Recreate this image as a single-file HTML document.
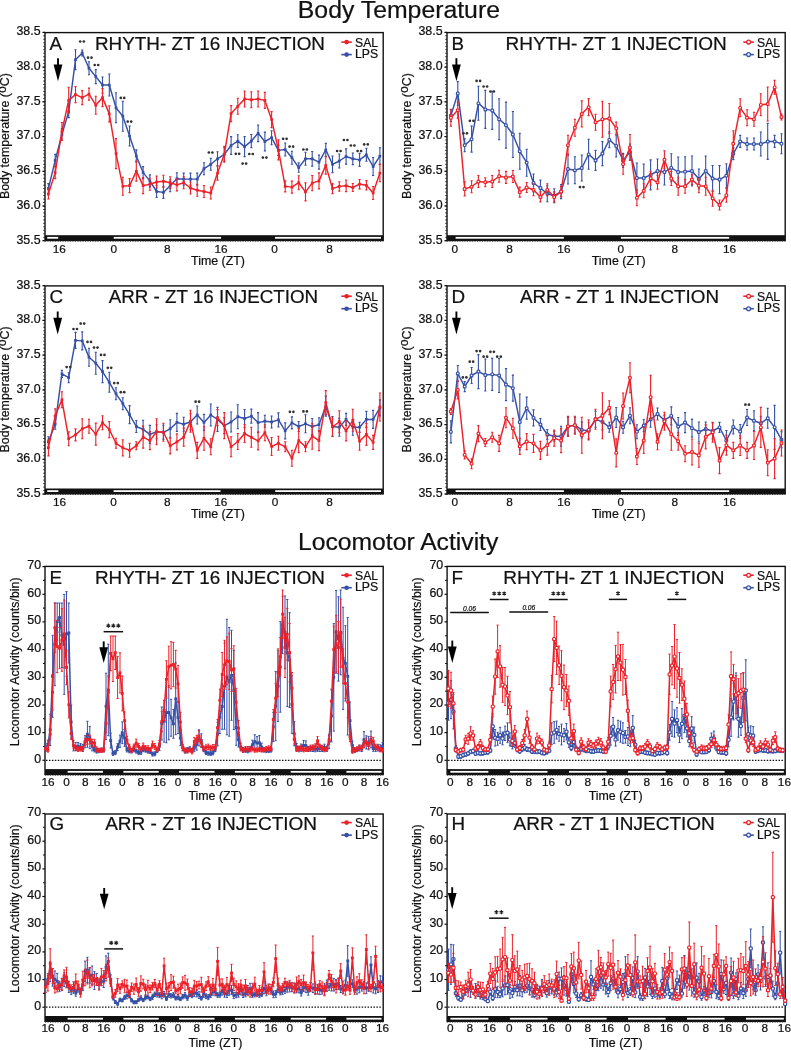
<!DOCTYPE html>
<html><head><meta charset="utf-8"><style>
html,body{margin:0;padding:0;background:#fff;}
svg{display:block;filter:blur(0.3px);}
text{font-family:"Liberation Sans", sans-serif;fill:#111;stroke:#111;stroke-width:0.22px;}
</style></head><body>
<svg width="791" height="1050" viewBox="0 0 791 1050">
<rect width="791" height="1050" fill="#fff"/>
<text x="297.8" y="17.8" font-size="24.8" text-anchor="start" >Body Temperature</text>
<text x="298.0" y="549.7" font-size="24.7" text-anchor="start" >Locomotor Activity</text>
<rect x="45" y="32.6" width="338.2" height="207.9" fill="none" stroke="#111" stroke-width="1.4"/>
<path d="M43.3,240.7H45M43.3,237.3H45M43.3,233.8H45M43.3,230.3H45M43.3,226.8H45M43.3,223.4H45M43.3,219.9H45M43.3,216.4H45M43.3,212.9H45M43.3,209.5H45M43.3,206.0H45M43.3,202.5H45M43.3,199.1H45M43.3,195.6H45M43.3,192.1H45M43.3,188.6H45M43.3,185.2H45M43.3,181.7H45M43.3,178.2H45M43.3,174.7H45M43.3,171.3H45M43.3,167.8H45M43.3,164.3H45M43.3,160.9H45M43.3,157.4H45M43.3,153.9H45M43.3,150.4H45M43.3,147.0H45M43.3,143.5H45M43.3,140.0H45M43.3,136.6H45M43.3,133.1H45M43.3,129.6H45M43.3,126.1H45M43.3,122.7H45M43.3,119.2H45M43.3,115.7H45M43.3,112.2H45M43.3,108.8H45M43.3,105.3H45M43.3,101.8H45M43.3,98.4H45M43.3,94.9H45M43.3,91.4H45M43.3,87.9H45M43.3,84.5H45M43.3,81.0H45M43.3,77.5H45M43.3,74.0H45M43.3,70.6H45M43.3,67.1H45M43.3,63.6H45M43.3,60.2H45M43.3,56.7H45M43.3,53.2H45M43.3,49.7H45M43.3,46.3H45M43.3,42.8H45M43.3,39.3H45M43.3,35.8H45M43.3,32.4H45" stroke="#222" stroke-width="1"/>
<line x1="42.4" y1="240.7" x2="45" y2="240.7" stroke="#111" stroke-width="1.2"/>
<text x="40.6" y="243.5" font-size="12.4" text-anchor="end" >35.5</text>
<line x1="42.4" y1="206.0" x2="45" y2="206.0" stroke="#111" stroke-width="1.2"/>
<text x="40.6" y="208.8" font-size="12.4" text-anchor="end" >36.0</text>
<line x1="42.4" y1="171.3" x2="45" y2="171.3" stroke="#111" stroke-width="1.2"/>
<text x="40.6" y="174.1" font-size="12.4" text-anchor="end" >36.5</text>
<line x1="42.4" y1="136.6" x2="45" y2="136.6" stroke="#111" stroke-width="1.2"/>
<text x="40.6" y="139.4" font-size="12.4" text-anchor="end" >37.0</text>
<line x1="42.4" y1="101.8" x2="45" y2="101.8" stroke="#111" stroke-width="1.2"/>
<text x="40.6" y="104.6" font-size="12.4" text-anchor="end" >37.5</text>
<line x1="42.4" y1="67.1" x2="45" y2="67.1" stroke="#111" stroke-width="1.2"/>
<text x="40.6" y="69.9" font-size="12.4" text-anchor="end" >38.0</text>
<line x1="42.4" y1="32.4" x2="45" y2="32.4" stroke="#111" stroke-width="1.2"/>
<text x="40.6" y="35.2" font-size="12.4" text-anchor="end" >38.5</text>
<text transform="translate(8.8,136.1) rotate(-90)" x="0" y="0" font-size="12.4" text-anchor="middle">Body temperature (<tspan dy="-2.7">o</tspan><tspan dy="2.7">C)</tspan></text>
<rect x="45" y="235.2" width="338.2" height="5.3" fill="#111"/>
<rect x="47.2" y="236.9" width="11.0" height="1.8" fill="#fff"/>
<rect x="113.7" y="236.9" width="107.4" height="1.8" fill="#fff"/>
<rect x="275.0" y="236.9" width="106.0" height="1.8" fill="#fff"/>
<line x1="45" y1="241.1" x2="383.2" y2="241.1" stroke="#333" stroke-width="1" stroke-dasharray="1 1.5"/>
<text x="59.3" y="252.7" font-size="11.8" text-anchor="middle" >16</text>
<text x="113.7" y="252.7" font-size="11.8" text-anchor="middle" >0</text>
<text x="167.4" y="252.7" font-size="11.8" text-anchor="middle" >8</text>
<text x="221.1" y="252.7" font-size="11.8" text-anchor="middle" >16</text>
<text x="274.5" y="252.7" font-size="11.8" text-anchor="middle" >0</text>
<text x="329.5" y="252.7" font-size="11.8" text-anchor="middle" >8</text>
<text x="218.0" y="264.8" font-size="12.4" text-anchor="middle" >Time (ZT)</text>
<text x="95.0" y="49.5" font-size="18.85" text-anchor="start" >RHYTH- ZT 16 INJECTION</text>
<text x="49.5" y="49.5" font-size="18.8" text-anchor="start" >A</text>
<line x1="341.3" y1="42.1" x2="351.8" y2="42.1" stroke="#ec2129" stroke-width="1.6"/>
<circle cx="346.6" cy="42.1" r="2.3" fill="#ec2129"/>
<text x="355.0" y="46.6" font-size="12.2" text-anchor="start" >SAL</text>
<line x1="341.3" y1="54.6" x2="351.8" y2="54.6" stroke="#3550a6" stroke-width="1.6"/>
<circle cx="346.6" cy="54.6" r="2.3" fill="#3550a6"/>
<text x="355.0" y="58.3" font-size="12.2" text-anchor="start" >LPS</text>
<line x1="58" y1="58.2" x2="58" y2="66.10000000000001" stroke="#000" stroke-width="1.9"/>
<path d="M53.6,64.4 L62.4,64.4 L58,81.2 Z" fill="#000"/>
<path d="M48.4,183.6V193.6M47.3,183.6h2.2M47.3,193.6h2.2M55.2,154.4V166.4M54.1,154.4h2.2M54.1,166.4h2.2M61.9,128.5V140.5M60.8,128.5h2.2M60.8,140.5h2.2M68.7,105.6V117.6M67.6,105.6h2.2M67.6,117.6h2.2M75.5,49.8V69.8M74.4,49.8h2.2M74.4,69.8h2.2M82.2,50.0V56.0M81.1,50.0h2.2M81.1,56.0h2.2M89.0,61.7V74.7M87.9,61.7h2.2M87.9,74.7h2.2M95.8,69.6V83.6M94.7,69.6h2.2M94.7,83.6h2.2M102.5,77.0V93.0M101.4,77.0h2.2M101.4,93.0h2.2M109.3,74.0V96.0M108.2,74.0h2.2M108.2,96.0h2.2M116.0,92.8V122.8M114.9,92.8h2.2M114.9,122.8h2.2M122.8,101.2V131.2M121.7,101.2h2.2M121.7,131.2h2.2M129.6,126.0V146.0M128.5,126.0h2.2M128.5,146.0h2.2M136.3,149.9V161.9M135.2,149.9h2.2M135.2,161.9h2.2M143.1,166.6V178.6M142.0,166.6h2.2M142.0,178.6h2.2M149.9,174.9V186.9M148.8,174.9h2.2M148.8,186.9h2.2M156.6,185.5V197.5M155.5,185.5h2.2M155.5,197.5h2.2M163.4,186.4V198.4M162.3,186.4h2.2M162.3,198.4h2.2M170.2,179.8V191.8M169.1,179.8h2.2M169.1,191.8h2.2M176.9,172.7V184.7M175.8,172.7h2.2M175.8,184.7h2.2M183.7,173.1V185.1M182.6,173.1h2.2M182.6,185.1h2.2M190.5,173.1V185.1M189.4,173.1h2.2M189.4,185.1h2.2M197.2,173.1V185.1M196.1,173.1h2.2M196.1,185.1h2.2M204.0,162.7V174.7M202.9,162.7h2.2M202.9,174.7h2.2M210.8,158.3V170.3M209.7,158.3h2.2M209.7,170.3h2.2M217.5,151.8V165.8M216.4,151.8h2.2M216.4,165.8h2.2M224.3,147.3V161.3M223.2,147.3h2.2M223.2,161.3h2.2M231.1,136.6V154.4M230.0,136.6h2.2M230.0,154.4h2.2M237.8,134.8V147.4M236.7,134.8h2.2M236.7,147.4h2.2M244.6,136.6V156.6M243.5,136.6h2.2M243.5,156.6h2.2M251.3,134.5V147.7M250.2,134.5h2.2M250.2,147.7h2.2M258.1,125.0V141.6M257.0,125.0h2.2M257.0,141.6h2.2M264.9,132.1V150.9M263.8,132.1h2.2M263.8,150.9h2.2M271.6,130.7V144.7M270.5,130.7h2.2M270.5,144.7h2.2M278.4,145.4V155.4M277.3,145.4h2.2M277.3,155.4h2.2M285.2,143.0V156.0M284.1,143.0h2.2M284.1,156.0h2.2M291.9,151.2V164.2M290.8,151.2h2.2M290.8,164.2h2.2M298.7,162.9V172.3M297.6,162.9h2.2M297.6,172.3h2.2M305.5,152.3V165.3M304.4,152.3h2.2M304.4,165.3h2.2M312.2,151.5V166.1M311.1,151.5h2.2M311.1,166.1h2.2M319.0,155.1V169.1M317.9,155.1h2.2M317.9,169.1h2.2M325.8,143.4V156.4M324.7,143.4h2.2M324.7,156.4h2.2M332.5,156.0V172.6M331.4,156.0h2.2M331.4,172.6h2.2M339.3,154.0V168.0M338.2,154.0h2.2M338.2,168.0h2.2M346.1,148.9V164.1M345.0,148.9h2.2M345.0,164.1h2.2M352.8,153.0V164.6M351.7,153.0h2.2M351.7,164.6h2.2M359.6,153.4V166.4M358.5,153.4h2.2M358.5,166.4h2.2M366.4,148.3V161.3M365.3,148.3h2.2M365.3,161.3h2.2M373.1,157.5V175.5M372.0,157.5h2.2M372.0,175.5h2.2M379.9,147.8V164.4M378.8,147.8h2.2M378.8,164.4h2.2" stroke="#3550a6" stroke-width="1.1" fill="none"/>
<path d="M48.4,188.6 L55.2,160.4 L61.9,134.5 L68.7,111.6 L75.5,59.8 L82.2,53.0 L89.0,68.2 L95.8,76.6 L102.5,85.0 L109.3,85.0 L116.0,107.8 L122.8,116.2 L129.6,136.0 L136.3,155.9 L143.1,172.6 L149.9,180.9 L156.6,191.5 L163.4,192.4 L170.2,185.8 L176.9,178.7 L183.7,179.1 L190.5,179.1 L197.2,179.1 L204.0,168.7 L210.8,164.3 L217.5,158.8 L224.3,154.3 L231.1,145.5 L237.8,141.1 L244.6,146.6 L251.3,141.1 L258.1,133.3 L264.9,141.5 L271.6,137.7 L278.4,150.4 L285.2,149.5 L291.9,157.7 L298.7,167.6 L305.5,158.8 L312.2,158.8 L319.0,162.1 L325.8,149.9 L332.5,164.3 L339.3,161.0 L346.1,156.5 L352.8,158.8 L359.6,159.9 L366.4,154.8 L373.1,166.5 L379.9,156.1" stroke="#3550a6" stroke-width="1.45" fill="none" stroke-linejoin="round"/>
<rect x="47.0" y="187.2" width="2.7" height="2.7" fill="#3550a6"/>
<rect x="53.8" y="159.1" width="2.7" height="2.7" fill="#3550a6"/>
<rect x="60.6" y="133.2" width="2.7" height="2.7" fill="#3550a6"/>
<rect x="67.3" y="110.2" width="2.7" height="2.7" fill="#3550a6"/>
<rect x="74.1" y="58.4" width="2.7" height="2.7" fill="#3550a6"/>
<rect x="80.9" y="51.6" width="2.7" height="2.7" fill="#3550a6"/>
<rect x="87.6" y="66.9" width="2.7" height="2.7" fill="#3550a6"/>
<rect x="94.4" y="75.2" width="2.7" height="2.7" fill="#3550a6"/>
<rect x="101.2" y="83.7" width="2.7" height="2.7" fill="#3550a6"/>
<rect x="107.9" y="83.7" width="2.7" height="2.7" fill="#3550a6"/>
<rect x="114.7" y="106.5" width="2.7" height="2.7" fill="#3550a6"/>
<rect x="121.5" y="114.9" width="2.7" height="2.7" fill="#3550a6"/>
<rect x="128.2" y="134.7" width="2.7" height="2.7" fill="#3550a6"/>
<rect x="135.0" y="154.6" width="2.7" height="2.7" fill="#3550a6"/>
<rect x="141.8" y="171.2" width="2.7" height="2.7" fill="#3550a6"/>
<rect x="148.5" y="179.6" width="2.7" height="2.7" fill="#3550a6"/>
<rect x="155.3" y="190.2" width="2.7" height="2.7" fill="#3550a6"/>
<rect x="162.1" y="191.1" width="2.7" height="2.7" fill="#3550a6"/>
<rect x="168.8" y="184.5" width="2.7" height="2.7" fill="#3550a6"/>
<rect x="175.6" y="177.3" width="2.7" height="2.7" fill="#3550a6"/>
<rect x="182.3" y="177.8" width="2.7" height="2.7" fill="#3550a6"/>
<rect x="189.1" y="177.8" width="2.7" height="2.7" fill="#3550a6"/>
<rect x="195.9" y="177.8" width="2.7" height="2.7" fill="#3550a6"/>
<rect x="202.6" y="167.3" width="2.7" height="2.7" fill="#3550a6"/>
<rect x="209.4" y="163.0" width="2.7" height="2.7" fill="#3550a6"/>
<rect x="216.2" y="157.5" width="2.7" height="2.7" fill="#3550a6"/>
<rect x="222.9" y="153.0" width="2.7" height="2.7" fill="#3550a6"/>
<rect x="229.7" y="144.2" width="2.7" height="2.7" fill="#3550a6"/>
<rect x="236.5" y="139.8" width="2.7" height="2.7" fill="#3550a6"/>
<rect x="243.2" y="145.2" width="2.7" height="2.7" fill="#3550a6"/>
<rect x="250.0" y="139.8" width="2.7" height="2.7" fill="#3550a6"/>
<rect x="256.8" y="132.0" width="2.7" height="2.7" fill="#3550a6"/>
<rect x="263.5" y="140.2" width="2.7" height="2.7" fill="#3550a6"/>
<rect x="270.3" y="136.3" width="2.7" height="2.7" fill="#3550a6"/>
<rect x="277.1" y="149.1" width="2.7" height="2.7" fill="#3550a6"/>
<rect x="283.8" y="148.2" width="2.7" height="2.7" fill="#3550a6"/>
<rect x="290.6" y="156.3" width="2.7" height="2.7" fill="#3550a6"/>
<rect x="297.4" y="166.2" width="2.7" height="2.7" fill="#3550a6"/>
<rect x="304.1" y="157.5" width="2.7" height="2.7" fill="#3550a6"/>
<rect x="310.9" y="157.5" width="2.7" height="2.7" fill="#3550a6"/>
<rect x="317.6" y="160.8" width="2.7" height="2.7" fill="#3550a6"/>
<rect x="324.4" y="148.6" width="2.7" height="2.7" fill="#3550a6"/>
<rect x="331.2" y="163.0" width="2.7" height="2.7" fill="#3550a6"/>
<rect x="337.9" y="159.7" width="2.7" height="2.7" fill="#3550a6"/>
<rect x="344.7" y="155.2" width="2.7" height="2.7" fill="#3550a6"/>
<rect x="351.5" y="157.5" width="2.7" height="2.7" fill="#3550a6"/>
<rect x="358.2" y="158.6" width="2.7" height="2.7" fill="#3550a6"/>
<rect x="365.0" y="153.5" width="2.7" height="2.7" fill="#3550a6"/>
<rect x="371.8" y="165.2" width="2.7" height="2.7" fill="#3550a6"/>
<rect x="378.5" y="154.8" width="2.7" height="2.7" fill="#3550a6"/>
<path d="M48.4,189.0V199.0M47.3,189.0h2.2M47.3,199.0h2.2M55.2,166.6V178.6M54.1,166.6h2.2M54.1,178.6h2.2M61.9,122.5V140.5M60.8,122.5h2.2M60.8,140.5h2.2M68.7,87.2V113.2M67.6,87.2h2.2M67.6,113.2h2.2M75.5,86.6V102.6M74.4,86.6h2.2M74.4,102.6h2.2M82.2,90.6V104.6M81.1,90.6h2.2M81.1,104.6h2.2M89.0,88.1V100.1M87.9,88.1h2.2M87.9,100.1h2.2M95.8,96.2V114.2M94.7,96.2h2.2M94.7,114.2h2.2M102.5,88.6V106.6M101.4,88.6h2.2M101.4,106.6h2.2M109.3,105.9V121.9M108.2,105.9h2.2M108.2,121.9h2.2M116.0,138.6V168.6M114.9,138.6h2.2M114.9,168.6h2.2M122.8,177.3V195.3M121.7,177.3h2.2M121.7,195.3h2.2M129.6,178.6V192.6M128.5,178.6h2.2M128.5,192.6h2.2M136.3,161.1V181.1M135.2,161.1h2.2M135.2,181.1h2.2M143.1,177.6V193.6M142.0,177.6h2.2M142.0,193.6h2.2M149.9,178.2V190.2M148.8,178.2h2.2M148.8,190.2h2.2M156.6,176.0V188.0M155.5,176.0h2.2M155.5,188.0h2.2M163.4,175.3V187.3M162.3,175.3h2.2M162.3,187.3h2.2M170.2,176.7V188.7M169.1,176.7h2.2M169.1,188.7h2.2M176.9,178.9V190.9M175.8,178.9h2.2M175.8,190.9h2.2M183.7,176.7V188.7M182.6,176.7h2.2M182.6,188.7h2.2M190.5,182.0V194.0M189.4,182.0h2.2M189.4,194.0h2.2M197.2,184.2V196.2M196.1,184.2h2.2M196.1,196.2h2.2M204.0,185.5V197.5M202.9,185.5h2.2M202.9,197.5h2.2M210.8,187.0V199.0M209.7,187.0h2.2M209.7,199.0h2.2M217.5,166.1V180.1M216.4,166.1h2.2M216.4,180.1h2.2M224.3,146.3V162.3M223.2,146.3h2.2M223.2,162.3h2.2M231.1,105.6V121.6M230.0,105.6h2.2M230.0,121.6h2.2M237.8,98.3V114.3M236.7,98.3h2.2M236.7,114.3h2.2M244.6,91.0V107.0M243.5,91.0h2.2M243.5,107.0h2.2M251.3,91.7V107.7M250.2,91.7h2.2M250.2,107.7h2.2M258.1,91.0V107.0M257.0,91.0h2.2M257.0,107.0h2.2M264.9,92.4V108.4M263.8,92.4h2.2M263.8,108.4h2.2M271.6,111.6V127.6M270.5,111.6h2.2M270.5,127.6h2.2M278.4,139.9V159.9M277.3,139.9h2.2M277.3,159.9h2.2M285.2,180.9V191.9M284.1,180.9h2.2M284.1,191.9h2.2M291.9,181.1V193.1M290.8,181.1h2.2M290.8,193.1h2.2M298.7,175.7V189.7M297.6,175.7h2.2M297.6,189.7h2.2M305.5,182.9V200.9M304.4,182.9h2.2M304.4,200.9h2.2M312.2,175.5V190.7M311.1,175.5h2.2M311.1,190.7h2.2M319.0,172.9V188.9M317.9,172.9h2.2M317.9,188.9h2.2M325.8,156.7V174.1M324.7,156.7h2.2M324.7,174.1h2.2M332.5,183.6V193.6M331.4,183.6h2.2M331.4,193.6h2.2M339.3,181.7V191.1M338.2,181.7h2.2M338.2,191.1h2.2M346.1,180.0V191.6M345.0,180.0h2.2M345.0,191.6h2.2M352.8,183.5V191.5M351.7,183.5h2.2M351.7,191.5h2.2M359.6,179.5V188.9M358.5,179.5h2.2M358.5,188.9h2.2M366.4,180.6V190.0M365.3,180.6h2.2M365.3,190.0h2.2M373.1,186.5V199.5M372.0,186.5h2.2M372.0,199.5h2.2M379.9,164.4V181.8M378.8,164.4h2.2M378.8,181.8h2.2" stroke="#ec2129" stroke-width="1.1" fill="none"/>
<path d="M48.4,194.0 L55.2,172.6 L61.9,131.5 L68.7,100.2 L75.5,94.6 L82.2,97.6 L89.0,94.1 L95.8,105.2 L102.5,97.6 L109.3,113.9 L116.0,153.6 L122.8,186.3 L129.6,185.6 L136.3,171.1 L143.1,185.6 L149.9,184.2 L156.6,182.0 L163.4,181.3 L170.2,182.7 L176.9,184.9 L183.7,182.7 L190.5,188.0 L197.2,190.2 L204.0,191.5 L210.8,193.0 L217.5,173.1 L224.3,154.3 L231.1,113.6 L237.8,106.3 L244.6,99.0 L251.3,99.7 L258.1,99.0 L264.9,100.4 L271.6,119.6 L278.4,149.9 L285.2,186.4 L291.9,187.1 L298.7,182.7 L305.5,191.9 L312.2,183.1 L319.0,180.9 L325.8,165.4 L332.5,188.6 L339.3,186.4 L346.1,185.8 L352.8,187.5 L359.6,184.2 L366.4,185.3 L373.1,193.0 L379.9,173.1" stroke="#ec2129" stroke-width="1.45" fill="none" stroke-linejoin="round"/>
<rect x="47.0" y="192.7" width="2.7" height="2.7" fill="#ec2129"/>
<rect x="53.8" y="171.2" width="2.7" height="2.7" fill="#ec2129"/>
<rect x="60.6" y="130.2" width="2.7" height="2.7" fill="#ec2129"/>
<rect x="67.3" y="98.9" width="2.7" height="2.7" fill="#ec2129"/>
<rect x="74.1" y="93.2" width="2.7" height="2.7" fill="#ec2129"/>
<rect x="80.9" y="96.2" width="2.7" height="2.7" fill="#ec2129"/>
<rect x="87.6" y="92.8" width="2.7" height="2.7" fill="#ec2129"/>
<rect x="94.4" y="103.9" width="2.7" height="2.7" fill="#ec2129"/>
<rect x="101.2" y="96.2" width="2.7" height="2.7" fill="#ec2129"/>
<rect x="107.9" y="112.6" width="2.7" height="2.7" fill="#ec2129"/>
<rect x="114.7" y="152.2" width="2.7" height="2.7" fill="#ec2129"/>
<rect x="121.5" y="185.0" width="2.7" height="2.7" fill="#ec2129"/>
<rect x="128.2" y="184.2" width="2.7" height="2.7" fill="#ec2129"/>
<rect x="135.0" y="169.8" width="2.7" height="2.7" fill="#ec2129"/>
<rect x="141.8" y="184.2" width="2.7" height="2.7" fill="#ec2129"/>
<rect x="148.5" y="182.8" width="2.7" height="2.7" fill="#ec2129"/>
<rect x="155.3" y="180.7" width="2.7" height="2.7" fill="#ec2129"/>
<rect x="162.1" y="180.0" width="2.7" height="2.7" fill="#ec2129"/>
<rect x="168.8" y="181.3" width="2.7" height="2.7" fill="#ec2129"/>
<rect x="175.6" y="183.6" width="2.7" height="2.7" fill="#ec2129"/>
<rect x="182.3" y="181.3" width="2.7" height="2.7" fill="#ec2129"/>
<rect x="189.1" y="186.7" width="2.7" height="2.7" fill="#ec2129"/>
<rect x="195.9" y="188.8" width="2.7" height="2.7" fill="#ec2129"/>
<rect x="202.6" y="190.2" width="2.7" height="2.7" fill="#ec2129"/>
<rect x="209.4" y="191.7" width="2.7" height="2.7" fill="#ec2129"/>
<rect x="216.2" y="171.8" width="2.7" height="2.7" fill="#ec2129"/>
<rect x="222.9" y="153.0" width="2.7" height="2.7" fill="#ec2129"/>
<rect x="229.7" y="112.2" width="2.7" height="2.7" fill="#ec2129"/>
<rect x="236.5" y="105.0" width="2.7" height="2.7" fill="#ec2129"/>
<rect x="243.2" y="97.7" width="2.7" height="2.7" fill="#ec2129"/>
<rect x="250.0" y="98.4" width="2.7" height="2.7" fill="#ec2129"/>
<rect x="256.8" y="97.7" width="2.7" height="2.7" fill="#ec2129"/>
<rect x="263.5" y="99.1" width="2.7" height="2.7" fill="#ec2129"/>
<rect x="270.3" y="118.2" width="2.7" height="2.7" fill="#ec2129"/>
<rect x="277.1" y="148.6" width="2.7" height="2.7" fill="#ec2129"/>
<rect x="283.8" y="185.1" width="2.7" height="2.7" fill="#ec2129"/>
<rect x="290.6" y="185.8" width="2.7" height="2.7" fill="#ec2129"/>
<rect x="297.4" y="181.3" width="2.7" height="2.7" fill="#ec2129"/>
<rect x="304.1" y="190.6" width="2.7" height="2.7" fill="#ec2129"/>
<rect x="310.9" y="181.8" width="2.7" height="2.7" fill="#ec2129"/>
<rect x="317.6" y="179.6" width="2.7" height="2.7" fill="#ec2129"/>
<rect x="324.4" y="164.1" width="2.7" height="2.7" fill="#ec2129"/>
<rect x="331.2" y="187.2" width="2.7" height="2.7" fill="#ec2129"/>
<rect x="337.9" y="185.1" width="2.7" height="2.7" fill="#ec2129"/>
<rect x="344.7" y="184.5" width="2.7" height="2.7" fill="#ec2129"/>
<rect x="351.5" y="186.2" width="2.7" height="2.7" fill="#ec2129"/>
<rect x="358.2" y="182.8" width="2.7" height="2.7" fill="#ec2129"/>
<rect x="365.0" y="184.0" width="2.7" height="2.7" fill="#ec2129"/>
<rect x="371.8" y="191.7" width="2.7" height="2.7" fill="#ec2129"/>
<rect x="378.5" y="171.8" width="2.7" height="2.7" fill="#ec2129"/>
<circle cx="80.2" cy="41.5" r="1.35" fill="#333"/>
<circle cx="83.8" cy="41.5" r="1.35" fill="#333"/>
<circle cx="88.0" cy="57.7" r="1.35" fill="#333"/>
<circle cx="91.5" cy="57.7" r="1.35" fill="#333"/>
<circle cx="94.7" cy="65.0" r="1.35" fill="#333"/>
<circle cx="98.2" cy="65.0" r="1.35" fill="#333"/>
<circle cx="120.8" cy="97.9" r="1.35" fill="#333"/>
<circle cx="124.2" cy="97.9" r="1.35" fill="#333"/>
<circle cx="127.7" cy="121.6" r="1.35" fill="#333"/>
<circle cx="131.2" cy="121.6" r="1.35" fill="#333"/>
<circle cx="208.9" cy="152.5" r="1.35" fill="#333"/>
<circle cx="212.4" cy="152.5" r="1.35" fill="#333"/>
<circle cx="235.8" cy="153.8" r="1.35" fill="#333"/>
<circle cx="239.2" cy="153.8" r="1.35" fill="#333"/>
<circle cx="242.6" cy="163.6" r="1.35" fill="#333"/>
<circle cx="246.1" cy="163.6" r="1.35" fill="#333"/>
<circle cx="249.3" cy="154.0" r="1.35" fill="#333"/>
<circle cx="252.8" cy="154.0" r="1.35" fill="#333"/>
<circle cx="262.9" cy="157.6" r="1.35" fill="#333"/>
<circle cx="266.4" cy="157.6" r="1.35" fill="#333"/>
<circle cx="283.1" cy="138.8" r="1.35" fill="#333"/>
<circle cx="286.6" cy="138.8" r="1.35" fill="#333"/>
<circle cx="289.6" cy="146.6" r="1.35" fill="#333"/>
<circle cx="293.1" cy="146.6" r="1.35" fill="#333"/>
<circle cx="303.4" cy="149.5" r="1.35" fill="#333"/>
<circle cx="306.9" cy="149.5" r="1.35" fill="#333"/>
<circle cx="337.1" cy="151.0" r="1.35" fill="#333"/>
<circle cx="340.6" cy="151.0" r="1.35" fill="#333"/>
<circle cx="343.9" cy="140.0" r="1.35" fill="#333"/>
<circle cx="347.4" cy="140.0" r="1.35" fill="#333"/>
<circle cx="350.9" cy="145.5" r="1.35" fill="#333"/>
<circle cx="354.4" cy="145.5" r="1.35" fill="#333"/>
<circle cx="357.6" cy="151.0" r="1.35" fill="#333"/>
<circle cx="361.1" cy="151.0" r="1.35" fill="#333"/>
<circle cx="364.2" cy="144.4" r="1.35" fill="#333"/>
<circle cx="367.8" cy="144.4" r="1.35" fill="#333"/>
<rect x="447.0" y="32.6" width="338.20000000000005" height="207.9" fill="none" stroke="#111" stroke-width="1.4"/>
<path d="M445.3,240.7H447.0M445.3,237.3H447.0M445.3,233.8H447.0M445.3,230.3H447.0M445.3,226.8H447.0M445.3,223.4H447.0M445.3,219.9H447.0M445.3,216.4H447.0M445.3,212.9H447.0M445.3,209.5H447.0M445.3,206.0H447.0M445.3,202.5H447.0M445.3,199.1H447.0M445.3,195.6H447.0M445.3,192.1H447.0M445.3,188.6H447.0M445.3,185.2H447.0M445.3,181.7H447.0M445.3,178.2H447.0M445.3,174.7H447.0M445.3,171.3H447.0M445.3,167.8H447.0M445.3,164.3H447.0M445.3,160.9H447.0M445.3,157.4H447.0M445.3,153.9H447.0M445.3,150.4H447.0M445.3,147.0H447.0M445.3,143.5H447.0M445.3,140.0H447.0M445.3,136.6H447.0M445.3,133.1H447.0M445.3,129.6H447.0M445.3,126.1H447.0M445.3,122.7H447.0M445.3,119.2H447.0M445.3,115.7H447.0M445.3,112.2H447.0M445.3,108.8H447.0M445.3,105.3H447.0M445.3,101.8H447.0M445.3,98.4H447.0M445.3,94.9H447.0M445.3,91.4H447.0M445.3,87.9H447.0M445.3,84.5H447.0M445.3,81.0H447.0M445.3,77.5H447.0M445.3,74.0H447.0M445.3,70.6H447.0M445.3,67.1H447.0M445.3,63.6H447.0M445.3,60.2H447.0M445.3,56.7H447.0M445.3,53.2H447.0M445.3,49.7H447.0M445.3,46.3H447.0M445.3,42.8H447.0M445.3,39.3H447.0M445.3,35.8H447.0M445.3,32.4H447.0" stroke="#222" stroke-width="1"/>
<line x1="444.4" y1="240.7" x2="447.0" y2="240.7" stroke="#111" stroke-width="1.2"/>
<text x="442.6" y="243.5" font-size="12.4" text-anchor="end" >35.5</text>
<line x1="444.4" y1="206.0" x2="447.0" y2="206.0" stroke="#111" stroke-width="1.2"/>
<text x="442.6" y="208.8" font-size="12.4" text-anchor="end" >36.0</text>
<line x1="444.4" y1="171.3" x2="447.0" y2="171.3" stroke="#111" stroke-width="1.2"/>
<text x="442.6" y="174.1" font-size="12.4" text-anchor="end" >36.5</text>
<line x1="444.4" y1="136.6" x2="447.0" y2="136.6" stroke="#111" stroke-width="1.2"/>
<text x="442.6" y="139.4" font-size="12.4" text-anchor="end" >37.0</text>
<line x1="444.4" y1="101.8" x2="447.0" y2="101.8" stroke="#111" stroke-width="1.2"/>
<text x="442.6" y="104.6" font-size="12.4" text-anchor="end" >37.5</text>
<line x1="444.4" y1="67.1" x2="447.0" y2="67.1" stroke="#111" stroke-width="1.2"/>
<text x="442.6" y="69.9" font-size="12.4" text-anchor="end" >38.0</text>
<line x1="444.4" y1="32.4" x2="447.0" y2="32.4" stroke="#111" stroke-width="1.2"/>
<text x="442.6" y="35.2" font-size="12.4" text-anchor="end" >38.5</text>
<text transform="translate(410.8,136.1) rotate(-90)" x="0" y="0" font-size="12.4" text-anchor="middle">Body temperature (<tspan dy="-2.7">o</tspan><tspan dy="2.7">C)</tspan></text>
<rect x="447.0" y="235.2" width="338.20000000000005" height="5.3" fill="#111"/>
<rect x="455.6" y="236.9" width="108.3" height="1.8" fill="#fff"/>
<rect x="620.9" y="236.9" width="108.3" height="1.8" fill="#fff"/>
<line x1="447.0" y1="241.1" x2="785.2" y2="241.1" stroke="#333" stroke-width="1" stroke-dasharray="1 1.5"/>
<text x="454.9" y="252.7" font-size="11.8" text-anchor="middle" >0</text>
<text x="509.6" y="252.7" font-size="11.8" text-anchor="middle" >8</text>
<text x="563.9" y="252.7" font-size="11.8" text-anchor="middle" >16</text>
<text x="620.7" y="252.7" font-size="11.8" text-anchor="middle" >0</text>
<text x="674.9" y="252.7" font-size="11.8" text-anchor="middle" >8</text>
<text x="729.6" y="252.7" font-size="11.8" text-anchor="middle" >16</text>
<text x="618.7" y="264.8" font-size="12.4" text-anchor="middle" >Time (ZT)</text>
<text x="505.5" y="49.5" font-size="19.0" text-anchor="start" >RHYTH- ZT 1 INJECTION</text>
<text x="451.5" y="49.5" font-size="18.8" text-anchor="start" >B</text>
<line x1="743.3000000000001" y1="42.1" x2="753.8000000000001" y2="42.1" stroke="#ec2129" stroke-width="1.6"/>
<circle cx="748.6" cy="42.1" r="1.9" fill="#fff" stroke="#ec2129" stroke-width="1.3"/>
<text x="757.0" y="46.6" font-size="12.2" text-anchor="start" >SAL</text>
<line x1="743.3000000000001" y1="54.6" x2="753.8000000000001" y2="54.6" stroke="#3550a6" stroke-width="1.6"/>
<circle cx="748.6" cy="54.6" r="1.9" fill="#fff" stroke="#3550a6" stroke-width="1.3"/>
<text x="757.0" y="58.3" font-size="12.2" text-anchor="start" >LPS</text>
<line x1="456.4" y1="58.2" x2="456.4" y2="66.10000000000001" stroke="#000" stroke-width="1.9"/>
<path d="M452.0,64.4 L460.8,64.4 L456.4,81.2 Z" fill="#000"/>
<path d="M450.9,109.5V121.5M449.8,109.5h2.2M449.8,121.5h2.2M457.8,81.6V105.2M456.7,81.6h2.2M456.7,105.2h2.2M464.7,138.7V151.7M463.6,138.7h2.2M463.6,151.7h2.2M471.6,126.1V152.1M470.5,126.1h2.2M470.5,152.1h2.2M478.4,86.3V120.3M477.3,86.3h2.2M477.3,120.3h2.2M485.3,90.4V128.4M484.2,90.4h2.2M484.2,128.4h2.2M492.2,91.4V129.4M491.1,91.4h2.2M491.1,129.4h2.2M499.1,98.8V139.8M498.0,98.8h2.2M498.0,139.8h2.2M506.0,102.1V148.1M504.9,102.1h2.2M504.9,148.1h2.2M512.9,111.5V157.5M511.8,111.5h2.2M511.8,157.5h2.2M519.8,133.3V169.3M518.7,133.3h2.2M518.7,169.3h2.2M526.7,149.2V176.2M525.6,149.2h2.2M525.6,176.2h2.2M533.5,174.0V192.0M532.4,174.0h2.2M532.4,192.0h2.2M540.4,180.0V196.0M539.3,180.0h2.2M539.3,196.0h2.2M547.3,185.7V201.7M546.2,185.7h2.2M546.2,201.7h2.2M554.2,188.7V202.7M553.1,188.7h2.2M553.1,202.7h2.2M561.1,184.6V198.6M560.0,184.6h2.2M560.0,198.6h2.2M568.0,154.0V184.0M566.9,154.0h2.2M566.9,184.0h2.2M574.9,156.8V183.8M573.8,156.8h2.2M573.8,183.8h2.2M581.8,155.0V181.0M580.7,155.0h2.2M580.7,181.0h2.2M588.6,139.3V169.3M587.5,139.3h2.2M587.5,169.3h2.2M595.5,150.4V170.4M594.4,150.4h2.2M594.4,170.4h2.2M602.4,141.6V165.6M601.3,141.6h2.2M601.3,165.6h2.2M609.3,131.8V147.8M608.2,131.8h2.2M608.2,147.8h2.2M616.2,135.0V157.0M615.1,135.0h2.2M615.1,157.0h2.2M623.1,153.4V167.4M622.0,153.4h2.2M622.0,167.4h2.2M630.0,144.0V160.0M628.9,144.0h2.2M628.9,160.0h2.2M636.9,163.0V193.0M635.8,163.0h2.2M635.8,193.0h2.2M643.8,164.0V192.0M642.6,164.0h2.2M642.6,192.0h2.2M650.6,159.9V189.9M649.5,159.9h2.2M649.5,189.9h2.2M657.5,159.0V183.0M656.4,159.0h2.2M656.4,183.0h2.2M664.4,159.0V185.0M663.3,159.0h2.2M663.3,185.0h2.2M671.3,153.8V181.8M670.2,153.8h2.2M670.2,181.8h2.2M678.2,157.0V187.0M677.1,157.0h2.2M677.1,187.0h2.2M685.1,156.7V186.7M684.0,156.7h2.2M684.0,186.7h2.2M692.0,156.0V186.0M690.9,156.0h2.2M690.9,186.0h2.2M698.9,169.0V189.0M697.8,169.0h2.2M697.8,189.0h2.2M705.7,156.0V186.0M704.6,156.0h2.2M704.6,186.0h2.2M712.6,165.5V191.5M711.5,165.5h2.2M711.5,191.5h2.2M719.5,165.6V193.6M718.4,165.6h2.2M718.4,193.6h2.2M726.4,163.7V187.7M725.3,163.7h2.2M725.3,187.7h2.2M733.3,147.6V159.6M732.2,147.6h2.2M732.2,159.6h2.2M740.2,135.4V147.4M739.1,135.4h2.2M739.1,147.4h2.2M747.1,138.0V150.0M746.0,138.0h2.2M746.0,150.0h2.2M754.0,138.0V150.0M752.9,138.0h2.2M752.9,150.0h2.2M760.8,132.0V156.0M759.7,132.0h2.2M759.7,156.0h2.2M767.7,123.4V159.4M766.6,123.4h2.2M766.6,159.4h2.2M774.6,135.4V147.4M773.5,135.4h2.2M773.5,147.4h2.2M781.5,133.7V153.7M780.4,133.7h2.2M780.4,153.7h2.2" stroke="#3550a6" stroke-width="1.1" fill="none"/>
<path d="M450.9,115.5 L457.8,93.4 L464.7,145.2 L471.6,139.1 L478.4,103.3 L485.3,109.4 L492.2,110.4 L499.1,119.3 L506.0,125.1 L512.9,134.5 L519.8,151.3 L526.7,162.7 L533.5,183.0 L540.4,188.0 L547.3,193.7 L554.2,195.7 L561.1,191.6 L568.0,169.0 L574.9,170.3 L581.8,168.0 L588.6,154.3 L595.5,160.4 L602.4,153.6 L609.3,139.8 L616.2,146.0 L623.1,160.4 L630.0,152.0 L636.9,178.0 L643.8,178.0 L650.6,174.9 L657.5,171.0 L664.4,172.0 L671.3,167.8 L678.2,172.0 L685.1,171.7 L692.0,171.0 L698.9,179.0 L705.7,171.0 L712.6,178.5 L719.5,179.6 L726.4,175.7 L733.3,153.6 L740.2,141.4 L747.1,144.0 L754.0,144.0 L760.8,144.0 L767.7,141.4 L774.6,141.4 L781.5,143.7" stroke="#3550a6" stroke-width="1.45" fill="none" stroke-linejoin="round"/>
<rect x="449.5" y="114.2" width="2.7" height="2.7" rx="0.9" fill="#fff" stroke="#3550a6" stroke-width="1.2"/>
<rect x="456.4" y="92.1" width="2.7" height="2.7" rx="0.9" fill="#fff" stroke="#3550a6" stroke-width="1.2"/>
<rect x="463.3" y="143.8" width="2.7" height="2.7" rx="0.9" fill="#fff" stroke="#3550a6" stroke-width="1.2"/>
<rect x="470.2" y="137.8" width="2.7" height="2.7" rx="0.9" fill="#fff" stroke="#3550a6" stroke-width="1.2"/>
<rect x="477.1" y="102.0" width="2.7" height="2.7" rx="0.9" fill="#fff" stroke="#3550a6" stroke-width="1.2"/>
<rect x="484.0" y="108.1" width="2.7" height="2.7" rx="0.9" fill="#fff" stroke="#3550a6" stroke-width="1.2"/>
<rect x="490.9" y="109.1" width="2.7" height="2.7" rx="0.9" fill="#fff" stroke="#3550a6" stroke-width="1.2"/>
<rect x="497.8" y="118.0" width="2.7" height="2.7" rx="0.9" fill="#fff" stroke="#3550a6" stroke-width="1.2"/>
<rect x="504.6" y="123.8" width="2.7" height="2.7" rx="0.9" fill="#fff" stroke="#3550a6" stroke-width="1.2"/>
<rect x="511.5" y="133.2" width="2.7" height="2.7" rx="0.9" fill="#fff" stroke="#3550a6" stroke-width="1.2"/>
<rect x="518.4" y="150.0" width="2.7" height="2.7" rx="0.9" fill="#fff" stroke="#3550a6" stroke-width="1.2"/>
<rect x="525.3" y="161.3" width="2.7" height="2.7" rx="0.9" fill="#fff" stroke="#3550a6" stroke-width="1.2"/>
<rect x="532.2" y="181.7" width="2.7" height="2.7" rx="0.9" fill="#fff" stroke="#3550a6" stroke-width="1.2"/>
<rect x="539.1" y="186.7" width="2.7" height="2.7" rx="0.9" fill="#fff" stroke="#3550a6" stroke-width="1.2"/>
<rect x="546.0" y="192.3" width="2.7" height="2.7" rx="0.9" fill="#fff" stroke="#3550a6" stroke-width="1.2"/>
<rect x="552.9" y="194.3" width="2.7" height="2.7" rx="0.9" fill="#fff" stroke="#3550a6" stroke-width="1.2"/>
<rect x="559.8" y="190.2" width="2.7" height="2.7" rx="0.9" fill="#fff" stroke="#3550a6" stroke-width="1.2"/>
<rect x="566.6" y="167.7" width="2.7" height="2.7" rx="0.9" fill="#fff" stroke="#3550a6" stroke-width="1.2"/>
<rect x="573.5" y="169.0" width="2.7" height="2.7" rx="0.9" fill="#fff" stroke="#3550a6" stroke-width="1.2"/>
<rect x="580.4" y="166.7" width="2.7" height="2.7" rx="0.9" fill="#fff" stroke="#3550a6" stroke-width="1.2"/>
<rect x="587.3" y="153.0" width="2.7" height="2.7" rx="0.9" fill="#fff" stroke="#3550a6" stroke-width="1.2"/>
<rect x="594.2" y="159.1" width="2.7" height="2.7" rx="0.9" fill="#fff" stroke="#3550a6" stroke-width="1.2"/>
<rect x="601.1" y="152.2" width="2.7" height="2.7" rx="0.9" fill="#fff" stroke="#3550a6" stroke-width="1.2"/>
<rect x="608.0" y="138.5" width="2.7" height="2.7" rx="0.9" fill="#fff" stroke="#3550a6" stroke-width="1.2"/>
<rect x="614.9" y="144.7" width="2.7" height="2.7" rx="0.9" fill="#fff" stroke="#3550a6" stroke-width="1.2"/>
<rect x="621.7" y="159.1" width="2.7" height="2.7" rx="0.9" fill="#fff" stroke="#3550a6" stroke-width="1.2"/>
<rect x="628.6" y="150.7" width="2.7" height="2.7" rx="0.9" fill="#fff" stroke="#3550a6" stroke-width="1.2"/>
<rect x="635.5" y="176.7" width="2.7" height="2.7" rx="0.9" fill="#fff" stroke="#3550a6" stroke-width="1.2"/>
<rect x="642.4" y="176.7" width="2.7" height="2.7" rx="0.9" fill="#fff" stroke="#3550a6" stroke-width="1.2"/>
<rect x="649.3" y="173.6" width="2.7" height="2.7" rx="0.9" fill="#fff" stroke="#3550a6" stroke-width="1.2"/>
<rect x="656.2" y="169.7" width="2.7" height="2.7" rx="0.9" fill="#fff" stroke="#3550a6" stroke-width="1.2"/>
<rect x="663.1" y="170.7" width="2.7" height="2.7" rx="0.9" fill="#fff" stroke="#3550a6" stroke-width="1.2"/>
<rect x="669.9" y="166.5" width="2.7" height="2.7" rx="0.9" fill="#fff" stroke="#3550a6" stroke-width="1.2"/>
<rect x="676.8" y="170.7" width="2.7" height="2.7" rx="0.9" fill="#fff" stroke="#3550a6" stroke-width="1.2"/>
<rect x="683.7" y="170.3" width="2.7" height="2.7" rx="0.9" fill="#fff" stroke="#3550a6" stroke-width="1.2"/>
<rect x="690.6" y="169.7" width="2.7" height="2.7" rx="0.9" fill="#fff" stroke="#3550a6" stroke-width="1.2"/>
<rect x="697.5" y="177.7" width="2.7" height="2.7" rx="0.9" fill="#fff" stroke="#3550a6" stroke-width="1.2"/>
<rect x="704.4" y="169.7" width="2.7" height="2.7" rx="0.9" fill="#fff" stroke="#3550a6" stroke-width="1.2"/>
<rect x="711.3" y="177.2" width="2.7" height="2.7" rx="0.9" fill="#fff" stroke="#3550a6" stroke-width="1.2"/>
<rect x="718.2" y="178.2" width="2.7" height="2.7" rx="0.9" fill="#fff" stroke="#3550a6" stroke-width="1.2"/>
<rect x="725.0" y="174.3" width="2.7" height="2.7" rx="0.9" fill="#fff" stroke="#3550a6" stroke-width="1.2"/>
<rect x="731.9" y="152.2" width="2.7" height="2.7" rx="0.9" fill="#fff" stroke="#3550a6" stroke-width="1.2"/>
<rect x="738.8" y="140.1" width="2.7" height="2.7" rx="0.9" fill="#fff" stroke="#3550a6" stroke-width="1.2"/>
<rect x="745.7" y="142.7" width="2.7" height="2.7" rx="0.9" fill="#fff" stroke="#3550a6" stroke-width="1.2"/>
<rect x="752.6" y="142.7" width="2.7" height="2.7" rx="0.9" fill="#fff" stroke="#3550a6" stroke-width="1.2"/>
<rect x="759.5" y="142.7" width="2.7" height="2.7" rx="0.9" fill="#fff" stroke="#3550a6" stroke-width="1.2"/>
<rect x="766.4" y="140.1" width="2.7" height="2.7" rx="0.9" fill="#fff" stroke="#3550a6" stroke-width="1.2"/>
<rect x="773.3" y="140.1" width="2.7" height="2.7" rx="0.9" fill="#fff" stroke="#3550a6" stroke-width="1.2"/>
<rect x="780.1" y="142.3" width="2.7" height="2.7" rx="0.9" fill="#fff" stroke="#3550a6" stroke-width="1.2"/>
<path d="M450.9,109.3V126.1M449.8,109.3h2.2M449.8,126.1h2.2M457.8,102.1V118.1M456.7,102.1h2.2M456.7,118.1h2.2M464.7,181.9V195.9M463.6,181.9h2.2M463.6,195.9h2.2M471.6,180.8V192.8M470.5,180.8h2.2M470.5,192.8h2.2M478.4,175.5V187.5M477.3,175.5h2.2M477.3,187.5h2.2M485.3,177.7V186.7M484.2,177.7h2.2M484.2,186.7h2.2M492.2,175.5V187.5M491.1,175.5h2.2M491.1,187.5h2.2M499.1,170.2V182.2M498.0,170.2h2.2M498.0,182.2h2.2M506.0,171.4V183.4M504.9,171.4h2.2M504.9,183.4h2.2M512.9,170.5V182.5M511.8,170.5h2.2M511.8,182.5h2.2M519.8,187.1V197.1M518.7,187.1h2.2M518.7,197.1h2.2M526.7,182.5V192.5M525.6,182.5h2.2M525.6,192.5h2.2M533.5,183.8V195.8M532.4,183.8h2.2M532.4,195.8h2.2M540.4,191.9V201.9M539.3,191.9h2.2M539.3,201.9h2.2M547.3,183.8V195.8M546.2,183.8h2.2M546.2,195.8h2.2M554.2,191.9V201.9M553.1,191.9h2.2M553.1,201.9h2.2M561.1,186.6V196.6M560.0,186.6h2.2M560.0,196.6h2.2M568.0,135.2V155.2M566.9,135.2h2.2M566.9,155.2h2.2M574.9,119.2V136.2M573.8,119.2h2.2M573.8,136.2h2.2M581.8,100.9V126.9M580.7,100.9h2.2M580.7,126.9h2.2M588.6,98.6V115.6M587.5,98.6h2.2M587.5,115.6h2.2M595.5,114.3V130.3M594.4,114.3h2.2M594.4,130.3h2.2M602.4,101.3V137.3M601.3,101.3h2.2M601.3,137.3h2.2M609.3,103.5V133.5M608.2,103.5h2.2M608.2,133.5h2.2M616.2,122.1V134.1M615.1,122.1h2.2M615.1,134.1h2.2M623.1,154.2V174.2M622.0,154.2h2.2M622.0,174.2h2.2M630.0,134.5V160.5M628.9,134.5h2.2M628.9,160.5h2.2M636.9,189.8V205.8M635.8,189.8h2.2M635.8,205.8h2.2M643.8,183.8V197.8M642.6,183.8h2.2M642.6,197.8h2.2M650.6,171.3V185.3M649.5,171.3h2.2M649.5,185.3h2.2M657.5,175.3V189.3M656.4,175.3h2.2M656.4,189.3h2.2M664.4,150.7V168.7M663.3,150.7h2.2M663.3,168.7h2.2M671.3,171.5V185.5M670.2,171.5h2.2M670.2,185.5h2.2M678.2,177.3V195.3M677.1,177.3h2.2M677.1,195.3h2.2M685.1,179.3V193.3M684.0,179.3h2.2M684.0,193.3h2.2M692.0,174.6V184.6M690.9,174.6h2.2M690.9,184.6h2.2M698.9,178.7V192.7M697.8,178.7h2.2M697.8,192.7h2.2M705.7,177.3V195.3M704.6,177.3h2.2M704.6,195.3h2.2M712.6,190.3V206.3M711.5,190.3h2.2M711.5,206.3h2.2M719.5,200.0V210.0M718.4,200.0h2.2M718.4,210.0h2.2M726.4,188.3V202.3M725.3,188.3h2.2M725.3,202.3h2.2M733.3,130.7V156.7M732.2,130.7h2.2M732.2,156.7h2.2M740.2,98.8V116.8M739.1,98.8h2.2M739.1,116.8h2.2M747.1,109.7V125.7M746.0,109.7h2.2M746.0,125.7h2.2M754.0,112.3V126.3M752.9,112.3h2.2M752.9,126.3h2.2M760.8,93.8V115.8M759.7,93.8h2.2M759.7,115.8h2.2M767.7,87.0V121.0M766.6,87.0h2.2M766.6,121.0h2.2M774.6,80.3V94.3M773.5,80.3h2.2M773.5,94.3h2.2M781.5,114.0V120.0M780.4,114.0h2.2M780.4,120.0h2.2" stroke="#ec2129" stroke-width="1.1" fill="none"/>
<path d="M450.9,117.7 L457.8,110.1 L464.7,188.9 L471.6,186.8 L478.4,181.5 L485.3,182.2 L492.2,181.5 L499.1,176.2 L506.0,177.4 L512.9,176.5 L519.8,192.1 L526.7,187.5 L533.5,189.8 L540.4,196.9 L547.3,189.8 L554.2,196.9 L561.1,191.6 L568.0,145.2 L574.9,127.7 L581.8,113.9 L588.6,107.1 L595.5,122.3 L602.4,119.3 L609.3,118.5 L616.2,128.1 L623.1,164.2 L630.0,147.5 L636.9,197.8 L643.8,190.8 L650.6,178.3 L657.5,182.3 L664.4,159.7 L671.3,178.5 L678.2,186.3 L685.1,186.3 L692.0,179.6 L698.9,185.7 L705.7,186.3 L712.6,198.3 L719.5,205.0 L726.4,195.3 L733.3,143.7 L740.2,107.8 L747.1,117.7 L754.0,119.3 L760.8,104.8 L767.7,104.0 L774.6,87.3 L781.5,117.0" stroke="#ec2129" stroke-width="1.45" fill="none" stroke-linejoin="round"/>
<rect x="449.5" y="116.4" width="2.7" height="2.7" rx="0.9" fill="#fff" stroke="#ec2129" stroke-width="1.2"/>
<rect x="456.4" y="108.8" width="2.7" height="2.7" rx="0.9" fill="#fff" stroke="#ec2129" stroke-width="1.2"/>
<rect x="463.3" y="187.6" width="2.7" height="2.7" rx="0.9" fill="#fff" stroke="#ec2129" stroke-width="1.2"/>
<rect x="470.2" y="185.5" width="2.7" height="2.7" rx="0.9" fill="#fff" stroke="#ec2129" stroke-width="1.2"/>
<rect x="477.1" y="180.2" width="2.7" height="2.7" rx="0.9" fill="#fff" stroke="#ec2129" stroke-width="1.2"/>
<rect x="484.0" y="180.8" width="2.7" height="2.7" rx="0.9" fill="#fff" stroke="#ec2129" stroke-width="1.2"/>
<rect x="490.9" y="180.2" width="2.7" height="2.7" rx="0.9" fill="#fff" stroke="#ec2129" stroke-width="1.2"/>
<rect x="497.8" y="174.8" width="2.7" height="2.7" rx="0.9" fill="#fff" stroke="#ec2129" stroke-width="1.2"/>
<rect x="504.6" y="176.1" width="2.7" height="2.7" rx="0.9" fill="#fff" stroke="#ec2129" stroke-width="1.2"/>
<rect x="511.5" y="175.2" width="2.7" height="2.7" rx="0.9" fill="#fff" stroke="#ec2129" stroke-width="1.2"/>
<rect x="518.4" y="190.8" width="2.7" height="2.7" rx="0.9" fill="#fff" stroke="#ec2129" stroke-width="1.2"/>
<rect x="525.3" y="186.2" width="2.7" height="2.7" rx="0.9" fill="#fff" stroke="#ec2129" stroke-width="1.2"/>
<rect x="532.2" y="188.5" width="2.7" height="2.7" rx="0.9" fill="#fff" stroke="#ec2129" stroke-width="1.2"/>
<rect x="539.1" y="195.6" width="2.7" height="2.7" rx="0.9" fill="#fff" stroke="#ec2129" stroke-width="1.2"/>
<rect x="546.0" y="188.5" width="2.7" height="2.7" rx="0.9" fill="#fff" stroke="#ec2129" stroke-width="1.2"/>
<rect x="552.9" y="195.6" width="2.7" height="2.7" rx="0.9" fill="#fff" stroke="#ec2129" stroke-width="1.2"/>
<rect x="559.8" y="190.2" width="2.7" height="2.7" rx="0.9" fill="#fff" stroke="#ec2129" stroke-width="1.2"/>
<rect x="566.6" y="143.8" width="2.7" height="2.7" rx="0.9" fill="#fff" stroke="#ec2129" stroke-width="1.2"/>
<rect x="573.5" y="126.4" width="2.7" height="2.7" rx="0.9" fill="#fff" stroke="#ec2129" stroke-width="1.2"/>
<rect x="580.4" y="112.6" width="2.7" height="2.7" rx="0.9" fill="#fff" stroke="#ec2129" stroke-width="1.2"/>
<rect x="587.3" y="105.8" width="2.7" height="2.7" rx="0.9" fill="#fff" stroke="#ec2129" stroke-width="1.2"/>
<rect x="594.2" y="121.0" width="2.7" height="2.7" rx="0.9" fill="#fff" stroke="#ec2129" stroke-width="1.2"/>
<rect x="601.1" y="118.0" width="2.7" height="2.7" rx="0.9" fill="#fff" stroke="#ec2129" stroke-width="1.2"/>
<rect x="608.0" y="117.2" width="2.7" height="2.7" rx="0.9" fill="#fff" stroke="#ec2129" stroke-width="1.2"/>
<rect x="614.9" y="126.8" width="2.7" height="2.7" rx="0.9" fill="#fff" stroke="#ec2129" stroke-width="1.2"/>
<rect x="621.7" y="162.8" width="2.7" height="2.7" rx="0.9" fill="#fff" stroke="#ec2129" stroke-width="1.2"/>
<rect x="628.6" y="146.2" width="2.7" height="2.7" rx="0.9" fill="#fff" stroke="#ec2129" stroke-width="1.2"/>
<rect x="635.5" y="196.5" width="2.7" height="2.7" rx="0.9" fill="#fff" stroke="#ec2129" stroke-width="1.2"/>
<rect x="642.4" y="189.5" width="2.7" height="2.7" rx="0.9" fill="#fff" stroke="#ec2129" stroke-width="1.2"/>
<rect x="649.3" y="177.0" width="2.7" height="2.7" rx="0.9" fill="#fff" stroke="#ec2129" stroke-width="1.2"/>
<rect x="656.2" y="181.0" width="2.7" height="2.7" rx="0.9" fill="#fff" stroke="#ec2129" stroke-width="1.2"/>
<rect x="663.1" y="158.3" width="2.7" height="2.7" rx="0.9" fill="#fff" stroke="#ec2129" stroke-width="1.2"/>
<rect x="669.9" y="177.2" width="2.7" height="2.7" rx="0.9" fill="#fff" stroke="#ec2129" stroke-width="1.2"/>
<rect x="676.8" y="185.0" width="2.7" height="2.7" rx="0.9" fill="#fff" stroke="#ec2129" stroke-width="1.2"/>
<rect x="683.7" y="185.0" width="2.7" height="2.7" rx="0.9" fill="#fff" stroke="#ec2129" stroke-width="1.2"/>
<rect x="690.6" y="178.2" width="2.7" height="2.7" rx="0.9" fill="#fff" stroke="#ec2129" stroke-width="1.2"/>
<rect x="697.5" y="184.3" width="2.7" height="2.7" rx="0.9" fill="#fff" stroke="#ec2129" stroke-width="1.2"/>
<rect x="704.4" y="185.0" width="2.7" height="2.7" rx="0.9" fill="#fff" stroke="#ec2129" stroke-width="1.2"/>
<rect x="711.3" y="197.0" width="2.7" height="2.7" rx="0.9" fill="#fff" stroke="#ec2129" stroke-width="1.2"/>
<rect x="718.2" y="203.7" width="2.7" height="2.7" rx="0.9" fill="#fff" stroke="#ec2129" stroke-width="1.2"/>
<rect x="725.0" y="194.0" width="2.7" height="2.7" rx="0.9" fill="#fff" stroke="#ec2129" stroke-width="1.2"/>
<rect x="731.9" y="142.3" width="2.7" height="2.7" rx="0.9" fill="#fff" stroke="#ec2129" stroke-width="1.2"/>
<rect x="738.8" y="106.5" width="2.7" height="2.7" rx="0.9" fill="#fff" stroke="#ec2129" stroke-width="1.2"/>
<rect x="745.7" y="116.4" width="2.7" height="2.7" rx="0.9" fill="#fff" stroke="#ec2129" stroke-width="1.2"/>
<rect x="752.6" y="118.0" width="2.7" height="2.7" rx="0.9" fill="#fff" stroke="#ec2129" stroke-width="1.2"/>
<rect x="759.5" y="103.5" width="2.7" height="2.7" rx="0.9" fill="#fff" stroke="#ec2129" stroke-width="1.2"/>
<rect x="766.4" y="102.7" width="2.7" height="2.7" rx="0.9" fill="#fff" stroke="#ec2129" stroke-width="1.2"/>
<rect x="773.3" y="86.0" width="2.7" height="2.7" rx="0.9" fill="#fff" stroke="#ec2129" stroke-width="1.2"/>
<rect x="780.1" y="115.7" width="2.7" height="2.7" rx="0.9" fill="#fff" stroke="#ec2129" stroke-width="1.2"/>
<circle cx="476.6" cy="80.9" r="1.35" fill="#333"/>
<circle cx="480.1" cy="80.9" r="1.35" fill="#333"/>
<circle cx="483.6" cy="86.5" r="1.35" fill="#333"/>
<circle cx="487.1" cy="86.5" r="1.35" fill="#333"/>
<circle cx="490.4" cy="91.5" r="1.35" fill="#333"/>
<circle cx="493.9" cy="91.5" r="1.35" fill="#333"/>
<circle cx="469.9" cy="120.8" r="1.35" fill="#333"/>
<circle cx="473.4" cy="120.8" r="1.35" fill="#333"/>
<circle cx="463.4" cy="133.3" r="1.35" fill="#333"/>
<circle cx="466.9" cy="133.3" r="1.35" fill="#333"/>
<circle cx="580.0" cy="187.1" r="1.35" fill="#333"/>
<circle cx="583.5" cy="187.1" r="1.35" fill="#333"/>
<rect x="45" y="285.9" width="338.2" height="207.90000000000003" fill="none" stroke="#111" stroke-width="1.4"/>
<path d="M43.3,494.0H45M43.3,490.6H45M43.3,487.1H45M43.3,483.6H45M43.3,480.1H45M43.3,476.7H45M43.3,473.2H45M43.3,469.7H45M43.3,466.2H45M43.3,462.8H45M43.3,459.3H45M43.3,455.8H45M43.3,452.4H45M43.3,448.9H45M43.3,445.4H45M43.3,441.9H45M43.3,438.5H45M43.3,435.0H45M43.3,431.5H45M43.3,428.0H45M43.3,424.6H45M43.3,421.1H45M43.3,417.6H45M43.3,414.2H45M43.3,410.7H45M43.3,407.2H45M43.3,403.7H45M43.3,400.3H45M43.3,396.8H45M43.3,393.3H45M43.3,389.9H45M43.3,386.4H45M43.3,382.9H45M43.3,379.4H45M43.3,376.0H45M43.3,372.5H45M43.3,369.0H45M43.3,365.5H45M43.3,362.1H45M43.3,358.6H45M43.3,355.1H45M43.3,351.7H45M43.3,348.2H45M43.3,344.7H45M43.3,341.2H45M43.3,337.8H45M43.3,334.3H45M43.3,330.8H45M43.3,327.3H45M43.3,323.9H45M43.3,320.4H45M43.3,316.9H45M43.3,313.5H45M43.3,310.0H45M43.3,306.5H45M43.3,303.0H45M43.3,299.6H45M43.3,296.1H45M43.3,292.6H45M43.3,289.1H45M43.3,285.7H45" stroke="#222" stroke-width="1"/>
<line x1="42.4" y1="494.0" x2="45" y2="494.0" stroke="#111" stroke-width="1.2"/>
<text x="40.6" y="496.8" font-size="12.4" text-anchor="end" >35.5</text>
<line x1="42.4" y1="459.3" x2="45" y2="459.3" stroke="#111" stroke-width="1.2"/>
<text x="40.6" y="462.1" font-size="12.4" text-anchor="end" >36.0</text>
<line x1="42.4" y1="424.6" x2="45" y2="424.6" stroke="#111" stroke-width="1.2"/>
<text x="40.6" y="427.4" font-size="12.4" text-anchor="end" >36.5</text>
<line x1="42.4" y1="389.9" x2="45" y2="389.9" stroke="#111" stroke-width="1.2"/>
<text x="40.6" y="392.7" font-size="12.4" text-anchor="end" >37.0</text>
<line x1="42.4" y1="355.1" x2="45" y2="355.1" stroke="#111" stroke-width="1.2"/>
<text x="40.6" y="357.9" font-size="12.4" text-anchor="end" >37.5</text>
<line x1="42.4" y1="320.4" x2="45" y2="320.4" stroke="#111" stroke-width="1.2"/>
<text x="40.6" y="323.2" font-size="12.4" text-anchor="end" >38.0</text>
<line x1="42.4" y1="285.7" x2="45" y2="285.7" stroke="#111" stroke-width="1.2"/>
<text x="40.6" y="288.5" font-size="12.4" text-anchor="end" >38.5</text>
<text transform="translate(8.8,389.4) rotate(-90)" x="0" y="0" font-size="12.4" text-anchor="middle">Body temperature (<tspan dy="-2.7">o</tspan><tspan dy="2.7">C)</tspan></text>
<rect x="45" y="488.5" width="338.2" height="5.3" fill="#111"/>
<rect x="47.2" y="490.2" width="11.2" height="1.8" fill="#fff"/>
<rect x="113.6" y="490.2" width="106.9" height="1.8" fill="#fff"/>
<rect x="275.2" y="490.2" width="105.8" height="1.8" fill="#fff"/>
<line x1="45" y1="494.4" x2="383.2" y2="494.4" stroke="#333" stroke-width="1" stroke-dasharray="1 1.5"/>
<text x="59.5" y="506.0" font-size="11.8" text-anchor="middle" >16</text>
<text x="113.6" y="506.0" font-size="11.8" text-anchor="middle" >0</text>
<text x="167.3" y="506.0" font-size="11.8" text-anchor="middle" >8</text>
<text x="220.7" y="506.0" font-size="11.8" text-anchor="middle" >16</text>
<text x="275.1" y="506.0" font-size="11.8" text-anchor="middle" >0</text>
<text x="329.5" y="506.0" font-size="11.8" text-anchor="middle" >8</text>
<text x="218.0" y="518.1" font-size="12.4" text-anchor="middle" >Time (ZT)</text>
<text x="108.7" y="302.8" font-size="18.8" text-anchor="start" >ARR - ZT 16 INJECTION</text>
<text x="49.5" y="302.8" font-size="18.8" text-anchor="start" >C</text>
<line x1="341.3" y1="296.2" x2="351.8" y2="296.2" stroke="#ec2129" stroke-width="1.6"/>
<circle cx="346.6" cy="296.2" r="2.3" fill="#ec2129"/>
<text x="355.0" y="300.7" font-size="12.2" text-anchor="start" >SAL</text>
<line x1="341.3" y1="308.7" x2="351.8" y2="308.7" stroke="#3550a6" stroke-width="1.6"/>
<circle cx="346.6" cy="308.7" r="2.3" fill="#3550a6"/>
<text x="355.0" y="312.4" font-size="12.2" text-anchor="start" >LPS</text>
<line x1="57.7" y1="311.5" x2="57.7" y2="319.4" stroke="#000" stroke-width="1.9"/>
<path d="M53.3,317.7 L62.1,317.7 L57.7,334.5 Z" fill="#000"/>
<path d="M48.4,436.8V446.8M47.3,436.8h2.2M47.3,446.8h2.2M55.2,419.2V429.2M54.1,419.2h2.2M54.1,429.2h2.2M61.9,370.4V377.4M60.8,370.4h2.2M60.8,377.4h2.2M68.7,372.7V382.7M67.6,372.7h2.2M67.6,382.7h2.2M75.5,332.4V348.4M74.4,332.4h2.2M74.4,348.4h2.2M82.2,331.9V349.9M81.1,331.9h2.2M81.1,349.9h2.2M89.0,348.2V366.2M87.9,348.2h2.2M87.9,366.2h2.2M95.8,352.3V374.3M94.7,352.3h2.2M94.7,374.3h2.2M102.5,360.6V382.6M101.4,360.6h2.2M101.4,382.6h2.2M109.3,372.3V392.3M108.2,372.3h2.2M108.2,392.3h2.2M116.0,387.8V399.8M114.9,387.8h2.2M114.9,399.8h2.2M122.8,397.7V409.7M121.7,397.7h2.2M121.7,409.7h2.2M129.6,405.6V423.6M128.5,405.6h2.2M128.5,423.6h2.2M136.3,420.5V432.5M135.2,420.5h2.2M135.2,432.5h2.2M143.1,420.3V438.3M142.0,420.3h2.2M142.0,438.3h2.2M149.9,425.4V443.4M148.8,425.4h2.2M148.8,443.4h2.2M156.6,424.8V438.8M155.5,424.8h2.2M155.5,438.8h2.2M163.4,425.3V439.3M162.3,425.3h2.2M162.3,439.3h2.2M170.2,419.8V437.8M169.1,419.8h2.2M169.1,437.8h2.2M176.9,413.4V431.4M175.8,413.4h2.2M175.8,431.4h2.2M183.7,417.2V431.2M182.6,417.2h2.2M182.6,431.2h2.2M190.5,413.7V429.7M189.4,413.7h2.2M189.4,429.7h2.2M197.2,406.0V424.0M196.1,406.0h2.2M196.1,424.0h2.2M204.0,414.4V430.4M202.9,414.4h2.2M202.9,430.4h2.2M210.8,404.0V426.0M209.7,404.0h2.2M209.7,426.0h2.2M217.5,407.4V431.4M216.4,407.4h2.2M216.4,431.4h2.2M224.3,417.6V433.6M223.2,417.6h2.2M223.2,433.6h2.2M231.1,412.0V432.0M230.0,412.0h2.2M230.0,432.0h2.2M237.8,404.7V428.7M236.7,404.7h2.2M236.7,428.7h2.2M244.6,409.5V427.5M243.5,409.5h2.2M243.5,427.5h2.2M251.3,409.1V423.1M250.2,409.1h2.2M250.2,423.1h2.2M258.1,412.6V432.6M257.0,412.6h2.2M257.0,432.6h2.2M264.9,415.2V427.2M263.8,415.2h2.2M263.8,427.2h2.2M271.6,416.0V428.0M270.5,416.0h2.2M270.5,428.0h2.2M278.4,412.9V426.9M277.3,412.9h2.2M277.3,426.9h2.2M285.2,422.9V438.9M284.1,422.9h2.2M284.1,438.9h2.2M291.9,416.9V428.9M290.8,416.9h2.2M290.8,428.9h2.2M298.7,421.5V431.5M297.6,421.5h2.2M297.6,431.5h2.2M305.5,414.8V432.8M304.4,414.8h2.2M304.4,432.8h2.2M312.2,418.5V434.5M311.1,418.5h2.2M311.1,434.5h2.2M319.0,417.7V431.7M317.9,417.7h2.2M317.9,431.7h2.2M325.8,396.1V416.1M324.7,396.1h2.2M324.7,416.1h2.2M332.5,416.5V436.5M331.4,416.5h2.2M331.4,436.5h2.2M339.3,418.3V436.3M338.2,418.3h2.2M338.2,436.3h2.2M346.1,413.4V425.4M345.0,413.4h2.2M345.0,425.4h2.2M352.8,419.3V435.3M351.7,419.3h2.2M351.7,435.3h2.2M359.6,422.3V432.3M358.5,422.3h2.2M358.5,432.3h2.2M366.4,411.4V427.4M365.3,411.4h2.2M365.3,427.4h2.2M373.1,410.4V428.4M372.0,410.4h2.2M372.0,428.4h2.2M379.9,399.9V415.9M378.8,399.9h2.2M378.8,415.9h2.2" stroke="#3550a6" stroke-width="1.1" fill="none"/>
<path d="M48.4,441.8 L55.2,424.2 L61.9,373.9 L68.7,377.7 L75.5,340.4 L82.2,340.9 L89.0,357.2 L95.8,363.3 L102.5,371.6 L109.3,382.3 L116.0,393.8 L122.8,403.7 L129.6,414.6 L136.3,426.5 L143.1,429.3 L149.9,434.4 L156.6,431.8 L163.4,432.3 L170.2,428.8 L176.9,422.4 L183.7,424.2 L190.5,421.7 L197.2,415.0 L204.0,422.4 L210.8,415.0 L217.5,419.4 L224.3,425.6 L231.1,422.0 L237.8,416.7 L244.6,418.5 L251.3,416.1 L258.1,422.6 L264.9,421.2 L271.6,422.0 L278.4,419.9 L285.2,430.9 L291.9,422.9 L298.7,426.5 L305.5,423.8 L312.2,426.5 L319.0,424.7 L325.8,406.1 L332.5,426.5 L339.3,427.3 L346.1,419.4 L352.8,427.3 L359.6,427.3 L366.4,419.4 L373.1,419.4 L379.9,407.9" stroke="#3550a6" stroke-width="1.45" fill="none" stroke-linejoin="round"/>
<rect x="47.0" y="440.4" width="2.7" height="2.7" fill="#3550a6"/>
<rect x="53.8" y="422.8" width="2.7" height="2.7" fill="#3550a6"/>
<rect x="60.6" y="372.5" width="2.7" height="2.7" fill="#3550a6"/>
<rect x="67.3" y="376.3" width="2.7" height="2.7" fill="#3550a6"/>
<rect x="74.1" y="339.0" width="2.7" height="2.7" fill="#3550a6"/>
<rect x="80.9" y="339.5" width="2.7" height="2.7" fill="#3550a6"/>
<rect x="87.6" y="355.8" width="2.7" height="2.7" fill="#3550a6"/>
<rect x="94.4" y="361.9" width="2.7" height="2.7" fill="#3550a6"/>
<rect x="101.2" y="370.2" width="2.7" height="2.7" fill="#3550a6"/>
<rect x="107.9" y="380.9" width="2.7" height="2.7" fill="#3550a6"/>
<rect x="114.7" y="392.4" width="2.7" height="2.7" fill="#3550a6"/>
<rect x="121.5" y="402.3" width="2.7" height="2.7" fill="#3550a6"/>
<rect x="128.2" y="413.2" width="2.7" height="2.7" fill="#3550a6"/>
<rect x="135.0" y="425.1" width="2.7" height="2.7" fill="#3550a6"/>
<rect x="141.8" y="427.9" width="2.7" height="2.7" fill="#3550a6"/>
<rect x="148.5" y="433.0" width="2.7" height="2.7" fill="#3550a6"/>
<rect x="155.3" y="430.4" width="2.7" height="2.7" fill="#3550a6"/>
<rect x="162.1" y="430.9" width="2.7" height="2.7" fill="#3550a6"/>
<rect x="168.8" y="427.4" width="2.7" height="2.7" fill="#3550a6"/>
<rect x="175.6" y="421.0" width="2.7" height="2.7" fill="#3550a6"/>
<rect x="182.3" y="422.8" width="2.7" height="2.7" fill="#3550a6"/>
<rect x="189.1" y="420.3" width="2.7" height="2.7" fill="#3550a6"/>
<rect x="195.9" y="413.6" width="2.7" height="2.7" fill="#3550a6"/>
<rect x="202.6" y="421.0" width="2.7" height="2.7" fill="#3550a6"/>
<rect x="209.4" y="413.6" width="2.7" height="2.7" fill="#3550a6"/>
<rect x="216.2" y="418.0" width="2.7" height="2.7" fill="#3550a6"/>
<rect x="222.9" y="424.2" width="2.7" height="2.7" fill="#3550a6"/>
<rect x="229.7" y="420.6" width="2.7" height="2.7" fill="#3550a6"/>
<rect x="236.5" y="415.3" width="2.7" height="2.7" fill="#3550a6"/>
<rect x="243.2" y="417.1" width="2.7" height="2.7" fill="#3550a6"/>
<rect x="250.0" y="414.8" width="2.7" height="2.7" fill="#3550a6"/>
<rect x="256.8" y="421.2" width="2.7" height="2.7" fill="#3550a6"/>
<rect x="263.5" y="419.8" width="2.7" height="2.7" fill="#3550a6"/>
<rect x="270.3" y="420.6" width="2.7" height="2.7" fill="#3550a6"/>
<rect x="277.1" y="418.5" width="2.7" height="2.7" fill="#3550a6"/>
<rect x="283.8" y="429.5" width="2.7" height="2.7" fill="#3550a6"/>
<rect x="290.6" y="421.5" width="2.7" height="2.7" fill="#3550a6"/>
<rect x="297.4" y="425.1" width="2.7" height="2.7" fill="#3550a6"/>
<rect x="304.1" y="422.4" width="2.7" height="2.7" fill="#3550a6"/>
<rect x="310.9" y="425.1" width="2.7" height="2.7" fill="#3550a6"/>
<rect x="317.6" y="423.3" width="2.7" height="2.7" fill="#3550a6"/>
<rect x="324.4" y="404.8" width="2.7" height="2.7" fill="#3550a6"/>
<rect x="331.2" y="425.1" width="2.7" height="2.7" fill="#3550a6"/>
<rect x="337.9" y="425.9" width="2.7" height="2.7" fill="#3550a6"/>
<rect x="344.7" y="418.0" width="2.7" height="2.7" fill="#3550a6"/>
<rect x="351.5" y="425.9" width="2.7" height="2.7" fill="#3550a6"/>
<rect x="358.2" y="425.9" width="2.7" height="2.7" fill="#3550a6"/>
<rect x="365.0" y="418.0" width="2.7" height="2.7" fill="#3550a6"/>
<rect x="371.8" y="418.0" width="2.7" height="2.7" fill="#3550a6"/>
<rect x="378.5" y="406.5" width="2.7" height="2.7" fill="#3550a6"/>
<path d="M48.4,439.9V455.9M47.3,439.9h2.2M47.3,455.9h2.2M55.2,408.9V422.9M54.1,408.9h2.2M54.1,422.9h2.2M61.9,391.8V407.8M60.8,391.8h2.2M60.8,407.8h2.2M68.7,431.7V445.7M67.6,431.7h2.2M67.6,445.7h2.2M75.5,428.9V440.9M74.4,428.9h2.2M74.4,440.9h2.2M82.2,418.8V438.8M81.1,418.8h2.2M81.1,438.8h2.2M89.0,419.2V433.2M87.9,419.2h2.2M87.9,433.2h2.2M95.8,423.1V445.1M94.7,423.1h2.2M94.7,445.1h2.2M102.5,415.7V429.7M101.4,415.7h2.2M101.4,429.7h2.2M109.3,421.6V437.6M108.2,421.6h2.2M108.2,437.6h2.2M116.0,438.3V448.3M114.9,438.3h2.2M114.9,448.3h2.2M122.8,439.9V455.9M121.7,439.9h2.2M121.7,455.9h2.2M129.6,443.3V457.3M128.5,443.3h2.2M128.5,457.3h2.2M136.3,441.7V449.7M135.2,441.7h2.2M135.2,449.7h2.2M143.1,426.1V448.1M142.0,426.1h2.2M142.0,448.1h2.2M149.9,431.6V449.6M148.8,431.6h2.2M148.8,449.6h2.2M156.6,418.8V444.8M155.5,418.8h2.2M155.5,444.8h2.2M163.4,423.3V441.3M162.3,423.3h2.2M162.3,441.3h2.2M170.2,437.9V453.9M169.1,437.9h2.2M169.1,453.9h2.2M176.9,433.9V449.9M175.8,433.9h2.2M175.8,449.9h2.2M183.7,428.1V446.1M182.6,428.1h2.2M182.6,446.1h2.2M190.5,410.2V432.2M189.4,410.2h2.2M189.4,432.2h2.2M197.2,442.4V458.4M196.1,442.4h2.2M196.1,458.4h2.2M204.0,426.3V450.3M202.9,426.3h2.2M202.9,450.3h2.2M210.8,438.8V454.8M209.7,438.8h2.2M209.7,454.8h2.2M217.5,409.6V425.6M216.4,409.6h2.2M216.4,425.6h2.2M224.3,412.6V438.6M223.2,412.6h2.2M223.2,438.6h2.2M231.1,436.8V456.8M230.0,436.8h2.2M230.0,456.8h2.2M237.8,433.5V449.5M236.7,433.5h2.2M236.7,449.5h2.2M244.6,424.5V442.5M243.5,424.5h2.2M243.5,442.5h2.2M251.3,427.3V447.3M250.2,427.3h2.2M250.2,447.3h2.2M258.1,431.9V449.9M257.0,431.9h2.2M257.0,449.9h2.2M264.9,424.7V440.7M263.8,424.7h2.2M263.8,440.7h2.2M271.6,437.5V455.5M270.5,437.5h2.2M270.5,455.5h2.2M278.4,436.3V450.3M277.3,436.3h2.2M277.3,450.3h2.2M285.2,441.8V451.8M284.1,441.8h2.2M284.1,451.8h2.2M291.9,450.3V466.3M290.8,450.3h2.2M290.8,466.3h2.2M298.7,428.6V452.6M297.6,428.6h2.2M297.6,452.6h2.2M305.5,441.8V451.8M304.4,441.8h2.2M304.4,451.8h2.2M312.2,423.2V449.2M311.1,423.2h2.2M311.1,449.2h2.2M319.0,430.6V450.6M317.9,430.6h2.2M317.9,450.6h2.2M325.8,390.6V414.6M324.7,390.6h2.2M324.7,414.6h2.2M332.5,418.0V436.0M331.4,418.0h2.2M331.4,436.0h2.2M339.3,410.7V432.7M338.2,410.7h2.2M338.2,432.7h2.2M346.1,420.9V440.9M345.0,420.9h2.2M345.0,440.9h2.2M352.8,409.3V431.3M351.7,409.3h2.2M351.7,431.3h2.2M359.6,432.2V450.2M358.5,432.2h2.2M358.5,450.2h2.2M366.4,423.4V445.4M365.3,423.4h2.2M365.3,445.4h2.2M373.1,435.4V449.4M372.0,435.4h2.2M372.0,449.4h2.2M379.9,393.0V421.0M378.8,393.0h2.2M378.8,421.0h2.2" stroke="#ec2129" stroke-width="1.1" fill="none"/>
<path d="M48.4,447.9 L55.2,415.9 L61.9,399.8 L68.7,438.7 L75.5,434.9 L82.2,428.8 L89.0,426.2 L95.8,434.1 L102.5,422.7 L109.3,429.6 L116.0,443.3 L122.8,447.9 L129.6,450.3 L136.3,445.7 L143.1,437.1 L149.9,440.6 L156.6,431.8 L163.4,432.3 L170.2,445.9 L176.9,441.9 L183.7,437.1 L190.5,421.2 L197.2,450.4 L204.0,438.3 L210.8,446.8 L217.5,417.6 L224.3,425.6 L231.1,446.8 L237.8,441.5 L244.6,433.5 L251.3,437.3 L258.1,440.9 L264.9,432.7 L271.6,446.5 L278.4,443.3 L285.2,446.8 L291.9,458.3 L298.7,440.6 L305.5,446.8 L312.2,436.2 L319.0,440.6 L325.8,402.6 L332.5,427.0 L339.3,421.7 L346.1,430.9 L352.8,420.3 L359.6,441.2 L366.4,434.4 L373.1,442.4 L379.9,407.0" stroke="#ec2129" stroke-width="1.45" fill="none" stroke-linejoin="round"/>
<rect x="47.0" y="446.5" width="2.7" height="2.7" fill="#ec2129"/>
<rect x="53.8" y="414.5" width="2.7" height="2.7" fill="#ec2129"/>
<rect x="60.6" y="398.4" width="2.7" height="2.7" fill="#ec2129"/>
<rect x="67.3" y="437.3" width="2.7" height="2.7" fill="#ec2129"/>
<rect x="74.1" y="433.5" width="2.7" height="2.7" fill="#ec2129"/>
<rect x="80.9" y="427.4" width="2.7" height="2.7" fill="#ec2129"/>
<rect x="87.6" y="424.8" width="2.7" height="2.7" fill="#ec2129"/>
<rect x="94.4" y="432.8" width="2.7" height="2.7" fill="#ec2129"/>
<rect x="101.2" y="421.3" width="2.7" height="2.7" fill="#ec2129"/>
<rect x="107.9" y="428.2" width="2.7" height="2.7" fill="#ec2129"/>
<rect x="114.7" y="441.9" width="2.7" height="2.7" fill="#ec2129"/>
<rect x="121.5" y="446.5" width="2.7" height="2.7" fill="#ec2129"/>
<rect x="128.2" y="448.9" width="2.7" height="2.7" fill="#ec2129"/>
<rect x="135.0" y="444.3" width="2.7" height="2.7" fill="#ec2129"/>
<rect x="141.8" y="435.8" width="2.7" height="2.7" fill="#ec2129"/>
<rect x="148.5" y="439.2" width="2.7" height="2.7" fill="#ec2129"/>
<rect x="155.3" y="430.4" width="2.7" height="2.7" fill="#ec2129"/>
<rect x="162.1" y="430.9" width="2.7" height="2.7" fill="#ec2129"/>
<rect x="168.8" y="444.5" width="2.7" height="2.7" fill="#ec2129"/>
<rect x="175.6" y="440.5" width="2.7" height="2.7" fill="#ec2129"/>
<rect x="182.3" y="435.8" width="2.7" height="2.7" fill="#ec2129"/>
<rect x="189.1" y="419.8" width="2.7" height="2.7" fill="#ec2129"/>
<rect x="195.9" y="449.0" width="2.7" height="2.7" fill="#ec2129"/>
<rect x="202.6" y="436.9" width="2.7" height="2.7" fill="#ec2129"/>
<rect x="209.4" y="445.4" width="2.7" height="2.7" fill="#ec2129"/>
<rect x="216.2" y="416.2" width="2.7" height="2.7" fill="#ec2129"/>
<rect x="222.9" y="424.2" width="2.7" height="2.7" fill="#ec2129"/>
<rect x="229.7" y="445.4" width="2.7" height="2.7" fill="#ec2129"/>
<rect x="236.5" y="440.1" width="2.7" height="2.7" fill="#ec2129"/>
<rect x="243.2" y="432.1" width="2.7" height="2.7" fill="#ec2129"/>
<rect x="250.0" y="435.9" width="2.7" height="2.7" fill="#ec2129"/>
<rect x="256.8" y="439.5" width="2.7" height="2.7" fill="#ec2129"/>
<rect x="263.5" y="431.3" width="2.7" height="2.7" fill="#ec2129"/>
<rect x="270.3" y="445.1" width="2.7" height="2.7" fill="#ec2129"/>
<rect x="277.1" y="441.9" width="2.7" height="2.7" fill="#ec2129"/>
<rect x="283.8" y="445.4" width="2.7" height="2.7" fill="#ec2129"/>
<rect x="290.6" y="456.9" width="2.7" height="2.7" fill="#ec2129"/>
<rect x="297.4" y="439.2" width="2.7" height="2.7" fill="#ec2129"/>
<rect x="304.1" y="445.4" width="2.7" height="2.7" fill="#ec2129"/>
<rect x="310.9" y="434.8" width="2.7" height="2.7" fill="#ec2129"/>
<rect x="317.6" y="439.2" width="2.7" height="2.7" fill="#ec2129"/>
<rect x="324.4" y="401.2" width="2.7" height="2.7" fill="#ec2129"/>
<rect x="331.2" y="425.6" width="2.7" height="2.7" fill="#ec2129"/>
<rect x="337.9" y="420.3" width="2.7" height="2.7" fill="#ec2129"/>
<rect x="344.7" y="429.5" width="2.7" height="2.7" fill="#ec2129"/>
<rect x="351.5" y="418.9" width="2.7" height="2.7" fill="#ec2129"/>
<rect x="358.2" y="439.8" width="2.7" height="2.7" fill="#ec2129"/>
<rect x="365.0" y="433.0" width="2.7" height="2.7" fill="#ec2129"/>
<rect x="371.8" y="441.0" width="2.7" height="2.7" fill="#ec2129"/>
<rect x="378.5" y="405.6" width="2.7" height="2.7" fill="#ec2129"/>
<circle cx="73.5" cy="329.0" r="1.35" fill="#333"/>
<circle cx="77.0" cy="329.0" r="1.35" fill="#333"/>
<circle cx="80.7" cy="323.6" r="1.35" fill="#333"/>
<circle cx="84.2" cy="323.6" r="1.35" fill="#333"/>
<circle cx="66.7" cy="367.1" r="1.35" fill="#333"/>
<circle cx="70.2" cy="367.1" r="1.35" fill="#333"/>
<circle cx="87.5" cy="341.9" r="1.35" fill="#333"/>
<circle cx="91.0" cy="341.9" r="1.35" fill="#333"/>
<circle cx="94.0" cy="347.6" r="1.35" fill="#333"/>
<circle cx="97.5" cy="347.6" r="1.35" fill="#333"/>
<circle cx="101.0" cy="354.9" r="1.35" fill="#333"/>
<circle cx="104.5" cy="354.9" r="1.35" fill="#333"/>
<circle cx="107.8" cy="367.8" r="1.35" fill="#333"/>
<circle cx="111.2" cy="367.8" r="1.35" fill="#333"/>
<circle cx="114.2" cy="383.1" r="1.35" fill="#333"/>
<circle cx="117.8" cy="383.1" r="1.35" fill="#333"/>
<circle cx="120.8" cy="392.2" r="1.35" fill="#333"/>
<circle cx="124.2" cy="392.2" r="1.35" fill="#333"/>
<circle cx="195.6" cy="401.7" r="1.35" fill="#333"/>
<circle cx="199.1" cy="401.7" r="1.35" fill="#333"/>
<circle cx="289.9" cy="411.8" r="1.35" fill="#333"/>
<circle cx="293.4" cy="411.8" r="1.35" fill="#333"/>
<circle cx="303.4" cy="411.4" r="1.35" fill="#333"/>
<circle cx="306.9" cy="411.4" r="1.35" fill="#333"/>
<rect x="447.0" y="285.9" width="338.20000000000005" height="207.90000000000003" fill="none" stroke="#111" stroke-width="1.4"/>
<path d="M445.3,494.0H447.0M445.3,490.6H447.0M445.3,487.1H447.0M445.3,483.6H447.0M445.3,480.1H447.0M445.3,476.7H447.0M445.3,473.2H447.0M445.3,469.7H447.0M445.3,466.2H447.0M445.3,462.8H447.0M445.3,459.3H447.0M445.3,455.8H447.0M445.3,452.4H447.0M445.3,448.9H447.0M445.3,445.4H447.0M445.3,441.9H447.0M445.3,438.5H447.0M445.3,435.0H447.0M445.3,431.5H447.0M445.3,428.0H447.0M445.3,424.6H447.0M445.3,421.1H447.0M445.3,417.6H447.0M445.3,414.2H447.0M445.3,410.7H447.0M445.3,407.2H447.0M445.3,403.7H447.0M445.3,400.3H447.0M445.3,396.8H447.0M445.3,393.3H447.0M445.3,389.9H447.0M445.3,386.4H447.0M445.3,382.9H447.0M445.3,379.4H447.0M445.3,376.0H447.0M445.3,372.5H447.0M445.3,369.0H447.0M445.3,365.5H447.0M445.3,362.1H447.0M445.3,358.6H447.0M445.3,355.1H447.0M445.3,351.7H447.0M445.3,348.2H447.0M445.3,344.7H447.0M445.3,341.2H447.0M445.3,337.8H447.0M445.3,334.3H447.0M445.3,330.8H447.0M445.3,327.3H447.0M445.3,323.9H447.0M445.3,320.4H447.0M445.3,316.9H447.0M445.3,313.5H447.0M445.3,310.0H447.0M445.3,306.5H447.0M445.3,303.0H447.0M445.3,299.6H447.0M445.3,296.1H447.0M445.3,292.6H447.0M445.3,289.1H447.0M445.3,285.7H447.0" stroke="#222" stroke-width="1"/>
<line x1="444.4" y1="494.0" x2="447.0" y2="494.0" stroke="#111" stroke-width="1.2"/>
<text x="442.6" y="496.8" font-size="12.4" text-anchor="end" >35.5</text>
<line x1="444.4" y1="459.3" x2="447.0" y2="459.3" stroke="#111" stroke-width="1.2"/>
<text x="442.6" y="462.1" font-size="12.4" text-anchor="end" >36.0</text>
<line x1="444.4" y1="424.6" x2="447.0" y2="424.6" stroke="#111" stroke-width="1.2"/>
<text x="442.6" y="427.4" font-size="12.4" text-anchor="end" >36.5</text>
<line x1="444.4" y1="389.9" x2="447.0" y2="389.9" stroke="#111" stroke-width="1.2"/>
<text x="442.6" y="392.7" font-size="12.4" text-anchor="end" >37.0</text>
<line x1="444.4" y1="355.1" x2="447.0" y2="355.1" stroke="#111" stroke-width="1.2"/>
<text x="442.6" y="357.9" font-size="12.4" text-anchor="end" >37.5</text>
<line x1="444.4" y1="320.4" x2="447.0" y2="320.4" stroke="#111" stroke-width="1.2"/>
<text x="442.6" y="323.2" font-size="12.4" text-anchor="end" >38.0</text>
<line x1="444.4" y1="285.7" x2="447.0" y2="285.7" stroke="#111" stroke-width="1.2"/>
<text x="442.6" y="288.5" font-size="12.4" text-anchor="end" >38.5</text>
<text transform="translate(410.8,389.4) rotate(-90)" x="0" y="0" font-size="12.4" text-anchor="middle">Body temperature (<tspan dy="-2.7">o</tspan><tspan dy="2.7">C)</tspan></text>
<rect x="447.0" y="488.5" width="338.20000000000005" height="5.3" fill="#111"/>
<rect x="455.6" y="490.2" width="108.3" height="1.8" fill="#fff"/>
<rect x="620.9" y="490.2" width="108.3" height="1.8" fill="#fff"/>
<line x1="447.0" y1="494.4" x2="785.2" y2="494.4" stroke="#333" stroke-width="1" stroke-dasharray="1 1.5"/>
<text x="454.9" y="506.0" font-size="11.8" text-anchor="middle" >0</text>
<text x="509.6" y="506.0" font-size="11.8" text-anchor="middle" >8</text>
<text x="563.9" y="506.0" font-size="11.8" text-anchor="middle" >16</text>
<text x="620.7" y="506.0" font-size="11.8" text-anchor="middle" >0</text>
<text x="674.9" y="506.0" font-size="11.8" text-anchor="middle" >8</text>
<text x="729.6" y="506.0" font-size="11.8" text-anchor="middle" >16</text>
<text x="618.7" y="518.1" font-size="12.4" text-anchor="middle" >Time (ZT)</text>
<text x="520.0" y="302.8" font-size="18.8" text-anchor="start" >ARR - ZT 1 INJECTION</text>
<text x="451.5" y="302.8" font-size="18.8" text-anchor="start" >D</text>
<line x1="743.3000000000001" y1="296.2" x2="753.8000000000001" y2="296.2" stroke="#ec2129" stroke-width="1.6"/>
<circle cx="748.6" cy="296.2" r="1.9" fill="#fff" stroke="#ec2129" stroke-width="1.3"/>
<text x="757.0" y="300.7" font-size="12.2" text-anchor="start" >SAL</text>
<line x1="743.3000000000001" y1="308.7" x2="753.8000000000001" y2="308.7" stroke="#3550a6" stroke-width="1.6"/>
<circle cx="748.6" cy="308.7" r="1.9" fill="#fff" stroke="#3550a6" stroke-width="1.3"/>
<text x="757.0" y="312.4" font-size="12.2" text-anchor="start" >LPS</text>
<line x1="456.4" y1="311.5" x2="456.4" y2="319.4" stroke="#000" stroke-width="1.9"/>
<path d="M452.0,317.7 L460.8,317.7 L456.4,334.5 Z" fill="#000"/>
<path d="M450.9,420.9V442.9M449.8,420.9h2.2M449.8,442.9h2.2M457.8,365.5V381.5M456.7,365.5h2.2M456.7,381.5h2.2M464.7,381.6V391.6M463.6,381.6h2.2M463.6,391.6h2.2M471.6,367.5V383.5M470.5,367.5h2.2M470.5,383.5h2.2M478.4,354.6V388.6M477.3,354.6h2.2M477.3,388.6h2.2M485.3,359.0V391.0M484.2,359.0h2.2M484.2,391.0h2.2M492.2,358.4V390.4M491.1,358.4h2.2M491.1,390.4h2.2M499.1,358.5V392.5M498.0,358.5h2.2M498.0,392.5h2.2M506.0,368.6V400.6M504.9,368.6h2.2M504.9,400.6h2.2M512.9,375.1V401.1M511.8,375.1h2.2M511.8,401.1h2.2M519.8,394.0V450.0M518.7,394.0h2.2M518.7,450.0h2.2M526.7,397.1V419.1M525.6,397.1h2.2M525.6,419.1h2.2M533.5,409.9V425.9M532.4,409.9h2.2M532.4,425.9h2.2M540.4,418.5V430.5M539.3,418.5h2.2M539.3,430.5h2.2M547.3,429.5V439.5M546.2,429.5h2.2M546.2,439.5h2.2M554.2,431.3V441.3M553.1,431.3h2.2M553.1,441.3h2.2M561.1,426.2V446.2M560.0,426.2h2.2M560.0,446.2h2.2M568.0,417.4V435.4M566.9,417.4h2.2M566.9,435.4h2.2M574.9,417.2V433.2M573.8,417.2h2.2M573.8,433.2h2.2M581.8,421.9V437.9M580.7,421.9h2.2M580.7,437.9h2.2M588.6,422.8V438.8M587.5,422.8h2.2M587.5,438.8h2.2M595.5,411.3V427.3M594.4,411.3h2.2M594.4,427.3h2.2M602.4,413.9V429.9M601.3,413.9h2.2M601.3,429.9h2.2M609.3,422.3V432.3M608.2,422.3h2.2M608.2,432.3h2.2M616.2,407.5V427.5M615.1,407.5h2.2M615.1,427.5h2.2M623.1,421.3V433.3M622.0,421.3h2.2M622.0,433.3h2.2M630.0,407.8V423.8M628.9,407.8h2.2M628.9,423.8h2.2M636.9,424.7V438.7M635.8,424.7h2.2M635.8,438.7h2.2M643.8,419.5V431.5M642.6,419.5h2.2M642.6,431.5h2.2M650.6,411.3V427.3M649.5,411.3h2.2M649.5,427.3h2.2M657.5,408.0V420.0M656.4,408.0h2.2M656.4,420.0h2.2M664.4,415.1V425.1M663.3,415.1h2.2M663.3,425.1h2.2M671.3,406.9V424.9M670.2,406.9h2.2M670.2,424.9h2.2M678.2,417.5V435.5M677.1,417.5h2.2M677.1,435.5h2.2M685.1,412.6V432.6M684.0,412.6h2.2M684.0,432.6h2.2M692.0,419.1V437.1M690.9,419.1h2.2M690.9,437.1h2.2M698.9,422.0V442.0M697.8,422.0h2.2M697.8,442.0h2.2M705.7,422.0V436.0M704.6,422.0h2.2M704.6,436.0h2.2M712.6,423.0V439.0M711.5,423.0h2.2M711.5,439.0h2.2M719.5,422.4V432.4M718.4,422.4h2.2M718.4,432.4h2.2M726.4,430.5V450.5M725.3,430.5h2.2M725.3,450.5h2.2M733.3,420.0V434.0M732.2,420.0h2.2M732.2,434.0h2.2M740.2,424.5V438.5M739.1,424.5h2.2M739.1,438.5h2.2M747.1,409.5V425.5M746.0,409.5h2.2M746.0,425.5h2.2M754.0,410.8V430.8M752.9,410.8h2.2M752.9,430.8h2.2M760.8,416.3V430.3M759.7,416.3h2.2M759.7,430.3h2.2M767.7,408.3V428.3M766.6,408.3h2.2M766.6,428.3h2.2M774.6,405.4V449.4M773.5,405.4h2.2M773.5,449.4h2.2M781.5,431.7V447.7M780.4,431.7h2.2M780.4,447.7h2.2" stroke="#3550a6" stroke-width="1.1" fill="none"/>
<path d="M450.9,431.9 L457.8,373.5 L464.7,386.6 L471.6,375.5 L478.4,371.6 L485.3,375.0 L492.2,374.4 L499.1,375.5 L506.0,384.6 L512.9,388.1 L519.8,422.0 L526.7,408.1 L533.5,417.9 L540.4,424.5 L547.3,434.5 L554.2,436.3 L561.1,436.2 L568.0,426.4 L574.9,425.2 L581.8,429.9 L588.6,430.8 L595.5,419.3 L602.4,421.9 L609.3,427.3 L616.2,417.5 L623.1,427.3 L630.0,415.8 L636.9,431.7 L643.8,425.5 L650.6,419.3 L657.5,414.0 L664.4,420.1 L671.3,415.9 L678.2,426.5 L685.1,422.6 L692.0,428.1 L698.9,432.0 L705.7,429.0 L712.6,431.0 L719.5,427.4 L726.4,440.5 L733.3,427.0 L740.2,431.5 L747.1,417.5 L754.0,420.8 L760.8,423.3 L767.7,418.3 L774.6,427.4 L781.5,439.7" stroke="#3550a6" stroke-width="1.45" fill="none" stroke-linejoin="round"/>
<rect x="449.5" y="430.5" width="2.7" height="2.7" rx="0.9" fill="#fff" stroke="#3550a6" stroke-width="1.2"/>
<rect x="456.4" y="372.1" width="2.7" height="2.7" rx="0.9" fill="#fff" stroke="#3550a6" stroke-width="1.2"/>
<rect x="463.3" y="385.2" width="2.7" height="2.7" rx="0.9" fill="#fff" stroke="#3550a6" stroke-width="1.2"/>
<rect x="470.2" y="374.1" width="2.7" height="2.7" rx="0.9" fill="#fff" stroke="#3550a6" stroke-width="1.2"/>
<rect x="477.1" y="370.2" width="2.7" height="2.7" rx="0.9" fill="#fff" stroke="#3550a6" stroke-width="1.2"/>
<rect x="484.0" y="373.6" width="2.7" height="2.7" rx="0.9" fill="#fff" stroke="#3550a6" stroke-width="1.2"/>
<rect x="490.9" y="373.0" width="2.7" height="2.7" rx="0.9" fill="#fff" stroke="#3550a6" stroke-width="1.2"/>
<rect x="497.8" y="374.1" width="2.7" height="2.7" rx="0.9" fill="#fff" stroke="#3550a6" stroke-width="1.2"/>
<rect x="504.6" y="383.2" width="2.7" height="2.7" rx="0.9" fill="#fff" stroke="#3550a6" stroke-width="1.2"/>
<rect x="511.5" y="386.8" width="2.7" height="2.7" rx="0.9" fill="#fff" stroke="#3550a6" stroke-width="1.2"/>
<rect x="518.4" y="420.6" width="2.7" height="2.7" rx="0.9" fill="#fff" stroke="#3550a6" stroke-width="1.2"/>
<rect x="525.3" y="406.8" width="2.7" height="2.7" rx="0.9" fill="#fff" stroke="#3550a6" stroke-width="1.2"/>
<rect x="532.2" y="416.5" width="2.7" height="2.7" rx="0.9" fill="#fff" stroke="#3550a6" stroke-width="1.2"/>
<rect x="539.1" y="423.1" width="2.7" height="2.7" rx="0.9" fill="#fff" stroke="#3550a6" stroke-width="1.2"/>
<rect x="546.0" y="433.1" width="2.7" height="2.7" rx="0.9" fill="#fff" stroke="#3550a6" stroke-width="1.2"/>
<rect x="552.9" y="434.9" width="2.7" height="2.7" rx="0.9" fill="#fff" stroke="#3550a6" stroke-width="1.2"/>
<rect x="559.8" y="434.8" width="2.7" height="2.7" rx="0.9" fill="#fff" stroke="#3550a6" stroke-width="1.2"/>
<rect x="566.6" y="425.0" width="2.7" height="2.7" rx="0.9" fill="#fff" stroke="#3550a6" stroke-width="1.2"/>
<rect x="573.5" y="423.8" width="2.7" height="2.7" rx="0.9" fill="#fff" stroke="#3550a6" stroke-width="1.2"/>
<rect x="580.4" y="428.5" width="2.7" height="2.7" rx="0.9" fill="#fff" stroke="#3550a6" stroke-width="1.2"/>
<rect x="587.3" y="429.4" width="2.7" height="2.7" rx="0.9" fill="#fff" stroke="#3550a6" stroke-width="1.2"/>
<rect x="594.2" y="417.9" width="2.7" height="2.7" rx="0.9" fill="#fff" stroke="#3550a6" stroke-width="1.2"/>
<rect x="601.1" y="420.5" width="2.7" height="2.7" rx="0.9" fill="#fff" stroke="#3550a6" stroke-width="1.2"/>
<rect x="608.0" y="425.9" width="2.7" height="2.7" rx="0.9" fill="#fff" stroke="#3550a6" stroke-width="1.2"/>
<rect x="614.9" y="416.1" width="2.7" height="2.7" rx="0.9" fill="#fff" stroke="#3550a6" stroke-width="1.2"/>
<rect x="621.7" y="425.9" width="2.7" height="2.7" rx="0.9" fill="#fff" stroke="#3550a6" stroke-width="1.2"/>
<rect x="628.6" y="414.4" width="2.7" height="2.7" rx="0.9" fill="#fff" stroke="#3550a6" stroke-width="1.2"/>
<rect x="635.5" y="430.3" width="2.7" height="2.7" rx="0.9" fill="#fff" stroke="#3550a6" stroke-width="1.2"/>
<rect x="642.4" y="424.1" width="2.7" height="2.7" rx="0.9" fill="#fff" stroke="#3550a6" stroke-width="1.2"/>
<rect x="649.3" y="417.9" width="2.7" height="2.7" rx="0.9" fill="#fff" stroke="#3550a6" stroke-width="1.2"/>
<rect x="656.2" y="412.6" width="2.7" height="2.7" rx="0.9" fill="#fff" stroke="#3550a6" stroke-width="1.2"/>
<rect x="663.1" y="418.8" width="2.7" height="2.7" rx="0.9" fill="#fff" stroke="#3550a6" stroke-width="1.2"/>
<rect x="669.9" y="414.5" width="2.7" height="2.7" rx="0.9" fill="#fff" stroke="#3550a6" stroke-width="1.2"/>
<rect x="676.8" y="425.1" width="2.7" height="2.7" rx="0.9" fill="#fff" stroke="#3550a6" stroke-width="1.2"/>
<rect x="683.7" y="421.2" width="2.7" height="2.7" rx="0.9" fill="#fff" stroke="#3550a6" stroke-width="1.2"/>
<rect x="690.6" y="426.8" width="2.7" height="2.7" rx="0.9" fill="#fff" stroke="#3550a6" stroke-width="1.2"/>
<rect x="697.5" y="430.6" width="2.7" height="2.7" rx="0.9" fill="#fff" stroke="#3550a6" stroke-width="1.2"/>
<rect x="704.4" y="427.6" width="2.7" height="2.7" rx="0.9" fill="#fff" stroke="#3550a6" stroke-width="1.2"/>
<rect x="711.3" y="429.6" width="2.7" height="2.7" rx="0.9" fill="#fff" stroke="#3550a6" stroke-width="1.2"/>
<rect x="718.2" y="426.0" width="2.7" height="2.7" rx="0.9" fill="#fff" stroke="#3550a6" stroke-width="1.2"/>
<rect x="725.0" y="439.1" width="2.7" height="2.7" rx="0.9" fill="#fff" stroke="#3550a6" stroke-width="1.2"/>
<rect x="731.9" y="425.6" width="2.7" height="2.7" rx="0.9" fill="#fff" stroke="#3550a6" stroke-width="1.2"/>
<rect x="738.8" y="430.1" width="2.7" height="2.7" rx="0.9" fill="#fff" stroke="#3550a6" stroke-width="1.2"/>
<rect x="745.7" y="416.1" width="2.7" height="2.7" rx="0.9" fill="#fff" stroke="#3550a6" stroke-width="1.2"/>
<rect x="752.6" y="419.4" width="2.7" height="2.7" rx="0.9" fill="#fff" stroke="#3550a6" stroke-width="1.2"/>
<rect x="759.5" y="421.9" width="2.7" height="2.7" rx="0.9" fill="#fff" stroke="#3550a6" stroke-width="1.2"/>
<rect x="766.4" y="416.9" width="2.7" height="2.7" rx="0.9" fill="#fff" stroke="#3550a6" stroke-width="1.2"/>
<rect x="773.3" y="426.0" width="2.7" height="2.7" rx="0.9" fill="#fff" stroke="#3550a6" stroke-width="1.2"/>
<rect x="780.1" y="438.3" width="2.7" height="2.7" rx="0.9" fill="#fff" stroke="#3550a6" stroke-width="1.2"/>
<path d="M450.9,408.5V414.5M449.8,408.5h2.2M449.8,414.5h2.2M457.8,380.9V398.9M456.7,380.9h2.2M456.7,398.9h2.2M464.7,450.9V458.9M463.6,450.9h2.2M463.6,458.9h2.2M471.6,458.7V468.7M470.5,458.7h2.2M470.5,468.7h2.2M478.4,425.6V441.6M477.3,425.6h2.2M477.3,441.6h2.2M485.3,438.5V446.5M484.2,438.5h2.2M484.2,446.5h2.2M492.2,432.2V442.2M491.1,432.2h2.2M491.1,442.2h2.2M499.1,435.4V451.4M498.0,435.4h2.2M498.0,451.4h2.2M506.0,407.7V427.7M504.9,407.7h2.2M504.9,427.7h2.2M512.9,418.3V438.3M511.8,418.3h2.2M511.8,438.3h2.2M519.8,438.4V454.4M518.7,438.4h2.2M518.7,454.4h2.2M526.7,433.6V449.6M525.6,433.6h2.2M525.6,449.6h2.2M533.5,434.4V452.4M532.4,434.4h2.2M532.4,452.4h2.2M540.4,441.4V459.4M539.3,441.4h2.2M539.3,459.4h2.2M547.3,435.1V455.1M546.2,435.1h2.2M546.2,455.1h2.2M554.2,430.1V446.1M553.1,430.1h2.2M553.1,446.1h2.2M561.1,428.6V452.6M560.0,428.6h2.2M560.0,452.6h2.2M568.0,416.4V436.4M566.9,416.4h2.2M566.9,436.4h2.2M574.9,416.2V434.2M573.8,416.2h2.2M573.8,434.2h2.2M581.8,417.2V453.2M580.7,417.2h2.2M580.7,453.2h2.2M588.6,419.9V439.9M587.5,419.9h2.2M587.5,439.9h2.2M595.5,409.3V429.3M594.4,409.3h2.2M594.4,429.3h2.2M602.4,392.8V438.8M601.3,392.8h2.2M601.3,438.8h2.2M609.3,400.8V414.8M608.2,400.8h2.2M608.2,414.8h2.2M616.2,438.9V466.9M615.1,438.9h2.2M615.1,466.9h2.2M623.1,393.0V419.0M622.0,393.0h2.2M622.0,419.0h2.2M630.0,362.7V392.7M628.9,362.7h2.2M628.9,392.7h2.2M636.9,448.5V464.5M635.8,448.5h2.2M635.8,464.5h2.2M643.8,427.5V453.5M642.6,427.5h2.2M642.6,453.5h2.2M650.6,375.2V419.2M649.5,375.2h2.2M649.5,419.2h2.2M657.5,433.8V449.8M656.4,433.8h2.2M656.4,449.8h2.2M664.4,412.3V430.3M663.3,412.3h2.2M663.3,430.3h2.2M671.3,418.2V450.2M670.2,418.2h2.2M670.2,450.2h2.2M678.2,432.3V450.3M677.1,432.3h2.2M677.1,450.3h2.2M685.1,445.7V461.7M684.0,445.7h2.2M684.0,461.7h2.2M692.0,439.0V465.0M690.9,439.0h2.2M690.9,465.0h2.2M698.9,443.3V467.3M697.8,443.3h2.2M697.8,467.3h2.2M705.7,424.9V448.9M704.6,424.9h2.2M704.6,448.9h2.2M712.6,422.3V442.3M711.5,422.3h2.2M711.5,442.3h2.2M719.5,447.6V473.6M718.4,447.6h2.2M718.4,473.6h2.2M726.4,435.1V455.1M725.3,435.1h2.2M725.3,455.1h2.2M733.3,442.4V458.4M732.2,442.4h2.2M732.2,458.4h2.2M740.2,435.5V455.5M739.1,435.5h2.2M739.1,455.5h2.2M747.1,442.4V458.4M746.0,442.4h2.2M746.0,458.4h2.2M754.0,431.5V459.5M752.9,431.5h2.2M752.9,459.5h2.2M760.8,407.4V447.4M759.7,407.4h2.2M759.7,447.4h2.2M767.7,449.7V475.7M766.6,449.7h2.2M766.6,475.7h2.2M774.6,438.6V478.6M773.5,438.6h2.2M773.5,478.6h2.2M781.5,430.0V456.0M780.4,430.0h2.2M780.4,456.0h2.2" stroke="#ec2129" stroke-width="1.1" fill="none"/>
<path d="M450.9,411.5 L457.8,389.9 L464.7,454.9 L471.6,463.7 L478.4,433.6 L485.3,442.5 L492.2,437.2 L499.1,443.4 L506.0,417.7 L512.9,428.3 L519.8,446.4 L526.7,441.6 L533.5,443.4 L540.4,450.4 L547.3,445.1 L554.2,438.1 L561.1,440.6 L568.0,426.4 L574.9,425.2 L581.8,435.2 L588.6,429.9 L595.5,419.3 L602.4,415.8 L609.3,407.8 L616.2,452.9 L623.1,406.0 L630.0,377.7 L636.9,456.5 L643.8,440.5 L650.6,397.2 L657.5,441.8 L664.4,421.3 L671.3,434.2 L678.2,441.3 L685.1,453.7 L692.0,452.0 L698.9,455.3 L705.7,436.9 L712.6,432.3 L719.5,460.6 L726.4,445.1 L733.3,450.4 L740.2,445.5 L747.1,450.4 L754.0,445.5 L760.8,427.4 L767.7,462.7 L774.6,458.6 L781.5,443.0" stroke="#ec2129" stroke-width="1.45" fill="none" stroke-linejoin="round"/>
<rect x="449.5" y="410.1" width="2.7" height="2.7" rx="0.9" fill="#fff" stroke="#ec2129" stroke-width="1.2"/>
<rect x="456.4" y="388.5" width="2.7" height="2.7" rx="0.9" fill="#fff" stroke="#ec2129" stroke-width="1.2"/>
<rect x="463.3" y="453.5" width="2.7" height="2.7" rx="0.9" fill="#fff" stroke="#ec2129" stroke-width="1.2"/>
<rect x="470.2" y="462.3" width="2.7" height="2.7" rx="0.9" fill="#fff" stroke="#ec2129" stroke-width="1.2"/>
<rect x="477.1" y="432.2" width="2.7" height="2.7" rx="0.9" fill="#fff" stroke="#ec2129" stroke-width="1.2"/>
<rect x="484.0" y="441.1" width="2.7" height="2.7" rx="0.9" fill="#fff" stroke="#ec2129" stroke-width="1.2"/>
<rect x="490.9" y="435.8" width="2.7" height="2.7" rx="0.9" fill="#fff" stroke="#ec2129" stroke-width="1.2"/>
<rect x="497.8" y="442.0" width="2.7" height="2.7" rx="0.9" fill="#fff" stroke="#ec2129" stroke-width="1.2"/>
<rect x="504.6" y="416.3" width="2.7" height="2.7" rx="0.9" fill="#fff" stroke="#ec2129" stroke-width="1.2"/>
<rect x="511.5" y="426.9" width="2.7" height="2.7" rx="0.9" fill="#fff" stroke="#ec2129" stroke-width="1.2"/>
<rect x="518.4" y="445.0" width="2.7" height="2.7" rx="0.9" fill="#fff" stroke="#ec2129" stroke-width="1.2"/>
<rect x="525.3" y="440.2" width="2.7" height="2.7" rx="0.9" fill="#fff" stroke="#ec2129" stroke-width="1.2"/>
<rect x="532.2" y="442.0" width="2.7" height="2.7" rx="0.9" fill="#fff" stroke="#ec2129" stroke-width="1.2"/>
<rect x="539.1" y="449.0" width="2.7" height="2.7" rx="0.9" fill="#fff" stroke="#ec2129" stroke-width="1.2"/>
<rect x="546.0" y="443.8" width="2.7" height="2.7" rx="0.9" fill="#fff" stroke="#ec2129" stroke-width="1.2"/>
<rect x="552.9" y="436.8" width="2.7" height="2.7" rx="0.9" fill="#fff" stroke="#ec2129" stroke-width="1.2"/>
<rect x="559.8" y="439.2" width="2.7" height="2.7" rx="0.9" fill="#fff" stroke="#ec2129" stroke-width="1.2"/>
<rect x="566.6" y="425.0" width="2.7" height="2.7" rx="0.9" fill="#fff" stroke="#ec2129" stroke-width="1.2"/>
<rect x="573.5" y="423.8" width="2.7" height="2.7" rx="0.9" fill="#fff" stroke="#ec2129" stroke-width="1.2"/>
<rect x="580.4" y="433.8" width="2.7" height="2.7" rx="0.9" fill="#fff" stroke="#ec2129" stroke-width="1.2"/>
<rect x="587.3" y="428.5" width="2.7" height="2.7" rx="0.9" fill="#fff" stroke="#ec2129" stroke-width="1.2"/>
<rect x="594.2" y="417.9" width="2.7" height="2.7" rx="0.9" fill="#fff" stroke="#ec2129" stroke-width="1.2"/>
<rect x="601.1" y="414.4" width="2.7" height="2.7" rx="0.9" fill="#fff" stroke="#ec2129" stroke-width="1.2"/>
<rect x="608.0" y="406.4" width="2.7" height="2.7" rx="0.9" fill="#fff" stroke="#ec2129" stroke-width="1.2"/>
<rect x="614.9" y="451.5" width="2.7" height="2.7" rx="0.9" fill="#fff" stroke="#ec2129" stroke-width="1.2"/>
<rect x="621.7" y="404.6" width="2.7" height="2.7" rx="0.9" fill="#fff" stroke="#ec2129" stroke-width="1.2"/>
<rect x="628.6" y="376.3" width="2.7" height="2.7" rx="0.9" fill="#fff" stroke="#ec2129" stroke-width="1.2"/>
<rect x="635.5" y="455.1" width="2.7" height="2.7" rx="0.9" fill="#fff" stroke="#ec2129" stroke-width="1.2"/>
<rect x="642.4" y="439.1" width="2.7" height="2.7" rx="0.9" fill="#fff" stroke="#ec2129" stroke-width="1.2"/>
<rect x="649.3" y="395.8" width="2.7" height="2.7" rx="0.9" fill="#fff" stroke="#ec2129" stroke-width="1.2"/>
<rect x="656.2" y="440.4" width="2.7" height="2.7" rx="0.9" fill="#fff" stroke="#ec2129" stroke-width="1.2"/>
<rect x="663.1" y="419.9" width="2.7" height="2.7" rx="0.9" fill="#fff" stroke="#ec2129" stroke-width="1.2"/>
<rect x="669.9" y="432.8" width="2.7" height="2.7" rx="0.9" fill="#fff" stroke="#ec2129" stroke-width="1.2"/>
<rect x="676.8" y="439.9" width="2.7" height="2.7" rx="0.9" fill="#fff" stroke="#ec2129" stroke-width="1.2"/>
<rect x="683.7" y="452.3" width="2.7" height="2.7" rx="0.9" fill="#fff" stroke="#ec2129" stroke-width="1.2"/>
<rect x="690.6" y="450.6" width="2.7" height="2.7" rx="0.9" fill="#fff" stroke="#ec2129" stroke-width="1.2"/>
<rect x="697.5" y="453.9" width="2.7" height="2.7" rx="0.9" fill="#fff" stroke="#ec2129" stroke-width="1.2"/>
<rect x="704.4" y="435.5" width="2.7" height="2.7" rx="0.9" fill="#fff" stroke="#ec2129" stroke-width="1.2"/>
<rect x="711.3" y="430.9" width="2.7" height="2.7" rx="0.9" fill="#fff" stroke="#ec2129" stroke-width="1.2"/>
<rect x="718.2" y="459.2" width="2.7" height="2.7" rx="0.9" fill="#fff" stroke="#ec2129" stroke-width="1.2"/>
<rect x="725.0" y="443.8" width="2.7" height="2.7" rx="0.9" fill="#fff" stroke="#ec2129" stroke-width="1.2"/>
<rect x="731.9" y="449.0" width="2.7" height="2.7" rx="0.9" fill="#fff" stroke="#ec2129" stroke-width="1.2"/>
<rect x="738.8" y="444.1" width="2.7" height="2.7" rx="0.9" fill="#fff" stroke="#ec2129" stroke-width="1.2"/>
<rect x="745.7" y="449.0" width="2.7" height="2.7" rx="0.9" fill="#fff" stroke="#ec2129" stroke-width="1.2"/>
<rect x="752.6" y="444.1" width="2.7" height="2.7" rx="0.9" fill="#fff" stroke="#ec2129" stroke-width="1.2"/>
<rect x="759.5" y="426.0" width="2.7" height="2.7" rx="0.9" fill="#fff" stroke="#ec2129" stroke-width="1.2"/>
<rect x="766.4" y="461.3" width="2.7" height="2.7" rx="0.9" fill="#fff" stroke="#ec2129" stroke-width="1.2"/>
<rect x="773.3" y="457.2" width="2.7" height="2.7" rx="0.9" fill="#fff" stroke="#ec2129" stroke-width="1.2"/>
<rect x="780.1" y="441.6" width="2.7" height="2.7" rx="0.9" fill="#fff" stroke="#ec2129" stroke-width="1.2"/>
<circle cx="476.6" cy="351.1" r="1.35" fill="#333"/>
<circle cx="480.1" cy="351.1" r="1.35" fill="#333"/>
<circle cx="483.6" cy="356.7" r="1.35" fill="#333"/>
<circle cx="487.1" cy="356.7" r="1.35" fill="#333"/>
<circle cx="490.4" cy="351.8" r="1.35" fill="#333"/>
<circle cx="493.9" cy="351.8" r="1.35" fill="#333"/>
<circle cx="497.2" cy="356.7" r="1.35" fill="#333"/>
<circle cx="500.8" cy="356.7" r="1.35" fill="#333"/>
<circle cx="469.8" cy="361.7" r="1.35" fill="#333"/>
<circle cx="473.2" cy="361.7" r="1.35" fill="#333"/>
<circle cx="462.9" cy="377.4" r="1.35" fill="#333"/>
<circle cx="466.4" cy="377.4" r="1.35" fill="#333"/>
<circle cx="745.4" cy="404.7" r="1.35" fill="#333"/>
<circle cx="748.9" cy="404.7" r="1.35" fill="#333"/>
<rect x="45" y="566.4" width="338.2" height="208.10000000000002" fill="none" stroke="#111" stroke-width="1.4"/>
<line x1="42.4" y1="760.3" x2="45" y2="760.3" stroke="#111" stroke-width="1.2"/>
<text x="41.1" y="762.7" font-size="12.4" text-anchor="end" >0</text>
<line x1="42.4" y1="732.6" x2="45" y2="732.6" stroke="#111" stroke-width="1.2"/>
<text x="41.1" y="735.0" font-size="12.4" text-anchor="end" >10</text>
<line x1="42.4" y1="705.0" x2="45" y2="705.0" stroke="#111" stroke-width="1.2"/>
<text x="41.1" y="707.4" font-size="12.4" text-anchor="end" >20</text>
<line x1="42.4" y1="677.3" x2="45" y2="677.3" stroke="#111" stroke-width="1.2"/>
<text x="41.1" y="679.7" font-size="12.4" text-anchor="end" >30</text>
<line x1="42.4" y1="649.6" x2="45" y2="649.6" stroke="#111" stroke-width="1.2"/>
<text x="41.1" y="652.0" font-size="12.4" text-anchor="end" >40</text>
<line x1="42.4" y1="621.9" x2="45" y2="621.9" stroke="#111" stroke-width="1.2"/>
<text x="41.1" y="624.3" font-size="12.4" text-anchor="end" >50</text>
<line x1="42.4" y1="594.3" x2="45" y2="594.3" stroke="#111" stroke-width="1.2"/>
<text x="41.1" y="596.7" font-size="12.4" text-anchor="end" >60</text>
<line x1="42.4" y1="566.6" x2="45" y2="566.6" stroke="#111" stroke-width="1.2"/>
<text x="41.1" y="569.0" font-size="12.4" text-anchor="end" >70</text>
<line x1="43" y1="746.5" x2="45" y2="746.5" stroke="#111" stroke-width="1.1"/>
<line x1="43" y1="718.8" x2="45" y2="718.8" stroke="#111" stroke-width="1.1"/>
<line x1="43" y1="691.1" x2="45" y2="691.1" stroke="#111" stroke-width="1.1"/>
<line x1="43" y1="663.5" x2="45" y2="663.5" stroke="#111" stroke-width="1.1"/>
<line x1="43" y1="635.8" x2="45" y2="635.8" stroke="#111" stroke-width="1.1"/>
<line x1="43" y1="608.1" x2="45" y2="608.1" stroke="#111" stroke-width="1.1"/>
<line x1="43" y1="580.4" x2="45" y2="580.4" stroke="#111" stroke-width="1.1"/>
<line x1="46" y1="760.3" x2="382.2" y2="760.3" stroke="#111" stroke-width="1.2" stroke-dasharray="1.5 1.45"/>
<text transform="translate(18.6,661.8) rotate(-90)" x="0" y="0" font-size="12.4" text-anchor="middle">Locomotor Activity (counts/bin)</text>
<rect x="45" y="769.1" width="338.2" height="5.4" fill="#111"/>
<rect x="67.6" y="770.9" width="35.4" height="1.8" fill="#fff"/>
<rect x="123.4" y="770.9" width="35.3" height="1.8" fill="#fff"/>
<rect x="179.1" y="770.9" width="35.4" height="1.8" fill="#fff"/>
<rect x="234.9" y="770.9" width="35.4" height="1.8" fill="#fff"/>
<rect x="290.7" y="770.9" width="35.4" height="1.8" fill="#fff"/>
<rect x="346.4" y="770.9" width="35.1" height="1.8" fill="#fff"/>
<line x1="45" y1="775.1" x2="383.2" y2="775.1" stroke="#333" stroke-width="1" stroke-dasharray="1 1.5"/>
<text x="48.0" y="785.5" font-size="11.8" text-anchor="middle" >16</text>
<text x="66.6" y="785.5" font-size="11.8" text-anchor="middle" >0</text>
<text x="85.2" y="785.5" font-size="11.8" text-anchor="middle" >8</text>
<text x="103.8" y="785.5" font-size="11.8" text-anchor="middle" >16</text>
<text x="122.4" y="785.5" font-size="11.8" text-anchor="middle" >0</text>
<text x="140.9" y="785.5" font-size="11.8" text-anchor="middle" >8</text>
<text x="159.5" y="785.5" font-size="11.8" text-anchor="middle" >16</text>
<text x="178.1" y="785.5" font-size="11.8" text-anchor="middle" >0</text>
<text x="196.7" y="785.5" font-size="11.8" text-anchor="middle" >8</text>
<text x="215.3" y="785.5" font-size="11.8" text-anchor="middle" >16</text>
<text x="233.9" y="785.5" font-size="11.8" text-anchor="middle" >0</text>
<text x="252.5" y="785.5" font-size="11.8" text-anchor="middle" >8</text>
<text x="271.1" y="785.5" font-size="11.8" text-anchor="middle" >16</text>
<text x="289.7" y="785.5" font-size="11.8" text-anchor="middle" >0</text>
<text x="308.3" y="785.5" font-size="11.8" text-anchor="middle" >8</text>
<text x="326.9" y="785.5" font-size="11.8" text-anchor="middle" >16</text>
<text x="345.4" y="785.5" font-size="11.8" text-anchor="middle" >0</text>
<text x="364.0" y="785.5" font-size="11.8" text-anchor="middle" >8</text>
<text x="382.6" y="785.5" font-size="11.8" text-anchor="middle" >16</text>
<text x="215.4" y="799.7" font-size="12.4" text-anchor="middle" >Time (ZT)</text>
<text x="95.0" y="583.7" font-size="18.85" text-anchor="start" >RHYTH- ZT 16 INJECTION</text>
<text x="49.5" y="583.7" font-size="18.8" text-anchor="start" >E</text>
<line x1="341.3" y1="575.2" x2="351.8" y2="575.2" stroke="#ec2129" stroke-width="1.6"/>
<circle cx="346.6" cy="575.2" r="2.3" fill="#ec2129"/>
<text x="355.0" y="579.7" font-size="12.2" text-anchor="start" >SAL</text>
<line x1="341.3" y1="587.7" x2="351.8" y2="587.7" stroke="#3550a6" stroke-width="1.6"/>
<circle cx="346.6" cy="587.7" r="2.3" fill="#3550a6"/>
<text x="355.0" y="591.4" font-size="12.2" text-anchor="start" >LPS</text>
<line x1="103.7" y1="641.4" x2="103.7" y2="648.85" stroke="#000" stroke-width="1.9"/>
<path d="M99.3,647.2 L108.1,647.2 L103.7,662.9 Z" fill="#000"/>
<path d="M45.6,743.6V751.4M44.5,743.6h2.2M44.5,751.4h2.2M47.9,740.1V749.0M46.8,740.1h2.2M46.8,749.0h2.2M50.2,714.2V745.5M49.1,714.2h2.2M49.1,745.5h2.2M52.6,635.3V717.2M51.5,635.3h2.2M51.5,717.2h2.2M54.9,603.0V685.7M53.8,603.0h2.2M53.8,685.7h2.2M57.2,603.0V640.2M56.1,603.0h2.2M56.1,640.2h2.2M59.5,603.0V632.1M58.4,603.0h2.2M58.4,632.1h2.2M61.9,603.0V667.5M60.8,603.0h2.2M60.8,667.5h2.2M64.2,594.4V694.3M63.1,594.4h2.2M63.1,694.3h2.2M66.5,591.6V676.3M65.4,591.6h2.2M65.4,676.3h2.2M68.8,603.0V663.0M67.7,603.0h2.2M67.7,663.0h2.2M71.2,705.1V738.9M70.1,705.1h2.2M70.1,738.9h2.2M73.5,740.6V750.9M72.4,740.6h2.2M72.4,750.9h2.2M75.8,742.6V750.7M74.7,742.6h2.2M74.7,750.7h2.2M78.1,742.6V749.8M77.0,742.6h2.2M77.0,749.8h2.2M80.5,743.6V750.4M79.4,743.6h2.2M79.4,750.4h2.2M82.8,744.4V751.5M81.7,744.4h2.2M81.7,751.5h2.2M85.1,735.7V747.7M84.0,735.7h2.2M84.0,747.7h2.2M87.4,721.3V747.3M86.3,721.3h2.2M86.3,747.3h2.2M89.8,726.4V748.7M88.7,726.4h2.2M88.7,748.7h2.2M92.1,741.4V750.8M91.0,741.4h2.2M91.0,750.8h2.2M94.4,747.4V751.9M93.3,747.4h2.2M93.3,751.9h2.2M96.7,749.1V753.1M95.6,749.1h2.2M95.6,753.1h2.2M99.1,748.6V752.6M98.0,748.6h2.2M98.0,752.6h2.2M101.4,747.9V752.0M100.3,747.9h2.2M100.3,752.0h2.2M103.7,748.0V752.0M102.6,748.0h2.2M102.6,752.0h2.2M106.0,673.2V739.4M104.9,673.2h2.2M104.9,739.4h2.2M108.3,644.2V735.7M107.2,644.2h2.2M107.2,735.7h2.2M110.7,733.1V748.0M109.6,733.1h2.2M109.6,748.0h2.2M113.0,751.4V755.4M111.9,751.4h2.2M111.9,755.4h2.2M115.3,750.6V754.6M114.2,750.6h2.2M114.2,754.6h2.2M117.6,743.6V750.7M116.5,743.6h2.2M116.5,750.7h2.2M120.0,735.1V747.4M118.9,735.1h2.2M118.9,747.4h2.2M122.3,721.9V743.6M121.2,721.9h2.2M121.2,743.6h2.2M124.6,729.8V746.4M123.5,729.8h2.2M123.5,746.4h2.2M126.9,747.4V751.9M125.8,747.4h2.2M125.8,751.9h2.2M129.3,748.8V752.8M128.2,748.8h2.2M128.2,752.8h2.2M131.6,749.0V753.0M130.5,749.0h2.2M130.5,753.0h2.2M133.9,747.4V751.8M132.8,747.4h2.2M132.8,751.8h2.2M136.2,749.1V753.1M135.1,749.1h2.2M135.1,753.1h2.2M138.6,750.6V754.6M137.5,750.6h2.2M137.5,754.6h2.2M140.9,750.3V754.3M139.8,750.3h2.2M139.8,754.3h2.2M143.2,746.9V751.6M142.1,746.9h2.2M142.1,751.6h2.2M145.5,748.1V752.1M144.4,748.1h2.2M144.4,752.1h2.2M147.9,749.1V753.1M146.8,749.1h2.2M146.8,753.1h2.2M150.2,749.6V753.6M149.1,749.6h2.2M149.1,753.6h2.2M152.5,752.0V756.0M151.4,752.0h2.2M151.4,756.0h2.2M154.8,751.8V755.8M153.7,751.8h2.2M153.7,755.8h2.2M157.2,748.5V752.5M156.1,748.5h2.2M156.1,752.5h2.2M159.5,740.8V750.6M158.4,740.8h2.2M158.4,750.6h2.2M161.8,707.0V740.0M160.7,707.0h2.2M160.7,740.0h2.2M164.1,700.5V742.1M163.0,700.5h2.2M163.0,742.1h2.2M166.4,682.4V742.8M165.3,682.4h2.2M165.3,742.8h2.2M168.8,685.3V739.8M167.7,685.3h2.2M167.7,739.8h2.2M171.1,699.3V736.2M170.0,699.3h2.2M170.0,736.2h2.2M173.4,709.4V738.3M172.3,709.4h2.2M172.3,738.3h2.2M175.7,662.9V734.7M174.6,662.9h2.2M174.6,734.7h2.2M178.1,701.2V733.6M177.0,701.2h2.2M177.0,733.6h2.2M180.4,730.4V745.7M179.3,730.4h2.2M179.3,745.7h2.2M182.7,744.4V750.9M181.6,744.4h2.2M181.6,750.9h2.2M185.0,749.2V753.2M183.9,749.2h2.2M183.9,753.2h2.2M187.4,747.5V751.9M186.3,747.5h2.2M186.3,751.9h2.2M189.7,746.7V751.7M188.6,746.7h2.2M188.6,751.7h2.2M192.0,748.6V752.6M190.9,748.6h2.2M190.9,752.6h2.2M194.3,744.5V751.3M193.2,744.5h2.2M193.2,751.3h2.2M196.7,738.7V750.1M195.6,738.7h2.2M195.6,750.1h2.2M199.0,729.8V745.9M197.9,729.8h2.2M197.9,745.9h2.2M201.3,733.8V747.6M200.2,733.8h2.2M200.2,747.6h2.2M203.6,747.1V751.7M202.5,747.1h2.2M202.5,751.7h2.2M206.0,750.6V754.6M204.9,750.6h2.2M204.9,754.6h2.2M208.3,751.2V755.2M207.2,751.2h2.2M207.2,755.2h2.2M210.6,751.6V755.6M209.5,751.6h2.2M209.5,755.6h2.2M212.9,750.8V754.8M211.8,750.8h2.2M211.8,754.8h2.2M215.3,746.4V751.6M214.2,746.4h2.2M214.2,751.6h2.2M217.6,722.2V745.9M216.5,722.2h2.2M216.5,745.9h2.2M219.9,700.5V733.5M218.8,700.5h2.2M218.8,733.5h2.2M222.2,683.9V729.3M221.1,683.9h2.2M221.1,729.3h2.2M224.5,643.1V729.2M223.4,643.1h2.2M223.4,729.2h2.2M226.9,619.3V734.8M225.8,619.3h2.2M225.8,734.8h2.2M229.2,627.5V736.2M228.1,627.5h2.2M228.1,736.2h2.2M231.5,630.3V720.3M230.4,630.3h2.2M230.4,720.3h2.2M233.8,650.4V729.6M232.7,650.4h2.2M232.7,729.6h2.2M236.2,709.8V745.3M235.1,709.8h2.2M235.1,745.3h2.2M238.5,732.6V747.0M237.4,732.6h2.2M237.4,747.0h2.2M240.8,743.2V750.8M239.7,743.2h2.2M239.7,750.8h2.2M243.1,747.5V751.8M242.0,747.5h2.2M242.0,751.8h2.2M245.5,748.3V752.3M244.4,748.3h2.2M244.4,752.3h2.2M247.8,748.8V752.8M246.7,748.8h2.2M246.7,752.8h2.2M250.1,746.3V751.4M249.0,746.3h2.2M249.0,751.4h2.2M252.4,740.2V749.4M251.3,740.2h2.2M251.3,749.4h2.2M254.8,734.8V748.5M253.7,734.8h2.2M253.7,748.5h2.2M257.1,736.6V749.5M256.0,736.6h2.2M256.0,749.5h2.2M259.4,735.5V750.1M258.3,735.5h2.2M258.3,750.1h2.2M261.7,743.2V751.1M260.6,743.2h2.2M260.6,751.1h2.2M264.1,747.9V752.0M263.0,747.9h2.2M263.0,752.0h2.2M266.4,748.6V752.6M265.3,748.6h2.2M265.3,752.6h2.2M268.7,748.4V752.4M267.6,748.4h2.2M267.6,752.4h2.2M271.0,748.1V752.1M269.9,748.1h2.2M269.9,752.1h2.2M273.4,712.4V741.6M272.3,712.4h2.2M272.3,741.6h2.2M275.7,671.4V740.7M274.6,671.4h2.2M274.6,740.7h2.2M278.0,650.8V721.4M276.9,650.8h2.2M276.9,721.4h2.2M280.3,621.7V712.2M279.2,621.7h2.2M279.2,712.2h2.2M282.6,596.0V653.7M281.5,596.0h2.2M281.5,653.7h2.2M285.0,596.0V668.7M283.9,596.0h2.2M283.9,668.7h2.2M287.3,599.5V706.5M286.2,599.5h2.2M286.2,706.5h2.2M289.6,612.7V707.5M288.5,612.7h2.2M288.5,707.5h2.2M291.9,675.7V733.4M290.8,675.7h2.2M290.8,733.4h2.2M294.3,721.6V745.9M293.2,721.6h2.2M293.2,745.9h2.2M296.6,743.5V750.6M295.5,743.5h2.2M295.5,750.6h2.2M298.9,746.4V751.8M297.8,746.4h2.2M297.8,751.8h2.2M301.2,744.0V751.3M300.1,744.0h2.2M300.1,751.3h2.2M303.6,740.6V750.3M302.5,740.6h2.2M302.5,750.3h2.2M305.9,740.9V750.1M304.8,740.9h2.2M304.8,750.1h2.2M308.2,746.3V751.5M307.1,746.3h2.2M307.1,751.5h2.2M310.5,746.5V751.4M309.4,746.5h2.2M309.4,751.4h2.2M312.9,745.2V751.5M311.8,745.2h2.2M311.8,751.5h2.2M315.2,746.8V751.8M314.1,746.8h2.2M314.1,751.8h2.2M317.5,746.6V751.4M316.4,746.6h2.2M316.4,751.4h2.2M319.8,745.4V751.5M318.7,745.4h2.2M318.7,751.5h2.2M322.2,745.8V751.4M321.1,745.8h2.2M321.1,751.4h2.2M324.5,744.2V751.0M323.4,744.2h2.2M323.4,751.0h2.2M326.8,746.3V751.4M325.7,746.3h2.2M325.7,751.4h2.2M329.1,734.2V748.4M328.0,734.2h2.2M328.0,748.4h2.2M331.5,690.0V741.8M330.4,690.0h2.2M330.4,741.8h2.2M333.8,623.6V731.1M332.7,623.6h2.2M332.7,731.1h2.2M336.1,590.5V673.2M335.0,590.5h2.2M335.0,673.2h2.2M338.4,596.8V681.1M337.3,596.8h2.2M337.3,681.1h2.2M340.7,590.0V674.8M339.6,590.0h2.2M339.6,674.8h2.2M343.1,607.2V709.4M342.0,607.2h2.2M342.0,709.4h2.2M345.4,625.7V701.0M344.3,625.7h2.2M344.3,701.0h2.2M347.7,617.6V735.0M346.6,617.6h2.2M346.6,735.0h2.2M350.0,702.0V739.2M348.9,702.0h2.2M348.9,739.2h2.2M352.4,741.2V749.4M351.3,741.2h2.2M351.3,749.4h2.2M354.7,748.6V752.6M353.6,748.6h2.2M353.6,752.6h2.2M357.0,747.3V751.7M355.9,747.3h2.2M355.9,751.7h2.2M359.3,745.1V751.0M358.2,745.1h2.2M358.2,751.0h2.2M361.7,745.6V751.5M360.6,745.6h2.2M360.6,751.5h2.2M364.0,731.6V747.9M362.9,731.6h2.2M362.9,747.9h2.2M366.3,735.8V749.0M365.2,735.8h2.2M365.2,749.0h2.2M368.6,736.4V749.8M367.5,736.4h2.2M367.5,749.8h2.2M371.0,731.1V747.8M369.9,731.1h2.2M369.9,747.8h2.2M373.3,745.8V751.3M372.2,745.8h2.2M372.2,751.3h2.2M375.6,745.9V751.4M374.5,745.9h2.2M374.5,751.4h2.2M377.9,744.3V751.0M376.8,744.3h2.2M376.8,751.0h2.2M380.3,744.8V751.4M379.2,744.8h2.2M379.2,751.4h2.2M382.6,742.6V750.1M381.5,742.6h2.2M381.5,750.1h2.2" stroke="#3550a6" stroke-width="1.0" fill="none"/>
<path d="M45.6,747.5 L47.9,744.6 L50.2,729.9 L52.6,676.3 L54.9,644.3 L57.2,621.6 L59.5,617.6 L61.9,635.2 L64.2,644.3 L66.5,634.0 L68.8,633.0 L71.2,722.0 L73.5,745.7 L75.8,746.6 L78.1,746.2 L80.5,747.0 L82.8,748.0 L85.1,741.7 L87.4,734.3 L89.8,737.5 L92.1,746.1 L94.4,749.6 L96.7,751.1 L99.1,750.6 L101.4,749.9 L103.7,750.0 L106.0,706.3 L108.3,689.9 L110.7,740.6 L113.0,753.4 L115.3,752.6 L117.6,747.1 L120.0,741.3 L122.3,732.7 L124.6,738.1 L126.9,749.6 L129.3,750.8 L131.6,751.0 L133.9,749.6 L136.2,751.1 L138.6,752.6 L140.9,752.3 L143.2,749.3 L145.5,750.1 L147.9,751.1 L150.2,751.6 L152.5,754.0 L154.8,753.8 L157.2,750.5 L159.5,745.7 L161.8,723.5 L164.1,721.3 L166.4,712.6 L168.8,712.6 L171.1,717.7 L173.4,723.8 L175.7,698.8 L178.1,717.4 L180.4,738.1 L182.7,747.6 L185.0,751.2 L187.4,749.7 L189.7,749.2 L192.0,750.6 L194.3,747.9 L196.7,744.4 L199.0,737.9 L201.3,740.7 L203.6,749.4 L206.0,752.6 L208.3,753.2 L210.6,753.6 L212.9,752.8 L215.3,749.0 L217.6,734.0 L219.9,717.0 L222.2,706.6 L224.5,686.1 L226.9,677.1 L229.2,681.9 L231.5,675.3 L233.8,690.0 L236.2,727.5 L238.5,739.8 L240.8,747.0 L243.1,749.7 L245.5,750.3 L247.8,750.8 L250.1,748.8 L252.4,744.8 L254.8,741.7 L257.1,743.0 L259.4,742.8 L261.7,747.2 L264.1,750.0 L266.4,750.6 L268.7,750.4 L271.0,750.1 L273.4,727.0 L275.7,706.0 L278.0,686.1 L280.3,666.9 L282.6,624.8 L285.0,632.4 L287.3,653.0 L289.6,660.1 L291.9,704.5 L294.3,733.8 L296.6,747.0 L298.9,749.1 L301.2,747.6 L303.6,745.5 L305.9,745.5 L308.2,748.9 L310.5,749.0 L312.9,748.4 L315.2,749.3 L317.5,749.0 L319.8,748.5 L322.2,748.6 L324.5,747.6 L326.8,748.8 L329.1,741.3 L331.5,715.9 L333.8,677.4 L336.1,631.9 L338.4,639.0 L340.7,632.4 L343.1,658.3 L345.4,663.4 L347.7,676.3 L350.0,720.6 L352.4,745.3 L354.7,750.6 L357.0,749.5 L359.3,748.0 L361.7,748.6 L364.0,739.8 L366.3,742.4 L368.6,743.1 L371.0,739.5 L373.3,748.6 L375.6,748.6 L377.9,747.6 L380.3,748.1 L382.6,746.3" stroke="#3550a6" stroke-width="1.5" fill="none" stroke-linejoin="round"/>
<rect x="44.1" y="746.0" width="2.9" height="2.9" fill="#3550a6"/>
<rect x="46.5" y="743.1" width="2.9" height="2.9" fill="#3550a6"/>
<rect x="48.8" y="728.4" width="2.9" height="2.9" fill="#3550a6"/>
<rect x="51.1" y="674.8" width="2.9" height="2.9" fill="#3550a6"/>
<rect x="53.4" y="642.9" width="2.9" height="2.9" fill="#3550a6"/>
<rect x="55.8" y="620.1" width="2.9" height="2.9" fill="#3550a6"/>
<rect x="58.1" y="616.1" width="2.9" height="2.9" fill="#3550a6"/>
<rect x="60.4" y="633.8" width="2.9" height="2.9" fill="#3550a6"/>
<rect x="62.7" y="642.9" width="2.9" height="2.9" fill="#3550a6"/>
<rect x="65.1" y="632.5" width="2.9" height="2.9" fill="#3550a6"/>
<rect x="67.4" y="631.5" width="2.9" height="2.9" fill="#3550a6"/>
<rect x="69.7" y="720.5" width="2.9" height="2.9" fill="#3550a6"/>
<rect x="72.0" y="744.3" width="2.9" height="2.9" fill="#3550a6"/>
<rect x="74.4" y="745.2" width="2.9" height="2.9" fill="#3550a6"/>
<rect x="76.7" y="744.8" width="2.9" height="2.9" fill="#3550a6"/>
<rect x="79.0" y="745.5" width="2.9" height="2.9" fill="#3550a6"/>
<rect x="81.3" y="746.5" width="2.9" height="2.9" fill="#3550a6"/>
<rect x="83.7" y="740.3" width="2.9" height="2.9" fill="#3550a6"/>
<rect x="86.0" y="732.8" width="2.9" height="2.9" fill="#3550a6"/>
<rect x="88.3" y="736.1" width="2.9" height="2.9" fill="#3550a6"/>
<rect x="90.6" y="744.7" width="2.9" height="2.9" fill="#3550a6"/>
<rect x="93.0" y="748.2" width="2.9" height="2.9" fill="#3550a6"/>
<rect x="95.3" y="749.7" width="2.9" height="2.9" fill="#3550a6"/>
<rect x="97.6" y="749.2" width="2.9" height="2.9" fill="#3550a6"/>
<rect x="99.9" y="748.5" width="2.9" height="2.9" fill="#3550a6"/>
<rect x="102.2" y="748.5" width="2.9" height="2.9" fill="#3550a6"/>
<rect x="104.6" y="704.8" width="2.9" height="2.9" fill="#3550a6"/>
<rect x="106.9" y="688.5" width="2.9" height="2.9" fill="#3550a6"/>
<rect x="109.2" y="739.1" width="2.9" height="2.9" fill="#3550a6"/>
<rect x="111.5" y="751.9" width="2.9" height="2.9" fill="#3550a6"/>
<rect x="113.9" y="751.2" width="2.9" height="2.9" fill="#3550a6"/>
<rect x="116.2" y="745.7" width="2.9" height="2.9" fill="#3550a6"/>
<rect x="118.5" y="739.8" width="2.9" height="2.9" fill="#3550a6"/>
<rect x="120.8" y="731.3" width="2.9" height="2.9" fill="#3550a6"/>
<rect x="123.2" y="736.6" width="2.9" height="2.9" fill="#3550a6"/>
<rect x="125.5" y="748.2" width="2.9" height="2.9" fill="#3550a6"/>
<rect x="127.8" y="749.3" width="2.9" height="2.9" fill="#3550a6"/>
<rect x="130.1" y="749.6" width="2.9" height="2.9" fill="#3550a6"/>
<rect x="132.5" y="748.1" width="2.9" height="2.9" fill="#3550a6"/>
<rect x="134.8" y="749.7" width="2.9" height="2.9" fill="#3550a6"/>
<rect x="137.1" y="751.1" width="2.9" height="2.9" fill="#3550a6"/>
<rect x="139.4" y="750.8" width="2.9" height="2.9" fill="#3550a6"/>
<rect x="141.8" y="747.8" width="2.9" height="2.9" fill="#3550a6"/>
<rect x="144.1" y="748.6" width="2.9" height="2.9" fill="#3550a6"/>
<rect x="146.4" y="749.7" width="2.9" height="2.9" fill="#3550a6"/>
<rect x="148.7" y="750.2" width="2.9" height="2.9" fill="#3550a6"/>
<rect x="151.1" y="752.6" width="2.9" height="2.9" fill="#3550a6"/>
<rect x="153.4" y="752.4" width="2.9" height="2.9" fill="#3550a6"/>
<rect x="155.7" y="749.1" width="2.9" height="2.9" fill="#3550a6"/>
<rect x="158.0" y="744.3" width="2.9" height="2.9" fill="#3550a6"/>
<rect x="160.3" y="722.1" width="2.9" height="2.9" fill="#3550a6"/>
<rect x="162.7" y="719.8" width="2.9" height="2.9" fill="#3550a6"/>
<rect x="165.0" y="711.1" width="2.9" height="2.9" fill="#3550a6"/>
<rect x="167.3" y="711.1" width="2.9" height="2.9" fill="#3550a6"/>
<rect x="169.6" y="716.3" width="2.9" height="2.9" fill="#3550a6"/>
<rect x="172.0" y="722.4" width="2.9" height="2.9" fill="#3550a6"/>
<rect x="174.3" y="697.4" width="2.9" height="2.9" fill="#3550a6"/>
<rect x="176.6" y="715.9" width="2.9" height="2.9" fill="#3550a6"/>
<rect x="178.9" y="736.6" width="2.9" height="2.9" fill="#3550a6"/>
<rect x="181.3" y="746.2" width="2.9" height="2.9" fill="#3550a6"/>
<rect x="183.6" y="749.8" width="2.9" height="2.9" fill="#3550a6"/>
<rect x="185.9" y="748.2" width="2.9" height="2.9" fill="#3550a6"/>
<rect x="188.2" y="747.7" width="2.9" height="2.9" fill="#3550a6"/>
<rect x="190.6" y="749.2" width="2.9" height="2.9" fill="#3550a6"/>
<rect x="192.9" y="746.5" width="2.9" height="2.9" fill="#3550a6"/>
<rect x="195.2" y="743.0" width="2.9" height="2.9" fill="#3550a6"/>
<rect x="197.5" y="736.4" width="2.9" height="2.9" fill="#3550a6"/>
<rect x="199.9" y="739.3" width="2.9" height="2.9" fill="#3550a6"/>
<rect x="202.2" y="748.0" width="2.9" height="2.9" fill="#3550a6"/>
<rect x="204.5" y="751.1" width="2.9" height="2.9" fill="#3550a6"/>
<rect x="206.8" y="751.8" width="2.9" height="2.9" fill="#3550a6"/>
<rect x="209.2" y="752.1" width="2.9" height="2.9" fill="#3550a6"/>
<rect x="211.5" y="751.3" width="2.9" height="2.9" fill="#3550a6"/>
<rect x="213.8" y="747.5" width="2.9" height="2.9" fill="#3550a6"/>
<rect x="216.1" y="732.6" width="2.9" height="2.9" fill="#3550a6"/>
<rect x="218.4" y="715.6" width="2.9" height="2.9" fill="#3550a6"/>
<rect x="220.8" y="705.1" width="2.9" height="2.9" fill="#3550a6"/>
<rect x="223.1" y="684.7" width="2.9" height="2.9" fill="#3550a6"/>
<rect x="225.4" y="675.6" width="2.9" height="2.9" fill="#3550a6"/>
<rect x="227.7" y="680.4" width="2.9" height="2.9" fill="#3550a6"/>
<rect x="230.1" y="673.9" width="2.9" height="2.9" fill="#3550a6"/>
<rect x="232.4" y="688.6" width="2.9" height="2.9" fill="#3550a6"/>
<rect x="234.7" y="726.1" width="2.9" height="2.9" fill="#3550a6"/>
<rect x="237.0" y="738.3" width="2.9" height="2.9" fill="#3550a6"/>
<rect x="239.4" y="745.5" width="2.9" height="2.9" fill="#3550a6"/>
<rect x="241.7" y="748.2" width="2.9" height="2.9" fill="#3550a6"/>
<rect x="244.0" y="748.9" width="2.9" height="2.9" fill="#3550a6"/>
<rect x="246.3" y="749.4" width="2.9" height="2.9" fill="#3550a6"/>
<rect x="248.7" y="747.4" width="2.9" height="2.9" fill="#3550a6"/>
<rect x="251.0" y="743.3" width="2.9" height="2.9" fill="#3550a6"/>
<rect x="253.3" y="740.2" width="2.9" height="2.9" fill="#3550a6"/>
<rect x="255.6" y="741.6" width="2.9" height="2.9" fill="#3550a6"/>
<rect x="258.0" y="741.4" width="2.9" height="2.9" fill="#3550a6"/>
<rect x="260.3" y="745.7" width="2.9" height="2.9" fill="#3550a6"/>
<rect x="262.6" y="748.5" width="2.9" height="2.9" fill="#3550a6"/>
<rect x="264.9" y="749.1" width="2.9" height="2.9" fill="#3550a6"/>
<rect x="267.3" y="749.0" width="2.9" height="2.9" fill="#3550a6"/>
<rect x="269.6" y="748.7" width="2.9" height="2.9" fill="#3550a6"/>
<rect x="271.9" y="725.5" width="2.9" height="2.9" fill="#3550a6"/>
<rect x="274.2" y="704.6" width="2.9" height="2.9" fill="#3550a6"/>
<rect x="276.6" y="684.6" width="2.9" height="2.9" fill="#3550a6"/>
<rect x="278.9" y="665.5" width="2.9" height="2.9" fill="#3550a6"/>
<rect x="281.2" y="623.4" width="2.9" height="2.9" fill="#3550a6"/>
<rect x="283.5" y="630.9" width="2.9" height="2.9" fill="#3550a6"/>
<rect x="285.8" y="651.5" width="2.9" height="2.9" fill="#3550a6"/>
<rect x="288.2" y="658.7" width="2.9" height="2.9" fill="#3550a6"/>
<rect x="290.5" y="703.1" width="2.9" height="2.9" fill="#3550a6"/>
<rect x="292.8" y="732.3" width="2.9" height="2.9" fill="#3550a6"/>
<rect x="295.1" y="745.6" width="2.9" height="2.9" fill="#3550a6"/>
<rect x="297.5" y="747.7" width="2.9" height="2.9" fill="#3550a6"/>
<rect x="299.8" y="746.2" width="2.9" height="2.9" fill="#3550a6"/>
<rect x="302.1" y="744.0" width="2.9" height="2.9" fill="#3550a6"/>
<rect x="304.4" y="744.1" width="2.9" height="2.9" fill="#3550a6"/>
<rect x="306.8" y="747.5" width="2.9" height="2.9" fill="#3550a6"/>
<rect x="309.1" y="747.5" width="2.9" height="2.9" fill="#3550a6"/>
<rect x="311.4" y="746.9" width="2.9" height="2.9" fill="#3550a6"/>
<rect x="313.7" y="747.9" width="2.9" height="2.9" fill="#3550a6"/>
<rect x="316.1" y="747.6" width="2.9" height="2.9" fill="#3550a6"/>
<rect x="318.4" y="747.0" width="2.9" height="2.9" fill="#3550a6"/>
<rect x="320.7" y="747.2" width="2.9" height="2.9" fill="#3550a6"/>
<rect x="323.0" y="746.1" width="2.9" height="2.9" fill="#3550a6"/>
<rect x="325.4" y="747.4" width="2.9" height="2.9" fill="#3550a6"/>
<rect x="327.7" y="739.9" width="2.9" height="2.9" fill="#3550a6"/>
<rect x="330.0" y="714.5" width="2.9" height="2.9" fill="#3550a6"/>
<rect x="332.3" y="675.9" width="2.9" height="2.9" fill="#3550a6"/>
<rect x="334.7" y="630.4" width="2.9" height="2.9" fill="#3550a6"/>
<rect x="337.0" y="637.5" width="2.9" height="2.9" fill="#3550a6"/>
<rect x="339.3" y="631.0" width="2.9" height="2.9" fill="#3550a6"/>
<rect x="341.6" y="656.8" width="2.9" height="2.9" fill="#3550a6"/>
<rect x="343.9" y="661.9" width="2.9" height="2.9" fill="#3550a6"/>
<rect x="346.3" y="674.9" width="2.9" height="2.9" fill="#3550a6"/>
<rect x="348.6" y="719.2" width="2.9" height="2.9" fill="#3550a6"/>
<rect x="350.9" y="743.9" width="2.9" height="2.9" fill="#3550a6"/>
<rect x="353.2" y="749.2" width="2.9" height="2.9" fill="#3550a6"/>
<rect x="355.6" y="748.0" width="2.9" height="2.9" fill="#3550a6"/>
<rect x="357.9" y="746.6" width="2.9" height="2.9" fill="#3550a6"/>
<rect x="360.2" y="747.1" width="2.9" height="2.9" fill="#3550a6"/>
<rect x="362.5" y="738.3" width="2.9" height="2.9" fill="#3550a6"/>
<rect x="364.9" y="741.0" width="2.9" height="2.9" fill="#3550a6"/>
<rect x="367.2" y="741.7" width="2.9" height="2.9" fill="#3550a6"/>
<rect x="369.5" y="738.0" width="2.9" height="2.9" fill="#3550a6"/>
<rect x="371.8" y="747.1" width="2.9" height="2.9" fill="#3550a6"/>
<rect x="374.2" y="747.2" width="2.9" height="2.9" fill="#3550a6"/>
<rect x="376.5" y="746.2" width="2.9" height="2.9" fill="#3550a6"/>
<rect x="378.8" y="746.7" width="2.9" height="2.9" fill="#3550a6"/>
<rect x="381.1" y="744.9" width="2.9" height="2.9" fill="#3550a6"/>
<path d="M45.6,746.0V750.9M44.5,746.0h2.2M44.5,750.9h2.2M47.9,748.1V752.1M46.8,748.1h2.2M46.8,752.1h2.2M50.2,728.3V739.8M49.1,728.3h2.2M49.1,739.8h2.2M52.6,674.5V710.1M51.5,674.5h2.2M51.5,710.1h2.2M54.9,603.1V652.4M53.8,603.1h2.2M53.8,652.4h2.2M57.2,620.4V672.6M56.1,620.4h2.2M56.1,672.6h2.2M59.5,627.6V668.7M58.4,627.6h2.2M58.4,668.7h2.2M61.9,608.7V671.3M60.8,608.7h2.2M60.8,671.3h2.2M64.2,600.0V667.9M63.1,600.0h2.2M63.1,667.9h2.2M66.5,650.0V684.7M65.4,650.0h2.2M65.4,684.7h2.2M68.8,691.8V717.9M67.7,691.8h2.2M67.7,717.9h2.2M71.2,727.7V739.2M70.1,727.7h2.2M70.1,739.2h2.2M73.5,742.8V748.7M72.4,742.8h2.2M72.4,748.7h2.2M75.8,745.8V750.6M74.7,745.8h2.2M74.7,750.6h2.2M78.1,747.1V751.4M77.0,747.1h2.2M77.0,751.4h2.2M80.5,746.5V751.0M79.4,746.5h2.2M79.4,751.0h2.2M82.8,746.4V751.0M81.7,746.4h2.2M81.7,751.0h2.2M85.1,738.4V745.4M84.0,738.4h2.2M84.0,745.4h2.2M87.4,735.4V744.4M86.3,735.4h2.2M86.3,744.4h2.2M89.8,735.1V743.5M88.7,735.1h2.2M88.7,743.5h2.2M92.1,739.2V747.1M91.0,739.2h2.2M91.0,747.1h2.2M94.4,739.3V746.4M93.3,739.3h2.2M93.3,746.4h2.2M96.7,747.1V751.5M95.6,747.1h2.2M95.6,751.5h2.2M99.1,748.3V752.3M98.0,748.3h2.2M98.0,752.3h2.2M101.4,748.5V752.5M100.3,748.5h2.2M100.3,752.5h2.2M103.7,747.7V751.8M102.6,747.7h2.2M102.6,751.8h2.2M106.0,713.8V732.8M104.9,713.8h2.2M104.9,732.8h2.2M108.3,675.9V708.8M107.2,675.9h2.2M107.2,708.8h2.2M110.7,636.0V670.6M109.6,636.0h2.2M109.6,670.6h2.2M113.0,636.0V681.5M111.9,636.0h2.2M111.9,681.5h2.2M115.3,636.0V669.5M114.2,636.0h2.2M114.2,669.5h2.2M117.6,656.6V698.5M116.5,656.6h2.2M116.5,698.5h2.2M120.0,652.8V692.9M118.9,652.8h2.2M118.9,692.9h2.2M122.3,676.0V710.9M121.2,676.0h2.2M121.2,710.9h2.2M124.6,711.9V729.3M123.5,711.9h2.2M123.5,729.3h2.2M126.9,736.3V744.0M125.8,736.3h2.2M125.8,744.0h2.2M129.3,744.3V749.8M128.2,744.3h2.2M128.2,749.8h2.2M131.6,748.5V752.5M130.5,748.5h2.2M130.5,752.5h2.2M133.9,744.1V749.4M132.8,744.1h2.2M132.8,749.4h2.2M136.2,739.0V747.1M135.1,739.0h2.2M135.1,747.1h2.2M138.6,743.5V749.3M137.5,743.5h2.2M137.5,749.3h2.2M140.9,746.9V751.3M139.8,746.9h2.2M139.8,751.3h2.2M143.2,743.1V749.3M142.1,743.1h2.2M142.1,749.3h2.2M145.5,745.7V750.6M144.4,745.7h2.2M144.4,750.6h2.2M147.9,745.8V750.7M146.8,745.8h2.2M146.8,750.7h2.2M150.2,747.6V751.7M149.1,747.6h2.2M149.1,751.7h2.2M152.5,741.1V748.1M151.4,741.1h2.2M151.4,748.1h2.2M154.8,743.6V749.4M153.7,743.6h2.2M153.7,749.4h2.2M157.2,747.3V751.6M156.1,747.3h2.2M156.1,751.6h2.2M159.5,740.5V747.3M158.4,740.5h2.2M158.4,747.3h2.2M161.8,711.7V731.7M160.7,711.7h2.2M160.7,731.7h2.2M164.1,700.2V720.5M163.0,700.2h2.2M163.0,720.5h2.2M166.4,660.7V698.3M165.3,660.7h2.2M165.3,698.3h2.2M168.8,646.2V687.3M167.7,646.2h2.2M167.7,687.3h2.2M171.1,641.7V688.9M170.0,641.7h2.2M170.0,688.9h2.2M173.4,642.4V686.7M172.3,642.4h2.2M172.3,686.7h2.2M175.7,650.3V688.1M174.6,650.3h2.2M174.6,688.1h2.2M178.1,665.4V702.5M177.0,665.4h2.2M177.0,702.5h2.2M180.4,712.3V731.7M179.3,712.3h2.2M179.3,731.7h2.2M182.7,745.1V750.4M181.6,745.1h2.2M181.6,750.4h2.2M185.0,747.9V751.9M183.9,747.9h2.2M183.9,751.9h2.2M187.4,749.1V753.1M186.3,749.1h2.2M186.3,753.1h2.2M189.7,747.8V751.8M188.6,747.8h2.2M188.6,751.8h2.2M192.0,749.8V753.8M190.9,749.8h2.2M190.9,753.8h2.2M194.3,737.4V745.7M193.2,737.4h2.2M193.2,745.7h2.2M196.7,735.3V743.3M195.6,735.3h2.2M195.6,743.3h2.2M199.0,730.7V741.5M197.9,730.7h2.2M197.9,741.5h2.2M201.3,739.5V746.5M200.2,739.5h2.2M200.2,746.5h2.2M203.6,746.0V750.8M202.5,746.0h2.2M202.5,750.8h2.2M206.0,744.9V750.1M204.9,744.9h2.2M204.9,750.1h2.2M208.3,744.1V749.5M207.2,744.1h2.2M207.2,749.5h2.2M210.6,745.7V750.5M209.5,745.7h2.2M209.5,750.5h2.2M212.9,744.6V750.1M211.8,744.6h2.2M211.8,750.1h2.2M215.3,744.6V749.8M214.2,744.6h2.2M214.2,749.8h2.2M217.6,719.5V735.9M216.5,719.5h2.2M216.5,735.9h2.2M219.9,689.1V711.4M218.8,689.1h2.2M218.8,711.4h2.2M222.2,652.5V696.7M221.1,652.5h2.2M221.1,696.7h2.2M224.5,640.3V689.3M223.4,640.3h2.2M223.4,689.3h2.2M226.9,637.0V684.8M225.8,637.0h2.2M225.8,684.8h2.2M229.2,633.1V689.6M228.1,633.1h2.2M228.1,689.6h2.2M231.5,648.6V691.4M230.4,648.6h2.2M230.4,691.4h2.2M233.8,645.8V691.7M232.7,645.8h2.2M232.7,691.7h2.2M236.2,688.3V716.2M235.1,688.3h2.2M235.1,716.2h2.2M238.5,720.5V735.7M237.4,720.5h2.2M237.4,735.7h2.2M240.8,745.9V750.6M239.7,745.9h2.2M239.7,750.6h2.2M243.1,748.5V752.5M242.0,748.5h2.2M242.0,752.5h2.2M245.5,746.5V751.2M244.4,746.5h2.2M244.4,751.2h2.2M247.8,746.5V751.2M246.7,746.5h2.2M246.7,751.2h2.2M250.1,747.9V751.9M249.0,747.9h2.2M249.0,751.9h2.2M252.4,746.4V750.9M251.3,746.4h2.2M251.3,750.9h2.2M254.8,748.2V752.2M253.7,748.2h2.2M253.7,752.2h2.2M257.1,748.0V752.0M256.0,748.0h2.2M256.0,752.0h2.2M259.4,747.2V751.5M258.3,747.2h2.2M258.3,751.5h2.2M261.7,748.1V752.1M260.6,748.1h2.2M260.6,752.1h2.2M264.1,747.5V751.7M263.0,747.5h2.2M263.0,751.7h2.2M266.4,746.5V751.0M265.3,746.5h2.2M265.3,751.0h2.2M268.7,745.8V750.7M267.6,745.8h2.2M267.6,750.7h2.2M271.0,746.6V751.1M269.9,746.6h2.2M269.9,751.1h2.2M273.4,709.6V729.4M272.3,709.6h2.2M272.3,729.4h2.2M275.7,683.6V712.6M274.6,683.6h2.2M274.6,712.6h2.2M278.0,648.9V696.8M276.9,648.9h2.2M276.9,696.8h2.2M280.3,637.6V675.9M279.2,637.6h2.2M279.2,675.9h2.2M282.6,590.0V638.3M281.5,590.0h2.2M281.5,638.3h2.2M285.0,617.3V677.5M283.9,617.3h2.2M283.9,677.5h2.2M287.3,608.4V660.2M286.2,608.4h2.2M286.2,660.2h2.2M289.6,623.4V681.9M288.5,623.4h2.2M288.5,681.9h2.2M291.9,672.5V703.9M290.8,672.5h2.2M290.8,703.9h2.2M294.3,734.5V744.1M293.2,734.5h2.2M293.2,744.1h2.2M296.6,747.1V751.5M295.5,747.1h2.2M295.5,751.5h2.2M298.9,746.1V750.9M297.8,746.1h2.2M297.8,750.9h2.2M301.2,745.4V750.3M300.1,745.4h2.2M300.1,750.3h2.2M303.6,747.8V751.9M302.5,747.8h2.2M302.5,751.9h2.2M305.9,747.0V751.4M304.8,747.0h2.2M304.8,751.4h2.2M308.2,747.0V751.4M307.1,747.0h2.2M307.1,751.4h2.2M310.5,745.1V750.1M309.4,745.1h2.2M309.4,750.1h2.2M312.9,745.1V750.2M311.8,745.1h2.2M311.8,750.2h2.2M315.2,743.9V749.7M314.1,743.9h2.2M314.1,749.7h2.2M317.5,736.6V745.1M316.4,736.6h2.2M316.4,745.1h2.2M319.8,744.3V749.5M318.7,744.3h2.2M318.7,749.5h2.2M322.2,745.3V750.5M321.1,745.3h2.2M321.1,750.5h2.2M324.5,747.7V751.8M323.4,747.7h2.2M323.4,751.8h2.2M326.8,746.2V750.9M325.7,746.2h2.2M325.7,750.9h2.2M329.1,735.6V744.2M328.0,735.6h2.2M328.0,744.2h2.2M331.5,689.1V713.4M330.4,689.1h2.2M330.4,713.4h2.2M333.8,626.1V672.9M332.7,626.1h2.2M332.7,672.9h2.2M336.1,615.2V672.0M335.0,615.2h2.2M335.0,672.0h2.2M338.4,621.4V673.7M337.3,621.4h2.2M337.3,673.7h2.2M340.7,599.0V667.1M339.6,599.0h2.2M339.6,667.1h2.2M343.1,648.9V683.6M342.0,648.9h2.2M342.0,683.6h2.2M345.4,668.7V698.3M344.3,668.7h2.2M344.3,698.3h2.2M347.7,686.5V717.8M346.6,686.5h2.2M346.6,717.8h2.2M350.0,732.0V741.6M348.9,732.0h2.2M348.9,741.6h2.2M352.4,749.3V753.3M351.3,749.3h2.2M351.3,753.3h2.2M354.7,747.6V751.7M353.6,747.6h2.2M353.6,751.7h2.2M357.0,746.9V751.4M355.9,746.9h2.2M355.9,751.4h2.2M359.3,745.3V750.5M358.2,745.3h2.2M358.2,750.5h2.2M361.7,745.1V750.4M360.6,745.1h2.2M360.6,750.4h2.2M364.0,740.4V747.1M362.9,740.4h2.2M362.9,747.1h2.2M366.3,738.1V745.9M365.2,738.1h2.2M365.2,745.9h2.2M368.6,742.3V748.7M367.5,742.3h2.2M367.5,748.7h2.2M371.0,736.4V744.0M369.9,736.4h2.2M369.9,744.0h2.2M373.3,737.4V745.2M372.2,737.4h2.2M372.2,745.2h2.2M375.6,744.3V749.7M374.5,744.3h2.2M374.5,749.7h2.2M377.9,745.3V750.2M376.8,745.3h2.2M376.8,750.2h2.2M380.3,747.6V751.8M379.2,747.6h2.2M379.2,751.8h2.2M382.6,748.2V752.2M381.5,748.2h2.2M381.5,752.2h2.2" stroke="#ec2129" stroke-width="1.0" fill="none"/>
<path d="M45.6,748.5 L47.9,750.1 L50.2,734.1 L52.6,692.3 L54.9,627.7 L57.2,646.5 L59.5,648.2 L61.9,640.0 L64.2,633.9 L66.5,667.3 L68.8,704.9 L71.2,733.4 L73.5,745.7 L75.8,748.2 L78.1,749.2 L80.5,748.7 L82.8,748.7 L85.1,741.9 L87.4,739.9 L89.8,739.3 L92.1,743.1 L94.4,742.8 L96.7,749.3 L99.1,750.3 L101.4,750.5 L103.7,749.8 L106.0,723.3 L108.3,692.4 L110.7,653.3 L113.0,658.7 L115.3,652.8 L117.6,677.5 L120.0,672.8 L122.3,693.5 L124.6,720.6 L126.9,740.2 L129.3,747.1 L131.6,750.5 L133.9,746.8 L136.2,743.1 L138.6,746.4 L140.9,749.1 L143.2,746.2 L145.5,748.1 L147.9,748.2 L150.2,749.6 L152.5,744.6 L154.8,746.5 L157.2,749.5 L159.5,743.9 L161.8,721.7 L164.1,710.3 L166.4,679.5 L168.8,666.8 L171.1,665.3 L173.4,664.5 L175.7,669.2 L178.1,683.9 L180.4,722.0 L182.7,747.8 L185.0,749.9 L187.4,751.1 L189.7,749.8 L192.0,751.8 L194.3,741.6 L196.7,739.3 L199.0,736.1 L201.3,743.0 L203.6,748.4 L206.0,747.5 L208.3,746.8 L210.6,748.1 L212.9,747.4 L215.3,747.2 L217.6,727.7 L219.9,700.3 L222.2,674.6 L224.5,664.8 L226.9,660.9 L229.2,661.3 L231.5,670.0 L233.8,668.7 L236.2,702.3 L238.5,728.1 L240.8,748.3 L243.1,750.5 L245.5,748.8 L247.8,748.8 L250.1,749.9 L252.4,748.6 L254.8,750.2 L257.1,750.0 L259.4,749.3 L261.7,750.1 L264.1,749.6 L266.4,748.8 L268.7,748.3 L271.0,748.8 L273.4,719.5 L275.7,698.1 L278.0,672.8 L280.3,656.7 L282.6,614.2 L285.0,647.4 L287.3,634.3 L289.6,652.7 L291.9,688.2 L294.3,739.3 L296.6,749.3 L298.9,748.5 L301.2,747.8 L303.6,749.8 L305.9,749.2 L308.2,749.2 L310.5,747.6 L312.9,747.7 L315.2,746.8 L317.5,740.9 L319.8,746.9 L322.2,747.9 L324.5,749.8 L326.8,748.6 L329.1,739.9 L331.5,701.3 L333.8,649.5 L336.1,643.6 L338.4,647.5 L340.7,633.0 L343.1,666.3 L345.4,683.5 L347.7,702.2 L350.0,736.8 L352.4,751.3 L354.7,749.6 L357.0,749.1 L359.3,747.9 L361.7,747.8 L364.0,743.7 L366.3,742.0 L368.6,745.5 L371.0,740.2 L373.3,741.3 L375.6,747.0 L377.9,747.8 L380.3,749.7 L382.6,750.2" stroke="#ec2129" stroke-width="1.5" fill="none" stroke-linejoin="round"/>
<rect x="44.1" y="747.0" width="2.9" height="2.9" fill="#ec2129"/>
<rect x="46.5" y="748.6" width="2.9" height="2.9" fill="#ec2129"/>
<rect x="48.8" y="732.6" width="2.9" height="2.9" fill="#ec2129"/>
<rect x="51.1" y="690.9" width="2.9" height="2.9" fill="#ec2129"/>
<rect x="53.4" y="626.3" width="2.9" height="2.9" fill="#ec2129"/>
<rect x="55.8" y="645.0" width="2.9" height="2.9" fill="#ec2129"/>
<rect x="58.1" y="646.7" width="2.9" height="2.9" fill="#ec2129"/>
<rect x="60.4" y="638.5" width="2.9" height="2.9" fill="#ec2129"/>
<rect x="62.7" y="632.5" width="2.9" height="2.9" fill="#ec2129"/>
<rect x="65.1" y="665.9" width="2.9" height="2.9" fill="#ec2129"/>
<rect x="67.4" y="703.4" width="2.9" height="2.9" fill="#ec2129"/>
<rect x="69.7" y="732.0" width="2.9" height="2.9" fill="#ec2129"/>
<rect x="72.0" y="744.3" width="2.9" height="2.9" fill="#ec2129"/>
<rect x="74.4" y="746.8" width="2.9" height="2.9" fill="#ec2129"/>
<rect x="76.7" y="747.8" width="2.9" height="2.9" fill="#ec2129"/>
<rect x="79.0" y="747.3" width="2.9" height="2.9" fill="#ec2129"/>
<rect x="81.3" y="747.2" width="2.9" height="2.9" fill="#ec2129"/>
<rect x="83.7" y="740.4" width="2.9" height="2.9" fill="#ec2129"/>
<rect x="86.0" y="738.4" width="2.9" height="2.9" fill="#ec2129"/>
<rect x="88.3" y="737.8" width="2.9" height="2.9" fill="#ec2129"/>
<rect x="90.6" y="741.7" width="2.9" height="2.9" fill="#ec2129"/>
<rect x="93.0" y="741.4" width="2.9" height="2.9" fill="#ec2129"/>
<rect x="95.3" y="747.8" width="2.9" height="2.9" fill="#ec2129"/>
<rect x="97.6" y="748.9" width="2.9" height="2.9" fill="#ec2129"/>
<rect x="99.9" y="749.1" width="2.9" height="2.9" fill="#ec2129"/>
<rect x="102.2" y="748.3" width="2.9" height="2.9" fill="#ec2129"/>
<rect x="104.6" y="721.8" width="2.9" height="2.9" fill="#ec2129"/>
<rect x="106.9" y="690.9" width="2.9" height="2.9" fill="#ec2129"/>
<rect x="109.2" y="651.9" width="2.9" height="2.9" fill="#ec2129"/>
<rect x="111.5" y="657.3" width="2.9" height="2.9" fill="#ec2129"/>
<rect x="113.9" y="651.3" width="2.9" height="2.9" fill="#ec2129"/>
<rect x="116.2" y="676.1" width="2.9" height="2.9" fill="#ec2129"/>
<rect x="118.5" y="671.4" width="2.9" height="2.9" fill="#ec2129"/>
<rect x="120.8" y="692.0" width="2.9" height="2.9" fill="#ec2129"/>
<rect x="123.2" y="719.2" width="2.9" height="2.9" fill="#ec2129"/>
<rect x="125.5" y="738.7" width="2.9" height="2.9" fill="#ec2129"/>
<rect x="127.8" y="745.6" width="2.9" height="2.9" fill="#ec2129"/>
<rect x="130.1" y="749.0" width="2.9" height="2.9" fill="#ec2129"/>
<rect x="132.5" y="745.3" width="2.9" height="2.9" fill="#ec2129"/>
<rect x="134.8" y="741.6" width="2.9" height="2.9" fill="#ec2129"/>
<rect x="137.1" y="745.0" width="2.9" height="2.9" fill="#ec2129"/>
<rect x="139.4" y="747.7" width="2.9" height="2.9" fill="#ec2129"/>
<rect x="141.8" y="744.8" width="2.9" height="2.9" fill="#ec2129"/>
<rect x="144.1" y="746.7" width="2.9" height="2.9" fill="#ec2129"/>
<rect x="146.4" y="746.8" width="2.9" height="2.9" fill="#ec2129"/>
<rect x="148.7" y="748.2" width="2.9" height="2.9" fill="#ec2129"/>
<rect x="151.1" y="743.2" width="2.9" height="2.9" fill="#ec2129"/>
<rect x="153.4" y="745.1" width="2.9" height="2.9" fill="#ec2129"/>
<rect x="155.7" y="748.0" width="2.9" height="2.9" fill="#ec2129"/>
<rect x="158.0" y="742.4" width="2.9" height="2.9" fill="#ec2129"/>
<rect x="160.3" y="720.2" width="2.9" height="2.9" fill="#ec2129"/>
<rect x="162.7" y="708.9" width="2.9" height="2.9" fill="#ec2129"/>
<rect x="165.0" y="678.0" width="2.9" height="2.9" fill="#ec2129"/>
<rect x="167.3" y="665.3" width="2.9" height="2.9" fill="#ec2129"/>
<rect x="169.6" y="663.9" width="2.9" height="2.9" fill="#ec2129"/>
<rect x="172.0" y="663.1" width="2.9" height="2.9" fill="#ec2129"/>
<rect x="174.3" y="667.7" width="2.9" height="2.9" fill="#ec2129"/>
<rect x="176.6" y="682.5" width="2.9" height="2.9" fill="#ec2129"/>
<rect x="178.9" y="720.6" width="2.9" height="2.9" fill="#ec2129"/>
<rect x="181.3" y="746.3" width="2.9" height="2.9" fill="#ec2129"/>
<rect x="183.6" y="748.5" width="2.9" height="2.9" fill="#ec2129"/>
<rect x="185.9" y="749.7" width="2.9" height="2.9" fill="#ec2129"/>
<rect x="188.2" y="748.4" width="2.9" height="2.9" fill="#ec2129"/>
<rect x="190.6" y="750.3" width="2.9" height="2.9" fill="#ec2129"/>
<rect x="192.9" y="740.1" width="2.9" height="2.9" fill="#ec2129"/>
<rect x="195.2" y="737.9" width="2.9" height="2.9" fill="#ec2129"/>
<rect x="197.5" y="734.6" width="2.9" height="2.9" fill="#ec2129"/>
<rect x="199.9" y="741.6" width="2.9" height="2.9" fill="#ec2129"/>
<rect x="202.2" y="747.0" width="2.9" height="2.9" fill="#ec2129"/>
<rect x="204.5" y="746.0" width="2.9" height="2.9" fill="#ec2129"/>
<rect x="206.8" y="745.3" width="2.9" height="2.9" fill="#ec2129"/>
<rect x="209.2" y="746.6" width="2.9" height="2.9" fill="#ec2129"/>
<rect x="211.5" y="745.9" width="2.9" height="2.9" fill="#ec2129"/>
<rect x="213.8" y="745.7" width="2.9" height="2.9" fill="#ec2129"/>
<rect x="216.1" y="726.2" width="2.9" height="2.9" fill="#ec2129"/>
<rect x="218.4" y="698.8" width="2.9" height="2.9" fill="#ec2129"/>
<rect x="220.8" y="673.1" width="2.9" height="2.9" fill="#ec2129"/>
<rect x="223.1" y="663.4" width="2.9" height="2.9" fill="#ec2129"/>
<rect x="225.4" y="659.4" width="2.9" height="2.9" fill="#ec2129"/>
<rect x="227.7" y="659.9" width="2.9" height="2.9" fill="#ec2129"/>
<rect x="230.1" y="668.5" width="2.9" height="2.9" fill="#ec2129"/>
<rect x="232.4" y="667.3" width="2.9" height="2.9" fill="#ec2129"/>
<rect x="234.7" y="700.8" width="2.9" height="2.9" fill="#ec2129"/>
<rect x="237.0" y="726.6" width="2.9" height="2.9" fill="#ec2129"/>
<rect x="239.4" y="746.8" width="2.9" height="2.9" fill="#ec2129"/>
<rect x="241.7" y="749.1" width="2.9" height="2.9" fill="#ec2129"/>
<rect x="244.0" y="747.4" width="2.9" height="2.9" fill="#ec2129"/>
<rect x="246.3" y="747.4" width="2.9" height="2.9" fill="#ec2129"/>
<rect x="248.7" y="748.4" width="2.9" height="2.9" fill="#ec2129"/>
<rect x="251.0" y="747.2" width="2.9" height="2.9" fill="#ec2129"/>
<rect x="253.3" y="748.7" width="2.9" height="2.9" fill="#ec2129"/>
<rect x="255.6" y="748.6" width="2.9" height="2.9" fill="#ec2129"/>
<rect x="258.0" y="747.9" width="2.9" height="2.9" fill="#ec2129"/>
<rect x="260.3" y="748.6" width="2.9" height="2.9" fill="#ec2129"/>
<rect x="262.6" y="748.2" width="2.9" height="2.9" fill="#ec2129"/>
<rect x="264.9" y="747.3" width="2.9" height="2.9" fill="#ec2129"/>
<rect x="267.3" y="746.8" width="2.9" height="2.9" fill="#ec2129"/>
<rect x="269.6" y="747.4" width="2.9" height="2.9" fill="#ec2129"/>
<rect x="271.9" y="718.1" width="2.9" height="2.9" fill="#ec2129"/>
<rect x="274.2" y="696.7" width="2.9" height="2.9" fill="#ec2129"/>
<rect x="276.6" y="671.4" width="2.9" height="2.9" fill="#ec2129"/>
<rect x="278.9" y="655.3" width="2.9" height="2.9" fill="#ec2129"/>
<rect x="281.2" y="612.7" width="2.9" height="2.9" fill="#ec2129"/>
<rect x="283.5" y="646.0" width="2.9" height="2.9" fill="#ec2129"/>
<rect x="285.8" y="632.8" width="2.9" height="2.9" fill="#ec2129"/>
<rect x="288.2" y="651.2" width="2.9" height="2.9" fill="#ec2129"/>
<rect x="290.5" y="686.7" width="2.9" height="2.9" fill="#ec2129"/>
<rect x="292.8" y="737.9" width="2.9" height="2.9" fill="#ec2129"/>
<rect x="295.1" y="747.9" width="2.9" height="2.9" fill="#ec2129"/>
<rect x="297.5" y="747.0" width="2.9" height="2.9" fill="#ec2129"/>
<rect x="299.8" y="746.4" width="2.9" height="2.9" fill="#ec2129"/>
<rect x="302.1" y="748.4" width="2.9" height="2.9" fill="#ec2129"/>
<rect x="304.4" y="747.7" width="2.9" height="2.9" fill="#ec2129"/>
<rect x="306.8" y="747.8" width="2.9" height="2.9" fill="#ec2129"/>
<rect x="309.1" y="746.1" width="2.9" height="2.9" fill="#ec2129"/>
<rect x="311.4" y="746.2" width="2.9" height="2.9" fill="#ec2129"/>
<rect x="313.7" y="745.4" width="2.9" height="2.9" fill="#ec2129"/>
<rect x="316.1" y="739.4" width="2.9" height="2.9" fill="#ec2129"/>
<rect x="318.4" y="745.5" width="2.9" height="2.9" fill="#ec2129"/>
<rect x="320.7" y="746.4" width="2.9" height="2.9" fill="#ec2129"/>
<rect x="323.0" y="748.3" width="2.9" height="2.9" fill="#ec2129"/>
<rect x="325.4" y="747.1" width="2.9" height="2.9" fill="#ec2129"/>
<rect x="327.7" y="738.4" width="2.9" height="2.9" fill="#ec2129"/>
<rect x="330.0" y="699.8" width="2.9" height="2.9" fill="#ec2129"/>
<rect x="332.3" y="648.1" width="2.9" height="2.9" fill="#ec2129"/>
<rect x="334.7" y="642.1" width="2.9" height="2.9" fill="#ec2129"/>
<rect x="337.0" y="646.1" width="2.9" height="2.9" fill="#ec2129"/>
<rect x="339.3" y="631.6" width="2.9" height="2.9" fill="#ec2129"/>
<rect x="341.6" y="664.8" width="2.9" height="2.9" fill="#ec2129"/>
<rect x="343.9" y="682.0" width="2.9" height="2.9" fill="#ec2129"/>
<rect x="346.3" y="700.7" width="2.9" height="2.9" fill="#ec2129"/>
<rect x="348.6" y="735.4" width="2.9" height="2.9" fill="#ec2129"/>
<rect x="350.9" y="749.9" width="2.9" height="2.9" fill="#ec2129"/>
<rect x="353.2" y="748.2" width="2.9" height="2.9" fill="#ec2129"/>
<rect x="355.6" y="747.7" width="2.9" height="2.9" fill="#ec2129"/>
<rect x="357.9" y="746.4" width="2.9" height="2.9" fill="#ec2129"/>
<rect x="360.2" y="746.3" width="2.9" height="2.9" fill="#ec2129"/>
<rect x="362.5" y="742.3" width="2.9" height="2.9" fill="#ec2129"/>
<rect x="364.9" y="740.5" width="2.9" height="2.9" fill="#ec2129"/>
<rect x="367.2" y="744.0" width="2.9" height="2.9" fill="#ec2129"/>
<rect x="369.5" y="738.7" width="2.9" height="2.9" fill="#ec2129"/>
<rect x="371.8" y="739.8" width="2.9" height="2.9" fill="#ec2129"/>
<rect x="374.2" y="745.5" width="2.9" height="2.9" fill="#ec2129"/>
<rect x="376.5" y="746.3" width="2.9" height="2.9" fill="#ec2129"/>
<rect x="378.8" y="748.3" width="2.9" height="2.9" fill="#ec2129"/>
<rect x="381.1" y="748.7" width="2.9" height="2.9" fill="#ec2129"/>
<line x1="103.6" y1="631.7" x2="123.1" y2="631.7" stroke="#111" stroke-width="1.5"/>
<path d="M108.35,623.60L108.35,627.80M106.53,624.65L110.17,626.75M106.53,626.75L110.17,624.65M113.35,623.60L113.35,627.80M111.53,624.65L115.17,626.75M111.53,626.75L115.17,624.65M118.35,623.60L118.35,627.80M116.53,624.65L120.17,626.75M116.53,626.75L120.17,624.65" stroke="#222" stroke-width="1.15" fill="none"/>
<rect x="447.1" y="566.4" width="338.1" height="208.10000000000002" fill="none" stroke="#111" stroke-width="1.4"/>
<line x1="444.5" y1="760.3" x2="447.1" y2="760.3" stroke="#111" stroke-width="1.2"/>
<text x="443.2" y="762.7" font-size="12.4" text-anchor="end" >0</text>
<line x1="444.5" y1="732.6" x2="447.1" y2="732.6" stroke="#111" stroke-width="1.2"/>
<text x="443.2" y="735.0" font-size="12.4" text-anchor="end" >10</text>
<line x1="444.5" y1="705.0" x2="447.1" y2="705.0" stroke="#111" stroke-width="1.2"/>
<text x="443.2" y="707.4" font-size="12.4" text-anchor="end" >20</text>
<line x1="444.5" y1="677.3" x2="447.1" y2="677.3" stroke="#111" stroke-width="1.2"/>
<text x="443.2" y="679.7" font-size="12.4" text-anchor="end" >30</text>
<line x1="444.5" y1="649.6" x2="447.1" y2="649.6" stroke="#111" stroke-width="1.2"/>
<text x="443.2" y="652.0" font-size="12.4" text-anchor="end" >40</text>
<line x1="444.5" y1="621.9" x2="447.1" y2="621.9" stroke="#111" stroke-width="1.2"/>
<text x="443.2" y="624.3" font-size="12.4" text-anchor="end" >50</text>
<line x1="444.5" y1="594.3" x2="447.1" y2="594.3" stroke="#111" stroke-width="1.2"/>
<text x="443.2" y="596.7" font-size="12.4" text-anchor="end" >60</text>
<line x1="444.5" y1="566.6" x2="447.1" y2="566.6" stroke="#111" stroke-width="1.2"/>
<text x="443.2" y="569.0" font-size="12.4" text-anchor="end" >70</text>
<line x1="445.1" y1="746.5" x2="447.1" y2="746.5" stroke="#111" stroke-width="1.1"/>
<line x1="445.1" y1="718.8" x2="447.1" y2="718.8" stroke="#111" stroke-width="1.1"/>
<line x1="445.1" y1="691.1" x2="447.1" y2="691.1" stroke="#111" stroke-width="1.1"/>
<line x1="445.1" y1="663.5" x2="447.1" y2="663.5" stroke="#111" stroke-width="1.1"/>
<line x1="445.1" y1="635.8" x2="447.1" y2="635.8" stroke="#111" stroke-width="1.1"/>
<line x1="445.1" y1="608.1" x2="447.1" y2="608.1" stroke="#111" stroke-width="1.1"/>
<line x1="445.1" y1="580.4" x2="447.1" y2="580.4" stroke="#111" stroke-width="1.1"/>
<line x1="448.1" y1="760.3" x2="784.2" y2="760.3" stroke="#111" stroke-width="1.2" stroke-dasharray="1.5 1.45"/>
<text transform="translate(420.7,661.8) rotate(-90)" x="0" y="0" font-size="12.4" text-anchor="middle">Locomotor Activity (counts/bin)</text>
<rect x="447.1" y="769.1" width="338.1" height="5.4" fill="#111"/>
<rect x="450.4" y="770.9" width="38.0" height="1.8" fill="#fff"/>
<rect x="509.9" y="770.9" width="37.6" height="1.8" fill="#fff"/>
<rect x="569.0" y="770.9" width="37.6" height="1.8" fill="#fff"/>
<rect x="628.0" y="770.9" width="37.6" height="1.8" fill="#fff"/>
<rect x="687.0" y="770.9" width="37.6" height="1.8" fill="#fff"/>
<rect x="746.0" y="770.9" width="37.8" height="1.8" fill="#fff"/>
<line x1="447.1" y1="775.1" x2="785.2" y2="775.1" stroke="#333" stroke-width="1" stroke-dasharray="1 1.5"/>
<text x="450.2" y="785.5" font-size="11.8" text-anchor="middle" >0</text>
<text x="469.9" y="785.5" font-size="11.8" text-anchor="middle" >8</text>
<text x="489.5" y="785.5" font-size="11.8" text-anchor="middle" >16</text>
<text x="509.2" y="785.5" font-size="11.8" text-anchor="middle" >0</text>
<text x="528.8" y="785.5" font-size="11.8" text-anchor="middle" >8</text>
<text x="548.5" y="785.5" font-size="11.8" text-anchor="middle" >16</text>
<text x="568.2" y="785.5" font-size="11.8" text-anchor="middle" >0</text>
<text x="587.8" y="785.5" font-size="11.8" text-anchor="middle" >8</text>
<text x="607.5" y="785.5" font-size="11.8" text-anchor="middle" >16</text>
<text x="627.1" y="785.5" font-size="11.8" text-anchor="middle" >0</text>
<text x="646.8" y="785.5" font-size="11.8" text-anchor="middle" >8</text>
<text x="666.5" y="785.5" font-size="11.8" text-anchor="middle" >16</text>
<text x="686.1" y="785.5" font-size="11.8" text-anchor="middle" >0</text>
<text x="705.8" y="785.5" font-size="11.8" text-anchor="middle" >8</text>
<text x="725.4" y="785.5" font-size="11.8" text-anchor="middle" >16</text>
<text x="745.1" y="785.5" font-size="11.8" text-anchor="middle" >0</text>
<text x="764.8" y="785.5" font-size="11.8" text-anchor="middle" >8</text>
<text x="784.4" y="785.5" font-size="11.8" text-anchor="middle" >16</text>
<text x="615.6" y="799.7" font-size="12.4" text-anchor="middle" >Time (ZT)</text>
<text x="503.2" y="583.7" font-size="19.0" text-anchor="start" >RHYTH- ZT 1 INJECTION</text>
<text x="451.6" y="583.7" font-size="18.8" text-anchor="start" >F</text>
<line x1="743.3000000000001" y1="575.2" x2="753.8000000000001" y2="575.2" stroke="#ec2129" stroke-width="1.6"/>
<circle cx="748.6" cy="575.2" r="1.9" fill="#fff" stroke="#ec2129" stroke-width="1.3"/>
<text x="757.0" y="579.7" font-size="12.2" text-anchor="start" >SAL</text>
<line x1="743.3000000000001" y1="587.7" x2="753.8000000000001" y2="587.7" stroke="#3550a6" stroke-width="1.6"/>
<circle cx="748.6" cy="587.7" r="1.9" fill="#fff" stroke="#3550a6" stroke-width="1.3"/>
<text x="757.0" y="591.4" font-size="12.2" text-anchor="start" >LPS</text>
<line x1="452.3" y1="640.6" x2="452.3" y2="648.29" stroke="#000" stroke-width="1.9"/>
<path d="M447.9,646.6 L456.7,646.6 L452.3,662.9 Z" fill="#000"/>
<path d="M448.5,685.5V720.2M447.4,685.5h2.2M447.4,720.2h2.2M451.0,680.6V718.7M449.9,680.6h2.2M449.9,718.7h2.2M453.4,694.3V729.0M452.3,694.3h2.2M452.3,729.0h2.2M455.9,745.5V751.2M454.8,745.5h2.2M454.8,751.2h2.2M458.3,754.6V758.6M457.2,754.6h2.2M457.2,758.6h2.2M460.8,754.3V758.3M459.7,754.3h2.2M459.7,758.3h2.2M463.2,753.0V757.0M462.1,753.0h2.2M462.1,757.0h2.2M465.7,752.3V756.3M464.6,752.3h2.2M464.6,756.3h2.2M468.2,751.3V755.3M467.1,751.3h2.2M467.1,755.3h2.2M470.6,749.7V753.7M469.5,749.7h2.2M469.5,753.7h2.2M473.1,749.0V753.0M472.0,749.0h2.2M472.0,753.0h2.2M475.5,751.5V755.5M474.4,751.5h2.2M474.4,755.5h2.2M478.0,750.8V754.8M476.9,750.8h2.2M476.9,754.8h2.2M480.4,751.4V755.4M479.3,751.4h2.2M479.3,755.4h2.2M482.9,751.2V755.2M481.8,751.2h2.2M481.8,755.2h2.2M485.4,750.4V754.4M484.3,750.4h2.2M484.3,754.4h2.2M487.8,750.3V754.3M486.7,750.3h2.2M486.7,754.3h2.2M490.3,748.5V752.5M489.2,748.5h2.2M489.2,752.5h2.2M492.7,713.8V738.8M491.6,713.8h2.2M491.6,738.8h2.2M495.2,729.5V746.0M494.1,729.5h2.2M494.1,746.0h2.2M497.6,732.3V745.3M496.5,732.3h2.2M496.5,745.3h2.2M500.1,727.3V743.3M499.0,727.3h2.2M499.0,743.3h2.2M502.6,732.1V744.8M501.5,732.1h2.2M501.5,744.8h2.2M505.0,726.2V740.5M503.9,726.2h2.2M503.9,740.5h2.2M507.5,722.9V742.6M506.4,722.9h2.2M506.4,742.6h2.2M509.9,732.9V746.0M508.8,732.9h2.2M508.8,746.0h2.2M512.4,741.0V748.9M511.3,741.0h2.2M511.3,748.9h2.2M514.8,738.4V747.4M513.7,738.4h2.2M513.7,747.4h2.2M517.3,747.4V751.7M516.2,747.4h2.2M516.2,751.7h2.2M519.8,749.2V753.2M518.7,749.2h2.2M518.7,753.2h2.2M522.2,746.3V751.4M521.1,746.3h2.2M521.1,751.4h2.2M524.7,744.5V750.7M523.6,744.5h2.2M523.6,750.7h2.2M527.1,747.0V751.5M526.0,747.0h2.2M526.0,751.5h2.2M529.6,747.5V751.8M528.5,747.5h2.2M528.5,751.8h2.2M532.0,749.5V753.5M530.9,749.5h2.2M530.9,753.5h2.2M534.5,749.6V753.6M533.4,749.6h2.2M533.4,753.6h2.2M537.0,749.7V753.7M535.9,749.7h2.2M535.9,753.7h2.2M539.4,749.5V753.5M538.3,749.5h2.2M538.3,753.5h2.2M541.9,750.8V754.8M540.8,750.8h2.2M540.8,754.8h2.2M544.3,751.1V755.1M543.2,751.1h2.2M543.2,755.1h2.2M546.8,750.1V754.1M545.7,750.1h2.2M545.7,754.1h2.2M549.2,748.7V752.7M548.1,748.7h2.2M548.1,752.7h2.2M551.7,722.8V744.4M550.6,722.8h2.2M550.6,744.4h2.2M554.2,721.7V743.3M553.1,721.7h2.2M553.1,743.3h2.2M556.6,721.1V739.0M555.5,721.1h2.2M555.5,739.0h2.2M559.1,726.4V741.2M558.0,726.4h2.2M558.0,741.2h2.2M561.5,724.2V744.9M560.4,724.2h2.2M560.4,744.9h2.2M564.0,728.7V741.7M562.9,728.7h2.2M562.9,741.7h2.2M566.4,723.5V740.0M565.3,723.5h2.2M565.3,740.0h2.2M568.9,737.4V747.3M567.8,737.4h2.2M567.8,747.3h2.2M571.4,745.2V750.6M570.2,745.2h2.2M570.2,750.6h2.2M573.8,736.7V747.2M572.7,736.7h2.2M572.7,747.2h2.2M576.3,746.1V751.0M575.2,746.1h2.2M575.2,751.0h2.2M578.7,747.8V751.9M577.6,747.8h2.2M577.6,751.9h2.2M581.2,746.4V751.2M580.1,746.4h2.2M580.1,751.2h2.2M583.6,747.6V751.8M582.5,747.6h2.2M582.5,751.8h2.2M586.1,748.7V752.7M585.0,748.7h2.2M585.0,752.7h2.2M588.5,748.6V752.6M587.4,748.6h2.2M587.4,752.6h2.2M591.0,749.3V753.3M589.9,749.3h2.2M589.9,753.3h2.2M593.5,749.5V753.5M592.4,749.5h2.2M592.4,753.5h2.2M595.9,748.7V752.7M594.8,748.7h2.2M594.8,752.7h2.2M598.4,748.5V752.5M597.3,748.5h2.2M597.3,752.5h2.2M600.8,748.7V752.7M599.7,748.7h2.2M599.7,752.7h2.2M603.3,749.3V753.3M602.2,749.3h2.2M602.2,753.3h2.2M605.7,747.4V751.7M604.6,747.4h2.2M604.6,751.7h2.2M608.2,743.4V749.8M607.1,743.4h2.2M607.1,749.8h2.2M610.7,726.4V745.1M609.6,726.4h2.2M609.6,745.1h2.2M613.1,717.5V736.0M612.0,717.5h2.2M612.0,736.0h2.2M615.6,732.9V746.1M614.5,732.9h2.2M614.5,746.1h2.2M618.0,720.3V740.1M616.9,720.3h2.2M616.9,740.1h2.2M620.5,721.2V742.2M619.4,721.2h2.2M619.4,742.2h2.2M622.9,722.8V743.3M621.8,722.8h2.2M621.8,743.3h2.2M625.4,730.5V743.1M624.3,730.5h2.2M624.3,743.1h2.2M627.9,727.5V745.5M626.8,727.5h2.2M626.8,745.5h2.2M630.3,730.4V746.6M629.2,730.4h2.2M629.2,746.6h2.2M632.8,715.6V740.2M631.7,715.6h2.2M631.7,740.2h2.2M635.2,740.1V749.1M634.1,740.1h2.2M634.1,749.1h2.2M637.7,749.7V753.7M636.6,749.7h2.2M636.6,753.7h2.2M640.1,749.7V753.7M639.0,749.7h2.2M639.0,753.7h2.2M642.6,749.6V753.6M641.5,749.6h2.2M641.5,753.6h2.2M645.1,750.5V754.5M644.0,750.5h2.2M644.0,754.5h2.2M647.5,751.0V755.0M646.4,751.0h2.2M646.4,755.0h2.2M650.0,751.2V755.2M648.9,751.2h2.2M648.9,755.2h2.2M652.4,751.9V755.9M651.3,751.9h2.2M651.3,755.9h2.2M654.9,752.4V756.4M653.8,752.4h2.2M653.8,756.4h2.2M657.3,751.1V755.1M656.2,751.1h2.2M656.2,755.1h2.2M659.8,751.2V755.2M658.7,751.2h2.2M658.7,755.2h2.2M662.3,750.8V754.8M661.2,750.8h2.2M661.2,754.8h2.2M664.7,749.8V753.8M663.6,749.8h2.2M663.6,753.8h2.2M667.2,751.0V755.0M666.1,751.0h2.2M666.1,755.0h2.2M669.6,724.4V740.1M668.5,724.4h2.2M668.5,740.1h2.2M672.1,701.4V736.3M671.0,701.4h2.2M671.0,736.3h2.2M674.5,709.9V737.1M673.4,709.9h2.2M673.4,737.1h2.2M677.0,707.7V732.6M675.9,707.7h2.2M675.9,732.6h2.2M679.5,726.8V742.5M678.4,726.8h2.2M678.4,742.5h2.2M681.9,708.7V738.7M680.8,708.7h2.2M680.8,738.7h2.2M684.4,699.3V732.6M683.3,699.3h2.2M683.3,732.6h2.2M686.8,719.7V737.0M685.7,719.7h2.2M685.7,737.0h2.2M689.3,735.2V746.8M688.2,735.2h2.2M688.2,746.8h2.2M691.7,716.7V740.2M690.6,716.7h2.2M690.6,740.2h2.2M694.2,727.0V742.8M693.1,727.0h2.2M693.1,742.8h2.2M696.7,752.4V756.4M695.6,752.4h2.2M695.6,756.4h2.2M699.1,748.8V752.8M698.0,748.8h2.2M698.0,752.8h2.2M701.6,749.9V753.9M700.5,749.9h2.2M700.5,753.9h2.2M704.0,749.9V753.9M702.9,749.9h2.2M702.9,753.9h2.2M706.5,749.7V753.7M705.4,749.7h2.2M705.4,753.7h2.2M708.9,748.2V752.2M707.8,748.2h2.2M707.8,752.2h2.2M711.4,733.0V744.3M710.3,733.0h2.2M710.3,744.3h2.2M713.9,731.1V745.7M712.8,731.1h2.2M712.8,745.7h2.2M716.3,744.7V750.7M715.2,744.7h2.2M715.2,750.7h2.2M718.8,749.9V753.9M717.7,749.9h2.2M717.7,753.9h2.2M721.2,750.3V754.3M720.1,750.3h2.2M720.1,754.3h2.2M723.7,750.4V754.4M722.6,750.4h2.2M722.6,754.4h2.2M726.1,751.3V755.3M725.0,751.3h2.2M725.0,755.3h2.2M728.6,732.6V746.8M727.5,732.6h2.2M727.5,746.8h2.2M731.1,698.4V736.3M730.0,698.4h2.2M730.0,736.3h2.2M733.5,683.2V719.9M732.4,683.2h2.2M732.4,719.9h2.2M736.0,672.9V718.6M734.9,672.9h2.2M734.9,718.6h2.2M738.4,700.3V737.2M737.3,700.3h2.2M737.3,737.2h2.2M740.9,716.9V735.3M739.8,716.9h2.2M739.8,735.3h2.2M743.3,673.2V722.6M742.2,673.2h2.2M742.2,722.6h2.2M745.8,659.8V720.9M744.7,659.8h2.2M744.7,720.9h2.2M748.3,727.2V741.2M747.2,727.2h2.2M747.2,741.2h2.2M750.7,725.9V744.9M749.6,725.9h2.2M749.6,744.9h2.2M753.2,726.6V744.7M752.1,726.6h2.2M752.1,744.7h2.2M755.6,749.4V753.4M754.5,749.4h2.2M754.5,753.4h2.2M758.1,748.6V752.6M757.0,748.6h2.2M757.0,752.6h2.2M760.5,747.8V751.9M759.4,747.8h2.2M759.4,751.9h2.2M763.0,748.3V752.3M761.9,748.3h2.2M761.9,752.3h2.2M765.5,748.4V752.4M764.4,748.4h2.2M764.4,752.4h2.2M767.9,749.1V753.1M766.8,749.1h2.2M766.8,753.1h2.2M770.4,748.9V752.9M769.3,748.9h2.2M769.3,752.9h2.2M772.8,749.1V753.1M771.7,749.1h2.2M771.7,753.1h2.2M775.3,748.8V752.8M774.2,748.8h2.2M774.2,752.8h2.2M777.7,748.1V752.1M776.6,748.1h2.2M776.6,752.1h2.2M780.2,748.6V752.6M779.1,748.6h2.2M779.1,752.6h2.2M782.7,748.6V752.6M781.6,748.6h2.2M781.6,752.6h2.2" stroke="#3550a6" stroke-width="1.0" fill="none"/>
<path d="M448.5,702.8 L451.0,699.7 L453.4,711.6 L455.9,748.4 L458.3,756.6 L460.8,756.3 L463.2,755.0 L465.7,754.3 L468.2,753.3 L470.6,751.7 L473.1,751.0 L475.5,753.5 L478.0,752.8 L480.4,753.4 L482.9,753.2 L485.4,752.4 L487.8,752.3 L490.3,750.5 L492.7,726.3 L495.2,737.8 L497.6,738.8 L500.1,735.3 L502.6,738.5 L505.0,733.3 L507.5,732.7 L509.9,739.5 L512.4,744.9 L514.8,742.9 L517.3,749.6 L519.8,751.2 L522.2,748.8 L524.7,747.6 L527.1,749.3 L529.6,749.6 L532.0,751.5 L534.5,751.6 L537.0,751.7 L539.4,751.5 L541.9,752.8 L544.3,753.1 L546.8,752.1 L549.2,750.7 L551.7,733.6 L554.2,732.5 L556.6,730.0 L559.1,733.8 L561.5,734.6 L564.0,735.2 L566.4,731.8 L568.9,742.4 L571.4,747.9 L573.8,741.9 L576.3,748.5 L578.7,749.9 L581.2,748.8 L583.6,749.7 L586.1,750.7 L588.5,750.6 L591.0,751.3 L593.5,751.5 L595.9,750.7 L598.4,750.5 L600.8,750.7 L603.3,751.3 L605.7,749.6 L608.2,746.6 L610.7,735.7 L613.1,726.8 L615.6,739.5 L618.0,730.2 L620.5,731.7 L622.9,733.1 L625.4,736.8 L627.9,736.5 L630.3,738.5 L632.8,727.9 L635.2,744.6 L637.7,751.7 L640.1,751.7 L642.6,751.6 L645.1,752.5 L647.5,753.0 L650.0,753.2 L652.4,753.9 L654.9,754.4 L657.3,753.1 L659.8,753.2 L662.3,752.8 L664.7,751.8 L667.2,753.0 L669.6,732.2 L672.1,718.9 L674.5,723.5 L677.0,720.2 L679.5,734.7 L681.9,723.7 L684.4,715.9 L686.8,728.4 L689.3,741.0 L691.7,728.5 L694.2,734.9 L696.7,754.4 L699.1,750.8 L701.6,751.9 L704.0,751.9 L706.5,751.7 L708.9,750.2 L711.4,738.7 L713.9,738.4 L716.3,747.7 L718.8,751.9 L721.2,752.3 L723.7,752.4 L726.1,753.3 L728.6,739.7 L731.1,717.3 L733.5,701.6 L736.0,695.7 L738.4,718.8 L740.9,726.1 L743.3,697.9 L745.8,690.4 L748.3,734.2 L750.7,735.4 L753.2,735.6 L755.6,751.4 L758.1,750.6 L760.5,749.9 L763.0,750.3 L765.5,750.4 L767.9,751.1 L770.4,750.9 L772.8,751.1 L775.3,750.8 L777.7,750.1 L780.2,750.6 L782.7,750.6" stroke="#3550a6" stroke-width="1.5" fill="none" stroke-linejoin="round"/>
<rect x="446.9" y="701.3" width="3.1" height="3.1" rx="1.0" fill="#fff" stroke="#3550a6" stroke-width="1.2"/>
<rect x="449.4" y="698.1" width="3.1" height="3.1" rx="1.0" fill="#fff" stroke="#3550a6" stroke-width="1.2"/>
<rect x="451.9" y="710.1" width="3.1" height="3.1" rx="1.0" fill="#fff" stroke="#3550a6" stroke-width="1.2"/>
<rect x="454.3" y="746.8" width="3.1" height="3.1" rx="1.0" fill="#fff" stroke="#3550a6" stroke-width="1.2"/>
<rect x="456.8" y="755.0" width="3.1" height="3.1" rx="1.0" fill="#fff" stroke="#3550a6" stroke-width="1.2"/>
<rect x="459.2" y="754.7" width="3.1" height="3.1" rx="1.0" fill="#fff" stroke="#3550a6" stroke-width="1.2"/>
<rect x="461.7" y="753.5" width="3.1" height="3.1" rx="1.0" fill="#fff" stroke="#3550a6" stroke-width="1.2"/>
<rect x="464.1" y="752.8" width="3.1" height="3.1" rx="1.0" fill="#fff" stroke="#3550a6" stroke-width="1.2"/>
<rect x="466.6" y="751.8" width="3.1" height="3.1" rx="1.0" fill="#fff" stroke="#3550a6" stroke-width="1.2"/>
<rect x="469.1" y="750.1" width="3.1" height="3.1" rx="1.0" fill="#fff" stroke="#3550a6" stroke-width="1.2"/>
<rect x="471.5" y="749.5" width="3.1" height="3.1" rx="1.0" fill="#fff" stroke="#3550a6" stroke-width="1.2"/>
<rect x="474.0" y="751.9" width="3.1" height="3.1" rx="1.0" fill="#fff" stroke="#3550a6" stroke-width="1.2"/>
<rect x="476.4" y="751.2" width="3.1" height="3.1" rx="1.0" fill="#fff" stroke="#3550a6" stroke-width="1.2"/>
<rect x="478.9" y="751.8" width="3.1" height="3.1" rx="1.0" fill="#fff" stroke="#3550a6" stroke-width="1.2"/>
<rect x="481.3" y="751.6" width="3.1" height="3.1" rx="1.0" fill="#fff" stroke="#3550a6" stroke-width="1.2"/>
<rect x="483.8" y="750.9" width="3.1" height="3.1" rx="1.0" fill="#fff" stroke="#3550a6" stroke-width="1.2"/>
<rect x="486.3" y="750.7" width="3.1" height="3.1" rx="1.0" fill="#fff" stroke="#3550a6" stroke-width="1.2"/>
<rect x="488.7" y="749.0" width="3.1" height="3.1" rx="1.0" fill="#fff" stroke="#3550a6" stroke-width="1.2"/>
<rect x="491.2" y="724.8" width="3.1" height="3.1" rx="1.0" fill="#fff" stroke="#3550a6" stroke-width="1.2"/>
<rect x="493.6" y="736.2" width="3.1" height="3.1" rx="1.0" fill="#fff" stroke="#3550a6" stroke-width="1.2"/>
<rect x="496.1" y="737.3" width="3.1" height="3.1" rx="1.0" fill="#fff" stroke="#3550a6" stroke-width="1.2"/>
<rect x="498.5" y="733.7" width="3.1" height="3.1" rx="1.0" fill="#fff" stroke="#3550a6" stroke-width="1.2"/>
<rect x="501.0" y="736.9" width="3.1" height="3.1" rx="1.0" fill="#fff" stroke="#3550a6" stroke-width="1.2"/>
<rect x="503.5" y="731.8" width="3.1" height="3.1" rx="1.0" fill="#fff" stroke="#3550a6" stroke-width="1.2"/>
<rect x="505.9" y="731.2" width="3.1" height="3.1" rx="1.0" fill="#fff" stroke="#3550a6" stroke-width="1.2"/>
<rect x="508.4" y="737.9" width="3.1" height="3.1" rx="1.0" fill="#fff" stroke="#3550a6" stroke-width="1.2"/>
<rect x="510.8" y="743.4" width="3.1" height="3.1" rx="1.0" fill="#fff" stroke="#3550a6" stroke-width="1.2"/>
<rect x="513.3" y="741.3" width="3.1" height="3.1" rx="1.0" fill="#fff" stroke="#3550a6" stroke-width="1.2"/>
<rect x="515.7" y="748.0" width="3.1" height="3.1" rx="1.0" fill="#fff" stroke="#3550a6" stroke-width="1.2"/>
<rect x="518.2" y="749.7" width="3.1" height="3.1" rx="1.0" fill="#fff" stroke="#3550a6" stroke-width="1.2"/>
<rect x="520.7" y="747.3" width="3.1" height="3.1" rx="1.0" fill="#fff" stroke="#3550a6" stroke-width="1.2"/>
<rect x="523.1" y="746.0" width="3.1" height="3.1" rx="1.0" fill="#fff" stroke="#3550a6" stroke-width="1.2"/>
<rect x="525.6" y="747.7" width="3.1" height="3.1" rx="1.0" fill="#fff" stroke="#3550a6" stroke-width="1.2"/>
<rect x="528.0" y="748.1" width="3.1" height="3.1" rx="1.0" fill="#fff" stroke="#3550a6" stroke-width="1.2"/>
<rect x="530.5" y="750.0" width="3.1" height="3.1" rx="1.0" fill="#fff" stroke="#3550a6" stroke-width="1.2"/>
<rect x="532.9" y="750.0" width="3.1" height="3.1" rx="1.0" fill="#fff" stroke="#3550a6" stroke-width="1.2"/>
<rect x="535.4" y="750.1" width="3.1" height="3.1" rx="1.0" fill="#fff" stroke="#3550a6" stroke-width="1.2"/>
<rect x="537.9" y="750.0" width="3.1" height="3.1" rx="1.0" fill="#fff" stroke="#3550a6" stroke-width="1.2"/>
<rect x="540.3" y="751.2" width="3.1" height="3.1" rx="1.0" fill="#fff" stroke="#3550a6" stroke-width="1.2"/>
<rect x="542.8" y="751.5" width="3.1" height="3.1" rx="1.0" fill="#fff" stroke="#3550a6" stroke-width="1.2"/>
<rect x="545.2" y="750.5" width="3.1" height="3.1" rx="1.0" fill="#fff" stroke="#3550a6" stroke-width="1.2"/>
<rect x="547.7" y="749.1" width="3.1" height="3.1" rx="1.0" fill="#fff" stroke="#3550a6" stroke-width="1.2"/>
<rect x="550.1" y="732.0" width="3.1" height="3.1" rx="1.0" fill="#fff" stroke="#3550a6" stroke-width="1.2"/>
<rect x="552.6" y="731.0" width="3.1" height="3.1" rx="1.0" fill="#fff" stroke="#3550a6" stroke-width="1.2"/>
<rect x="555.1" y="728.5" width="3.1" height="3.1" rx="1.0" fill="#fff" stroke="#3550a6" stroke-width="1.2"/>
<rect x="557.5" y="732.3" width="3.1" height="3.1" rx="1.0" fill="#fff" stroke="#3550a6" stroke-width="1.2"/>
<rect x="560.0" y="733.0" width="3.1" height="3.1" rx="1.0" fill="#fff" stroke="#3550a6" stroke-width="1.2"/>
<rect x="562.4" y="733.7" width="3.1" height="3.1" rx="1.0" fill="#fff" stroke="#3550a6" stroke-width="1.2"/>
<rect x="564.9" y="730.2" width="3.1" height="3.1" rx="1.0" fill="#fff" stroke="#3550a6" stroke-width="1.2"/>
<rect x="567.3" y="740.8" width="3.1" height="3.1" rx="1.0" fill="#fff" stroke="#3550a6" stroke-width="1.2"/>
<rect x="569.8" y="746.3" width="3.1" height="3.1" rx="1.0" fill="#fff" stroke="#3550a6" stroke-width="1.2"/>
<rect x="572.3" y="740.4" width="3.1" height="3.1" rx="1.0" fill="#fff" stroke="#3550a6" stroke-width="1.2"/>
<rect x="574.7" y="747.0" width="3.1" height="3.1" rx="1.0" fill="#fff" stroke="#3550a6" stroke-width="1.2"/>
<rect x="577.2" y="748.3" width="3.1" height="3.1" rx="1.0" fill="#fff" stroke="#3550a6" stroke-width="1.2"/>
<rect x="579.6" y="747.3" width="3.1" height="3.1" rx="1.0" fill="#fff" stroke="#3550a6" stroke-width="1.2"/>
<rect x="582.1" y="748.1" width="3.1" height="3.1" rx="1.0" fill="#fff" stroke="#3550a6" stroke-width="1.2"/>
<rect x="584.5" y="749.2" width="3.1" height="3.1" rx="1.0" fill="#fff" stroke="#3550a6" stroke-width="1.2"/>
<rect x="587.0" y="749.1" width="3.1" height="3.1" rx="1.0" fill="#fff" stroke="#3550a6" stroke-width="1.2"/>
<rect x="589.5" y="749.7" width="3.1" height="3.1" rx="1.0" fill="#fff" stroke="#3550a6" stroke-width="1.2"/>
<rect x="591.9" y="749.9" width="3.1" height="3.1" rx="1.0" fill="#fff" stroke="#3550a6" stroke-width="1.2"/>
<rect x="594.4" y="749.2" width="3.1" height="3.1" rx="1.0" fill="#fff" stroke="#3550a6" stroke-width="1.2"/>
<rect x="596.8" y="749.0" width="3.1" height="3.1" rx="1.0" fill="#fff" stroke="#3550a6" stroke-width="1.2"/>
<rect x="599.3" y="749.2" width="3.1" height="3.1" rx="1.0" fill="#fff" stroke="#3550a6" stroke-width="1.2"/>
<rect x="601.7" y="749.8" width="3.1" height="3.1" rx="1.0" fill="#fff" stroke="#3550a6" stroke-width="1.2"/>
<rect x="604.2" y="748.0" width="3.1" height="3.1" rx="1.0" fill="#fff" stroke="#3550a6" stroke-width="1.2"/>
<rect x="606.7" y="745.0" width="3.1" height="3.1" rx="1.0" fill="#fff" stroke="#3550a6" stroke-width="1.2"/>
<rect x="609.1" y="734.2" width="3.1" height="3.1" rx="1.0" fill="#fff" stroke="#3550a6" stroke-width="1.2"/>
<rect x="611.6" y="725.2" width="3.1" height="3.1" rx="1.0" fill="#fff" stroke="#3550a6" stroke-width="1.2"/>
<rect x="614.0" y="738.0" width="3.1" height="3.1" rx="1.0" fill="#fff" stroke="#3550a6" stroke-width="1.2"/>
<rect x="616.5" y="728.7" width="3.1" height="3.1" rx="1.0" fill="#fff" stroke="#3550a6" stroke-width="1.2"/>
<rect x="618.9" y="730.2" width="3.1" height="3.1" rx="1.0" fill="#fff" stroke="#3550a6" stroke-width="1.2"/>
<rect x="621.4" y="731.5" width="3.1" height="3.1" rx="1.0" fill="#fff" stroke="#3550a6" stroke-width="1.2"/>
<rect x="623.9" y="735.3" width="3.1" height="3.1" rx="1.0" fill="#fff" stroke="#3550a6" stroke-width="1.2"/>
<rect x="626.3" y="734.9" width="3.1" height="3.1" rx="1.0" fill="#fff" stroke="#3550a6" stroke-width="1.2"/>
<rect x="628.8" y="737.0" width="3.1" height="3.1" rx="1.0" fill="#fff" stroke="#3550a6" stroke-width="1.2"/>
<rect x="631.2" y="726.3" width="3.1" height="3.1" rx="1.0" fill="#fff" stroke="#3550a6" stroke-width="1.2"/>
<rect x="633.7" y="743.1" width="3.1" height="3.1" rx="1.0" fill="#fff" stroke="#3550a6" stroke-width="1.2"/>
<rect x="636.1" y="750.1" width="3.1" height="3.1" rx="1.0" fill="#fff" stroke="#3550a6" stroke-width="1.2"/>
<rect x="638.6" y="750.2" width="3.1" height="3.1" rx="1.0" fill="#fff" stroke="#3550a6" stroke-width="1.2"/>
<rect x="641.1" y="750.0" width="3.1" height="3.1" rx="1.0" fill="#fff" stroke="#3550a6" stroke-width="1.2"/>
<rect x="643.5" y="750.9" width="3.1" height="3.1" rx="1.0" fill="#fff" stroke="#3550a6" stroke-width="1.2"/>
<rect x="646.0" y="751.4" width="3.1" height="3.1" rx="1.0" fill="#fff" stroke="#3550a6" stroke-width="1.2"/>
<rect x="648.4" y="751.6" width="3.1" height="3.1" rx="1.0" fill="#fff" stroke="#3550a6" stroke-width="1.2"/>
<rect x="650.9" y="752.3" width="3.1" height="3.1" rx="1.0" fill="#fff" stroke="#3550a6" stroke-width="1.2"/>
<rect x="653.3" y="752.9" width="3.1" height="3.1" rx="1.0" fill="#fff" stroke="#3550a6" stroke-width="1.2"/>
<rect x="655.8" y="751.5" width="3.1" height="3.1" rx="1.0" fill="#fff" stroke="#3550a6" stroke-width="1.2"/>
<rect x="658.3" y="751.6" width="3.1" height="3.1" rx="1.0" fill="#fff" stroke="#3550a6" stroke-width="1.2"/>
<rect x="660.7" y="751.2" width="3.1" height="3.1" rx="1.0" fill="#fff" stroke="#3550a6" stroke-width="1.2"/>
<rect x="663.2" y="750.2" width="3.1" height="3.1" rx="1.0" fill="#fff" stroke="#3550a6" stroke-width="1.2"/>
<rect x="665.6" y="751.5" width="3.1" height="3.1" rx="1.0" fill="#fff" stroke="#3550a6" stroke-width="1.2"/>
<rect x="668.1" y="730.7" width="3.1" height="3.1" rx="1.0" fill="#fff" stroke="#3550a6" stroke-width="1.2"/>
<rect x="670.5" y="717.3" width="3.1" height="3.1" rx="1.0" fill="#fff" stroke="#3550a6" stroke-width="1.2"/>
<rect x="673.0" y="722.0" width="3.1" height="3.1" rx="1.0" fill="#fff" stroke="#3550a6" stroke-width="1.2"/>
<rect x="675.5" y="718.6" width="3.1" height="3.1" rx="1.0" fill="#fff" stroke="#3550a6" stroke-width="1.2"/>
<rect x="677.9" y="733.1" width="3.1" height="3.1" rx="1.0" fill="#fff" stroke="#3550a6" stroke-width="1.2"/>
<rect x="680.4" y="722.2" width="3.1" height="3.1" rx="1.0" fill="#fff" stroke="#3550a6" stroke-width="1.2"/>
<rect x="682.8" y="714.4" width="3.1" height="3.1" rx="1.0" fill="#fff" stroke="#3550a6" stroke-width="1.2"/>
<rect x="685.3" y="726.8" width="3.1" height="3.1" rx="1.0" fill="#fff" stroke="#3550a6" stroke-width="1.2"/>
<rect x="687.7" y="739.4" width="3.1" height="3.1" rx="1.0" fill="#fff" stroke="#3550a6" stroke-width="1.2"/>
<rect x="690.2" y="726.9" width="3.1" height="3.1" rx="1.0" fill="#fff" stroke="#3550a6" stroke-width="1.2"/>
<rect x="692.7" y="733.3" width="3.1" height="3.1" rx="1.0" fill="#fff" stroke="#3550a6" stroke-width="1.2"/>
<rect x="695.1" y="752.8" width="3.1" height="3.1" rx="1.0" fill="#fff" stroke="#3550a6" stroke-width="1.2"/>
<rect x="697.6" y="749.3" width="3.1" height="3.1" rx="1.0" fill="#fff" stroke="#3550a6" stroke-width="1.2"/>
<rect x="700.0" y="750.4" width="3.1" height="3.1" rx="1.0" fill="#fff" stroke="#3550a6" stroke-width="1.2"/>
<rect x="702.5" y="750.4" width="3.1" height="3.1" rx="1.0" fill="#fff" stroke="#3550a6" stroke-width="1.2"/>
<rect x="704.9" y="750.1" width="3.1" height="3.1" rx="1.0" fill="#fff" stroke="#3550a6" stroke-width="1.2"/>
<rect x="707.4" y="748.6" width="3.1" height="3.1" rx="1.0" fill="#fff" stroke="#3550a6" stroke-width="1.2"/>
<rect x="709.8" y="737.1" width="3.1" height="3.1" rx="1.0" fill="#fff" stroke="#3550a6" stroke-width="1.2"/>
<rect x="712.3" y="736.9" width="3.1" height="3.1" rx="1.0" fill="#fff" stroke="#3550a6" stroke-width="1.2"/>
<rect x="714.8" y="746.1" width="3.1" height="3.1" rx="1.0" fill="#fff" stroke="#3550a6" stroke-width="1.2"/>
<rect x="717.2" y="750.4" width="3.1" height="3.1" rx="1.0" fill="#fff" stroke="#3550a6" stroke-width="1.2"/>
<rect x="719.7" y="750.7" width="3.1" height="3.1" rx="1.0" fill="#fff" stroke="#3550a6" stroke-width="1.2"/>
<rect x="722.1" y="750.8" width="3.1" height="3.1" rx="1.0" fill="#fff" stroke="#3550a6" stroke-width="1.2"/>
<rect x="724.6" y="751.7" width="3.1" height="3.1" rx="1.0" fill="#fff" stroke="#3550a6" stroke-width="1.2"/>
<rect x="727.0" y="738.2" width="3.1" height="3.1" rx="1.0" fill="#fff" stroke="#3550a6" stroke-width="1.2"/>
<rect x="729.5" y="715.8" width="3.1" height="3.1" rx="1.0" fill="#fff" stroke="#3550a6" stroke-width="1.2"/>
<rect x="732.0" y="700.0" width="3.1" height="3.1" rx="1.0" fill="#fff" stroke="#3550a6" stroke-width="1.2"/>
<rect x="734.4" y="694.2" width="3.1" height="3.1" rx="1.0" fill="#fff" stroke="#3550a6" stroke-width="1.2"/>
<rect x="736.9" y="717.2" width="3.1" height="3.1" rx="1.0" fill="#fff" stroke="#3550a6" stroke-width="1.2"/>
<rect x="739.3" y="724.5" width="3.1" height="3.1" rx="1.0" fill="#fff" stroke="#3550a6" stroke-width="1.2"/>
<rect x="741.8" y="696.4" width="3.1" height="3.1" rx="1.0" fill="#fff" stroke="#3550a6" stroke-width="1.2"/>
<rect x="744.2" y="688.8" width="3.1" height="3.1" rx="1.0" fill="#fff" stroke="#3550a6" stroke-width="1.2"/>
<rect x="746.7" y="732.7" width="3.1" height="3.1" rx="1.0" fill="#fff" stroke="#3550a6" stroke-width="1.2"/>
<rect x="749.2" y="733.9" width="3.1" height="3.1" rx="1.0" fill="#fff" stroke="#3550a6" stroke-width="1.2"/>
<rect x="751.6" y="734.1" width="3.1" height="3.1" rx="1.0" fill="#fff" stroke="#3550a6" stroke-width="1.2"/>
<rect x="754.1" y="749.9" width="3.1" height="3.1" rx="1.0" fill="#fff" stroke="#3550a6" stroke-width="1.2"/>
<rect x="756.5" y="749.0" width="3.1" height="3.1" rx="1.0" fill="#fff" stroke="#3550a6" stroke-width="1.2"/>
<rect x="759.0" y="748.3" width="3.1" height="3.1" rx="1.0" fill="#fff" stroke="#3550a6" stroke-width="1.2"/>
<rect x="761.4" y="748.7" width="3.1" height="3.1" rx="1.0" fill="#fff" stroke="#3550a6" stroke-width="1.2"/>
<rect x="763.9" y="748.8" width="3.1" height="3.1" rx="1.0" fill="#fff" stroke="#3550a6" stroke-width="1.2"/>
<rect x="766.4" y="749.5" width="3.1" height="3.1" rx="1.0" fill="#fff" stroke="#3550a6" stroke-width="1.2"/>
<rect x="768.8" y="749.4" width="3.1" height="3.1" rx="1.0" fill="#fff" stroke="#3550a6" stroke-width="1.2"/>
<rect x="771.3" y="749.5" width="3.1" height="3.1" rx="1.0" fill="#fff" stroke="#3550a6" stroke-width="1.2"/>
<rect x="773.7" y="749.3" width="3.1" height="3.1" rx="1.0" fill="#fff" stroke="#3550a6" stroke-width="1.2"/>
<rect x="776.2" y="748.5" width="3.1" height="3.1" rx="1.0" fill="#fff" stroke="#3550a6" stroke-width="1.2"/>
<rect x="778.6" y="749.1" width="3.1" height="3.1" rx="1.0" fill="#fff" stroke="#3550a6" stroke-width="1.2"/>
<rect x="781.1" y="749.0" width="3.1" height="3.1" rx="1.0" fill="#fff" stroke="#3550a6" stroke-width="1.2"/>
<path d="M448.5,670.4V706.6M447.4,670.4h2.2M447.4,706.6h2.2M451.0,672.3V708.6M449.9,672.3h2.2M449.9,708.6h2.2M453.4,692.4V714.2M452.3,692.4h2.2M452.3,714.2h2.2M455.9,748.1V752.1M454.8,748.1h2.2M454.8,752.1h2.2M458.3,749.4V753.4M457.2,749.4h2.2M457.2,753.4h2.2M460.8,748.2V752.2M459.7,748.2h2.2M459.7,752.2h2.2M463.2,747.6V751.7M462.1,747.6h2.2M462.1,751.7h2.2M465.7,735.3V743.5M464.6,735.3h2.2M464.6,743.5h2.2M468.2,733.3V744.3M467.1,733.3h2.2M467.1,744.3h2.2M470.6,726.7V740.3M469.5,726.7h2.2M469.5,740.3h2.2M473.1,730.7V740.2M472.0,730.7h2.2M472.0,740.2h2.2M475.5,746.2V751.0M474.4,746.2h2.2M474.4,751.0h2.2M478.0,744.5V749.6M476.9,744.5h2.2M476.9,749.6h2.2M480.4,739.6V747.0M479.3,739.6h2.2M479.3,747.0h2.2M482.9,745.2V750.5M481.8,745.2h2.2M481.8,750.5h2.2M485.4,747.4V751.7M484.3,747.4h2.2M484.3,751.7h2.2M487.8,747.1V751.5M486.7,747.1h2.2M486.7,751.5h2.2M490.3,734.6V745.1M489.2,734.6h2.2M489.2,745.1h2.2M492.7,696.1V717.0M491.6,696.1h2.2M491.6,717.0h2.2M495.2,659.0V694.2M494.1,659.0h2.2M494.1,694.2h2.2M497.6,625.1V677.5M496.5,625.1h2.2M496.5,677.5h2.2M500.1,645.6V687.2M499.0,645.6h2.2M499.0,687.2h2.2M502.6,667.3V702.3M501.5,667.3h2.2M501.5,702.3h2.2M505.0,667.5V705.5M503.9,667.5h2.2M503.9,705.5h2.2M507.5,676.3V714.7M506.4,676.3h2.2M506.4,714.7h2.2M509.9,691.5V722.9M508.8,691.5h2.2M508.8,722.9h2.2M512.4,736.0V745.9M511.3,736.0h2.2M511.3,745.9h2.2M514.8,725.6V737.2M513.7,725.6h2.2M513.7,737.2h2.2M517.3,747.4V751.7M516.2,747.4h2.2M516.2,751.7h2.2M519.8,745.4V750.5M518.7,745.4h2.2M518.7,750.5h2.2M522.2,739.5V746.5M521.1,739.5h2.2M521.1,746.5h2.2M524.7,729.4V741.2M523.6,729.4h2.2M523.6,741.2h2.2M527.1,711.0V726.8M526.0,711.0h2.2M526.0,726.8h2.2M529.6,731.7V743.7M528.5,731.7h2.2M528.5,743.7h2.2M532.0,744.4V750.0M530.9,744.4h2.2M530.9,750.0h2.2M534.5,747.2V751.5M533.4,747.2h2.2M533.4,751.5h2.2M537.0,733.1V743.9M535.9,733.1h2.2M535.9,743.9h2.2M539.4,735.8V743.6M538.3,735.8h2.2M538.3,743.6h2.2M541.9,739.2V745.9M540.8,739.2h2.2M540.8,745.9h2.2M544.3,747.6V751.7M543.2,747.6h2.2M543.2,751.7h2.2M546.8,748.6V752.6M545.7,748.6h2.2M545.7,752.6h2.2M549.2,741.8V748.9M548.1,741.8h2.2M548.1,748.9h2.2M551.7,675.4V702.7M550.6,675.4h2.2M550.6,702.7h2.2M554.2,616.5V661.5M553.1,616.5h2.2M553.1,661.5h2.2M556.6,621.2V674.5M555.5,621.2h2.2M555.5,674.5h2.2M559.1,646.1V684.5M558.0,646.1h2.2M558.0,684.5h2.2M561.5,650.7V700.8M560.4,650.7h2.2M560.4,700.8h2.2M564.0,665.0V709.6M562.9,665.0h2.2M562.9,709.6h2.2M566.4,674.5V706.6M565.3,674.5h2.2M565.3,706.6h2.2M568.9,686.0V715.4M567.8,686.0h2.2M567.8,715.4h2.2M571.4,733.1V743.4M570.2,733.1h2.2M570.2,743.4h2.2M573.8,724.1V738.3M572.7,724.1h2.2M572.7,738.3h2.2M576.3,747.5V751.7M575.2,747.5h2.2M575.2,751.7h2.2M578.7,750.9V754.9M577.6,750.9h2.2M577.6,754.9h2.2M581.2,737.8V745.5M580.1,737.8h2.2M580.1,745.5h2.2M583.6,744.4V749.9M582.5,744.4h2.2M582.5,749.9h2.2M586.1,746.9V751.3M585.0,746.9h2.2M585.0,751.3h2.2M588.5,738.7V746.6M587.4,738.7h2.2M587.4,746.6h2.2M591.0,740.5V747.7M589.9,740.5h2.2M589.9,747.7h2.2M593.5,742.7V748.4M592.4,742.7h2.2M592.4,748.4h2.2M595.9,740.1V747.3M594.8,740.1h2.2M594.8,747.3h2.2M598.4,737.3V745.3M597.3,737.3h2.2M597.3,745.3h2.2M600.8,738.5V746.8M599.7,738.5h2.2M599.7,746.8h2.2M603.3,744.8V749.8M602.2,744.8h2.2M602.2,749.8h2.2M605.7,749.7V753.7M604.6,749.7h2.2M604.6,753.7h2.2M608.2,737.6V745.8M607.1,737.6h2.2M607.1,745.8h2.2M610.7,676.1V706.8M609.6,676.1h2.2M609.6,706.8h2.2M613.1,664.5V699.4M612.0,664.5h2.2M612.0,699.4h2.2M615.6,645.4V692.9M614.5,645.4h2.2M614.5,692.9h2.2M618.0,632.2V680.5M616.9,632.2h2.2M616.9,680.5h2.2M620.5,644.6V680.7M619.4,644.6h2.2M619.4,680.7h2.2M622.9,644.4V695.0M621.8,644.4h2.2M621.8,695.0h2.2M625.4,659.4V694.5M624.3,659.4h2.2M624.3,694.5h2.2M627.9,700.2V721.2M626.8,700.2h2.2M626.8,721.2h2.2M630.3,733.6V743.3M629.2,733.6h2.2M629.2,743.3h2.2M632.8,733.8V742.5M631.7,733.8h2.2M631.7,742.5h2.2M635.2,748.0V752.0M634.1,748.0h2.2M634.1,752.0h2.2M637.7,751.1V755.1M636.6,751.1h2.2M636.6,755.1h2.2M640.1,745.9V750.6M639.0,745.9h2.2M639.0,750.6h2.2M642.6,745.7V750.7M641.5,745.7h2.2M641.5,750.7h2.2M645.1,743.6V749.4M644.0,743.6h2.2M644.0,749.4h2.2M647.5,739.6V746.4M646.4,739.6h2.2M646.4,746.4h2.2M650.0,743.6V749.1M648.9,743.6h2.2M648.9,749.1h2.2M652.4,748.9V752.9M651.3,748.9h2.2M651.3,752.9h2.2M654.9,746.8V751.2M653.8,746.8h2.2M653.8,751.2h2.2M657.3,742.4V748.8M656.2,742.4h2.2M656.2,748.8h2.2M659.8,744.4V749.7M658.7,744.4h2.2M658.7,749.7h2.2M662.3,747.0V751.4M661.2,747.0h2.2M661.2,751.4h2.2M664.7,745.2V750.2M663.6,745.2h2.2M663.6,750.2h2.2M667.2,744.6V749.9M666.1,744.6h2.2M666.1,749.9h2.2M669.6,654.1V694.6M668.5,654.1h2.2M668.5,694.6h2.2M672.1,646.5V684.8M671.0,646.5h2.2M671.0,684.8h2.2M674.5,624.5V688.6M673.4,624.5h2.2M673.4,688.6h2.2M677.0,639.6V697.2M675.9,639.6h2.2M675.9,697.2h2.2M679.5,652.5V703.1M678.4,652.5h2.2M678.4,703.1h2.2M681.9,668.8V700.6M680.8,668.8h2.2M680.8,700.6h2.2M684.4,681.0V716.4M683.3,681.0h2.2M683.3,716.4h2.2M686.8,703.3V725.6M685.7,703.3h2.2M685.7,725.6h2.2M689.3,727.4V739.1M688.2,727.4h2.2M688.2,739.1h2.2M691.7,742.2V748.1M690.6,742.2h2.2M690.6,748.1h2.2M694.2,748.0V752.0M693.1,748.0h2.2M693.1,752.0h2.2M696.7,749.6V753.6M695.6,749.6h2.2M695.6,753.6h2.2M699.1,747.0V751.4M698.0,747.0h2.2M698.0,751.4h2.2M701.6,744.9V750.4M700.5,744.9h2.2M700.5,750.4h2.2M704.0,745.9V750.8M702.9,745.9h2.2M702.9,750.8h2.2M706.5,745.7V750.8M705.4,745.7h2.2M705.4,750.8h2.2M708.9,743.7V749.3M707.8,743.7h2.2M707.8,749.3h2.2M711.4,740.6V747.6M710.3,740.6h2.2M710.3,747.6h2.2M713.9,735.1V745.4M712.8,735.1h2.2M712.8,745.4h2.2M716.3,741.4V747.9M715.2,741.4h2.2M715.2,747.9h2.2M718.8,745.4V750.6M717.7,745.4h2.2M717.7,750.6h2.2M721.2,746.4V751.1M720.1,746.4h2.2M720.1,751.1h2.2M723.7,746.2V750.8M722.6,746.2h2.2M722.6,750.8h2.2M726.1,745.5V750.7M725.0,745.5h2.2M725.0,750.7h2.2M728.6,714.8V734.1M727.5,714.8h2.2M727.5,734.1h2.2M731.1,651.9V700.4M730.0,651.9h2.2M730.0,700.4h2.2M733.5,664.4V694.1M732.4,664.4h2.2M732.4,694.1h2.2M736.0,675.5V713.7M734.9,675.5h2.2M734.9,713.7h2.2M738.4,678.7V707.7M737.3,678.7h2.2M737.3,707.7h2.2M740.9,673.7V708.3M739.8,673.7h2.2M739.8,708.3h2.2M743.3,672.5V706.8M742.2,672.5h2.2M742.2,706.8h2.2M745.8,734.6V742.7M744.7,734.6h2.2M744.7,742.7h2.2M748.3,748.3V752.3M747.2,748.3h2.2M747.2,752.3h2.2M750.7,736.7V744.3M749.6,736.7h2.2M749.6,744.3h2.2M753.2,738.0V746.7M752.1,738.0h2.2M752.1,746.7h2.2M755.6,747.8V751.9M754.5,747.8h2.2M754.5,751.9h2.2M758.1,746.1V750.8M757.0,746.1h2.2M757.0,750.8h2.2M760.5,740.8V747.9M759.4,740.8h2.2M759.4,747.9h2.2M763.0,743.6V749.3M761.9,743.6h2.2M761.9,749.3h2.2M765.5,738.7V746.2M764.4,738.7h2.2M764.4,746.2h2.2M767.9,741.1V748.0M766.8,741.1h2.2M766.8,748.0h2.2M770.4,747.7V751.8M769.3,747.7h2.2M769.3,751.8h2.2M772.8,736.7V744.6M771.7,736.7h2.2M771.7,744.6h2.2M775.3,731.8V742.7M774.2,731.8h2.2M774.2,742.7h2.2M777.7,746.3V750.9M776.6,746.3h2.2M776.6,750.9h2.2M780.2,747.8V751.9M779.1,747.8h2.2M779.1,751.9h2.2M782.7,748.2V752.2M781.6,748.2h2.2M781.6,752.2h2.2" stroke="#ec2129" stroke-width="1.0" fill="none"/>
<path d="M448.5,688.5 L451.0,690.4 L453.4,703.3 L455.9,750.1 L458.3,751.4 L460.8,750.2 L463.2,749.6 L465.7,739.4 L468.2,738.8 L470.6,733.5 L473.1,735.4 L475.5,748.6 L478.0,747.1 L480.4,743.3 L482.9,747.9 L485.4,749.5 L487.8,749.3 L490.3,739.8 L492.7,706.5 L495.2,676.6 L497.6,651.3 L500.1,666.4 L502.6,684.8 L505.0,686.5 L507.5,695.5 L509.9,707.2 L512.4,741.0 L514.8,731.4 L517.3,749.5 L519.8,747.9 L522.2,743.0 L524.7,735.3 L527.1,718.9 L529.6,737.7 L532.0,747.2 L534.5,749.3 L537.0,738.5 L539.4,739.7 L541.9,742.6 L544.3,749.6 L546.8,750.6 L549.2,745.4 L551.7,689.1 L554.2,639.0 L556.6,647.8 L559.1,665.3 L561.5,675.7 L564.0,687.3 L566.4,690.6 L568.9,700.7 L571.4,738.3 L573.8,731.2 L576.3,749.6 L578.7,752.9 L581.2,741.6 L583.6,747.2 L586.1,749.1 L588.5,742.7 L591.0,744.1 L593.5,745.5 L595.9,743.7 L598.4,741.3 L600.8,742.6 L603.3,747.3 L605.7,751.7 L608.2,741.7 L610.7,691.4 L613.1,681.9 L615.6,669.2 L618.0,656.4 L620.5,662.6 L622.9,669.7 L625.4,676.9 L627.9,710.7 L630.3,738.5 L632.8,738.1 L635.2,750.0 L637.7,753.1 L640.1,748.3 L642.6,748.2 L645.1,746.5 L647.5,743.0 L650.0,746.4 L652.4,750.9 L654.9,749.0 L657.3,745.6 L659.8,747.1 L662.3,749.2 L664.7,747.7 L667.2,747.3 L669.6,674.4 L672.1,665.6 L674.5,656.6 L677.0,668.4 L679.5,677.8 L681.9,684.7 L684.4,698.7 L686.8,714.4 L689.3,733.3 L691.7,745.1 L694.2,750.0 L696.7,751.6 L699.1,749.2 L701.6,747.6 L704.0,748.3 L706.5,748.3 L708.9,746.5 L711.4,744.1 L713.9,740.2 L716.3,744.7 L718.8,748.0 L721.2,748.8 L723.7,748.5 L726.1,748.1 L728.6,724.5 L731.1,676.1 L733.5,679.3 L736.0,694.6 L738.4,693.2 L740.9,691.0 L743.3,689.7 L745.8,738.6 L748.3,750.3 L750.7,740.5 L753.2,742.4 L755.6,749.9 L758.1,748.5 L760.5,744.4 L763.0,746.5 L765.5,742.5 L767.9,744.5 L770.4,749.8 L772.8,740.6 L775.3,737.3 L777.7,748.6 L780.2,749.9 L782.7,750.2" stroke="#ec2129" stroke-width="1.5" fill="none" stroke-linejoin="round"/>
<rect x="446.9" y="686.9" width="3.1" height="3.1" rx="1.0" fill="#fff" stroke="#ec2129" stroke-width="1.2"/>
<rect x="449.4" y="688.9" width="3.1" height="3.1" rx="1.0" fill="#fff" stroke="#ec2129" stroke-width="1.2"/>
<rect x="451.9" y="701.8" width="3.1" height="3.1" rx="1.0" fill="#fff" stroke="#ec2129" stroke-width="1.2"/>
<rect x="454.3" y="748.5" width="3.1" height="3.1" rx="1.0" fill="#fff" stroke="#ec2129" stroke-width="1.2"/>
<rect x="456.8" y="749.9" width="3.1" height="3.1" rx="1.0" fill="#fff" stroke="#ec2129" stroke-width="1.2"/>
<rect x="459.2" y="748.6" width="3.1" height="3.1" rx="1.0" fill="#fff" stroke="#ec2129" stroke-width="1.2"/>
<rect x="461.7" y="748.1" width="3.1" height="3.1" rx="1.0" fill="#fff" stroke="#ec2129" stroke-width="1.2"/>
<rect x="464.1" y="737.8" width="3.1" height="3.1" rx="1.0" fill="#fff" stroke="#ec2129" stroke-width="1.2"/>
<rect x="466.6" y="737.2" width="3.1" height="3.1" rx="1.0" fill="#fff" stroke="#ec2129" stroke-width="1.2"/>
<rect x="469.1" y="732.0" width="3.1" height="3.1" rx="1.0" fill="#fff" stroke="#ec2129" stroke-width="1.2"/>
<rect x="471.5" y="733.9" width="3.1" height="3.1" rx="1.0" fill="#fff" stroke="#ec2129" stroke-width="1.2"/>
<rect x="474.0" y="747.0" width="3.1" height="3.1" rx="1.0" fill="#fff" stroke="#ec2129" stroke-width="1.2"/>
<rect x="476.4" y="745.5" width="3.1" height="3.1" rx="1.0" fill="#fff" stroke="#ec2129" stroke-width="1.2"/>
<rect x="478.9" y="741.7" width="3.1" height="3.1" rx="1.0" fill="#fff" stroke="#ec2129" stroke-width="1.2"/>
<rect x="481.3" y="746.3" width="3.1" height="3.1" rx="1.0" fill="#fff" stroke="#ec2129" stroke-width="1.2"/>
<rect x="483.8" y="748.0" width="3.1" height="3.1" rx="1.0" fill="#fff" stroke="#ec2129" stroke-width="1.2"/>
<rect x="486.3" y="747.8" width="3.1" height="3.1" rx="1.0" fill="#fff" stroke="#ec2129" stroke-width="1.2"/>
<rect x="488.7" y="738.3" width="3.1" height="3.1" rx="1.0" fill="#fff" stroke="#ec2129" stroke-width="1.2"/>
<rect x="491.2" y="705.0" width="3.1" height="3.1" rx="1.0" fill="#fff" stroke="#ec2129" stroke-width="1.2"/>
<rect x="493.6" y="675.0" width="3.1" height="3.1" rx="1.0" fill="#fff" stroke="#ec2129" stroke-width="1.2"/>
<rect x="496.1" y="649.8" width="3.1" height="3.1" rx="1.0" fill="#fff" stroke="#ec2129" stroke-width="1.2"/>
<rect x="498.5" y="664.8" width="3.1" height="3.1" rx="1.0" fill="#fff" stroke="#ec2129" stroke-width="1.2"/>
<rect x="501.0" y="683.2" width="3.1" height="3.1" rx="1.0" fill="#fff" stroke="#ec2129" stroke-width="1.2"/>
<rect x="503.5" y="685.0" width="3.1" height="3.1" rx="1.0" fill="#fff" stroke="#ec2129" stroke-width="1.2"/>
<rect x="505.9" y="693.9" width="3.1" height="3.1" rx="1.0" fill="#fff" stroke="#ec2129" stroke-width="1.2"/>
<rect x="508.4" y="705.6" width="3.1" height="3.1" rx="1.0" fill="#fff" stroke="#ec2129" stroke-width="1.2"/>
<rect x="510.8" y="739.4" width="3.1" height="3.1" rx="1.0" fill="#fff" stroke="#ec2129" stroke-width="1.2"/>
<rect x="513.3" y="729.9" width="3.1" height="3.1" rx="1.0" fill="#fff" stroke="#ec2129" stroke-width="1.2"/>
<rect x="515.7" y="748.0" width="3.1" height="3.1" rx="1.0" fill="#fff" stroke="#ec2129" stroke-width="1.2"/>
<rect x="518.2" y="746.4" width="3.1" height="3.1" rx="1.0" fill="#fff" stroke="#ec2129" stroke-width="1.2"/>
<rect x="520.7" y="741.5" width="3.1" height="3.1" rx="1.0" fill="#fff" stroke="#ec2129" stroke-width="1.2"/>
<rect x="523.1" y="733.8" width="3.1" height="3.1" rx="1.0" fill="#fff" stroke="#ec2129" stroke-width="1.2"/>
<rect x="525.6" y="717.4" width="3.1" height="3.1" rx="1.0" fill="#fff" stroke="#ec2129" stroke-width="1.2"/>
<rect x="528.0" y="736.1" width="3.1" height="3.1" rx="1.0" fill="#fff" stroke="#ec2129" stroke-width="1.2"/>
<rect x="530.5" y="745.7" width="3.1" height="3.1" rx="1.0" fill="#fff" stroke="#ec2129" stroke-width="1.2"/>
<rect x="532.9" y="747.8" width="3.1" height="3.1" rx="1.0" fill="#fff" stroke="#ec2129" stroke-width="1.2"/>
<rect x="535.4" y="737.0" width="3.1" height="3.1" rx="1.0" fill="#fff" stroke="#ec2129" stroke-width="1.2"/>
<rect x="537.9" y="738.2" width="3.1" height="3.1" rx="1.0" fill="#fff" stroke="#ec2129" stroke-width="1.2"/>
<rect x="540.3" y="741.0" width="3.1" height="3.1" rx="1.0" fill="#fff" stroke="#ec2129" stroke-width="1.2"/>
<rect x="542.8" y="748.1" width="3.1" height="3.1" rx="1.0" fill="#fff" stroke="#ec2129" stroke-width="1.2"/>
<rect x="545.2" y="749.0" width="3.1" height="3.1" rx="1.0" fill="#fff" stroke="#ec2129" stroke-width="1.2"/>
<rect x="547.7" y="743.8" width="3.1" height="3.1" rx="1.0" fill="#fff" stroke="#ec2129" stroke-width="1.2"/>
<rect x="550.1" y="687.5" width="3.1" height="3.1" rx="1.0" fill="#fff" stroke="#ec2129" stroke-width="1.2"/>
<rect x="552.6" y="637.5" width="3.1" height="3.1" rx="1.0" fill="#fff" stroke="#ec2129" stroke-width="1.2"/>
<rect x="555.1" y="646.3" width="3.1" height="3.1" rx="1.0" fill="#fff" stroke="#ec2129" stroke-width="1.2"/>
<rect x="557.5" y="663.7" width="3.1" height="3.1" rx="1.0" fill="#fff" stroke="#ec2129" stroke-width="1.2"/>
<rect x="560.0" y="674.2" width="3.1" height="3.1" rx="1.0" fill="#fff" stroke="#ec2129" stroke-width="1.2"/>
<rect x="562.4" y="685.7" width="3.1" height="3.1" rx="1.0" fill="#fff" stroke="#ec2129" stroke-width="1.2"/>
<rect x="564.9" y="689.0" width="3.1" height="3.1" rx="1.0" fill="#fff" stroke="#ec2129" stroke-width="1.2"/>
<rect x="567.3" y="699.2" width="3.1" height="3.1" rx="1.0" fill="#fff" stroke="#ec2129" stroke-width="1.2"/>
<rect x="569.8" y="736.7" width="3.1" height="3.1" rx="1.0" fill="#fff" stroke="#ec2129" stroke-width="1.2"/>
<rect x="572.3" y="729.6" width="3.1" height="3.1" rx="1.0" fill="#fff" stroke="#ec2129" stroke-width="1.2"/>
<rect x="574.7" y="748.1" width="3.1" height="3.1" rx="1.0" fill="#fff" stroke="#ec2129" stroke-width="1.2"/>
<rect x="577.2" y="751.3" width="3.1" height="3.1" rx="1.0" fill="#fff" stroke="#ec2129" stroke-width="1.2"/>
<rect x="579.6" y="740.1" width="3.1" height="3.1" rx="1.0" fill="#fff" stroke="#ec2129" stroke-width="1.2"/>
<rect x="582.1" y="745.6" width="3.1" height="3.1" rx="1.0" fill="#fff" stroke="#ec2129" stroke-width="1.2"/>
<rect x="584.5" y="747.6" width="3.1" height="3.1" rx="1.0" fill="#fff" stroke="#ec2129" stroke-width="1.2"/>
<rect x="587.0" y="741.1" width="3.1" height="3.1" rx="1.0" fill="#fff" stroke="#ec2129" stroke-width="1.2"/>
<rect x="589.5" y="742.6" width="3.1" height="3.1" rx="1.0" fill="#fff" stroke="#ec2129" stroke-width="1.2"/>
<rect x="591.9" y="744.0" width="3.1" height="3.1" rx="1.0" fill="#fff" stroke="#ec2129" stroke-width="1.2"/>
<rect x="594.4" y="742.1" width="3.1" height="3.1" rx="1.0" fill="#fff" stroke="#ec2129" stroke-width="1.2"/>
<rect x="596.8" y="739.7" width="3.1" height="3.1" rx="1.0" fill="#fff" stroke="#ec2129" stroke-width="1.2"/>
<rect x="599.3" y="741.1" width="3.1" height="3.1" rx="1.0" fill="#fff" stroke="#ec2129" stroke-width="1.2"/>
<rect x="601.7" y="745.8" width="3.1" height="3.1" rx="1.0" fill="#fff" stroke="#ec2129" stroke-width="1.2"/>
<rect x="604.2" y="750.1" width="3.1" height="3.1" rx="1.0" fill="#fff" stroke="#ec2129" stroke-width="1.2"/>
<rect x="606.7" y="740.1" width="3.1" height="3.1" rx="1.0" fill="#fff" stroke="#ec2129" stroke-width="1.2"/>
<rect x="609.1" y="689.9" width="3.1" height="3.1" rx="1.0" fill="#fff" stroke="#ec2129" stroke-width="1.2"/>
<rect x="611.6" y="680.4" width="3.1" height="3.1" rx="1.0" fill="#fff" stroke="#ec2129" stroke-width="1.2"/>
<rect x="614.0" y="667.6" width="3.1" height="3.1" rx="1.0" fill="#fff" stroke="#ec2129" stroke-width="1.2"/>
<rect x="616.5" y="654.8" width="3.1" height="3.1" rx="1.0" fill="#fff" stroke="#ec2129" stroke-width="1.2"/>
<rect x="618.9" y="661.1" width="3.1" height="3.1" rx="1.0" fill="#fff" stroke="#ec2129" stroke-width="1.2"/>
<rect x="621.4" y="668.2" width="3.1" height="3.1" rx="1.0" fill="#fff" stroke="#ec2129" stroke-width="1.2"/>
<rect x="623.9" y="675.4" width="3.1" height="3.1" rx="1.0" fill="#fff" stroke="#ec2129" stroke-width="1.2"/>
<rect x="626.3" y="709.2" width="3.1" height="3.1" rx="1.0" fill="#fff" stroke="#ec2129" stroke-width="1.2"/>
<rect x="628.8" y="736.9" width="3.1" height="3.1" rx="1.0" fill="#fff" stroke="#ec2129" stroke-width="1.2"/>
<rect x="631.2" y="736.6" width="3.1" height="3.1" rx="1.0" fill="#fff" stroke="#ec2129" stroke-width="1.2"/>
<rect x="633.7" y="748.4" width="3.1" height="3.1" rx="1.0" fill="#fff" stroke="#ec2129" stroke-width="1.2"/>
<rect x="636.1" y="751.6" width="3.1" height="3.1" rx="1.0" fill="#fff" stroke="#ec2129" stroke-width="1.2"/>
<rect x="638.6" y="746.7" width="3.1" height="3.1" rx="1.0" fill="#fff" stroke="#ec2129" stroke-width="1.2"/>
<rect x="641.1" y="746.6" width="3.1" height="3.1" rx="1.0" fill="#fff" stroke="#ec2129" stroke-width="1.2"/>
<rect x="643.5" y="745.0" width="3.1" height="3.1" rx="1.0" fill="#fff" stroke="#ec2129" stroke-width="1.2"/>
<rect x="646.0" y="741.4" width="3.1" height="3.1" rx="1.0" fill="#fff" stroke="#ec2129" stroke-width="1.2"/>
<rect x="648.4" y="744.8" width="3.1" height="3.1" rx="1.0" fill="#fff" stroke="#ec2129" stroke-width="1.2"/>
<rect x="650.9" y="749.4" width="3.1" height="3.1" rx="1.0" fill="#fff" stroke="#ec2129" stroke-width="1.2"/>
<rect x="653.3" y="747.5" width="3.1" height="3.1" rx="1.0" fill="#fff" stroke="#ec2129" stroke-width="1.2"/>
<rect x="655.8" y="744.1" width="3.1" height="3.1" rx="1.0" fill="#fff" stroke="#ec2129" stroke-width="1.2"/>
<rect x="658.3" y="745.5" width="3.1" height="3.1" rx="1.0" fill="#fff" stroke="#ec2129" stroke-width="1.2"/>
<rect x="660.7" y="747.7" width="3.1" height="3.1" rx="1.0" fill="#fff" stroke="#ec2129" stroke-width="1.2"/>
<rect x="663.2" y="746.1" width="3.1" height="3.1" rx="1.0" fill="#fff" stroke="#ec2129" stroke-width="1.2"/>
<rect x="665.6" y="745.7" width="3.1" height="3.1" rx="1.0" fill="#fff" stroke="#ec2129" stroke-width="1.2"/>
<rect x="668.1" y="672.8" width="3.1" height="3.1" rx="1.0" fill="#fff" stroke="#ec2129" stroke-width="1.2"/>
<rect x="670.5" y="664.1" width="3.1" height="3.1" rx="1.0" fill="#fff" stroke="#ec2129" stroke-width="1.2"/>
<rect x="673.0" y="655.0" width="3.1" height="3.1" rx="1.0" fill="#fff" stroke="#ec2129" stroke-width="1.2"/>
<rect x="675.5" y="666.9" width="3.1" height="3.1" rx="1.0" fill="#fff" stroke="#ec2129" stroke-width="1.2"/>
<rect x="677.9" y="676.3" width="3.1" height="3.1" rx="1.0" fill="#fff" stroke="#ec2129" stroke-width="1.2"/>
<rect x="680.4" y="683.2" width="3.1" height="3.1" rx="1.0" fill="#fff" stroke="#ec2129" stroke-width="1.2"/>
<rect x="682.8" y="697.2" width="3.1" height="3.1" rx="1.0" fill="#fff" stroke="#ec2129" stroke-width="1.2"/>
<rect x="685.3" y="712.9" width="3.1" height="3.1" rx="1.0" fill="#fff" stroke="#ec2129" stroke-width="1.2"/>
<rect x="687.7" y="731.7" width="3.1" height="3.1" rx="1.0" fill="#fff" stroke="#ec2129" stroke-width="1.2"/>
<rect x="690.2" y="743.6" width="3.1" height="3.1" rx="1.0" fill="#fff" stroke="#ec2129" stroke-width="1.2"/>
<rect x="692.7" y="748.5" width="3.1" height="3.1" rx="1.0" fill="#fff" stroke="#ec2129" stroke-width="1.2"/>
<rect x="695.1" y="750.1" width="3.1" height="3.1" rx="1.0" fill="#fff" stroke="#ec2129" stroke-width="1.2"/>
<rect x="697.6" y="747.6" width="3.1" height="3.1" rx="1.0" fill="#fff" stroke="#ec2129" stroke-width="1.2"/>
<rect x="700.0" y="746.1" width="3.1" height="3.1" rx="1.0" fill="#fff" stroke="#ec2129" stroke-width="1.2"/>
<rect x="702.5" y="746.8" width="3.1" height="3.1" rx="1.0" fill="#fff" stroke="#ec2129" stroke-width="1.2"/>
<rect x="704.9" y="746.7" width="3.1" height="3.1" rx="1.0" fill="#fff" stroke="#ec2129" stroke-width="1.2"/>
<rect x="707.4" y="744.9" width="3.1" height="3.1" rx="1.0" fill="#fff" stroke="#ec2129" stroke-width="1.2"/>
<rect x="709.8" y="742.6" width="3.1" height="3.1" rx="1.0" fill="#fff" stroke="#ec2129" stroke-width="1.2"/>
<rect x="712.3" y="738.7" width="3.1" height="3.1" rx="1.0" fill="#fff" stroke="#ec2129" stroke-width="1.2"/>
<rect x="714.8" y="743.1" width="3.1" height="3.1" rx="1.0" fill="#fff" stroke="#ec2129" stroke-width="1.2"/>
<rect x="717.2" y="746.4" width="3.1" height="3.1" rx="1.0" fill="#fff" stroke="#ec2129" stroke-width="1.2"/>
<rect x="719.7" y="747.2" width="3.1" height="3.1" rx="1.0" fill="#fff" stroke="#ec2129" stroke-width="1.2"/>
<rect x="722.1" y="747.0" width="3.1" height="3.1" rx="1.0" fill="#fff" stroke="#ec2129" stroke-width="1.2"/>
<rect x="724.6" y="746.6" width="3.1" height="3.1" rx="1.0" fill="#fff" stroke="#ec2129" stroke-width="1.2"/>
<rect x="727.0" y="722.9" width="3.1" height="3.1" rx="1.0" fill="#fff" stroke="#ec2129" stroke-width="1.2"/>
<rect x="729.5" y="674.6" width="3.1" height="3.1" rx="1.0" fill="#fff" stroke="#ec2129" stroke-width="1.2"/>
<rect x="732.0" y="677.7" width="3.1" height="3.1" rx="1.0" fill="#fff" stroke="#ec2129" stroke-width="1.2"/>
<rect x="734.4" y="693.1" width="3.1" height="3.1" rx="1.0" fill="#fff" stroke="#ec2129" stroke-width="1.2"/>
<rect x="736.9" y="691.7" width="3.1" height="3.1" rx="1.0" fill="#fff" stroke="#ec2129" stroke-width="1.2"/>
<rect x="739.3" y="689.4" width="3.1" height="3.1" rx="1.0" fill="#fff" stroke="#ec2129" stroke-width="1.2"/>
<rect x="741.8" y="688.1" width="3.1" height="3.1" rx="1.0" fill="#fff" stroke="#ec2129" stroke-width="1.2"/>
<rect x="744.2" y="737.1" width="3.1" height="3.1" rx="1.0" fill="#fff" stroke="#ec2129" stroke-width="1.2"/>
<rect x="746.7" y="748.7" width="3.1" height="3.1" rx="1.0" fill="#fff" stroke="#ec2129" stroke-width="1.2"/>
<rect x="749.2" y="738.9" width="3.1" height="3.1" rx="1.0" fill="#fff" stroke="#ec2129" stroke-width="1.2"/>
<rect x="751.6" y="740.8" width="3.1" height="3.1" rx="1.0" fill="#fff" stroke="#ec2129" stroke-width="1.2"/>
<rect x="754.1" y="748.3" width="3.1" height="3.1" rx="1.0" fill="#fff" stroke="#ec2129" stroke-width="1.2"/>
<rect x="756.5" y="746.9" width="3.1" height="3.1" rx="1.0" fill="#fff" stroke="#ec2129" stroke-width="1.2"/>
<rect x="759.0" y="742.8" width="3.1" height="3.1" rx="1.0" fill="#fff" stroke="#ec2129" stroke-width="1.2"/>
<rect x="761.4" y="744.9" width="3.1" height="3.1" rx="1.0" fill="#fff" stroke="#ec2129" stroke-width="1.2"/>
<rect x="763.9" y="740.9" width="3.1" height="3.1" rx="1.0" fill="#fff" stroke="#ec2129" stroke-width="1.2"/>
<rect x="766.4" y="743.0" width="3.1" height="3.1" rx="1.0" fill="#fff" stroke="#ec2129" stroke-width="1.2"/>
<rect x="768.8" y="748.2" width="3.1" height="3.1" rx="1.0" fill="#fff" stroke="#ec2129" stroke-width="1.2"/>
<rect x="771.3" y="739.1" width="3.1" height="3.1" rx="1.0" fill="#fff" stroke="#ec2129" stroke-width="1.2"/>
<rect x="773.7" y="735.7" width="3.1" height="3.1" rx="1.0" fill="#fff" stroke="#ec2129" stroke-width="1.2"/>
<rect x="776.2" y="747.1" width="3.1" height="3.1" rx="1.0" fill="#fff" stroke="#ec2129" stroke-width="1.2"/>
<rect x="778.6" y="748.3" width="3.1" height="3.1" rx="1.0" fill="#fff" stroke="#ec2129" stroke-width="1.2"/>
<rect x="781.1" y="748.7" width="3.1" height="3.1" rx="1.0" fill="#fff" stroke="#ec2129" stroke-width="1.2"/>
<line x1="450.2" y1="612.6" x2="488.8" y2="612.6" stroke="#111" stroke-width="1.5"/>
<text x="469.5" y="610.6" font-size="6.6" font-style="italic" text-anchor="middle" fill="#222">0.06</text>
<line x1="489.8" y1="599.5" x2="508.6" y2="599.5" stroke="#111" stroke-width="1.5"/>
<path d="M494.20,591.40L494.20,595.60M492.38,592.45L496.02,594.55M492.38,594.55L496.02,592.45M499.20,591.40L499.20,595.60M497.38,592.45L501.02,594.55M497.38,594.55L501.02,592.45M504.20,591.40L504.20,595.60M502.38,592.45L506.02,594.55M502.38,594.55L506.02,592.45" stroke="#222" stroke-width="1.15" fill="none"/>
<line x1="509.3" y1="612" x2="548.2" y2="612" stroke="#111" stroke-width="1.5"/>
<text x="528.8" y="610.0" font-size="6.6" font-style="italic" text-anchor="middle" fill="#222">0.06</text>
<line x1="548.9" y1="599.5" x2="567.7" y2="599.5" stroke="#111" stroke-width="1.5"/>
<path d="M553.30,591.40L553.30,595.60M551.48,592.45L555.12,594.55M551.48,594.55L555.12,592.45M558.30,591.40L558.30,595.60M556.48,592.45L560.12,594.55M556.48,594.55L560.12,592.45M563.30,591.40L563.30,595.60M561.48,592.45L565.12,594.55M561.48,594.55L565.12,592.45" stroke="#222" stroke-width="1.15" fill="none"/>
<line x1="608.9" y1="599.4" x2="627.1" y2="599.4" stroke="#111" stroke-width="1.5"/>
<path d="M618.00,591.30L618.00,595.50M616.18,592.35L619.82,594.45M616.18,594.45L619.82,592.35" stroke="#222" stroke-width="1.15" fill="none"/>
<line x1="667.4" y1="599.4" x2="686.3" y2="599.4" stroke="#111" stroke-width="1.5"/>
<path d="M676.85,591.30L676.85,595.50M675.03,592.35L678.67,594.45M675.03,594.45L678.67,592.35" stroke="#222" stroke-width="1.15" fill="none"/>
<rect x="45" y="814.0" width="338.2" height="207.4000000000001" fill="none" stroke="#111" stroke-width="1.4"/>
<line x1="42.4" y1="1007.2" x2="45" y2="1007.2" stroke="#111" stroke-width="1.2"/>
<text x="41.1" y="1009.6" font-size="12.4" text-anchor="end" >0</text>
<line x1="42.4" y1="979.5" x2="45" y2="979.5" stroke="#111" stroke-width="1.2"/>
<text x="41.1" y="981.9" font-size="12.4" text-anchor="end" >10</text>
<line x1="42.4" y1="951.9" x2="45" y2="951.9" stroke="#111" stroke-width="1.2"/>
<text x="41.1" y="954.3" font-size="12.4" text-anchor="end" >20</text>
<line x1="42.4" y1="924.2" x2="45" y2="924.2" stroke="#111" stroke-width="1.2"/>
<text x="41.1" y="926.6" font-size="12.4" text-anchor="end" >30</text>
<line x1="42.4" y1="896.5" x2="45" y2="896.5" stroke="#111" stroke-width="1.2"/>
<text x="41.1" y="898.9" font-size="12.4" text-anchor="end" >40</text>
<line x1="42.4" y1="868.9" x2="45" y2="868.9" stroke="#111" stroke-width="1.2"/>
<text x="41.1" y="871.2" font-size="12.4" text-anchor="end" >50</text>
<line x1="42.4" y1="841.2" x2="45" y2="841.2" stroke="#111" stroke-width="1.2"/>
<text x="41.1" y="843.6" font-size="12.4" text-anchor="end" >60</text>
<line x1="42.4" y1="813.5" x2="45" y2="813.5" stroke="#111" stroke-width="1.2"/>
<text x="41.1" y="815.9" font-size="12.4" text-anchor="end" >70</text>
<line x1="43" y1="993.4" x2="45" y2="993.4" stroke="#111" stroke-width="1.1"/>
<line x1="43" y1="965.7" x2="45" y2="965.7" stroke="#111" stroke-width="1.1"/>
<line x1="43" y1="938.0" x2="45" y2="938.0" stroke="#111" stroke-width="1.1"/>
<line x1="43" y1="910.4" x2="45" y2="910.4" stroke="#111" stroke-width="1.1"/>
<line x1="43" y1="882.7" x2="45" y2="882.7" stroke="#111" stroke-width="1.1"/>
<line x1="43" y1="855.0" x2="45" y2="855.0" stroke="#111" stroke-width="1.1"/>
<line x1="43" y1="827.3" x2="45" y2="827.3" stroke="#111" stroke-width="1.1"/>
<line x1="46" y1="1007.2" x2="382.2" y2="1007.2" stroke="#111" stroke-width="1.2" stroke-dasharray="1.5 1.45"/>
<text transform="translate(18.6,908.7) rotate(-90)" x="0" y="0" font-size="12.4" text-anchor="middle">Locomotor Activity (counts/bin)</text>
<rect x="45" y="1016.0" width="338.2" height="5.4" fill="#111"/>
<rect x="67.6" y="1017.8" width="35.4" height="1.8" fill="#fff"/>
<rect x="123.4" y="1017.8" width="35.3" height="1.8" fill="#fff"/>
<rect x="179.1" y="1017.8" width="35.4" height="1.8" fill="#fff"/>
<rect x="234.9" y="1017.8" width="35.4" height="1.8" fill="#fff"/>
<rect x="290.7" y="1017.8" width="35.4" height="1.8" fill="#fff"/>
<rect x="346.4" y="1017.8" width="35.1" height="1.8" fill="#fff"/>
<line x1="45" y1="1022.0" x2="383.2" y2="1022.0" stroke="#333" stroke-width="1" stroke-dasharray="1 1.5"/>
<text x="48.0" y="1032.4" font-size="11.8" text-anchor="middle" >16</text>
<text x="66.6" y="1032.4" font-size="11.8" text-anchor="middle" >0</text>
<text x="85.2" y="1032.4" font-size="11.8" text-anchor="middle" >8</text>
<text x="103.8" y="1032.4" font-size="11.8" text-anchor="middle" >16</text>
<text x="122.4" y="1032.4" font-size="11.8" text-anchor="middle" >0</text>
<text x="140.9" y="1032.4" font-size="11.8" text-anchor="middle" >8</text>
<text x="159.5" y="1032.4" font-size="11.8" text-anchor="middle" >16</text>
<text x="178.1" y="1032.4" font-size="11.8" text-anchor="middle" >0</text>
<text x="196.7" y="1032.4" font-size="11.8" text-anchor="middle" >8</text>
<text x="215.3" y="1032.4" font-size="11.8" text-anchor="middle" >16</text>
<text x="233.9" y="1032.4" font-size="11.8" text-anchor="middle" >0</text>
<text x="252.5" y="1032.4" font-size="11.8" text-anchor="middle" >8</text>
<text x="271.1" y="1032.4" font-size="11.8" text-anchor="middle" >16</text>
<text x="289.7" y="1032.4" font-size="11.8" text-anchor="middle" >0</text>
<text x="308.3" y="1032.4" font-size="11.8" text-anchor="middle" >8</text>
<text x="326.9" y="1032.4" font-size="11.8" text-anchor="middle" >16</text>
<text x="345.4" y="1032.4" font-size="11.8" text-anchor="middle" >0</text>
<text x="364.0" y="1032.4" font-size="11.8" text-anchor="middle" >8</text>
<text x="382.6" y="1032.4" font-size="11.8" text-anchor="middle" >16</text>
<text x="215.4" y="1046.6" font-size="12.4" text-anchor="middle" >Time (ZT)</text>
<text x="105.2" y="830.1" font-size="19.0" text-anchor="start" >ARR - ZT 16 INJECTION</text>
<text x="49.5" y="830.1" font-size="18.8" text-anchor="start" >G</text>
<line x1="341.3" y1="822.6" x2="351.8" y2="822.6" stroke="#ec2129" stroke-width="1.6"/>
<circle cx="346.6" cy="822.6" r="2.3" fill="#ec2129"/>
<text x="355.0" y="827.1" font-size="12.2" text-anchor="start" >SAL</text>
<line x1="341.3" y1="835.1" x2="351.8" y2="835.1" stroke="#3550a6" stroke-width="1.6"/>
<circle cx="346.6" cy="835.1" r="2.3" fill="#3550a6"/>
<text x="355.0" y="838.8" font-size="12.2" text-anchor="start" >LPS</text>
<line x1="104.2" y1="888" x2="104.2" y2="895.36" stroke="#000" stroke-width="1.9"/>
<path d="M99.8,893.7 L108.6,893.7 L104.2,909.2 Z" fill="#000"/>
<path d="M45.6,979.5V992.2M44.5,979.5h2.2M44.5,992.2h2.2M47.9,973.6V984.5M46.8,973.6h2.2M46.8,984.5h2.2M50.2,961.8V981.7M49.1,961.8h2.2M49.1,981.7h2.2M52.6,968.5V986.2M51.5,968.5h2.2M51.5,986.2h2.2M54.9,971.0V987.6M53.8,971.0h2.2M53.8,987.6h2.2M57.2,973.4V989.0M56.1,973.4h2.2M56.1,989.0h2.2M59.5,982.6V991.6M58.4,982.6h2.2M58.4,991.6h2.2M61.9,978.2V990.6M60.8,978.2h2.2M60.8,990.6h2.2M64.2,972.7V986.6M63.1,972.7h2.2M63.1,986.6h2.2M66.5,978.2V987.8M65.4,978.2h2.2M65.4,987.8h2.2M68.8,981.3V992.4M67.7,981.3h2.2M67.7,992.4h2.2M71.2,987.6V994.4M70.1,987.6h2.2M70.1,994.4h2.2M73.5,981.8V993.2M72.4,981.8h2.2M72.4,993.2h2.2M75.8,989.9V996.2M74.7,989.9h2.2M74.7,996.2h2.2M78.1,985.2V992.1M77.0,985.2h2.2M77.0,992.1h2.2M80.5,988.0V994.5M79.4,988.0h2.2M79.4,994.5h2.2M82.8,979.3V990.6M81.7,979.3h2.2M81.7,990.6h2.2M85.1,961.1V981.2M84.0,961.1h2.2M84.0,981.2h2.2M87.4,957.3V982.6M86.3,957.3h2.2M86.3,982.6h2.2M89.8,967.5V983.2M88.7,967.5h2.2M88.7,983.2h2.2M92.1,966.0V984.3M91.0,966.0h2.2M91.0,984.3h2.2M94.4,971.6V989.5M93.3,971.6h2.2M93.3,989.5h2.2M96.7,973.4V985.4M95.6,973.4h2.2M95.6,985.4h2.2M99.1,979.8V989.1M98.0,979.8h2.2M98.0,989.1h2.2M101.4,977.5V985.8M100.3,977.5h2.2M100.3,985.8h2.2M103.7,974.5V987.5M102.6,974.5h2.2M102.6,987.5h2.2M106.0,955.9V978.5M104.9,955.9h2.2M104.9,978.5h2.2M108.3,953.2V969.6M107.2,953.2h2.2M107.2,969.6h2.2M110.7,974.9V984.3M109.6,974.9h2.2M109.6,984.3h2.2M113.0,995.1V999.9M111.9,995.1h2.2M111.9,999.9h2.2M115.3,1000.5V1003.5M114.2,1000.5h2.2M114.2,1003.5h2.2M117.6,1002.3V1005.3M116.5,1002.3h2.2M116.5,1005.3h2.2M120.0,998.1V1001.3M118.9,998.1h2.2M118.9,1001.3h2.2M122.3,998.9V1001.9M121.2,998.9h2.2M121.2,1001.9h2.2M124.6,995.3V999.5M123.5,995.3h2.2M123.5,999.5h2.2M126.9,992.4V998.8M125.8,992.4h2.2M125.8,998.8h2.2M129.3,992.7V997.9M128.2,992.7h2.2M128.2,997.9h2.2M131.6,998.9V1001.9M130.5,998.9h2.2M130.5,1001.9h2.2M133.9,1000.8V1003.8M132.8,1000.8h2.2M132.8,1003.8h2.2M136.2,1000.7V1003.7M135.1,1000.7h2.2M135.1,1003.7h2.2M138.6,998.2V1001.3M137.5,998.2h2.2M137.5,1001.3h2.2M140.9,995.7V1000.1M139.8,995.7h2.2M139.8,1000.1h2.2M143.2,998.6V1001.6M142.1,998.6h2.2M142.1,1001.6h2.2M145.5,995.3V999.8M144.4,995.3h2.2M144.4,999.8h2.2M147.9,994.9V998.8M146.8,994.9h2.2M146.8,998.8h2.2M150.2,997.2V1000.6M149.1,997.2h2.2M149.1,1000.6h2.2M152.5,994.3V999.4M151.4,994.3h2.2M151.4,999.4h2.2M154.8,992.1V996.5M153.7,992.1h2.2M153.7,996.5h2.2M157.2,990.4V997.0M156.1,990.4h2.2M156.1,997.0h2.2M159.5,992.7V997.5M158.4,992.7h2.2M158.4,997.5h2.2M161.8,992.6V998.8M160.7,992.6h2.2M160.7,998.8h2.2M164.1,991.5V997.1M163.0,991.5h2.2M163.0,997.1h2.2M166.4,996.8V1000.5M165.3,996.8h2.2M165.3,1000.5h2.2M168.8,991.5V997.3M167.7,991.5h2.2M167.7,997.3h2.2M171.1,993.7V998.0M170.0,993.7h2.2M170.0,998.0h2.2M173.4,992.7V997.6M172.3,992.7h2.2M172.3,997.6h2.2M175.7,996.2V1000.0M174.6,996.2h2.2M174.6,1000.0h2.2M178.1,994.5V999.7M177.0,994.5h2.2M177.0,999.7h2.2M180.4,997.2V1000.7M179.3,997.2h2.2M179.3,1000.7h2.2M182.7,994.5V998.9M181.6,994.5h2.2M181.6,998.9h2.2M185.0,992.6V998.0M183.9,992.6h2.2M183.9,998.0h2.2M187.4,995.8V1000.3M186.3,995.8h2.2M186.3,1000.3h2.2M189.7,992.4V996.7M188.6,992.4h2.2M188.6,996.7h2.2M192.0,993.6V997.7M190.9,993.6h2.2M190.9,997.7h2.2M194.3,988.8V996.6M193.2,988.8h2.2M193.2,996.6h2.2M196.7,989.7V996.9M195.6,989.7h2.2M195.6,996.9h2.2M199.0,991.7V998.4M197.9,991.7h2.2M197.9,998.4h2.2M201.3,996.6V1000.1M200.2,996.6h2.2M200.2,1000.1h2.2M203.6,989.5V997.4M202.5,989.5h2.2M202.5,997.4h2.2M206.0,993.8V998.6M204.9,993.8h2.2M204.9,998.6h2.2M208.3,994.7V999.6M207.2,994.7h2.2M207.2,999.6h2.2M210.6,992.1V997.6M209.5,992.1h2.2M209.5,997.6h2.2M212.9,988.6V995.2M211.8,988.6h2.2M211.8,995.2h2.2M215.3,988.2V995.8M214.2,988.2h2.2M214.2,995.8h2.2M217.6,992.7V997.3M216.5,992.7h2.2M216.5,997.3h2.2M219.9,992.7V997.2M218.8,992.7h2.2M218.8,997.2h2.2M222.2,986.9V995.2M221.1,986.9h2.2M221.1,995.2h2.2M224.5,989.3V997.2M223.4,989.3h2.2M223.4,997.2h2.2M226.9,990.9V997.5M225.8,990.9h2.2M225.8,997.5h2.2M229.2,985.7V995.3M228.1,985.7h2.2M228.1,995.3h2.2M231.5,985.5V994.3M230.4,985.5h2.2M230.4,994.3h2.2M233.8,992.4V998.6M232.7,992.4h2.2M232.7,998.6h2.2M236.2,992.5V997.8M235.1,992.5h2.2M235.1,997.8h2.2M238.5,989.8V997.2M237.4,989.8h2.2M237.4,997.2h2.2M240.8,984.0V994.9M239.7,984.0h2.2M239.7,994.9h2.2M243.1,992.0V997.5M242.0,992.0h2.2M242.0,997.5h2.2M245.5,990.8V996.8M244.4,990.8h2.2M244.4,996.8h2.2M247.8,985.6V994.7M246.7,985.6h2.2M246.7,994.7h2.2M250.1,983.3V993.9M249.0,983.3h2.2M249.0,993.9h2.2M252.4,992.4V997.4M251.3,992.4h2.2M251.3,997.4h2.2M254.8,992.3V996.9M253.7,992.3h2.2M253.7,996.9h2.2M257.1,991.3V996.6M256.0,991.3h2.2M256.0,996.6h2.2M259.4,991.8V997.4M258.3,991.8h2.2M258.3,997.4h2.2M261.7,992.0V996.5M260.6,992.0h2.2M260.6,996.5h2.2M264.1,982.8V993.8M263.0,982.8h2.2M263.0,993.8h2.2M266.4,988.5V995.7M265.3,988.5h2.2M265.3,995.7h2.2M268.7,984.2V991.3M267.6,984.2h2.2M267.6,991.3h2.2M271.0,987.2V992.9M269.9,987.2h2.2M269.9,992.9h2.2M273.4,991.0V997.7M272.3,991.0h2.2M272.3,997.7h2.2M275.7,990.6V997.3M274.6,990.6h2.2M274.6,997.3h2.2M278.0,986.7V992.6M276.9,986.7h2.2M276.9,992.6h2.2M280.3,989.6V994.9M279.2,989.6h2.2M279.2,994.9h2.2M282.6,987.2V994.6M281.5,987.2h2.2M281.5,994.6h2.2M285.0,987.6V993.3M283.9,987.6h2.2M283.9,993.3h2.2M287.3,982.7V992.2M286.2,982.7h2.2M286.2,992.2h2.2M289.6,982.2V991.9M288.5,982.2h2.2M288.5,991.9h2.2M291.9,983.9V991.7M290.8,983.9h2.2M290.8,991.7h2.2M294.3,982.9V992.6M293.2,982.9h2.2M293.2,992.6h2.2M296.6,985.9V992.8M295.5,985.9h2.2M295.5,992.8h2.2M298.9,983.3V992.8M297.8,983.3h2.2M297.8,992.8h2.2M301.2,989.6V996.0M300.1,989.6h2.2M300.1,996.0h2.2M303.6,983.3V991.5M302.5,983.3h2.2M302.5,991.5h2.2M305.9,982.9V992.6M304.8,982.9h2.2M304.8,992.6h2.2M308.2,987.5V995.2M307.1,987.5h2.2M307.1,995.2h2.2M310.5,982.8V991.2M309.4,982.8h2.2M309.4,991.2h2.2M312.9,983.9V992.5M311.8,983.9h2.2M311.8,992.5h2.2M315.2,982.0V994.3M314.1,982.0h2.2M314.1,994.3h2.2M317.5,984.3V993.8M316.4,984.3h2.2M316.4,993.8h2.2M319.8,985.6V994.5M318.7,985.6h2.2M318.7,994.5h2.2M322.2,986.9V994.1M321.1,986.9h2.2M321.1,994.1h2.2M324.5,983.7V994.9M323.4,983.7h2.2M323.4,994.9h2.2M326.8,980.0V991.3M325.7,980.0h2.2M325.7,991.3h2.2M329.1,983.7V990.3M328.0,983.7h2.2M328.0,990.3h2.2M331.5,977.9V991.0M330.4,977.9h2.2M330.4,991.0h2.2M333.8,978.5V991.0M332.7,978.5h2.2M332.7,991.0h2.2M336.1,979.6V989.4M335.0,979.6h2.2M335.0,989.4h2.2M338.4,978.0V989.6M337.3,978.0h2.2M337.3,989.6h2.2M340.7,985.5V992.5M339.6,985.5h2.2M339.6,992.5h2.2M343.1,981.1V993.5M342.0,981.1h2.2M342.0,993.5h2.2M345.4,980.2V990.4M344.3,980.2h2.2M344.3,990.4h2.2M347.7,945.7V976.3M346.6,945.7h2.2M346.6,976.3h2.2M350.0,978.0V990.4M348.9,978.0h2.2M348.9,990.4h2.2M352.4,979.8V987.7M351.3,979.8h2.2M351.3,987.7h2.2M354.7,986.8V992.6M353.6,986.8h2.2M353.6,992.6h2.2M357.0,984.1V994.1M355.9,984.1h2.2M355.9,994.1h2.2M359.3,981.8V992.8M358.2,981.8h2.2M358.2,992.8h2.2M361.7,983.0V991.1M360.6,983.0h2.2M360.6,991.1h2.2M364.0,981.5V989.5M362.9,981.5h2.2M362.9,989.5h2.2M366.3,982.9V993.7M365.2,982.9h2.2M365.2,993.7h2.2M368.6,984.0V991.4M367.5,984.0h2.2M367.5,991.4h2.2M371.0,956.9V973.1M369.9,956.9h2.2M369.9,973.1h2.2M373.3,982.0V993.0M372.2,982.0h2.2M372.2,993.0h2.2M375.6,983.8V993.8M374.5,983.8h2.2M374.5,993.8h2.2M377.9,980.6V992.5M376.8,980.6h2.2M376.8,992.5h2.2M380.3,975.8V988.8M379.2,975.8h2.2M379.2,988.8h2.2M382.6,976.2V987.2M381.5,976.2h2.2M381.5,987.2h2.2" stroke="#3550a6" stroke-width="1.0" fill="none"/>
<path d="M45.6,985.9 L47.9,979.0 L50.2,971.8 L52.6,977.4 L54.9,979.3 L57.2,981.2 L59.5,987.1 L61.9,984.4 L64.2,979.7 L66.5,983.0 L68.8,986.9 L71.2,991.0 L73.5,987.5 L75.8,993.1 L78.1,988.7 L80.5,991.3 L82.8,985.0 L85.1,971.2 L87.4,970.0 L89.8,975.4 L92.1,975.2 L94.4,980.5 L96.7,979.4 L99.1,984.5 L101.4,981.7 L103.7,981.0 L106.0,967.2 L108.3,961.4 L110.7,979.6 L113.0,997.5 L115.3,1002.0 L117.6,1003.8 L120.0,999.7 L122.3,1000.4 L124.6,997.4 L126.9,995.6 L129.3,995.3 L131.6,1000.4 L133.9,1002.3 L136.2,1002.2 L138.6,999.8 L140.9,997.9 L143.2,1000.1 L145.5,997.5 L147.9,996.8 L150.2,998.9 L152.5,996.8 L154.8,994.3 L157.2,993.7 L159.5,995.1 L161.8,995.7 L164.1,994.3 L166.4,998.7 L168.8,994.4 L171.1,995.8 L173.4,995.1 L175.7,998.1 L178.1,997.1 L180.4,999.0 L182.7,996.7 L185.0,995.3 L187.4,998.1 L189.7,994.5 L192.0,995.6 L194.3,992.7 L196.7,993.3 L199.0,995.0 L201.3,998.3 L203.6,993.5 L206.0,996.2 L208.3,997.1 L210.6,994.9 L212.9,991.9 L215.3,992.0 L217.6,995.0 L219.9,994.9 L222.2,991.0 L224.5,993.3 L226.9,994.2 L229.2,990.5 L231.5,989.9 L233.8,995.5 L236.2,995.1 L238.5,993.5 L240.8,989.4 L243.1,994.8 L245.5,993.8 L247.8,990.2 L250.1,988.6 L252.4,994.9 L254.8,994.6 L257.1,993.9 L259.4,994.6 L261.7,994.2 L264.1,988.3 L266.4,992.1 L268.7,987.8 L271.0,990.1 L273.4,994.3 L275.7,994.0 L278.0,989.6 L280.3,992.3 L282.6,990.9 L285.0,990.5 L287.3,987.4 L289.6,987.1 L291.9,987.8 L294.3,987.7 L296.6,989.3 L298.9,988.1 L301.2,992.8 L303.6,987.4 L305.9,987.7 L308.2,991.4 L310.5,987.0 L312.9,988.2 L315.2,988.1 L317.5,989.0 L319.8,990.0 L322.2,990.5 L324.5,989.3 L326.8,985.6 L329.1,987.0 L331.5,984.4 L333.8,984.8 L336.1,984.5 L338.4,983.8 L340.7,989.0 L343.1,987.3 L345.4,985.3 L347.7,961.0 L350.0,984.2 L352.4,983.8 L354.7,989.7 L357.0,989.1 L359.3,987.3 L361.7,987.0 L364.0,985.5 L366.3,988.3 L368.6,987.7 L371.0,965.0 L373.3,987.5 L375.6,988.8 L377.9,986.5 L380.3,982.3 L382.6,981.7" stroke="#3550a6" stroke-width="1.5" fill="none" stroke-linejoin="round"/>
<rect x="44.1" y="984.4" width="2.9" height="2.9" fill="#3550a6"/>
<rect x="46.5" y="977.6" width="2.9" height="2.9" fill="#3550a6"/>
<rect x="48.8" y="970.3" width="2.9" height="2.9" fill="#3550a6"/>
<rect x="51.1" y="975.9" width="2.9" height="2.9" fill="#3550a6"/>
<rect x="53.4" y="977.8" width="2.9" height="2.9" fill="#3550a6"/>
<rect x="55.8" y="979.8" width="2.9" height="2.9" fill="#3550a6"/>
<rect x="58.1" y="985.6" width="2.9" height="2.9" fill="#3550a6"/>
<rect x="60.4" y="983.0" width="2.9" height="2.9" fill="#3550a6"/>
<rect x="62.7" y="978.2" width="2.9" height="2.9" fill="#3550a6"/>
<rect x="65.1" y="981.5" width="2.9" height="2.9" fill="#3550a6"/>
<rect x="67.4" y="985.4" width="2.9" height="2.9" fill="#3550a6"/>
<rect x="69.7" y="989.6" width="2.9" height="2.9" fill="#3550a6"/>
<rect x="72.0" y="986.1" width="2.9" height="2.9" fill="#3550a6"/>
<rect x="74.4" y="991.6" width="2.9" height="2.9" fill="#3550a6"/>
<rect x="76.7" y="987.2" width="2.9" height="2.9" fill="#3550a6"/>
<rect x="79.0" y="989.8" width="2.9" height="2.9" fill="#3550a6"/>
<rect x="81.3" y="983.5" width="2.9" height="2.9" fill="#3550a6"/>
<rect x="83.7" y="969.7" width="2.9" height="2.9" fill="#3550a6"/>
<rect x="86.0" y="968.5" width="2.9" height="2.9" fill="#3550a6"/>
<rect x="88.3" y="973.9" width="2.9" height="2.9" fill="#3550a6"/>
<rect x="90.6" y="973.7" width="2.9" height="2.9" fill="#3550a6"/>
<rect x="93.0" y="979.1" width="2.9" height="2.9" fill="#3550a6"/>
<rect x="95.3" y="977.9" width="2.9" height="2.9" fill="#3550a6"/>
<rect x="97.6" y="983.0" width="2.9" height="2.9" fill="#3550a6"/>
<rect x="99.9" y="980.2" width="2.9" height="2.9" fill="#3550a6"/>
<rect x="102.2" y="979.6" width="2.9" height="2.9" fill="#3550a6"/>
<rect x="104.6" y="965.8" width="2.9" height="2.9" fill="#3550a6"/>
<rect x="106.9" y="959.9" width="2.9" height="2.9" fill="#3550a6"/>
<rect x="109.2" y="978.2" width="2.9" height="2.9" fill="#3550a6"/>
<rect x="111.5" y="996.0" width="2.9" height="2.9" fill="#3550a6"/>
<rect x="113.9" y="1000.6" width="2.9" height="2.9" fill="#3550a6"/>
<rect x="116.2" y="1002.3" width="2.9" height="2.9" fill="#3550a6"/>
<rect x="118.5" y="998.3" width="2.9" height="2.9" fill="#3550a6"/>
<rect x="120.8" y="998.9" width="2.9" height="2.9" fill="#3550a6"/>
<rect x="123.2" y="995.9" width="2.9" height="2.9" fill="#3550a6"/>
<rect x="125.5" y="994.1" width="2.9" height="2.9" fill="#3550a6"/>
<rect x="127.8" y="993.9" width="2.9" height="2.9" fill="#3550a6"/>
<rect x="130.1" y="998.9" width="2.9" height="2.9" fill="#3550a6"/>
<rect x="132.5" y="1000.8" width="2.9" height="2.9" fill="#3550a6"/>
<rect x="134.8" y="1000.8" width="2.9" height="2.9" fill="#3550a6"/>
<rect x="137.1" y="998.3" width="2.9" height="2.9" fill="#3550a6"/>
<rect x="139.4" y="996.5" width="2.9" height="2.9" fill="#3550a6"/>
<rect x="141.8" y="998.6" width="2.9" height="2.9" fill="#3550a6"/>
<rect x="144.1" y="996.1" width="2.9" height="2.9" fill="#3550a6"/>
<rect x="146.4" y="995.4" width="2.9" height="2.9" fill="#3550a6"/>
<rect x="148.7" y="997.5" width="2.9" height="2.9" fill="#3550a6"/>
<rect x="151.1" y="995.4" width="2.9" height="2.9" fill="#3550a6"/>
<rect x="153.4" y="992.9" width="2.9" height="2.9" fill="#3550a6"/>
<rect x="155.7" y="992.3" width="2.9" height="2.9" fill="#3550a6"/>
<rect x="158.0" y="993.6" width="2.9" height="2.9" fill="#3550a6"/>
<rect x="160.3" y="994.2" width="2.9" height="2.9" fill="#3550a6"/>
<rect x="162.7" y="992.8" width="2.9" height="2.9" fill="#3550a6"/>
<rect x="165.0" y="997.2" width="2.9" height="2.9" fill="#3550a6"/>
<rect x="167.3" y="992.9" width="2.9" height="2.9" fill="#3550a6"/>
<rect x="169.6" y="994.4" width="2.9" height="2.9" fill="#3550a6"/>
<rect x="172.0" y="993.7" width="2.9" height="2.9" fill="#3550a6"/>
<rect x="174.3" y="996.7" width="2.9" height="2.9" fill="#3550a6"/>
<rect x="176.6" y="995.7" width="2.9" height="2.9" fill="#3550a6"/>
<rect x="178.9" y="997.5" width="2.9" height="2.9" fill="#3550a6"/>
<rect x="181.3" y="995.3" width="2.9" height="2.9" fill="#3550a6"/>
<rect x="183.6" y="993.8" width="2.9" height="2.9" fill="#3550a6"/>
<rect x="185.9" y="996.6" width="2.9" height="2.9" fill="#3550a6"/>
<rect x="188.2" y="993.1" width="2.9" height="2.9" fill="#3550a6"/>
<rect x="190.6" y="994.2" width="2.9" height="2.9" fill="#3550a6"/>
<rect x="192.9" y="991.3" width="2.9" height="2.9" fill="#3550a6"/>
<rect x="195.2" y="991.8" width="2.9" height="2.9" fill="#3550a6"/>
<rect x="197.5" y="993.6" width="2.9" height="2.9" fill="#3550a6"/>
<rect x="199.9" y="996.9" width="2.9" height="2.9" fill="#3550a6"/>
<rect x="202.2" y="992.0" width="2.9" height="2.9" fill="#3550a6"/>
<rect x="204.5" y="994.7" width="2.9" height="2.9" fill="#3550a6"/>
<rect x="206.8" y="995.7" width="2.9" height="2.9" fill="#3550a6"/>
<rect x="209.2" y="993.4" width="2.9" height="2.9" fill="#3550a6"/>
<rect x="211.5" y="990.5" width="2.9" height="2.9" fill="#3550a6"/>
<rect x="213.8" y="990.5" width="2.9" height="2.9" fill="#3550a6"/>
<rect x="216.1" y="993.5" width="2.9" height="2.9" fill="#3550a6"/>
<rect x="218.4" y="993.5" width="2.9" height="2.9" fill="#3550a6"/>
<rect x="220.8" y="989.6" width="2.9" height="2.9" fill="#3550a6"/>
<rect x="223.1" y="991.8" width="2.9" height="2.9" fill="#3550a6"/>
<rect x="225.4" y="992.8" width="2.9" height="2.9" fill="#3550a6"/>
<rect x="227.7" y="989.0" width="2.9" height="2.9" fill="#3550a6"/>
<rect x="230.1" y="988.5" width="2.9" height="2.9" fill="#3550a6"/>
<rect x="232.4" y="994.0" width="2.9" height="2.9" fill="#3550a6"/>
<rect x="234.7" y="993.7" width="2.9" height="2.9" fill="#3550a6"/>
<rect x="237.0" y="992.1" width="2.9" height="2.9" fill="#3550a6"/>
<rect x="239.4" y="988.0" width="2.9" height="2.9" fill="#3550a6"/>
<rect x="241.7" y="993.3" width="2.9" height="2.9" fill="#3550a6"/>
<rect x="244.0" y="992.3" width="2.9" height="2.9" fill="#3550a6"/>
<rect x="246.3" y="988.7" width="2.9" height="2.9" fill="#3550a6"/>
<rect x="248.7" y="987.2" width="2.9" height="2.9" fill="#3550a6"/>
<rect x="251.0" y="993.5" width="2.9" height="2.9" fill="#3550a6"/>
<rect x="253.3" y="993.1" width="2.9" height="2.9" fill="#3550a6"/>
<rect x="255.6" y="992.5" width="2.9" height="2.9" fill="#3550a6"/>
<rect x="258.0" y="993.2" width="2.9" height="2.9" fill="#3550a6"/>
<rect x="260.3" y="992.8" width="2.9" height="2.9" fill="#3550a6"/>
<rect x="262.6" y="986.8" width="2.9" height="2.9" fill="#3550a6"/>
<rect x="264.9" y="990.6" width="2.9" height="2.9" fill="#3550a6"/>
<rect x="267.3" y="986.3" width="2.9" height="2.9" fill="#3550a6"/>
<rect x="269.6" y="988.6" width="2.9" height="2.9" fill="#3550a6"/>
<rect x="271.9" y="992.9" width="2.9" height="2.9" fill="#3550a6"/>
<rect x="274.2" y="992.5" width="2.9" height="2.9" fill="#3550a6"/>
<rect x="276.6" y="988.2" width="2.9" height="2.9" fill="#3550a6"/>
<rect x="278.9" y="990.8" width="2.9" height="2.9" fill="#3550a6"/>
<rect x="281.2" y="989.5" width="2.9" height="2.9" fill="#3550a6"/>
<rect x="283.5" y="989.0" width="2.9" height="2.9" fill="#3550a6"/>
<rect x="285.8" y="986.0" width="2.9" height="2.9" fill="#3550a6"/>
<rect x="288.2" y="985.6" width="2.9" height="2.9" fill="#3550a6"/>
<rect x="290.5" y="986.4" width="2.9" height="2.9" fill="#3550a6"/>
<rect x="292.8" y="986.3" width="2.9" height="2.9" fill="#3550a6"/>
<rect x="295.1" y="987.9" width="2.9" height="2.9" fill="#3550a6"/>
<rect x="297.5" y="986.6" width="2.9" height="2.9" fill="#3550a6"/>
<rect x="299.8" y="991.3" width="2.9" height="2.9" fill="#3550a6"/>
<rect x="302.1" y="985.9" width="2.9" height="2.9" fill="#3550a6"/>
<rect x="304.4" y="986.3" width="2.9" height="2.9" fill="#3550a6"/>
<rect x="306.8" y="989.9" width="2.9" height="2.9" fill="#3550a6"/>
<rect x="309.1" y="985.6" width="2.9" height="2.9" fill="#3550a6"/>
<rect x="311.4" y="986.8" width="2.9" height="2.9" fill="#3550a6"/>
<rect x="313.7" y="986.7" width="2.9" height="2.9" fill="#3550a6"/>
<rect x="316.1" y="987.6" width="2.9" height="2.9" fill="#3550a6"/>
<rect x="318.4" y="988.6" width="2.9" height="2.9" fill="#3550a6"/>
<rect x="320.7" y="989.0" width="2.9" height="2.9" fill="#3550a6"/>
<rect x="323.0" y="987.9" width="2.9" height="2.9" fill="#3550a6"/>
<rect x="325.4" y="984.2" width="2.9" height="2.9" fill="#3550a6"/>
<rect x="327.7" y="985.6" width="2.9" height="2.9" fill="#3550a6"/>
<rect x="330.0" y="983.0" width="2.9" height="2.9" fill="#3550a6"/>
<rect x="332.3" y="983.3" width="2.9" height="2.9" fill="#3550a6"/>
<rect x="334.7" y="983.0" width="2.9" height="2.9" fill="#3550a6"/>
<rect x="337.0" y="982.4" width="2.9" height="2.9" fill="#3550a6"/>
<rect x="339.3" y="987.5" width="2.9" height="2.9" fill="#3550a6"/>
<rect x="341.6" y="985.9" width="2.9" height="2.9" fill="#3550a6"/>
<rect x="343.9" y="983.9" width="2.9" height="2.9" fill="#3550a6"/>
<rect x="346.3" y="959.5" width="2.9" height="2.9" fill="#3550a6"/>
<rect x="348.6" y="982.8" width="2.9" height="2.9" fill="#3550a6"/>
<rect x="350.9" y="982.3" width="2.9" height="2.9" fill="#3550a6"/>
<rect x="353.2" y="988.2" width="2.9" height="2.9" fill="#3550a6"/>
<rect x="355.6" y="987.7" width="2.9" height="2.9" fill="#3550a6"/>
<rect x="357.9" y="985.9" width="2.9" height="2.9" fill="#3550a6"/>
<rect x="360.2" y="985.6" width="2.9" height="2.9" fill="#3550a6"/>
<rect x="362.5" y="984.0" width="2.9" height="2.9" fill="#3550a6"/>
<rect x="364.9" y="986.8" width="2.9" height="2.9" fill="#3550a6"/>
<rect x="367.2" y="986.2" width="2.9" height="2.9" fill="#3550a6"/>
<rect x="369.5" y="963.5" width="2.9" height="2.9" fill="#3550a6"/>
<rect x="371.8" y="986.0" width="2.9" height="2.9" fill="#3550a6"/>
<rect x="374.2" y="987.4" width="2.9" height="2.9" fill="#3550a6"/>
<rect x="376.5" y="985.1" width="2.9" height="2.9" fill="#3550a6"/>
<rect x="378.8" y="980.8" width="2.9" height="2.9" fill="#3550a6"/>
<rect x="381.1" y="980.3" width="2.9" height="2.9" fill="#3550a6"/>
<path d="M45.6,981.2V992.6M44.5,981.2h2.2M44.5,992.6h2.2M47.9,975.4V991.0M46.8,975.4h2.2M46.8,991.0h2.2M50.2,948.8V978.6M49.1,948.8h2.2M49.1,978.6h2.2M52.6,968.4V983.3M51.5,968.4h2.2M51.5,983.3h2.2M54.9,982.9V993.0M53.8,982.9h2.2M53.8,993.0h2.2M57.2,985.6V992.0M56.1,985.6h2.2M56.1,992.0h2.2M59.5,981.2V989.6M58.4,981.2h2.2M58.4,989.6h2.2M61.9,978.5V990.1M60.8,978.5h2.2M60.8,990.1h2.2M64.2,969.9V981.6M63.1,969.9h2.2M63.1,981.6h2.2M66.5,967.3V987.1M65.4,967.3h2.2M65.4,987.1h2.2M68.8,981.3V989.1M67.7,981.3h2.2M67.7,989.1h2.2M71.2,984.9V991.6M70.1,984.9h2.2M70.1,991.6h2.2M73.5,984.5V991.2M72.4,984.5h2.2M72.4,991.2h2.2M75.8,974.0V989.9M74.7,974.0h2.2M74.7,989.9h2.2M78.1,981.0V989.3M77.0,981.0h2.2M77.0,989.3h2.2M80.5,989.3V997.1M79.4,989.3h2.2M79.4,997.1h2.2M82.8,971.2V989.2M81.7,971.2h2.2M81.7,989.2h2.2M85.1,969.2V985.8M84.0,969.2h2.2M84.0,985.8h2.2M87.4,960.0V984.0M86.3,960.0h2.2M86.3,984.0h2.2M89.8,967.7V987.7M88.7,967.7h2.2M88.7,987.7h2.2M92.1,975.1V985.9M91.0,975.1h2.2M91.0,985.9h2.2M94.4,974.4V984.2M93.3,974.4h2.2M93.3,984.2h2.2M96.7,977.5V985.6M95.6,977.5h2.2M95.6,985.6h2.2M99.1,978.1V990.1M98.0,978.1h2.2M98.0,990.1h2.2M101.4,968.4V985.4M100.3,968.4h2.2M100.3,985.4h2.2M103.7,970.5V983.0M102.6,970.5h2.2M102.6,983.0h2.2M106.0,964.4V981.0M104.9,964.4h2.2M104.9,981.0h2.2M108.3,957.8V977.1M107.2,957.8h2.2M107.2,977.1h2.2M110.7,978.8V986.5M109.6,978.8h2.2M109.6,986.5h2.2M113.0,994.1V998.1M111.9,994.1h2.2M111.9,998.1h2.2M115.3,989.6V997.2M114.2,989.6h2.2M114.2,997.2h2.2M117.6,978.6V991.5M116.5,978.6h2.2M116.5,991.5h2.2M120.0,984.0V993.3M118.9,984.0h2.2M118.9,993.3h2.2M122.3,980.9V988.0M121.2,980.9h2.2M121.2,988.0h2.2M124.6,979.3V992.8M123.5,979.3h2.2M123.5,992.8h2.2M126.9,980.0V992.0M125.8,980.0h2.2M125.8,992.0h2.2M129.3,990.0V997.6M128.2,990.0h2.2M128.2,997.6h2.2M131.6,983.0V991.5M130.5,983.0h2.2M130.5,991.5h2.2M133.9,984.1V994.2M132.8,984.1h2.2M132.8,994.2h2.2M136.2,978.0V991.0M135.1,978.0h2.2M135.1,991.0h2.2M138.6,987.7V996.3M137.5,987.7h2.2M137.5,996.3h2.2M140.9,975.9V991.2M139.8,975.9h2.2M139.8,991.2h2.2M143.2,979.2V988.9M142.1,979.2h2.2M142.1,988.9h2.2M145.5,984.4V995.0M144.4,984.4h2.2M144.4,995.0h2.2M147.9,980.2V993.1M146.8,980.2h2.2M146.8,993.1h2.2M150.2,985.0V992.6M149.1,985.0h2.2M149.1,992.6h2.2M152.5,982.4V990.0M151.4,982.4h2.2M151.4,990.0h2.2M154.8,979.4V987.7M153.7,979.4h2.2M153.7,987.7h2.2M157.2,984.9V995.5M156.1,984.9h2.2M156.1,995.5h2.2M159.5,980.7V987.9M158.4,980.7h2.2M158.4,987.9h2.2M161.8,990.0V996.5M160.7,990.0h2.2M160.7,996.5h2.2M164.1,958.2V973.8M163.0,958.2h2.2M163.0,973.8h2.2M166.4,983.3V994.1M165.3,983.3h2.2M165.3,994.1h2.2M168.8,982.6V991.6M167.7,982.6h2.2M167.7,991.6h2.2M171.1,974.7V990.5M170.0,974.7h2.2M170.0,990.5h2.2M173.4,976.2V988.2M172.3,976.2h2.2M172.3,988.2h2.2M175.7,988.0V993.8M174.6,988.0h2.2M174.6,993.8h2.2M178.1,984.2V995.0M177.0,984.2h2.2M177.0,995.0h2.2M180.4,983.1V993.8M179.3,983.1h2.2M179.3,993.8h2.2M182.7,976.9V988.2M181.6,976.9h2.2M181.6,988.2h2.2M185.0,975.4V990.3M183.9,975.4h2.2M183.9,990.3h2.2M187.4,979.1V989.7M186.3,979.1h2.2M186.3,989.7h2.2M189.7,987.7V996.3M188.6,987.7h2.2M188.6,996.3h2.2M192.0,988.1V995.2M190.9,988.1h2.2M190.9,995.2h2.2M194.3,980.3V992.0M193.2,980.3h2.2M193.2,992.0h2.2M196.7,981.6V990.2M195.6,981.6h2.2M195.6,990.2h2.2M199.0,981.1V988.9M197.9,981.1h2.2M197.9,988.9h2.2M201.3,977.3V992.1M200.2,977.3h2.2M200.2,992.1h2.2M203.6,987.1V995.2M202.5,987.1h2.2M202.5,995.2h2.2M206.0,981.8V990.6M204.9,981.8h2.2M204.9,990.6h2.2M208.3,976.7V986.8M207.2,976.7h2.2M207.2,986.8h2.2M210.6,984.2V994.7M209.5,984.2h2.2M209.5,994.7h2.2M212.9,978.4V991.4M211.8,978.4h2.2M211.8,991.4h2.2M215.3,984.8V994.3M214.2,984.8h2.2M214.2,994.3h2.2M217.6,947.4V975.4M216.5,947.4h2.2M216.5,975.4h2.2M219.9,979.1V991.3M218.8,979.1h2.2M218.8,991.3h2.2M222.2,978.9V989.8M221.1,978.9h2.2M221.1,989.8h2.2M224.5,985.2V994.4M223.4,985.2h2.2M223.4,994.4h2.2M226.9,977.4V991.9M225.8,977.4h2.2M225.8,991.9h2.2M229.2,984.0V993.3M228.1,984.0h2.2M228.1,993.3h2.2M231.5,964.3V981.7M230.4,964.3h2.2M230.4,981.7h2.2M233.8,978.2V990.6M232.7,978.2h2.2M232.7,990.6h2.2M236.2,980.8V992.8M235.1,980.8h2.2M235.1,992.8h2.2M238.5,983.7V994.1M237.4,983.7h2.2M237.4,994.1h2.2M240.8,980.0V991.4M239.7,980.0h2.2M239.7,991.4h2.2M243.1,985.1V995.0M242.0,985.1h2.2M242.0,995.0h2.2M245.5,979.5V992.3M244.4,979.5h2.2M244.4,992.3h2.2M247.8,987.6V995.7M246.7,987.6h2.2M246.7,995.7h2.2M250.1,988.7V997.1M249.0,988.7h2.2M249.0,997.1h2.2M252.4,983.3V992.6M251.3,983.3h2.2M251.3,992.6h2.2M254.8,977.2V991.1M253.7,977.2h2.2M253.7,991.1h2.2M257.1,989.4V996.0M256.0,989.4h2.2M256.0,996.0h2.2M259.4,985.5V994.7M258.3,985.5h2.2M258.3,994.7h2.2M261.7,987.4V993.6M260.6,987.4h2.2M260.6,993.6h2.2M264.1,962.7V981.3M263.0,962.7h2.2M263.0,981.3h2.2M266.4,985.7V993.6M265.3,985.7h2.2M265.3,993.6h2.2M268.7,984.1V994.2M267.6,984.1h2.2M267.6,994.2h2.2M271.0,984.3V994.1M269.9,984.3h2.2M269.9,994.1h2.2M273.4,978.1V986.8M272.3,978.1h2.2M272.3,986.8h2.2M275.7,945.0V972.4M274.6,945.0h2.2M274.6,972.4h2.2M278.0,978.2V990.7M276.9,978.2h2.2M276.9,990.7h2.2M280.3,986.0V991.9M279.2,986.0h2.2M279.2,991.9h2.2M282.6,983.3V991.0M281.5,983.3h2.2M281.5,991.0h2.2M285.0,978.2V986.7M283.9,978.2h2.2M283.9,986.7h2.2M287.3,981.3V989.3M286.2,981.3h2.2M286.2,989.3h2.2M289.6,980.3V987.5M288.5,980.3h2.2M288.5,987.5h2.2M291.9,982.4V991.3M290.8,982.4h2.2M290.8,991.3h2.2M294.3,983.6V993.1M293.2,983.6h2.2M293.2,993.1h2.2M296.6,977.0V991.4M295.5,977.0h2.2M295.5,991.4h2.2M298.9,975.8V987.3M297.8,975.8h2.2M297.8,987.3h2.2M301.2,979.4V989.6M300.1,979.4h2.2M300.1,989.6h2.2M303.6,975.1V990.1M302.5,975.1h2.2M302.5,990.1h2.2M305.9,981.9V988.7M304.8,981.9h2.2M304.8,988.7h2.2M308.2,984.6V991.1M307.1,984.6h2.2M307.1,991.1h2.2M310.5,982.7V991.2M309.4,982.7h2.2M309.4,991.2h2.2M312.9,936.0V970.0M311.8,936.0h2.2M311.8,970.0h2.2M315.2,985.9V993.6M314.1,985.9h2.2M314.1,993.6h2.2M317.5,985.0V994.1M316.4,985.0h2.2M316.4,994.1h2.2M319.8,980.6V988.5M318.7,980.6h2.2M318.7,988.5h2.2M322.2,981.9V992.0M321.1,981.9h2.2M321.1,992.0h2.2M324.5,985.8V995.8M323.4,985.8h2.2M323.4,995.8h2.2M326.8,982.5V991.2M325.7,982.5h2.2M325.7,991.2h2.2M329.1,970.5V979.5M328.0,970.5h2.2M328.0,979.5h2.2M331.5,974.5V987.8M330.4,974.5h2.2M330.4,987.8h2.2M333.8,983.0V990.2M332.7,983.0h2.2M332.7,990.2h2.2M336.1,980.3V992.9M335.0,980.3h2.2M335.0,992.9h2.2M338.4,978.4V989.1M337.3,978.4h2.2M337.3,989.1h2.2M340.7,963.7V978.3M339.6,963.7h2.2M339.6,978.3h2.2M343.1,986.5V993.9M342.0,986.5h2.2M342.0,993.9h2.2M345.4,984.9V995.2M344.3,984.9h2.2M344.3,995.2h2.2M347.7,981.9V990.2M346.6,981.9h2.2M346.6,990.2h2.2M350.0,986.3V994.3M348.9,986.3h2.2M348.9,994.3h2.2M352.4,947.8V968.2M351.3,947.8h2.2M351.3,968.2h2.2M354.7,986.4V994.3M353.6,986.4h2.2M353.6,994.3h2.2M357.0,976.8V988.5M355.9,976.8h2.2M355.9,988.5h2.2M359.3,973.8V987.9M358.2,973.8h2.2M358.2,987.9h2.2M361.7,979.8V989.0M360.6,979.8h2.2M360.6,989.0h2.2M364.0,982.5V993.7M362.9,982.5h2.2M362.9,993.7h2.2M366.3,934.8V964.4M365.2,934.8h2.2M365.2,964.4h2.2M368.6,974.5V990.5M367.5,974.5h2.2M367.5,990.5h2.2M371.0,984.4V991.8M369.9,984.4h2.2M369.9,991.8h2.2M373.3,978.1V986.8M372.2,978.1h2.2M372.2,986.8h2.2M375.6,946.2V966.6M374.5,946.2h2.2M374.5,966.6h2.2M377.9,981.3V991.1M376.8,981.3h2.2M376.8,991.1h2.2M380.3,981.3V991.9M379.2,981.3h2.2M379.2,991.9h2.2M382.6,984.3V991.0M381.5,984.3h2.2M381.5,991.0h2.2" stroke="#ec2129" stroke-width="1.0" fill="none"/>
<path d="M45.6,986.9 L47.9,983.2 L50.2,963.7 L52.6,975.8 L54.9,988.0 L57.2,988.8 L59.5,985.4 L61.9,984.3 L64.2,975.8 L66.5,977.2 L68.8,985.2 L71.2,988.3 L73.5,987.8 L75.8,981.9 L78.1,985.1 L80.5,993.2 L82.8,980.2 L85.1,977.5 L87.4,972.0 L89.8,977.7 L92.1,980.5 L94.4,979.3 L96.7,981.6 L99.1,984.1 L101.4,976.9 L103.7,976.7 L106.0,972.7 L108.3,967.5 L110.7,982.6 L113.0,996.1 L115.3,993.4 L117.6,985.1 L120.0,988.6 L122.3,984.5 L124.6,986.1 L126.9,986.0 L129.3,993.8 L131.6,987.2 L133.9,989.1 L136.2,984.5 L138.6,992.0 L140.9,983.5 L143.2,984.1 L145.5,989.7 L147.9,986.6 L150.2,988.8 L152.5,986.2 L154.8,983.5 L157.2,990.2 L159.5,984.3 L161.8,993.3 L164.1,966.0 L166.4,988.7 L168.8,987.1 L171.1,982.6 L173.4,982.2 L175.7,990.9 L178.1,989.6 L180.4,988.4 L182.7,982.5 L185.0,982.9 L187.4,984.4 L189.7,992.0 L192.0,991.6 L194.3,986.2 L196.7,985.9 L199.0,985.0 L201.3,984.7 L203.6,991.2 L206.0,986.2 L208.3,981.8 L210.6,989.5 L212.9,984.9 L215.3,989.5 L217.6,961.4 L219.9,985.2 L222.2,984.3 L224.5,989.8 L226.9,984.6 L229.2,988.6 L231.5,973.0 L233.8,984.4 L236.2,986.8 L238.5,988.9 L240.8,985.7 L243.1,990.1 L245.5,985.9 L247.8,991.7 L250.1,992.9 L252.4,987.9 L254.8,984.2 L257.1,992.7 L259.4,990.1 L261.7,990.5 L264.1,972.0 L266.4,989.7 L268.7,989.1 L271.0,989.2 L273.4,982.5 L275.7,958.7 L278.0,984.5 L280.3,988.9 L282.6,987.1 L285.0,982.5 L287.3,985.3 L289.6,983.9 L291.9,986.8 L294.3,988.4 L296.6,984.2 L298.9,981.5 L301.2,984.5 L303.6,982.6 L305.9,985.3 L308.2,987.8 L310.5,987.0 L312.9,953.0 L315.2,989.7 L317.5,989.6 L319.8,984.6 L322.2,986.9 L324.5,990.8 L326.8,986.9 L329.1,975.0 L331.5,981.1 L333.8,986.6 L336.1,986.6 L338.4,983.7 L340.7,971.0 L343.1,990.2 L345.4,990.1 L347.7,986.1 L350.0,990.3 L352.4,958.0 L354.7,990.3 L357.0,982.7 L359.3,980.8 L361.7,984.4 L364.0,988.1 L366.3,949.6 L368.6,982.5 L371.0,988.1 L373.3,982.4 L375.6,956.4 L377.9,986.2 L380.3,986.6 L382.6,987.7" stroke="#ec2129" stroke-width="1.5" fill="none" stroke-linejoin="round"/>
<rect x="44.1" y="985.5" width="2.9" height="2.9" fill="#ec2129"/>
<rect x="46.5" y="981.8" width="2.9" height="2.9" fill="#ec2129"/>
<rect x="48.8" y="962.2" width="2.9" height="2.9" fill="#ec2129"/>
<rect x="51.1" y="974.4" width="2.9" height="2.9" fill="#ec2129"/>
<rect x="53.4" y="986.5" width="2.9" height="2.9" fill="#ec2129"/>
<rect x="55.8" y="987.4" width="2.9" height="2.9" fill="#ec2129"/>
<rect x="58.1" y="983.9" width="2.9" height="2.9" fill="#ec2129"/>
<rect x="60.4" y="982.9" width="2.9" height="2.9" fill="#ec2129"/>
<rect x="62.7" y="974.3" width="2.9" height="2.9" fill="#ec2129"/>
<rect x="65.1" y="975.7" width="2.9" height="2.9" fill="#ec2129"/>
<rect x="67.4" y="983.8" width="2.9" height="2.9" fill="#ec2129"/>
<rect x="69.7" y="986.8" width="2.9" height="2.9" fill="#ec2129"/>
<rect x="72.0" y="986.4" width="2.9" height="2.9" fill="#ec2129"/>
<rect x="74.4" y="980.5" width="2.9" height="2.9" fill="#ec2129"/>
<rect x="76.7" y="983.7" width="2.9" height="2.9" fill="#ec2129"/>
<rect x="79.0" y="991.8" width="2.9" height="2.9" fill="#ec2129"/>
<rect x="81.3" y="978.7" width="2.9" height="2.9" fill="#ec2129"/>
<rect x="83.7" y="976.1" width="2.9" height="2.9" fill="#ec2129"/>
<rect x="86.0" y="970.5" width="2.9" height="2.9" fill="#ec2129"/>
<rect x="88.3" y="976.3" width="2.9" height="2.9" fill="#ec2129"/>
<rect x="90.6" y="979.0" width="2.9" height="2.9" fill="#ec2129"/>
<rect x="93.0" y="977.8" width="2.9" height="2.9" fill="#ec2129"/>
<rect x="95.3" y="980.1" width="2.9" height="2.9" fill="#ec2129"/>
<rect x="97.6" y="982.6" width="2.9" height="2.9" fill="#ec2129"/>
<rect x="99.9" y="975.5" width="2.9" height="2.9" fill="#ec2129"/>
<rect x="102.2" y="975.3" width="2.9" height="2.9" fill="#ec2129"/>
<rect x="104.6" y="971.3" width="2.9" height="2.9" fill="#ec2129"/>
<rect x="106.9" y="966.0" width="2.9" height="2.9" fill="#ec2129"/>
<rect x="109.2" y="981.2" width="2.9" height="2.9" fill="#ec2129"/>
<rect x="111.5" y="994.7" width="2.9" height="2.9" fill="#ec2129"/>
<rect x="113.9" y="991.9" width="2.9" height="2.9" fill="#ec2129"/>
<rect x="116.2" y="983.6" width="2.9" height="2.9" fill="#ec2129"/>
<rect x="118.5" y="987.2" width="2.9" height="2.9" fill="#ec2129"/>
<rect x="120.8" y="983.0" width="2.9" height="2.9" fill="#ec2129"/>
<rect x="123.2" y="984.6" width="2.9" height="2.9" fill="#ec2129"/>
<rect x="125.5" y="984.6" width="2.9" height="2.9" fill="#ec2129"/>
<rect x="127.8" y="992.4" width="2.9" height="2.9" fill="#ec2129"/>
<rect x="130.1" y="985.8" width="2.9" height="2.9" fill="#ec2129"/>
<rect x="132.5" y="987.7" width="2.9" height="2.9" fill="#ec2129"/>
<rect x="134.8" y="983.0" width="2.9" height="2.9" fill="#ec2129"/>
<rect x="137.1" y="990.5" width="2.9" height="2.9" fill="#ec2129"/>
<rect x="139.4" y="982.1" width="2.9" height="2.9" fill="#ec2129"/>
<rect x="141.8" y="982.6" width="2.9" height="2.9" fill="#ec2129"/>
<rect x="144.1" y="988.3" width="2.9" height="2.9" fill="#ec2129"/>
<rect x="146.4" y="985.2" width="2.9" height="2.9" fill="#ec2129"/>
<rect x="148.7" y="987.4" width="2.9" height="2.9" fill="#ec2129"/>
<rect x="151.1" y="984.8" width="2.9" height="2.9" fill="#ec2129"/>
<rect x="153.4" y="982.1" width="2.9" height="2.9" fill="#ec2129"/>
<rect x="155.7" y="988.7" width="2.9" height="2.9" fill="#ec2129"/>
<rect x="158.0" y="982.8" width="2.9" height="2.9" fill="#ec2129"/>
<rect x="160.3" y="991.8" width="2.9" height="2.9" fill="#ec2129"/>
<rect x="162.7" y="964.5" width="2.9" height="2.9" fill="#ec2129"/>
<rect x="165.0" y="987.3" width="2.9" height="2.9" fill="#ec2129"/>
<rect x="167.3" y="985.6" width="2.9" height="2.9" fill="#ec2129"/>
<rect x="169.6" y="981.1" width="2.9" height="2.9" fill="#ec2129"/>
<rect x="172.0" y="980.7" width="2.9" height="2.9" fill="#ec2129"/>
<rect x="174.3" y="989.5" width="2.9" height="2.9" fill="#ec2129"/>
<rect x="176.6" y="988.2" width="2.9" height="2.9" fill="#ec2129"/>
<rect x="178.9" y="987.0" width="2.9" height="2.9" fill="#ec2129"/>
<rect x="181.3" y="981.1" width="2.9" height="2.9" fill="#ec2129"/>
<rect x="183.6" y="981.4" width="2.9" height="2.9" fill="#ec2129"/>
<rect x="185.9" y="982.9" width="2.9" height="2.9" fill="#ec2129"/>
<rect x="188.2" y="990.6" width="2.9" height="2.9" fill="#ec2129"/>
<rect x="190.6" y="990.2" width="2.9" height="2.9" fill="#ec2129"/>
<rect x="192.9" y="984.7" width="2.9" height="2.9" fill="#ec2129"/>
<rect x="195.2" y="984.5" width="2.9" height="2.9" fill="#ec2129"/>
<rect x="197.5" y="983.5" width="2.9" height="2.9" fill="#ec2129"/>
<rect x="199.9" y="983.2" width="2.9" height="2.9" fill="#ec2129"/>
<rect x="202.2" y="989.7" width="2.9" height="2.9" fill="#ec2129"/>
<rect x="204.5" y="984.7" width="2.9" height="2.9" fill="#ec2129"/>
<rect x="206.8" y="980.3" width="2.9" height="2.9" fill="#ec2129"/>
<rect x="209.2" y="988.0" width="2.9" height="2.9" fill="#ec2129"/>
<rect x="211.5" y="983.5" width="2.9" height="2.9" fill="#ec2129"/>
<rect x="213.8" y="988.1" width="2.9" height="2.9" fill="#ec2129"/>
<rect x="216.1" y="959.9" width="2.9" height="2.9" fill="#ec2129"/>
<rect x="218.4" y="983.7" width="2.9" height="2.9" fill="#ec2129"/>
<rect x="220.8" y="982.9" width="2.9" height="2.9" fill="#ec2129"/>
<rect x="223.1" y="988.3" width="2.9" height="2.9" fill="#ec2129"/>
<rect x="225.4" y="983.2" width="2.9" height="2.9" fill="#ec2129"/>
<rect x="227.7" y="987.2" width="2.9" height="2.9" fill="#ec2129"/>
<rect x="230.1" y="971.5" width="2.9" height="2.9" fill="#ec2129"/>
<rect x="232.4" y="982.9" width="2.9" height="2.9" fill="#ec2129"/>
<rect x="234.7" y="985.3" width="2.9" height="2.9" fill="#ec2129"/>
<rect x="237.0" y="987.5" width="2.9" height="2.9" fill="#ec2129"/>
<rect x="239.4" y="984.2" width="2.9" height="2.9" fill="#ec2129"/>
<rect x="241.7" y="988.6" width="2.9" height="2.9" fill="#ec2129"/>
<rect x="244.0" y="984.4" width="2.9" height="2.9" fill="#ec2129"/>
<rect x="246.3" y="990.2" width="2.9" height="2.9" fill="#ec2129"/>
<rect x="248.7" y="991.5" width="2.9" height="2.9" fill="#ec2129"/>
<rect x="251.0" y="986.5" width="2.9" height="2.9" fill="#ec2129"/>
<rect x="253.3" y="982.7" width="2.9" height="2.9" fill="#ec2129"/>
<rect x="255.6" y="991.3" width="2.9" height="2.9" fill="#ec2129"/>
<rect x="258.0" y="988.6" width="2.9" height="2.9" fill="#ec2129"/>
<rect x="260.3" y="989.0" width="2.9" height="2.9" fill="#ec2129"/>
<rect x="262.6" y="970.5" width="2.9" height="2.9" fill="#ec2129"/>
<rect x="264.9" y="988.2" width="2.9" height="2.9" fill="#ec2129"/>
<rect x="267.3" y="987.7" width="2.9" height="2.9" fill="#ec2129"/>
<rect x="269.6" y="987.8" width="2.9" height="2.9" fill="#ec2129"/>
<rect x="271.9" y="981.0" width="2.9" height="2.9" fill="#ec2129"/>
<rect x="274.2" y="957.2" width="2.9" height="2.9" fill="#ec2129"/>
<rect x="276.6" y="983.0" width="2.9" height="2.9" fill="#ec2129"/>
<rect x="278.9" y="987.5" width="2.9" height="2.9" fill="#ec2129"/>
<rect x="281.2" y="985.7" width="2.9" height="2.9" fill="#ec2129"/>
<rect x="283.5" y="981.0" width="2.9" height="2.9" fill="#ec2129"/>
<rect x="285.8" y="983.9" width="2.9" height="2.9" fill="#ec2129"/>
<rect x="288.2" y="982.4" width="2.9" height="2.9" fill="#ec2129"/>
<rect x="290.5" y="985.4" width="2.9" height="2.9" fill="#ec2129"/>
<rect x="292.8" y="986.9" width="2.9" height="2.9" fill="#ec2129"/>
<rect x="295.1" y="982.8" width="2.9" height="2.9" fill="#ec2129"/>
<rect x="297.5" y="980.1" width="2.9" height="2.9" fill="#ec2129"/>
<rect x="299.8" y="983.1" width="2.9" height="2.9" fill="#ec2129"/>
<rect x="302.1" y="981.1" width="2.9" height="2.9" fill="#ec2129"/>
<rect x="304.4" y="983.9" width="2.9" height="2.9" fill="#ec2129"/>
<rect x="306.8" y="986.4" width="2.9" height="2.9" fill="#ec2129"/>
<rect x="309.1" y="985.5" width="2.9" height="2.9" fill="#ec2129"/>
<rect x="311.4" y="951.5" width="2.9" height="2.9" fill="#ec2129"/>
<rect x="313.7" y="988.3" width="2.9" height="2.9" fill="#ec2129"/>
<rect x="316.1" y="988.1" width="2.9" height="2.9" fill="#ec2129"/>
<rect x="318.4" y="983.1" width="2.9" height="2.9" fill="#ec2129"/>
<rect x="320.7" y="985.5" width="2.9" height="2.9" fill="#ec2129"/>
<rect x="323.0" y="989.4" width="2.9" height="2.9" fill="#ec2129"/>
<rect x="325.4" y="985.4" width="2.9" height="2.9" fill="#ec2129"/>
<rect x="327.7" y="973.5" width="2.9" height="2.9" fill="#ec2129"/>
<rect x="330.0" y="979.7" width="2.9" height="2.9" fill="#ec2129"/>
<rect x="332.3" y="985.1" width="2.9" height="2.9" fill="#ec2129"/>
<rect x="334.7" y="985.2" width="2.9" height="2.9" fill="#ec2129"/>
<rect x="337.0" y="982.3" width="2.9" height="2.9" fill="#ec2129"/>
<rect x="339.3" y="969.5" width="2.9" height="2.9" fill="#ec2129"/>
<rect x="341.6" y="988.7" width="2.9" height="2.9" fill="#ec2129"/>
<rect x="343.9" y="988.6" width="2.9" height="2.9" fill="#ec2129"/>
<rect x="346.3" y="984.6" width="2.9" height="2.9" fill="#ec2129"/>
<rect x="348.6" y="988.8" width="2.9" height="2.9" fill="#ec2129"/>
<rect x="350.9" y="956.5" width="2.9" height="2.9" fill="#ec2129"/>
<rect x="353.2" y="988.9" width="2.9" height="2.9" fill="#ec2129"/>
<rect x="355.6" y="981.2" width="2.9" height="2.9" fill="#ec2129"/>
<rect x="357.9" y="979.4" width="2.9" height="2.9" fill="#ec2129"/>
<rect x="360.2" y="982.9" width="2.9" height="2.9" fill="#ec2129"/>
<rect x="362.5" y="986.6" width="2.9" height="2.9" fill="#ec2129"/>
<rect x="364.9" y="948.1" width="2.9" height="2.9" fill="#ec2129"/>
<rect x="367.2" y="981.1" width="2.9" height="2.9" fill="#ec2129"/>
<rect x="369.5" y="986.7" width="2.9" height="2.9" fill="#ec2129"/>
<rect x="371.8" y="981.0" width="2.9" height="2.9" fill="#ec2129"/>
<rect x="374.2" y="954.9" width="2.9" height="2.9" fill="#ec2129"/>
<rect x="376.5" y="984.7" width="2.9" height="2.9" fill="#ec2129"/>
<rect x="378.8" y="985.1" width="2.9" height="2.9" fill="#ec2129"/>
<rect x="381.1" y="986.2" width="2.9" height="2.9" fill="#ec2129"/>
<line x1="104.3" y1="948.9" x2="123.1" y2="948.9" stroke="#111" stroke-width="1.5"/>
<path d="M111.20,940.80L111.20,945.00M109.38,941.85L113.02,943.95M109.38,943.95L113.02,941.85M116.20,940.80L116.20,945.00M114.38,941.85L118.02,943.95M114.38,943.95L118.02,941.85" stroke="#222" stroke-width="1.15" fill="none"/>
<rect x="447.1" y="814.0" width="338.1" height="207.4000000000001" fill="none" stroke="#111" stroke-width="1.4"/>
<line x1="444.5" y1="1007.2" x2="447.1" y2="1007.2" stroke="#111" stroke-width="1.2"/>
<text x="443.2" y="1009.6" font-size="12.4" text-anchor="end" >0</text>
<line x1="444.5" y1="979.5" x2="447.1" y2="979.5" stroke="#111" stroke-width="1.2"/>
<text x="443.2" y="981.9" font-size="12.4" text-anchor="end" >10</text>
<line x1="444.5" y1="951.9" x2="447.1" y2="951.9" stroke="#111" stroke-width="1.2"/>
<text x="443.2" y="954.3" font-size="12.4" text-anchor="end" >20</text>
<line x1="444.5" y1="924.2" x2="447.1" y2="924.2" stroke="#111" stroke-width="1.2"/>
<text x="443.2" y="926.6" font-size="12.4" text-anchor="end" >30</text>
<line x1="444.5" y1="896.5" x2="447.1" y2="896.5" stroke="#111" stroke-width="1.2"/>
<text x="443.2" y="898.9" font-size="12.4" text-anchor="end" >40</text>
<line x1="444.5" y1="868.9" x2="447.1" y2="868.9" stroke="#111" stroke-width="1.2"/>
<text x="443.2" y="871.2" font-size="12.4" text-anchor="end" >50</text>
<line x1="444.5" y1="841.2" x2="447.1" y2="841.2" stroke="#111" stroke-width="1.2"/>
<text x="443.2" y="843.6" font-size="12.4" text-anchor="end" >60</text>
<line x1="444.5" y1="813.5" x2="447.1" y2="813.5" stroke="#111" stroke-width="1.2"/>
<text x="443.2" y="815.9" font-size="12.4" text-anchor="end" >70</text>
<line x1="445.1" y1="993.4" x2="447.1" y2="993.4" stroke="#111" stroke-width="1.1"/>
<line x1="445.1" y1="965.7" x2="447.1" y2="965.7" stroke="#111" stroke-width="1.1"/>
<line x1="445.1" y1="938.0" x2="447.1" y2="938.0" stroke="#111" stroke-width="1.1"/>
<line x1="445.1" y1="910.4" x2="447.1" y2="910.4" stroke="#111" stroke-width="1.1"/>
<line x1="445.1" y1="882.7" x2="447.1" y2="882.7" stroke="#111" stroke-width="1.1"/>
<line x1="445.1" y1="855.0" x2="447.1" y2="855.0" stroke="#111" stroke-width="1.1"/>
<line x1="445.1" y1="827.3" x2="447.1" y2="827.3" stroke="#111" stroke-width="1.1"/>
<line x1="448.1" y1="1007.2" x2="784.2" y2="1007.2" stroke="#111" stroke-width="1.2" stroke-dasharray="1.5 1.45"/>
<text transform="translate(420.7,908.7) rotate(-90)" x="0" y="0" font-size="12.4" text-anchor="middle">Locomotor Activity (counts/bin)</text>
<rect x="447.1" y="1016.0" width="338.1" height="5.4" fill="#111"/>
<rect x="450.4" y="1017.8" width="38.0" height="1.8" fill="#fff"/>
<rect x="509.9" y="1017.8" width="37.6" height="1.8" fill="#fff"/>
<rect x="569.0" y="1017.8" width="37.6" height="1.8" fill="#fff"/>
<rect x="628.0" y="1017.8" width="37.6" height="1.8" fill="#fff"/>
<rect x="687.0" y="1017.8" width="37.6" height="1.8" fill="#fff"/>
<rect x="746.0" y="1017.8" width="37.8" height="1.8" fill="#fff"/>
<line x1="447.1" y1="1022.0" x2="785.2" y2="1022.0" stroke="#333" stroke-width="1" stroke-dasharray="1 1.5"/>
<text x="450.2" y="1032.4" font-size="11.8" text-anchor="middle" >0</text>
<text x="469.9" y="1032.4" font-size="11.8" text-anchor="middle" >8</text>
<text x="489.5" y="1032.4" font-size="11.8" text-anchor="middle" >16</text>
<text x="509.2" y="1032.4" font-size="11.8" text-anchor="middle" >0</text>
<text x="528.8" y="1032.4" font-size="11.8" text-anchor="middle" >8</text>
<text x="548.5" y="1032.4" font-size="11.8" text-anchor="middle" >16</text>
<text x="568.2" y="1032.4" font-size="11.8" text-anchor="middle" >0</text>
<text x="587.8" y="1032.4" font-size="11.8" text-anchor="middle" >8</text>
<text x="607.5" y="1032.4" font-size="11.8" text-anchor="middle" >16</text>
<text x="627.1" y="1032.4" font-size="11.8" text-anchor="middle" >0</text>
<text x="646.8" y="1032.4" font-size="11.8" text-anchor="middle" >8</text>
<text x="666.5" y="1032.4" font-size="11.8" text-anchor="middle" >16</text>
<text x="686.1" y="1032.4" font-size="11.8" text-anchor="middle" >0</text>
<text x="705.8" y="1032.4" font-size="11.8" text-anchor="middle" >8</text>
<text x="725.4" y="1032.4" font-size="11.8" text-anchor="middle" >16</text>
<text x="745.1" y="1032.4" font-size="11.8" text-anchor="middle" >0</text>
<text x="764.8" y="1032.4" font-size="11.8" text-anchor="middle" >8</text>
<text x="784.4" y="1032.4" font-size="11.8" text-anchor="middle" >16</text>
<text x="615.6" y="1046.6" font-size="12.4" text-anchor="middle" >Time (ZT)</text>
<text x="513.5" y="830.1" font-size="19.0" text-anchor="start" >ARR - ZT 1 INJECTION</text>
<text x="451.6" y="830.1" font-size="18.8" text-anchor="start" >H</text>
<line x1="743.3000000000001" y1="822.6" x2="753.8000000000001" y2="822.6" stroke="#ec2129" stroke-width="1.6"/>
<circle cx="748.6" cy="822.6" r="1.9" fill="#fff" stroke="#ec2129" stroke-width="1.3"/>
<text x="757.0" y="827.1" font-size="12.2" text-anchor="start" >SAL</text>
<line x1="743.3000000000001" y1="835.1" x2="753.8000000000001" y2="835.1" stroke="#3550a6" stroke-width="1.6"/>
<circle cx="748.6" cy="835.1" r="1.9" fill="#fff" stroke="#3550a6" stroke-width="1.3"/>
<text x="757.0" y="838.8" font-size="12.2" text-anchor="start" >LPS</text>
<line x1="452.2" y1="887.2" x2="452.2" y2="894.8000000000001" stroke="#000" stroke-width="1.9"/>
<path d="M447.8,893.1 L456.6,893.1 L452.2,909.2 Z" fill="#000"/>
<path d="M448.5,949.1V990.4M447.4,949.1h2.2M447.4,990.4h2.2M451.0,944.4V984.3M449.9,944.4h2.2M449.9,984.3h2.2M453.4,944.8V973.3M452.3,944.8h2.2M452.3,973.3h2.2M455.9,989.7V996.7M454.8,989.7h2.2M454.8,996.7h2.2M458.3,995.4V1000.2M457.2,995.4h2.2M457.2,1000.2h2.2M460.8,998.0V1001.3M459.7,998.0h2.2M459.7,1001.3h2.2M463.2,989.6V999.1M462.1,989.6h2.2M462.1,999.1h2.2M465.7,986.3V995.0M464.6,986.3h2.2M464.6,995.0h2.2M468.2,981.6V992.8M467.1,981.6h2.2M467.1,992.8h2.2M470.6,981.5V997.3M469.5,981.5h2.2M469.5,997.3h2.2M473.1,986.8V994.5M472.0,986.8h2.2M472.0,994.5h2.2M475.5,983.5V998.3M474.4,983.5h2.2M474.4,998.3h2.2M478.0,984.3V996.5M476.9,984.3h2.2M476.9,996.5h2.2M480.4,991.1V999.0M479.3,991.1h2.2M479.3,999.0h2.2M482.9,992.6V999.6M481.8,992.6h2.2M481.8,999.6h2.2M485.4,996.6V1000.9M484.3,996.6h2.2M484.3,1000.9h2.2M487.8,999.5V1002.5M486.7,999.5h2.2M486.7,1002.5h2.2M490.3,988.3V995.1M489.2,988.3h2.2M489.2,995.1h2.2M492.7,995.7V1000.4M491.6,995.7h2.2M491.6,1000.4h2.2M495.2,980.4V997.3M494.1,980.4h2.2M494.1,997.3h2.2M497.6,986.3V997.7M496.5,986.3h2.2M496.5,997.7h2.2M500.1,990.9V997.7M499.0,990.9h2.2M499.0,997.7h2.2M502.6,979.8V996.8M501.5,979.8h2.2M501.5,996.8h2.2M505.0,975.9V994.8M503.9,975.9h2.2M503.9,994.8h2.2M507.5,976.1V994.2M506.4,976.1h2.2M506.4,994.2h2.2M509.9,984.4V998.3M508.8,984.4h2.2M508.8,998.3h2.2M512.4,988.4V997.4M511.3,988.4h2.2M511.3,997.4h2.2M514.8,981.6V991.7M513.7,981.6h2.2M513.7,991.7h2.2M517.3,984.4V995.9M516.2,984.4h2.2M516.2,995.9h2.2M519.8,975.5V995.9M518.7,975.5h2.2M518.7,995.9h2.2M522.2,983.7V996.8M521.1,983.7h2.2M521.1,996.8h2.2M524.7,982.1V992.9M523.6,982.1h2.2M523.6,992.9h2.2M527.1,979.0V992.2M526.0,979.0h2.2M526.0,992.2h2.2M529.6,982.2V994.4M528.5,982.2h2.2M528.5,994.4h2.2M532.0,982.1V997.1M530.9,982.1h2.2M530.9,997.1h2.2M534.5,992.0V997.8M533.4,992.0h2.2M533.4,997.8h2.2M537.0,985.6V994.2M535.9,985.6h2.2M535.9,994.2h2.2M539.4,986.1V998.8M538.3,986.1h2.2M538.3,998.8h2.2M541.9,979.6V995.9M540.8,979.6h2.2M540.8,995.9h2.2M544.3,984.8V992.5M543.2,984.8h2.2M543.2,992.5h2.2M546.8,989.3V997.1M545.7,989.3h2.2M545.7,997.1h2.2M549.2,980.5V993.7M548.1,980.5h2.2M548.1,993.7h2.2M551.7,981.4V993.9M550.6,981.4h2.2M550.6,993.9h2.2M554.2,984.2V995.2M553.1,984.2h2.2M553.1,995.2h2.2M556.6,988.7V996.6M555.5,988.7h2.2M555.5,996.6h2.2M559.1,972.1V985.3M558.0,972.1h2.2M558.0,985.3h2.2M561.5,967.9V989.4M560.4,967.9h2.2M560.4,989.4h2.2M564.0,975.5V995.1M562.9,975.5h2.2M562.9,995.1h2.2M566.4,981.6V996.1M565.3,981.6h2.2M565.3,996.1h2.2M568.9,1000.2V1003.2M567.8,1000.2h2.2M567.8,1003.2h2.2M571.4,965.9V982.5M570.2,965.9h2.2M570.2,982.5h2.2M573.8,975.3V992.9M572.7,975.3h2.2M572.7,992.9h2.2M576.3,989.8V997.4M575.2,989.8h2.2M575.2,997.4h2.2M578.7,997.6V1000.9M577.6,997.6h2.2M577.6,1000.9h2.2M581.2,992.5V998.3M580.1,992.5h2.2M580.1,998.3h2.2M583.6,994.3V998.8M582.5,994.3h2.2M582.5,998.8h2.2M586.1,997.0V1001.1M585.0,997.0h2.2M585.0,1001.1h2.2M588.5,998.1V1001.4M587.4,998.1h2.2M587.4,1001.4h2.2M591.0,960.8V993.1M589.9,960.8h2.2M589.9,993.1h2.2M593.5,979.1V989.6M592.4,979.1h2.2M592.4,989.6h2.2M595.9,982.8V995.1M594.8,982.8h2.2M594.8,995.1h2.2M598.4,979.8V990.7M597.3,979.8h2.2M597.3,990.7h2.2M600.8,962.6V988.3M599.7,962.6h2.2M599.7,988.3h2.2M603.3,979.2V990.1M602.2,979.2h2.2M602.2,990.1h2.2M605.7,974.5V994.1M604.6,974.5h2.2M604.6,994.1h2.2M608.2,987.3V996.8M607.1,987.3h2.2M607.1,996.8h2.2M610.7,975.4V990.7M609.6,975.4h2.2M609.6,990.7h2.2M613.1,970.6V986.1M612.0,970.6h2.2M612.0,986.1h2.2M615.6,979.1V989.9M614.5,979.1h2.2M614.5,989.9h2.2M618.0,986.8V997.8M616.9,986.8h2.2M616.9,997.8h2.2M620.5,985.3V992.9M619.4,985.3h2.2M619.4,992.9h2.2M622.9,973.5V990.7M621.8,973.5h2.2M621.8,990.7h2.2M625.4,956.7V992.2M624.3,956.7h2.2M624.3,992.2h2.2M627.9,988.4V997.4M626.8,988.4h2.2M626.8,997.4h2.2M630.3,987.4V995.4M629.2,987.4h2.2M629.2,995.4h2.2M632.8,966.9V989.1M631.7,966.9h2.2M631.7,989.1h2.2M635.2,987.1V997.6M634.1,987.1h2.2M634.1,997.6h2.2M637.7,956.6V986.6M636.6,956.6h2.2M636.6,986.6h2.2M640.1,993.6V1000.0M639.0,993.6h2.2M639.0,1000.0h2.2M642.6,993.9V1000.5M641.5,993.9h2.2M641.5,1000.5h2.2M645.1,968.4V986.5M644.0,968.4h2.2M644.0,986.5h2.2M647.5,976.2V996.6M646.4,976.2h2.2M646.4,996.6h2.2M650.0,968.2V994.5M648.9,968.2h2.2M648.9,994.5h2.2M652.4,991.0V998.5M651.3,991.0h2.2M651.3,998.5h2.2M654.9,979.5V997.2M653.8,979.5h2.2M653.8,997.2h2.2M657.3,988.8V996.6M656.2,988.8h2.2M656.2,996.6h2.2M659.8,991.2V997.5M658.7,991.2h2.2M658.7,997.5h2.2M662.3,967.4V994.5M661.2,967.4h2.2M661.2,994.5h2.2M664.7,990.8V997.7M663.6,990.8h2.2M663.6,997.7h2.2M667.2,966.9V990.3M666.1,966.9h2.2M666.1,990.3h2.2M669.6,989.4V998.5M668.5,989.4h2.2M668.5,998.5h2.2M672.1,993.1V999.8M671.0,993.1h2.2M671.0,999.8h2.2M674.5,988.4V997.9M673.4,988.4h2.2M673.4,997.9h2.2M677.0,971.0V989.5M675.9,971.0h2.2M675.9,989.5h2.2M679.5,975.1V992.4M678.4,975.1h2.2M678.4,992.4h2.2M681.9,989.9V997.1M680.8,989.9h2.2M680.8,997.1h2.2M684.4,955.5V988.3M683.3,955.5h2.2M683.3,988.3h2.2M686.8,967.4V987.8M685.7,967.4h2.2M685.7,987.8h2.2M689.3,956.5V990.1M688.2,956.5h2.2M688.2,990.1h2.2M691.7,968.8V986.6M690.6,968.8h2.2M690.6,986.6h2.2M694.2,987.8V997.2M693.1,987.8h2.2M693.1,997.2h2.2M696.7,962.9V992.6M695.6,962.9h2.2M695.6,992.6h2.2M699.1,973.3V989.7M698.0,973.3h2.2M698.0,989.7h2.2M701.6,993.9V1000.2M700.5,993.9h2.2M700.5,1000.2h2.2M704.0,986.6V995.3M702.9,986.6h2.2M702.9,995.3h2.2M706.5,987.9V997.7M705.4,987.9h2.2M705.4,997.7h2.2M708.9,989.3V997.2M707.8,989.3h2.2M707.8,997.2h2.2M711.4,985.8V997.9M710.3,985.8h2.2M710.3,997.9h2.2M713.9,969.9V991.8M712.8,969.9h2.2M712.8,991.8h2.2M716.3,985.1V998.6M715.2,985.1h2.2M715.2,998.6h2.2M718.8,991.9V999.6M717.7,991.9h2.2M717.7,999.6h2.2M721.2,959.9V987.8M720.1,959.9h2.2M720.1,987.8h2.2M723.7,985.1V993.3M722.6,985.1h2.2M722.6,993.3h2.2M726.1,971.4V994.5M725.0,971.4h2.2M725.0,994.5h2.2M728.6,991.0V999.7M727.5,991.0h2.2M727.5,999.7h2.2M731.1,958.1V987.1M730.0,958.1h2.2M730.0,987.1h2.2M733.5,989.9V998.6M732.4,989.9h2.2M732.4,998.6h2.2M736.0,972.9V985.0M734.9,972.9h2.2M734.9,985.0h2.2M738.4,991.8V999.7M737.3,991.8h2.2M737.3,999.7h2.2M740.9,982.5V994.1M739.8,982.5h2.2M739.8,994.1h2.2M743.3,987.8V998.6M742.2,987.8h2.2M742.2,998.6h2.2M745.8,984.2V996.4M744.7,984.2h2.2M744.7,996.4h2.2M748.3,970.4V987.5M747.2,970.4h2.2M747.2,987.5h2.2M750.7,929.0V967.8M749.6,929.0h2.2M749.6,967.8h2.2M753.2,979.2V989.9M752.1,979.2h2.2M752.1,989.9h2.2M755.6,985.2V995.2M754.5,985.2h2.2M754.5,995.2h2.2M758.1,964.9V984.0M757.0,964.9h2.2M757.0,984.0h2.2M760.5,972.1V990.0M759.4,972.1h2.2M759.4,990.0h2.2M763.0,926.8V958.0M761.9,926.8h2.2M761.9,958.0h2.2M765.5,968.6V986.5M764.4,968.6h2.2M764.4,986.5h2.2M767.9,962.9V990.8M766.8,962.9h2.2M766.8,990.8h2.2M770.4,968.6V982.5M769.3,968.6h2.2M769.3,982.5h2.2M772.8,981.1V996.2M771.7,981.1h2.2M771.7,996.2h2.2M775.3,993.8V999.7M774.2,993.8h2.2M774.2,999.7h2.2M777.7,972.0V994.8M776.6,972.0h2.2M776.6,994.8h2.2M780.2,931.4V973.8M779.1,931.4h2.2M779.1,973.8h2.2M782.7,984.2V998.2M781.6,984.2h2.2M781.6,998.2h2.2M785.1,1002.4V1005.4M784.0,1002.4h2.2M784.0,1005.4h2.2" stroke="#3550a6" stroke-width="1.0" fill="none"/>
<path d="M448.5,969.8 L451.0,964.3 L453.4,959.0 L455.9,993.2 L458.3,997.8 L460.8,999.7 L463.2,994.4 L465.7,990.6 L468.2,987.2 L470.6,989.4 L473.1,990.6 L475.5,990.9 L478.0,990.4 L480.4,995.0 L482.9,996.1 L485.4,998.7 L487.8,1001.0 L490.3,991.7 L492.7,998.1 L495.2,988.9 L497.6,992.0 L500.1,994.3 L502.6,988.3 L505.0,985.4 L507.5,985.1 L509.9,991.3 L512.4,992.9 L514.8,986.6 L517.3,990.1 L519.8,985.7 L522.2,990.2 L524.7,987.5 L527.1,985.6 L529.6,988.3 L532.0,989.6 L534.5,994.9 L537.0,989.9 L539.4,992.5 L541.9,987.7 L544.3,988.6 L546.8,993.2 L549.2,987.1 L551.7,987.6 L554.2,989.7 L556.6,992.6 L559.1,978.7 L561.5,978.7 L564.0,985.3 L566.4,988.9 L568.9,1001.7 L571.4,974.2 L573.8,984.1 L576.3,993.6 L578.7,999.3 L581.2,995.4 L583.6,996.5 L586.1,999.0 L588.5,999.7 L591.0,977.0 L593.5,984.4 L595.9,989.0 L598.4,985.2 L600.8,975.4 L603.3,984.7 L605.7,984.3 L608.2,992.0 L610.7,983.0 L613.1,978.3 L615.6,984.5 L618.0,992.3 L620.5,989.1 L622.9,982.1 L625.4,974.4 L627.9,992.9 L630.3,991.4 L632.8,978.0 L635.2,992.3 L637.7,971.6 L640.1,996.8 L642.6,997.2 L645.1,977.4 L647.5,986.4 L650.0,981.3 L652.4,994.7 L654.9,988.3 L657.3,992.7 L659.8,994.4 L662.3,981.0 L664.7,994.2 L667.2,978.6 L669.6,993.9 L672.1,996.5 L674.5,993.2 L677.0,980.2 L679.5,983.7 L681.9,993.5 L684.4,971.9 L686.8,977.6 L689.3,973.3 L691.7,977.7 L694.2,992.5 L696.7,977.8 L699.1,981.5 L701.6,997.0 L704.0,990.9 L706.5,992.8 L708.9,993.2 L711.4,991.9 L713.9,980.9 L716.3,991.8 L718.8,995.8 L721.2,973.8 L723.7,989.2 L726.1,983.0 L728.6,995.4 L731.1,972.6 L733.5,994.2 L736.0,979.0 L738.4,995.8 L740.9,988.3 L743.3,993.2 L745.8,990.3 L748.3,978.9 L750.7,948.4 L753.2,984.6 L755.6,990.2 L758.1,974.5 L760.5,981.0 L763.0,942.4 L765.5,977.5 L767.9,976.8 L770.4,975.5 L772.8,988.6 L775.3,996.8 L777.7,983.4 L780.2,952.6 L782.7,991.2 L785.1,1003.9" stroke="#3550a6" stroke-width="1.5" fill="none" stroke-linejoin="round"/>
<rect x="446.9" y="968.2" width="3.1" height="3.1" rx="1.0" fill="#fff" stroke="#3550a6" stroke-width="1.2"/>
<rect x="449.4" y="962.8" width="3.1" height="3.1" rx="1.0" fill="#fff" stroke="#3550a6" stroke-width="1.2"/>
<rect x="451.9" y="957.5" width="3.1" height="3.1" rx="1.0" fill="#fff" stroke="#3550a6" stroke-width="1.2"/>
<rect x="454.3" y="991.6" width="3.1" height="3.1" rx="1.0" fill="#fff" stroke="#3550a6" stroke-width="1.2"/>
<rect x="456.8" y="996.3" width="3.1" height="3.1" rx="1.0" fill="#fff" stroke="#3550a6" stroke-width="1.2"/>
<rect x="459.2" y="998.1" width="3.1" height="3.1" rx="1.0" fill="#fff" stroke="#3550a6" stroke-width="1.2"/>
<rect x="461.7" y="992.8" width="3.1" height="3.1" rx="1.0" fill="#fff" stroke="#3550a6" stroke-width="1.2"/>
<rect x="464.1" y="989.1" width="3.1" height="3.1" rx="1.0" fill="#fff" stroke="#3550a6" stroke-width="1.2"/>
<rect x="466.6" y="985.7" width="3.1" height="3.1" rx="1.0" fill="#fff" stroke="#3550a6" stroke-width="1.2"/>
<rect x="469.1" y="987.9" width="3.1" height="3.1" rx="1.0" fill="#fff" stroke="#3550a6" stroke-width="1.2"/>
<rect x="471.5" y="989.1" width="3.1" height="3.1" rx="1.0" fill="#fff" stroke="#3550a6" stroke-width="1.2"/>
<rect x="474.0" y="989.3" width="3.1" height="3.1" rx="1.0" fill="#fff" stroke="#3550a6" stroke-width="1.2"/>
<rect x="476.4" y="988.9" width="3.1" height="3.1" rx="1.0" fill="#fff" stroke="#3550a6" stroke-width="1.2"/>
<rect x="478.9" y="993.5" width="3.1" height="3.1" rx="1.0" fill="#fff" stroke="#3550a6" stroke-width="1.2"/>
<rect x="481.3" y="994.6" width="3.1" height="3.1" rx="1.0" fill="#fff" stroke="#3550a6" stroke-width="1.2"/>
<rect x="483.8" y="997.2" width="3.1" height="3.1" rx="1.0" fill="#fff" stroke="#3550a6" stroke-width="1.2"/>
<rect x="486.3" y="999.5" width="3.1" height="3.1" rx="1.0" fill="#fff" stroke="#3550a6" stroke-width="1.2"/>
<rect x="488.7" y="990.2" width="3.1" height="3.1" rx="1.0" fill="#fff" stroke="#3550a6" stroke-width="1.2"/>
<rect x="491.2" y="996.5" width="3.1" height="3.1" rx="1.0" fill="#fff" stroke="#3550a6" stroke-width="1.2"/>
<rect x="493.6" y="987.3" width="3.1" height="3.1" rx="1.0" fill="#fff" stroke="#3550a6" stroke-width="1.2"/>
<rect x="496.1" y="990.4" width="3.1" height="3.1" rx="1.0" fill="#fff" stroke="#3550a6" stroke-width="1.2"/>
<rect x="498.5" y="992.7" width="3.1" height="3.1" rx="1.0" fill="#fff" stroke="#3550a6" stroke-width="1.2"/>
<rect x="501.0" y="986.8" width="3.1" height="3.1" rx="1.0" fill="#fff" stroke="#3550a6" stroke-width="1.2"/>
<rect x="503.5" y="983.8" width="3.1" height="3.1" rx="1.0" fill="#fff" stroke="#3550a6" stroke-width="1.2"/>
<rect x="505.9" y="983.6" width="3.1" height="3.1" rx="1.0" fill="#fff" stroke="#3550a6" stroke-width="1.2"/>
<rect x="508.4" y="989.8" width="3.1" height="3.1" rx="1.0" fill="#fff" stroke="#3550a6" stroke-width="1.2"/>
<rect x="510.8" y="991.4" width="3.1" height="3.1" rx="1.0" fill="#fff" stroke="#3550a6" stroke-width="1.2"/>
<rect x="513.3" y="985.1" width="3.1" height="3.1" rx="1.0" fill="#fff" stroke="#3550a6" stroke-width="1.2"/>
<rect x="515.7" y="988.6" width="3.1" height="3.1" rx="1.0" fill="#fff" stroke="#3550a6" stroke-width="1.2"/>
<rect x="518.2" y="984.1" width="3.1" height="3.1" rx="1.0" fill="#fff" stroke="#3550a6" stroke-width="1.2"/>
<rect x="520.7" y="988.7" width="3.1" height="3.1" rx="1.0" fill="#fff" stroke="#3550a6" stroke-width="1.2"/>
<rect x="523.1" y="986.0" width="3.1" height="3.1" rx="1.0" fill="#fff" stroke="#3550a6" stroke-width="1.2"/>
<rect x="525.6" y="984.0" width="3.1" height="3.1" rx="1.0" fill="#fff" stroke="#3550a6" stroke-width="1.2"/>
<rect x="528.0" y="986.8" width="3.1" height="3.1" rx="1.0" fill="#fff" stroke="#3550a6" stroke-width="1.2"/>
<rect x="530.5" y="988.0" width="3.1" height="3.1" rx="1.0" fill="#fff" stroke="#3550a6" stroke-width="1.2"/>
<rect x="532.9" y="993.3" width="3.1" height="3.1" rx="1.0" fill="#fff" stroke="#3550a6" stroke-width="1.2"/>
<rect x="535.4" y="988.3" width="3.1" height="3.1" rx="1.0" fill="#fff" stroke="#3550a6" stroke-width="1.2"/>
<rect x="537.9" y="990.9" width="3.1" height="3.1" rx="1.0" fill="#fff" stroke="#3550a6" stroke-width="1.2"/>
<rect x="540.3" y="986.2" width="3.1" height="3.1" rx="1.0" fill="#fff" stroke="#3550a6" stroke-width="1.2"/>
<rect x="542.8" y="987.1" width="3.1" height="3.1" rx="1.0" fill="#fff" stroke="#3550a6" stroke-width="1.2"/>
<rect x="545.2" y="991.6" width="3.1" height="3.1" rx="1.0" fill="#fff" stroke="#3550a6" stroke-width="1.2"/>
<rect x="547.7" y="985.6" width="3.1" height="3.1" rx="1.0" fill="#fff" stroke="#3550a6" stroke-width="1.2"/>
<rect x="550.1" y="986.1" width="3.1" height="3.1" rx="1.0" fill="#fff" stroke="#3550a6" stroke-width="1.2"/>
<rect x="552.6" y="988.1" width="3.1" height="3.1" rx="1.0" fill="#fff" stroke="#3550a6" stroke-width="1.2"/>
<rect x="555.1" y="991.1" width="3.1" height="3.1" rx="1.0" fill="#fff" stroke="#3550a6" stroke-width="1.2"/>
<rect x="557.5" y="977.2" width="3.1" height="3.1" rx="1.0" fill="#fff" stroke="#3550a6" stroke-width="1.2"/>
<rect x="560.0" y="977.1" width="3.1" height="3.1" rx="1.0" fill="#fff" stroke="#3550a6" stroke-width="1.2"/>
<rect x="562.4" y="983.7" width="3.1" height="3.1" rx="1.0" fill="#fff" stroke="#3550a6" stroke-width="1.2"/>
<rect x="564.9" y="987.3" width="3.1" height="3.1" rx="1.0" fill="#fff" stroke="#3550a6" stroke-width="1.2"/>
<rect x="567.3" y="1000.1" width="3.1" height="3.1" rx="1.0" fill="#fff" stroke="#3550a6" stroke-width="1.2"/>
<rect x="569.8" y="972.7" width="3.1" height="3.1" rx="1.0" fill="#fff" stroke="#3550a6" stroke-width="1.2"/>
<rect x="572.3" y="982.5" width="3.1" height="3.1" rx="1.0" fill="#fff" stroke="#3550a6" stroke-width="1.2"/>
<rect x="574.7" y="992.0" width="3.1" height="3.1" rx="1.0" fill="#fff" stroke="#3550a6" stroke-width="1.2"/>
<rect x="577.2" y="997.7" width="3.1" height="3.1" rx="1.0" fill="#fff" stroke="#3550a6" stroke-width="1.2"/>
<rect x="579.6" y="993.8" width="3.1" height="3.1" rx="1.0" fill="#fff" stroke="#3550a6" stroke-width="1.2"/>
<rect x="582.1" y="995.0" width="3.1" height="3.1" rx="1.0" fill="#fff" stroke="#3550a6" stroke-width="1.2"/>
<rect x="584.5" y="997.5" width="3.1" height="3.1" rx="1.0" fill="#fff" stroke="#3550a6" stroke-width="1.2"/>
<rect x="587.0" y="998.2" width="3.1" height="3.1" rx="1.0" fill="#fff" stroke="#3550a6" stroke-width="1.2"/>
<rect x="589.5" y="975.4" width="3.1" height="3.1" rx="1.0" fill="#fff" stroke="#3550a6" stroke-width="1.2"/>
<rect x="591.9" y="982.8" width="3.1" height="3.1" rx="1.0" fill="#fff" stroke="#3550a6" stroke-width="1.2"/>
<rect x="594.4" y="987.4" width="3.1" height="3.1" rx="1.0" fill="#fff" stroke="#3550a6" stroke-width="1.2"/>
<rect x="596.8" y="983.7" width="3.1" height="3.1" rx="1.0" fill="#fff" stroke="#3550a6" stroke-width="1.2"/>
<rect x="599.3" y="973.9" width="3.1" height="3.1" rx="1.0" fill="#fff" stroke="#3550a6" stroke-width="1.2"/>
<rect x="601.7" y="983.1" width="3.1" height="3.1" rx="1.0" fill="#fff" stroke="#3550a6" stroke-width="1.2"/>
<rect x="604.2" y="982.8" width="3.1" height="3.1" rx="1.0" fill="#fff" stroke="#3550a6" stroke-width="1.2"/>
<rect x="606.7" y="990.5" width="3.1" height="3.1" rx="1.0" fill="#fff" stroke="#3550a6" stroke-width="1.2"/>
<rect x="609.1" y="981.5" width="3.1" height="3.1" rx="1.0" fill="#fff" stroke="#3550a6" stroke-width="1.2"/>
<rect x="611.6" y="976.8" width="3.1" height="3.1" rx="1.0" fill="#fff" stroke="#3550a6" stroke-width="1.2"/>
<rect x="614.0" y="982.9" width="3.1" height="3.1" rx="1.0" fill="#fff" stroke="#3550a6" stroke-width="1.2"/>
<rect x="616.5" y="990.8" width="3.1" height="3.1" rx="1.0" fill="#fff" stroke="#3550a6" stroke-width="1.2"/>
<rect x="618.9" y="987.6" width="3.1" height="3.1" rx="1.0" fill="#fff" stroke="#3550a6" stroke-width="1.2"/>
<rect x="621.4" y="980.5" width="3.1" height="3.1" rx="1.0" fill="#fff" stroke="#3550a6" stroke-width="1.2"/>
<rect x="623.9" y="972.9" width="3.1" height="3.1" rx="1.0" fill="#fff" stroke="#3550a6" stroke-width="1.2"/>
<rect x="626.3" y="991.3" width="3.1" height="3.1" rx="1.0" fill="#fff" stroke="#3550a6" stroke-width="1.2"/>
<rect x="628.8" y="989.9" width="3.1" height="3.1" rx="1.0" fill="#fff" stroke="#3550a6" stroke-width="1.2"/>
<rect x="631.2" y="976.4" width="3.1" height="3.1" rx="1.0" fill="#fff" stroke="#3550a6" stroke-width="1.2"/>
<rect x="633.7" y="990.8" width="3.1" height="3.1" rx="1.0" fill="#fff" stroke="#3550a6" stroke-width="1.2"/>
<rect x="636.1" y="970.0" width="3.1" height="3.1" rx="1.0" fill="#fff" stroke="#3550a6" stroke-width="1.2"/>
<rect x="638.6" y="995.2" width="3.1" height="3.1" rx="1.0" fill="#fff" stroke="#3550a6" stroke-width="1.2"/>
<rect x="641.1" y="995.7" width="3.1" height="3.1" rx="1.0" fill="#fff" stroke="#3550a6" stroke-width="1.2"/>
<rect x="643.5" y="975.9" width="3.1" height="3.1" rx="1.0" fill="#fff" stroke="#3550a6" stroke-width="1.2"/>
<rect x="646.0" y="984.9" width="3.1" height="3.1" rx="1.0" fill="#fff" stroke="#3550a6" stroke-width="1.2"/>
<rect x="648.4" y="979.8" width="3.1" height="3.1" rx="1.0" fill="#fff" stroke="#3550a6" stroke-width="1.2"/>
<rect x="650.9" y="993.2" width="3.1" height="3.1" rx="1.0" fill="#fff" stroke="#3550a6" stroke-width="1.2"/>
<rect x="653.3" y="986.8" width="3.1" height="3.1" rx="1.0" fill="#fff" stroke="#3550a6" stroke-width="1.2"/>
<rect x="655.8" y="991.1" width="3.1" height="3.1" rx="1.0" fill="#fff" stroke="#3550a6" stroke-width="1.2"/>
<rect x="658.3" y="992.8" width="3.1" height="3.1" rx="1.0" fill="#fff" stroke="#3550a6" stroke-width="1.2"/>
<rect x="660.7" y="979.4" width="3.1" height="3.1" rx="1.0" fill="#fff" stroke="#3550a6" stroke-width="1.2"/>
<rect x="663.2" y="992.7" width="3.1" height="3.1" rx="1.0" fill="#fff" stroke="#3550a6" stroke-width="1.2"/>
<rect x="665.6" y="977.0" width="3.1" height="3.1" rx="1.0" fill="#fff" stroke="#3550a6" stroke-width="1.2"/>
<rect x="668.1" y="992.4" width="3.1" height="3.1" rx="1.0" fill="#fff" stroke="#3550a6" stroke-width="1.2"/>
<rect x="670.5" y="994.9" width="3.1" height="3.1" rx="1.0" fill="#fff" stroke="#3550a6" stroke-width="1.2"/>
<rect x="673.0" y="991.6" width="3.1" height="3.1" rx="1.0" fill="#fff" stroke="#3550a6" stroke-width="1.2"/>
<rect x="675.5" y="978.7" width="3.1" height="3.1" rx="1.0" fill="#fff" stroke="#3550a6" stroke-width="1.2"/>
<rect x="677.9" y="982.2" width="3.1" height="3.1" rx="1.0" fill="#fff" stroke="#3550a6" stroke-width="1.2"/>
<rect x="680.4" y="991.9" width="3.1" height="3.1" rx="1.0" fill="#fff" stroke="#3550a6" stroke-width="1.2"/>
<rect x="682.8" y="970.4" width="3.1" height="3.1" rx="1.0" fill="#fff" stroke="#3550a6" stroke-width="1.2"/>
<rect x="685.3" y="976.0" width="3.1" height="3.1" rx="1.0" fill="#fff" stroke="#3550a6" stroke-width="1.2"/>
<rect x="687.7" y="971.7" width="3.1" height="3.1" rx="1.0" fill="#fff" stroke="#3550a6" stroke-width="1.2"/>
<rect x="690.2" y="976.1" width="3.1" height="3.1" rx="1.0" fill="#fff" stroke="#3550a6" stroke-width="1.2"/>
<rect x="692.7" y="991.0" width="3.1" height="3.1" rx="1.0" fill="#fff" stroke="#3550a6" stroke-width="1.2"/>
<rect x="695.1" y="976.2" width="3.1" height="3.1" rx="1.0" fill="#fff" stroke="#3550a6" stroke-width="1.2"/>
<rect x="697.6" y="980.0" width="3.1" height="3.1" rx="1.0" fill="#fff" stroke="#3550a6" stroke-width="1.2"/>
<rect x="700.0" y="995.5" width="3.1" height="3.1" rx="1.0" fill="#fff" stroke="#3550a6" stroke-width="1.2"/>
<rect x="702.5" y="989.4" width="3.1" height="3.1" rx="1.0" fill="#fff" stroke="#3550a6" stroke-width="1.2"/>
<rect x="704.9" y="991.2" width="3.1" height="3.1" rx="1.0" fill="#fff" stroke="#3550a6" stroke-width="1.2"/>
<rect x="707.4" y="991.7" width="3.1" height="3.1" rx="1.0" fill="#fff" stroke="#3550a6" stroke-width="1.2"/>
<rect x="709.8" y="990.3" width="3.1" height="3.1" rx="1.0" fill="#fff" stroke="#3550a6" stroke-width="1.2"/>
<rect x="712.3" y="979.3" width="3.1" height="3.1" rx="1.0" fill="#fff" stroke="#3550a6" stroke-width="1.2"/>
<rect x="714.8" y="990.3" width="3.1" height="3.1" rx="1.0" fill="#fff" stroke="#3550a6" stroke-width="1.2"/>
<rect x="717.2" y="994.2" width="3.1" height="3.1" rx="1.0" fill="#fff" stroke="#3550a6" stroke-width="1.2"/>
<rect x="719.7" y="972.3" width="3.1" height="3.1" rx="1.0" fill="#fff" stroke="#3550a6" stroke-width="1.2"/>
<rect x="722.1" y="987.6" width="3.1" height="3.1" rx="1.0" fill="#fff" stroke="#3550a6" stroke-width="1.2"/>
<rect x="724.6" y="981.4" width="3.1" height="3.1" rx="1.0" fill="#fff" stroke="#3550a6" stroke-width="1.2"/>
<rect x="727.0" y="993.8" width="3.1" height="3.1" rx="1.0" fill="#fff" stroke="#3550a6" stroke-width="1.2"/>
<rect x="729.5" y="971.0" width="3.1" height="3.1" rx="1.0" fill="#fff" stroke="#3550a6" stroke-width="1.2"/>
<rect x="732.0" y="992.7" width="3.1" height="3.1" rx="1.0" fill="#fff" stroke="#3550a6" stroke-width="1.2"/>
<rect x="734.4" y="977.4" width="3.1" height="3.1" rx="1.0" fill="#fff" stroke="#3550a6" stroke-width="1.2"/>
<rect x="736.9" y="994.2" width="3.1" height="3.1" rx="1.0" fill="#fff" stroke="#3550a6" stroke-width="1.2"/>
<rect x="739.3" y="986.8" width="3.1" height="3.1" rx="1.0" fill="#fff" stroke="#3550a6" stroke-width="1.2"/>
<rect x="741.8" y="991.6" width="3.1" height="3.1" rx="1.0" fill="#fff" stroke="#3550a6" stroke-width="1.2"/>
<rect x="744.2" y="988.7" width="3.1" height="3.1" rx="1.0" fill="#fff" stroke="#3550a6" stroke-width="1.2"/>
<rect x="746.7" y="977.4" width="3.1" height="3.1" rx="1.0" fill="#fff" stroke="#3550a6" stroke-width="1.2"/>
<rect x="749.2" y="946.9" width="3.1" height="3.1" rx="1.0" fill="#fff" stroke="#3550a6" stroke-width="1.2"/>
<rect x="751.6" y="983.0" width="3.1" height="3.1" rx="1.0" fill="#fff" stroke="#3550a6" stroke-width="1.2"/>
<rect x="754.1" y="988.6" width="3.1" height="3.1" rx="1.0" fill="#fff" stroke="#3550a6" stroke-width="1.2"/>
<rect x="756.5" y="972.9" width="3.1" height="3.1" rx="1.0" fill="#fff" stroke="#3550a6" stroke-width="1.2"/>
<rect x="759.0" y="979.5" width="3.1" height="3.1" rx="1.0" fill="#fff" stroke="#3550a6" stroke-width="1.2"/>
<rect x="761.4" y="940.9" width="3.1" height="3.1" rx="1.0" fill="#fff" stroke="#3550a6" stroke-width="1.2"/>
<rect x="763.9" y="976.0" width="3.1" height="3.1" rx="1.0" fill="#fff" stroke="#3550a6" stroke-width="1.2"/>
<rect x="766.4" y="975.3" width="3.1" height="3.1" rx="1.0" fill="#fff" stroke="#3550a6" stroke-width="1.2"/>
<rect x="768.8" y="974.0" width="3.1" height="3.1" rx="1.0" fill="#fff" stroke="#3550a6" stroke-width="1.2"/>
<rect x="771.3" y="987.1" width="3.1" height="3.1" rx="1.0" fill="#fff" stroke="#3550a6" stroke-width="1.2"/>
<rect x="773.7" y="995.2" width="3.1" height="3.1" rx="1.0" fill="#fff" stroke="#3550a6" stroke-width="1.2"/>
<rect x="776.2" y="981.9" width="3.1" height="3.1" rx="1.0" fill="#fff" stroke="#3550a6" stroke-width="1.2"/>
<rect x="778.6" y="951.1" width="3.1" height="3.1" rx="1.0" fill="#fff" stroke="#3550a6" stroke-width="1.2"/>
<rect x="781.1" y="989.6" width="3.1" height="3.1" rx="1.0" fill="#fff" stroke="#3550a6" stroke-width="1.2"/>
<rect x="783.6" y="1002.4" width="3.1" height="3.1" rx="1.0" fill="#fff" stroke="#3550a6" stroke-width="1.2"/>
<path d="M448.5,963.4V982.4M447.4,963.4h2.2M447.4,982.4h2.2M451.0,966.7V982.6M449.9,966.7h2.2M449.9,982.6h2.2M453.4,953.3V982.2M452.3,953.3h2.2M452.3,982.2h2.2M455.9,980.6V995.1M454.8,980.6h2.2M454.8,995.1h2.2M458.3,980.9V994.5M457.2,980.9h2.2M457.2,994.5h2.2M460.8,982.1V991.9M459.7,982.1h2.2M459.7,991.9h2.2M463.2,985.0V998.4M462.1,985.0h2.2M462.1,998.4h2.2M465.7,980.2V992.3M464.6,980.2h2.2M464.6,992.3h2.2M468.2,972.2V996.7M467.1,972.2h2.2M467.1,996.7h2.2M470.6,969.5V989.5M469.5,969.5h2.2M469.5,989.5h2.2M473.1,986.9V994.5M472.0,986.9h2.2M472.0,994.5h2.2M475.5,991.0V998.0M474.4,991.0h2.2M474.4,998.0h2.2M478.0,981.8V992.1M476.9,981.8h2.2M476.9,992.1h2.2M480.4,982.1V997.7M479.3,982.1h2.2M479.3,997.7h2.2M482.9,982.4V996.2M481.8,982.4h2.2M481.8,996.2h2.2M485.4,990.9V998.3M484.3,990.9h2.2M484.3,998.3h2.2M487.8,981.2V991.1M486.7,981.2h2.2M486.7,991.1h2.2M490.3,963.5V983.5M489.2,963.5h2.2M489.2,983.5h2.2M492.7,968.4V989.6M491.6,968.4h2.2M491.6,989.6h2.2M495.2,956.8V988.0M494.1,956.8h2.2M494.1,988.0h2.2M497.6,956.3V982.0M496.5,956.3h2.2M496.5,982.0h2.2M500.1,949.1V987.8M499.0,949.1h2.2M499.0,987.8h2.2M502.6,937.4V981.4M501.5,937.4h2.2M501.5,981.4h2.2M505.0,927.4V986.6M503.9,927.4h2.2M503.9,986.6h2.2M507.5,957.8V982.5M506.4,957.8h2.2M506.4,982.5h2.2M509.9,973.6V987.5M508.8,973.6h2.2M508.8,987.5h2.2M512.4,934.7V985.3M511.3,934.7h2.2M511.3,985.3h2.2M514.8,955.8V985.8M513.7,955.8h2.2M513.7,985.8h2.2M517.3,951.2V987.8M516.2,951.2h2.2M516.2,987.8h2.2M519.8,965.7V990.7M518.7,965.7h2.2M518.7,990.7h2.2M522.2,970.3V988.7M521.1,970.3h2.2M521.1,988.7h2.2M524.7,964.2V990.5M523.6,964.2h2.2M523.6,990.5h2.2M527.1,963.7V988.2M526.0,963.7h2.2M526.0,988.2h2.2M529.6,963.2V995.0M528.5,963.2h2.2M528.5,995.0h2.2M532.0,968.8V992.8M530.9,968.8h2.2M530.9,992.8h2.2M534.5,972.2V994.2M533.4,972.2h2.2M533.4,994.2h2.2M537.0,984.4V999.1M535.9,984.4h2.2M535.9,999.1h2.2M539.4,990.1V997.6M538.3,990.1h2.2M538.3,997.6h2.2M541.9,980.9V996.4M540.8,980.9h2.2M540.8,996.4h2.2M544.3,975.7V992.8M543.2,975.7h2.2M543.2,992.8h2.2M546.8,980.6V991.4M545.7,980.6h2.2M545.7,991.4h2.2M549.2,974.0V995.4M548.1,974.0h2.2M548.1,995.4h2.2M551.7,979.1V992.0M550.6,979.1h2.2M550.6,992.0h2.2M554.2,979.8V997.6M553.1,979.8h2.2M553.1,997.6h2.2M556.6,961.1V987.0M555.5,961.1h2.2M555.5,987.0h2.2M559.1,985.0V998.7M558.0,985.0h2.2M558.0,998.7h2.2M561.5,999.1V1002.1M560.4,999.1h2.2M560.4,1002.1h2.2M564.0,966.6V988.6M562.9,966.6h2.2M562.9,988.6h2.2M566.4,962.4V994.0M565.3,962.4h2.2M565.3,994.0h2.2M568.9,996.6V1000.4M567.8,996.6h2.2M567.8,1000.4h2.2M571.4,953.6V979.1M570.2,953.6h2.2M570.2,979.1h2.2M573.8,952.1V984.4M572.7,952.1h2.2M572.7,984.4h2.2M576.3,974.6V990.0M575.2,974.6h2.2M575.2,990.0h2.2M578.7,942.3V978.9M577.6,942.3h2.2M577.6,978.9h2.2M581.2,961.0V989.0M580.1,961.0h2.2M580.1,989.0h2.2M583.6,994.9V1000.5M582.5,994.9h2.2M582.5,1000.5h2.2M586.1,970.4V992.8M585.0,970.4h2.2M585.0,992.8h2.2M588.5,983.8V992.6M587.4,983.8h2.2M587.4,992.6h2.2M591.0,994.1V1000.4M589.9,994.1h2.2M589.9,1000.4h2.2M593.5,993.4V1000.3M592.4,993.4h2.2M592.4,1000.3h2.2M595.9,968.8V989.3M594.8,968.8h2.2M594.8,989.3h2.2M598.4,950.3V986.9M597.3,950.3h2.2M597.3,986.9h2.2M600.8,957.5V977.1M599.7,957.5h2.2M599.7,977.1h2.2M603.3,962.9V982.3M602.2,962.9h2.2M602.2,982.3h2.2M605.7,970.3V984.4M604.6,970.3h2.2M604.6,984.4h2.2M608.2,952.1V976.2M607.1,952.1h2.2M607.1,976.2h2.2M610.7,953.4V982.2M609.6,953.4h2.2M609.6,982.2h2.2M613.1,940.1V989.2M612.0,940.1h2.2M612.0,989.2h2.2M615.6,981.4V992.2M614.5,981.4h2.2M614.5,992.2h2.2M618.0,960.6V985.0M616.9,960.6h2.2M616.9,985.0h2.2M620.5,968.8V984.8M619.4,968.8h2.2M619.4,984.8h2.2M622.9,989.9V1000.0M621.8,989.9h2.2M621.8,1000.0h2.2M625.4,969.6V990.8M624.3,969.6h2.2M624.3,990.8h2.2M627.9,954.6V976.3M626.8,954.6h2.2M626.8,976.3h2.2M630.3,964.7V985.3M629.2,964.7h2.2M629.2,985.3h2.2M632.8,989.7V996.8M631.7,989.7h2.2M631.7,996.8h2.2M635.2,934.9V989.9M634.1,934.9h2.2M634.1,989.9h2.2M637.7,974.3V988.3M636.6,974.3h2.2M636.6,988.3h2.2M640.1,975.9V987.4M639.0,975.9h2.2M639.0,987.4h2.2M642.6,966.2V995.9M641.5,966.2h2.2M641.5,995.9h2.2M645.1,988.8V998.8M644.0,988.8h2.2M644.0,998.8h2.2M647.5,957.7V984.1M646.4,957.7h2.2M646.4,984.1h2.2M650.0,946.2V988.5M648.9,946.2h2.2M648.9,988.5h2.2M652.4,968.4V994.1M651.3,968.4h2.2M651.3,994.1h2.2M654.9,963.3V983.8M653.8,963.3h2.2M653.8,983.8h2.2M657.3,984.6V999.1M656.2,984.6h2.2M656.2,999.1h2.2M659.8,987.8V999.0M658.7,987.8h2.2M658.7,999.0h2.2M662.3,986.0V998.2M661.2,986.0h2.2M661.2,998.2h2.2M664.7,953.6V985.6M663.6,953.6h2.2M663.6,985.6h2.2M667.2,967.0V982.0M666.1,967.0h2.2M666.1,982.0h2.2M669.6,947.0V977.2M668.5,947.0h2.2M668.5,977.2h2.2M672.1,952.9V988.8M671.0,952.9h2.2M671.0,988.8h2.2M674.5,994.7V1000.0M673.4,994.7h2.2M673.4,1000.0h2.2M677.0,992.7V1000.5M675.9,992.7h2.2M675.9,1000.5h2.2M679.5,994.7V999.9M678.4,994.7h2.2M678.4,999.9h2.2M681.9,957.7V981.1M680.8,957.7h2.2M680.8,981.1h2.2M684.4,956.9V980.1M683.3,956.9h2.2M683.3,980.1h2.2M686.8,973.0V996.4M685.7,973.0h2.2M685.7,996.4h2.2M689.3,922.0V973.0M688.2,922.0h2.2M688.2,973.0h2.2M691.7,975.6V996.0M690.6,975.6h2.2M690.6,996.0h2.2M694.2,943.2V985.3M693.1,943.2h2.2M693.1,985.3h2.2M696.7,991.4V999.8M695.6,991.4h2.2M695.6,999.8h2.2M699.1,983.2V995.8M698.0,983.2h2.2M698.0,995.8h2.2M701.6,946.6V989.0M700.5,946.6h2.2M700.5,989.0h2.2M704.0,955.9V991.4M702.9,955.9h2.2M702.9,991.4h2.2M706.5,995.6V1000.3M705.4,995.6h2.2M705.4,1000.3h2.2M708.9,958.4V994.1M707.8,958.4h2.2M707.8,994.1h2.2M711.4,983.6V993.5M710.3,983.6h2.2M710.3,993.5h2.2M713.9,954.3V977.4M712.8,954.3h2.2M712.8,977.4h2.2M716.3,925.6V984.4M715.2,925.6h2.2M715.2,984.4h2.2M718.8,944.0V989.1M717.7,944.0h2.2M717.7,989.1h2.2M721.2,995.8V1000.7M720.1,995.8h2.2M720.1,1000.7h2.2M723.7,960.2V988.4M722.6,960.2h2.2M722.6,988.4h2.2M726.1,956.8V975.2M725.0,956.8h2.2M725.0,975.2h2.2M728.6,995.3V1000.5M727.5,995.3h2.2M727.5,1000.5h2.2M731.1,966.6V995.5M730.0,966.6h2.2M730.0,995.5h2.2M733.5,961.3V993.7M732.4,961.3h2.2M732.4,993.7h2.2M736.0,988.4V996.4M734.9,988.4h2.2M734.9,996.4h2.2M738.4,958.3V982.8M737.3,958.3h2.2M737.3,982.8h2.2M740.9,953.4V986.9M739.8,953.4h2.2M739.8,986.9h2.2M743.3,956.9V984.8M742.2,956.9h2.2M742.2,984.8h2.2M745.8,941.7V990.3M744.7,941.7h2.2M744.7,990.3h2.2M748.3,961.5V987.4M747.2,961.5h2.2M747.2,987.4h2.2M750.7,970.4V995.9M749.6,970.4h2.2M749.6,995.9h2.2M753.2,960.0V994.0M752.1,960.0h2.2M752.1,994.0h2.2M755.6,968.9V991.2M754.5,968.9h2.2M754.5,991.2h2.2M758.1,975.0V986.8M757.0,975.0h2.2M757.0,986.8h2.2M760.5,969.4V986.2M759.4,969.4h2.2M759.4,986.2h2.2M763.0,936.7V986.8M761.9,936.7h2.2M761.9,986.8h2.2M765.5,952.9V984.4M764.4,952.9h2.2M764.4,984.4h2.2M767.9,983.8V996.5M766.8,983.8h2.2M766.8,996.5h2.2M770.4,962.3V988.7M769.3,962.3h2.2M769.3,988.7h2.2M772.8,852.2V942.2M771.7,852.2h2.2M771.7,942.2h2.2M775.3,950.7V985.5M774.2,950.7h2.2M774.2,985.5h2.2M777.7,963.2V984.8M776.6,963.2h2.2M776.6,984.8h2.2M780.2,990.2V998.5M779.1,990.2h2.2M779.1,998.5h2.2M782.7,977.6V996.2M781.6,977.6h2.2M781.6,996.2h2.2M785.1,999.2V1002.2M784.0,999.2h2.2M784.0,1002.2h2.2" stroke="#ec2129" stroke-width="1.0" fill="none"/>
<path d="M448.5,972.9 L451.0,974.7 L453.4,967.7 L455.9,987.8 L458.3,987.7 L460.8,987.0 L463.2,991.7 L465.7,986.2 L468.2,984.4 L470.6,979.5 L473.1,990.7 L475.5,994.5 L478.0,986.9 L480.4,989.9 L482.9,989.3 L485.4,994.6 L487.8,986.1 L490.3,973.5 L492.7,979.0 L495.2,972.4 L497.6,969.2 L500.1,968.4 L502.6,959.4 L505.0,957.0 L507.5,970.2 L509.9,980.5 L512.4,960.0 L514.8,970.8 L517.3,969.5 L519.8,978.2 L522.2,979.5 L524.7,977.3 L527.1,976.0 L529.6,979.1 L532.0,980.8 L534.5,983.2 L537.0,991.8 L539.4,993.9 L541.9,988.6 L544.3,984.3 L546.8,986.0 L549.2,984.7 L551.7,985.6 L554.2,988.7 L556.6,974.1 L559.1,991.9 L561.5,1000.6 L564.0,977.6 L566.4,978.2 L568.9,998.5 L571.4,966.3 L573.8,968.3 L576.3,982.3 L578.7,960.6 L581.2,975.0 L583.6,997.7 L586.1,981.6 L588.5,988.2 L591.0,997.3 L593.5,996.8 L595.9,979.0 L598.4,968.6 L600.8,967.3 L603.3,972.6 L605.7,977.3 L608.2,964.2 L610.7,967.8 L613.1,964.7 L615.6,986.8 L618.0,972.8 L620.5,976.8 L622.9,995.0 L625.4,980.2 L627.9,965.5 L630.3,975.0 L632.8,993.2 L635.2,962.4 L637.7,981.3 L640.1,981.6 L642.6,981.1 L645.1,993.8 L647.5,970.9 L650.0,967.3 L652.4,981.2 L654.9,973.5 L657.3,991.8 L659.8,993.4 L662.3,992.1 L664.7,969.6 L667.2,974.5 L669.6,962.1 L672.1,970.8 L674.5,997.3 L677.0,996.6 L679.5,997.3 L681.9,969.4 L684.4,968.5 L686.8,984.7 L689.3,947.5 L691.7,985.8 L694.2,964.2 L696.7,995.6 L699.1,989.5 L701.6,967.8 L704.0,973.6 L706.5,997.9 L708.9,976.3 L711.4,988.5 L713.9,965.8 L716.3,955.0 L718.8,966.6 L721.2,998.3 L723.7,974.3 L726.1,966.0 L728.6,997.9 L731.1,981.0 L733.5,977.5 L736.0,992.4 L738.4,970.6 L740.9,970.1 L743.3,970.9 L745.8,966.0 L748.3,974.4 L750.7,983.2 L753.2,977.0 L755.6,980.1 L758.1,980.9 L760.5,977.8 L763.0,961.7 L765.5,968.6 L767.9,990.1 L770.4,975.5 L772.8,897.2 L775.3,968.1 L777.7,974.0 L780.2,994.4 L782.7,986.9 L785.1,1000.7" stroke="#ec2129" stroke-width="1.5" fill="none" stroke-linejoin="round"/>
<rect x="446.9" y="971.3" width="3.1" height="3.1" rx="1.0" fill="#fff" stroke="#ec2129" stroke-width="1.2"/>
<rect x="449.4" y="973.1" width="3.1" height="3.1" rx="1.0" fill="#fff" stroke="#ec2129" stroke-width="1.2"/>
<rect x="451.9" y="966.2" width="3.1" height="3.1" rx="1.0" fill="#fff" stroke="#ec2129" stroke-width="1.2"/>
<rect x="454.3" y="986.3" width="3.1" height="3.1" rx="1.0" fill="#fff" stroke="#ec2129" stroke-width="1.2"/>
<rect x="456.8" y="986.2" width="3.1" height="3.1" rx="1.0" fill="#fff" stroke="#ec2129" stroke-width="1.2"/>
<rect x="459.2" y="985.4" width="3.1" height="3.1" rx="1.0" fill="#fff" stroke="#ec2129" stroke-width="1.2"/>
<rect x="461.7" y="990.2" width="3.1" height="3.1" rx="1.0" fill="#fff" stroke="#ec2129" stroke-width="1.2"/>
<rect x="464.1" y="984.7" width="3.1" height="3.1" rx="1.0" fill="#fff" stroke="#ec2129" stroke-width="1.2"/>
<rect x="466.6" y="982.9" width="3.1" height="3.1" rx="1.0" fill="#fff" stroke="#ec2129" stroke-width="1.2"/>
<rect x="469.1" y="978.0" width="3.1" height="3.1" rx="1.0" fill="#fff" stroke="#ec2129" stroke-width="1.2"/>
<rect x="471.5" y="989.1" width="3.1" height="3.1" rx="1.0" fill="#fff" stroke="#ec2129" stroke-width="1.2"/>
<rect x="474.0" y="993.0" width="3.1" height="3.1" rx="1.0" fill="#fff" stroke="#ec2129" stroke-width="1.2"/>
<rect x="476.4" y="985.4" width="3.1" height="3.1" rx="1.0" fill="#fff" stroke="#ec2129" stroke-width="1.2"/>
<rect x="478.9" y="988.3" width="3.1" height="3.1" rx="1.0" fill="#fff" stroke="#ec2129" stroke-width="1.2"/>
<rect x="481.3" y="987.8" width="3.1" height="3.1" rx="1.0" fill="#fff" stroke="#ec2129" stroke-width="1.2"/>
<rect x="483.8" y="993.1" width="3.1" height="3.1" rx="1.0" fill="#fff" stroke="#ec2129" stroke-width="1.2"/>
<rect x="486.3" y="984.6" width="3.1" height="3.1" rx="1.0" fill="#fff" stroke="#ec2129" stroke-width="1.2"/>
<rect x="488.7" y="972.0" width="3.1" height="3.1" rx="1.0" fill="#fff" stroke="#ec2129" stroke-width="1.2"/>
<rect x="491.2" y="977.4" width="3.1" height="3.1" rx="1.0" fill="#fff" stroke="#ec2129" stroke-width="1.2"/>
<rect x="493.6" y="970.9" width="3.1" height="3.1" rx="1.0" fill="#fff" stroke="#ec2129" stroke-width="1.2"/>
<rect x="496.1" y="967.6" width="3.1" height="3.1" rx="1.0" fill="#fff" stroke="#ec2129" stroke-width="1.2"/>
<rect x="498.5" y="966.9" width="3.1" height="3.1" rx="1.0" fill="#fff" stroke="#ec2129" stroke-width="1.2"/>
<rect x="501.0" y="957.8" width="3.1" height="3.1" rx="1.0" fill="#fff" stroke="#ec2129" stroke-width="1.2"/>
<rect x="503.5" y="955.5" width="3.1" height="3.1" rx="1.0" fill="#fff" stroke="#ec2129" stroke-width="1.2"/>
<rect x="505.9" y="968.6" width="3.1" height="3.1" rx="1.0" fill="#fff" stroke="#ec2129" stroke-width="1.2"/>
<rect x="508.4" y="979.0" width="3.1" height="3.1" rx="1.0" fill="#fff" stroke="#ec2129" stroke-width="1.2"/>
<rect x="510.8" y="958.5" width="3.1" height="3.1" rx="1.0" fill="#fff" stroke="#ec2129" stroke-width="1.2"/>
<rect x="513.3" y="969.3" width="3.1" height="3.1" rx="1.0" fill="#fff" stroke="#ec2129" stroke-width="1.2"/>
<rect x="515.7" y="967.9" width="3.1" height="3.1" rx="1.0" fill="#fff" stroke="#ec2129" stroke-width="1.2"/>
<rect x="518.2" y="976.6" width="3.1" height="3.1" rx="1.0" fill="#fff" stroke="#ec2129" stroke-width="1.2"/>
<rect x="520.7" y="978.0" width="3.1" height="3.1" rx="1.0" fill="#fff" stroke="#ec2129" stroke-width="1.2"/>
<rect x="523.1" y="975.8" width="3.1" height="3.1" rx="1.0" fill="#fff" stroke="#ec2129" stroke-width="1.2"/>
<rect x="525.6" y="974.4" width="3.1" height="3.1" rx="1.0" fill="#fff" stroke="#ec2129" stroke-width="1.2"/>
<rect x="528.0" y="977.5" width="3.1" height="3.1" rx="1.0" fill="#fff" stroke="#ec2129" stroke-width="1.2"/>
<rect x="530.5" y="979.3" width="3.1" height="3.1" rx="1.0" fill="#fff" stroke="#ec2129" stroke-width="1.2"/>
<rect x="532.9" y="981.7" width="3.1" height="3.1" rx="1.0" fill="#fff" stroke="#ec2129" stroke-width="1.2"/>
<rect x="535.4" y="990.2" width="3.1" height="3.1" rx="1.0" fill="#fff" stroke="#ec2129" stroke-width="1.2"/>
<rect x="537.9" y="992.3" width="3.1" height="3.1" rx="1.0" fill="#fff" stroke="#ec2129" stroke-width="1.2"/>
<rect x="540.3" y="987.1" width="3.1" height="3.1" rx="1.0" fill="#fff" stroke="#ec2129" stroke-width="1.2"/>
<rect x="542.8" y="982.7" width="3.1" height="3.1" rx="1.0" fill="#fff" stroke="#ec2129" stroke-width="1.2"/>
<rect x="545.2" y="984.5" width="3.1" height="3.1" rx="1.0" fill="#fff" stroke="#ec2129" stroke-width="1.2"/>
<rect x="547.7" y="983.2" width="3.1" height="3.1" rx="1.0" fill="#fff" stroke="#ec2129" stroke-width="1.2"/>
<rect x="550.1" y="984.0" width="3.1" height="3.1" rx="1.0" fill="#fff" stroke="#ec2129" stroke-width="1.2"/>
<rect x="552.6" y="987.1" width="3.1" height="3.1" rx="1.0" fill="#fff" stroke="#ec2129" stroke-width="1.2"/>
<rect x="555.1" y="972.5" width="3.1" height="3.1" rx="1.0" fill="#fff" stroke="#ec2129" stroke-width="1.2"/>
<rect x="557.5" y="990.3" width="3.1" height="3.1" rx="1.0" fill="#fff" stroke="#ec2129" stroke-width="1.2"/>
<rect x="560.0" y="999.1" width="3.1" height="3.1" rx="1.0" fill="#fff" stroke="#ec2129" stroke-width="1.2"/>
<rect x="562.4" y="976.1" width="3.1" height="3.1" rx="1.0" fill="#fff" stroke="#ec2129" stroke-width="1.2"/>
<rect x="564.9" y="976.6" width="3.1" height="3.1" rx="1.0" fill="#fff" stroke="#ec2129" stroke-width="1.2"/>
<rect x="567.3" y="997.0" width="3.1" height="3.1" rx="1.0" fill="#fff" stroke="#ec2129" stroke-width="1.2"/>
<rect x="569.8" y="964.8" width="3.1" height="3.1" rx="1.0" fill="#fff" stroke="#ec2129" stroke-width="1.2"/>
<rect x="572.3" y="966.7" width="3.1" height="3.1" rx="1.0" fill="#fff" stroke="#ec2129" stroke-width="1.2"/>
<rect x="574.7" y="980.8" width="3.1" height="3.1" rx="1.0" fill="#fff" stroke="#ec2129" stroke-width="1.2"/>
<rect x="577.2" y="959.0" width="3.1" height="3.1" rx="1.0" fill="#fff" stroke="#ec2129" stroke-width="1.2"/>
<rect x="579.6" y="973.4" width="3.1" height="3.1" rx="1.0" fill="#fff" stroke="#ec2129" stroke-width="1.2"/>
<rect x="582.1" y="996.2" width="3.1" height="3.1" rx="1.0" fill="#fff" stroke="#ec2129" stroke-width="1.2"/>
<rect x="584.5" y="980.1" width="3.1" height="3.1" rx="1.0" fill="#fff" stroke="#ec2129" stroke-width="1.2"/>
<rect x="587.0" y="986.7" width="3.1" height="3.1" rx="1.0" fill="#fff" stroke="#ec2129" stroke-width="1.2"/>
<rect x="589.5" y="995.7" width="3.1" height="3.1" rx="1.0" fill="#fff" stroke="#ec2129" stroke-width="1.2"/>
<rect x="591.9" y="995.3" width="3.1" height="3.1" rx="1.0" fill="#fff" stroke="#ec2129" stroke-width="1.2"/>
<rect x="594.4" y="977.5" width="3.1" height="3.1" rx="1.0" fill="#fff" stroke="#ec2129" stroke-width="1.2"/>
<rect x="596.8" y="967.0" width="3.1" height="3.1" rx="1.0" fill="#fff" stroke="#ec2129" stroke-width="1.2"/>
<rect x="599.3" y="965.7" width="3.1" height="3.1" rx="1.0" fill="#fff" stroke="#ec2129" stroke-width="1.2"/>
<rect x="601.7" y="971.1" width="3.1" height="3.1" rx="1.0" fill="#fff" stroke="#ec2129" stroke-width="1.2"/>
<rect x="604.2" y="975.8" width="3.1" height="3.1" rx="1.0" fill="#fff" stroke="#ec2129" stroke-width="1.2"/>
<rect x="606.7" y="962.6" width="3.1" height="3.1" rx="1.0" fill="#fff" stroke="#ec2129" stroke-width="1.2"/>
<rect x="609.1" y="966.2" width="3.1" height="3.1" rx="1.0" fill="#fff" stroke="#ec2129" stroke-width="1.2"/>
<rect x="611.6" y="963.1" width="3.1" height="3.1" rx="1.0" fill="#fff" stroke="#ec2129" stroke-width="1.2"/>
<rect x="614.0" y="985.2" width="3.1" height="3.1" rx="1.0" fill="#fff" stroke="#ec2129" stroke-width="1.2"/>
<rect x="616.5" y="971.2" width="3.1" height="3.1" rx="1.0" fill="#fff" stroke="#ec2129" stroke-width="1.2"/>
<rect x="618.9" y="975.2" width="3.1" height="3.1" rx="1.0" fill="#fff" stroke="#ec2129" stroke-width="1.2"/>
<rect x="621.4" y="993.4" width="3.1" height="3.1" rx="1.0" fill="#fff" stroke="#ec2129" stroke-width="1.2"/>
<rect x="623.9" y="978.6" width="3.1" height="3.1" rx="1.0" fill="#fff" stroke="#ec2129" stroke-width="1.2"/>
<rect x="626.3" y="963.9" width="3.1" height="3.1" rx="1.0" fill="#fff" stroke="#ec2129" stroke-width="1.2"/>
<rect x="628.8" y="973.4" width="3.1" height="3.1" rx="1.0" fill="#fff" stroke="#ec2129" stroke-width="1.2"/>
<rect x="631.2" y="991.7" width="3.1" height="3.1" rx="1.0" fill="#fff" stroke="#ec2129" stroke-width="1.2"/>
<rect x="633.7" y="960.8" width="3.1" height="3.1" rx="1.0" fill="#fff" stroke="#ec2129" stroke-width="1.2"/>
<rect x="636.1" y="979.8" width="3.1" height="3.1" rx="1.0" fill="#fff" stroke="#ec2129" stroke-width="1.2"/>
<rect x="638.6" y="980.1" width="3.1" height="3.1" rx="1.0" fill="#fff" stroke="#ec2129" stroke-width="1.2"/>
<rect x="641.1" y="979.5" width="3.1" height="3.1" rx="1.0" fill="#fff" stroke="#ec2129" stroke-width="1.2"/>
<rect x="643.5" y="992.3" width="3.1" height="3.1" rx="1.0" fill="#fff" stroke="#ec2129" stroke-width="1.2"/>
<rect x="646.0" y="969.4" width="3.1" height="3.1" rx="1.0" fill="#fff" stroke="#ec2129" stroke-width="1.2"/>
<rect x="648.4" y="965.8" width="3.1" height="3.1" rx="1.0" fill="#fff" stroke="#ec2129" stroke-width="1.2"/>
<rect x="650.9" y="979.7" width="3.1" height="3.1" rx="1.0" fill="#fff" stroke="#ec2129" stroke-width="1.2"/>
<rect x="653.3" y="972.0" width="3.1" height="3.1" rx="1.0" fill="#fff" stroke="#ec2129" stroke-width="1.2"/>
<rect x="655.8" y="990.3" width="3.1" height="3.1" rx="1.0" fill="#fff" stroke="#ec2129" stroke-width="1.2"/>
<rect x="658.3" y="991.8" width="3.1" height="3.1" rx="1.0" fill="#fff" stroke="#ec2129" stroke-width="1.2"/>
<rect x="660.7" y="990.5" width="3.1" height="3.1" rx="1.0" fill="#fff" stroke="#ec2129" stroke-width="1.2"/>
<rect x="663.2" y="968.1" width="3.1" height="3.1" rx="1.0" fill="#fff" stroke="#ec2129" stroke-width="1.2"/>
<rect x="665.6" y="973.0" width="3.1" height="3.1" rx="1.0" fill="#fff" stroke="#ec2129" stroke-width="1.2"/>
<rect x="668.1" y="960.5" width="3.1" height="3.1" rx="1.0" fill="#fff" stroke="#ec2129" stroke-width="1.2"/>
<rect x="670.5" y="969.3" width="3.1" height="3.1" rx="1.0" fill="#fff" stroke="#ec2129" stroke-width="1.2"/>
<rect x="673.0" y="995.8" width="3.1" height="3.1" rx="1.0" fill="#fff" stroke="#ec2129" stroke-width="1.2"/>
<rect x="675.5" y="995.1" width="3.1" height="3.1" rx="1.0" fill="#fff" stroke="#ec2129" stroke-width="1.2"/>
<rect x="677.9" y="995.7" width="3.1" height="3.1" rx="1.0" fill="#fff" stroke="#ec2129" stroke-width="1.2"/>
<rect x="680.4" y="967.8" width="3.1" height="3.1" rx="1.0" fill="#fff" stroke="#ec2129" stroke-width="1.2"/>
<rect x="682.8" y="966.9" width="3.1" height="3.1" rx="1.0" fill="#fff" stroke="#ec2129" stroke-width="1.2"/>
<rect x="685.3" y="983.2" width="3.1" height="3.1" rx="1.0" fill="#fff" stroke="#ec2129" stroke-width="1.2"/>
<rect x="687.7" y="946.0" width="3.1" height="3.1" rx="1.0" fill="#fff" stroke="#ec2129" stroke-width="1.2"/>
<rect x="690.2" y="984.3" width="3.1" height="3.1" rx="1.0" fill="#fff" stroke="#ec2129" stroke-width="1.2"/>
<rect x="692.7" y="962.7" width="3.1" height="3.1" rx="1.0" fill="#fff" stroke="#ec2129" stroke-width="1.2"/>
<rect x="695.1" y="994.0" width="3.1" height="3.1" rx="1.0" fill="#fff" stroke="#ec2129" stroke-width="1.2"/>
<rect x="697.6" y="988.0" width="3.1" height="3.1" rx="1.0" fill="#fff" stroke="#ec2129" stroke-width="1.2"/>
<rect x="700.0" y="966.2" width="3.1" height="3.1" rx="1.0" fill="#fff" stroke="#ec2129" stroke-width="1.2"/>
<rect x="702.5" y="972.1" width="3.1" height="3.1" rx="1.0" fill="#fff" stroke="#ec2129" stroke-width="1.2"/>
<rect x="704.9" y="996.4" width="3.1" height="3.1" rx="1.0" fill="#fff" stroke="#ec2129" stroke-width="1.2"/>
<rect x="707.4" y="974.7" width="3.1" height="3.1" rx="1.0" fill="#fff" stroke="#ec2129" stroke-width="1.2"/>
<rect x="709.8" y="987.0" width="3.1" height="3.1" rx="1.0" fill="#fff" stroke="#ec2129" stroke-width="1.2"/>
<rect x="712.3" y="964.3" width="3.1" height="3.1" rx="1.0" fill="#fff" stroke="#ec2129" stroke-width="1.2"/>
<rect x="714.8" y="953.5" width="3.1" height="3.1" rx="1.0" fill="#fff" stroke="#ec2129" stroke-width="1.2"/>
<rect x="717.2" y="965.0" width="3.1" height="3.1" rx="1.0" fill="#fff" stroke="#ec2129" stroke-width="1.2"/>
<rect x="719.7" y="996.7" width="3.1" height="3.1" rx="1.0" fill="#fff" stroke="#ec2129" stroke-width="1.2"/>
<rect x="722.1" y="972.8" width="3.1" height="3.1" rx="1.0" fill="#fff" stroke="#ec2129" stroke-width="1.2"/>
<rect x="724.6" y="964.4" width="3.1" height="3.1" rx="1.0" fill="#fff" stroke="#ec2129" stroke-width="1.2"/>
<rect x="727.0" y="996.3" width="3.1" height="3.1" rx="1.0" fill="#fff" stroke="#ec2129" stroke-width="1.2"/>
<rect x="729.5" y="979.5" width="3.1" height="3.1" rx="1.0" fill="#fff" stroke="#ec2129" stroke-width="1.2"/>
<rect x="732.0" y="975.9" width="3.1" height="3.1" rx="1.0" fill="#fff" stroke="#ec2129" stroke-width="1.2"/>
<rect x="734.4" y="990.8" width="3.1" height="3.1" rx="1.0" fill="#fff" stroke="#ec2129" stroke-width="1.2"/>
<rect x="736.9" y="969.0" width="3.1" height="3.1" rx="1.0" fill="#fff" stroke="#ec2129" stroke-width="1.2"/>
<rect x="739.3" y="968.6" width="3.1" height="3.1" rx="1.0" fill="#fff" stroke="#ec2129" stroke-width="1.2"/>
<rect x="741.8" y="969.3" width="3.1" height="3.1" rx="1.0" fill="#fff" stroke="#ec2129" stroke-width="1.2"/>
<rect x="744.2" y="964.4" width="3.1" height="3.1" rx="1.0" fill="#fff" stroke="#ec2129" stroke-width="1.2"/>
<rect x="746.7" y="972.9" width="3.1" height="3.1" rx="1.0" fill="#fff" stroke="#ec2129" stroke-width="1.2"/>
<rect x="749.2" y="981.6" width="3.1" height="3.1" rx="1.0" fill="#fff" stroke="#ec2129" stroke-width="1.2"/>
<rect x="751.6" y="975.4" width="3.1" height="3.1" rx="1.0" fill="#fff" stroke="#ec2129" stroke-width="1.2"/>
<rect x="754.1" y="978.5" width="3.1" height="3.1" rx="1.0" fill="#fff" stroke="#ec2129" stroke-width="1.2"/>
<rect x="756.5" y="979.3" width="3.1" height="3.1" rx="1.0" fill="#fff" stroke="#ec2129" stroke-width="1.2"/>
<rect x="759.0" y="976.3" width="3.1" height="3.1" rx="1.0" fill="#fff" stroke="#ec2129" stroke-width="1.2"/>
<rect x="761.4" y="960.2" width="3.1" height="3.1" rx="1.0" fill="#fff" stroke="#ec2129" stroke-width="1.2"/>
<rect x="763.9" y="967.1" width="3.1" height="3.1" rx="1.0" fill="#fff" stroke="#ec2129" stroke-width="1.2"/>
<rect x="766.4" y="988.6" width="3.1" height="3.1" rx="1.0" fill="#fff" stroke="#ec2129" stroke-width="1.2"/>
<rect x="768.8" y="973.9" width="3.1" height="3.1" rx="1.0" fill="#fff" stroke="#ec2129" stroke-width="1.2"/>
<rect x="771.3" y="895.7" width="3.1" height="3.1" rx="1.0" fill="#fff" stroke="#ec2129" stroke-width="1.2"/>
<rect x="773.7" y="966.5" width="3.1" height="3.1" rx="1.0" fill="#fff" stroke="#ec2129" stroke-width="1.2"/>
<rect x="776.2" y="972.4" width="3.1" height="3.1" rx="1.0" fill="#fff" stroke="#ec2129" stroke-width="1.2"/>
<rect x="778.6" y="992.8" width="3.1" height="3.1" rx="1.0" fill="#fff" stroke="#ec2129" stroke-width="1.2"/>
<rect x="781.1" y="985.3" width="3.1" height="3.1" rx="1.0" fill="#fff" stroke="#ec2129" stroke-width="1.2"/>
<rect x="783.6" y="999.1" width="3.1" height="3.1" rx="1.0" fill="#fff" stroke="#ec2129" stroke-width="1.2"/>
<line x1="489.2" y1="918.2" x2="508.6" y2="918.2" stroke="#111" stroke-width="1.5"/>
<path d="M496.40,910.10L496.40,914.30M494.58,911.15L498.22,913.25M494.58,913.25L498.22,911.15M501.40,910.10L501.40,914.30M499.58,911.15L503.22,913.25M499.58,913.25L503.22,911.15" stroke="#222" stroke-width="1.15" fill="none"/>
</svg></body></html>
